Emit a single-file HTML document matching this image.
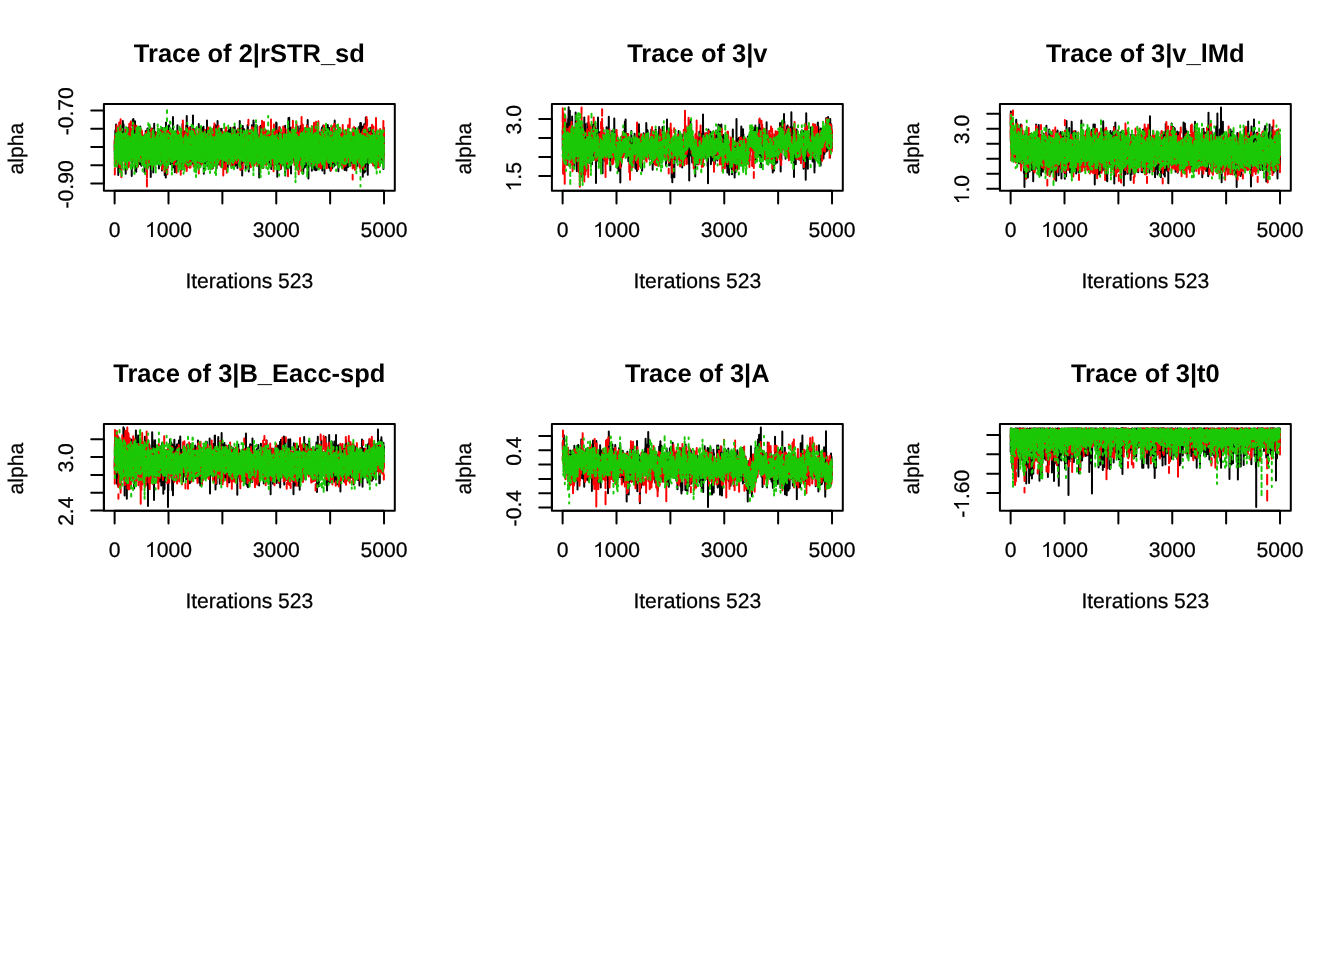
<!DOCTYPE html>
<html lang="en"><head><meta charset="utf-8"><title>Trace plots</title>
<style>
html,body{margin:0;padding:0;background:#fff;}
body{width:1344px;height:960px;overflow:hidden;font-family:"Liberation Sans",sans-serif;}
svg{display:block;font-family:"Liberation Sans",sans-serif;will-change:transform;}
text{fill:#000;font-size:21.12px;text-anchor:middle;text-rendering:geometricPrecision;stroke:#000;stroke-width:.25px;}
.m{font-size:25.5px;font-weight:bold;stroke:none;}
.h{fill:none;stroke:none;}
.ax{stroke:#000;stroke-width:2;fill:none;stroke-linecap:round;stroke-linejoin:round;}
.tr path{fill:none;stroke-width:2;stroke-linecap:round;stroke-linejoin:round;vector-effect:non-scaling-stroke;}
.k{stroke:#000000;}
.r{stroke:#FF0000;stroke-dasharray:8 8;}
.g{stroke:#1BC805;stroke-dasharray:2 6;}
</style></head>
<body>
<svg width="1344" height="960" viewBox="0 0 1344 960">
<rect width="1344" height="960" fill="#fff"/>
<g transform="translate(0,0)">
<text class="m" x="249.35" y="62.2">Trace of 2|rSTR_sd</text>
<g class="tr" transform="translate(114.67,0)">
<path class="k" transform="scale(0.081647,0.2)" d="M0,758l1-12 1-49 1 101 1-36 1-31 1 85 1-2 1-162 1 60 1 25 1-19 1-5 1 5 1 69 1-129 1 107 1-142 1 171 1-74 1 40 1 49 1-135 1-40 1 81 1 12 1 2 1-4 1 89 1-22 1 23 1-107 1 35 1-46 1-15 1 136 1-87 1-56 1 21 1 79 1-68 1 96 1-63 1-26 1 161 1-180 1 35 1 27 1 65 1-40 1-21 1-23 1-53 1 11 1 63 1-53 1 51 1-52 1-9 1 100 1-80 1-4 1 57 1 19 1-41 1-39 1 28 1 3 1 37 1 70 1-138 1 22 1-31 1 55 1-15 1 10 1-15 1 109 1-168 1 24 1 32 1-36 1 0 1-15 1 166 1-89 1-125 1 158 1-59 1-17 1-51 1 53 1 15 1-3 1 55 1-2 1 23 1-131 1 87 1-69 1-86 1 122 1-44 1 86 1-15 1-4 1-52 1 84 1-44 1-116 1 161 1-8 1-23 1 10 1-11 1-14 1 45 1-66 1-30 1 73 1-42 1 23 1 11 1 29 1 3 1-44 1-9 1 55 1 6 1-69 1-4 1 70 1-108 1 45 1 78 1 66 1-88 1-13 1-42 1 17 1 21 1-32 1-32 1 8 1 13 1 108 1-50 1 8 1 18 1-125 1 97 1-7 1-57 1 81 1-64 1 34 1 2 1-28 1 11 1 35 1-54 1-8 1 14 1 9 1-62 1 42 1 45 1-131 1 169 1-94 1-42 1 48 1 81 1-38 1-26 1-43 1 44 1 40 1-65 1 61 1-65 1-5 1 2 1 67 1-83 1 55 1-83 1 137 1-138 1 94 1-24 1-25 1-21 1 57 1-65 1 15 1 27 1-16 1 91 1-72 1 30 1-46 1-29 1 58 1 19 1-17 1 70 1-1 1-63 1 137 1-48 1-84 1-38 1 34 1 46 1-43 1 31 1-19 1 9 1 22 1-47 1-143 1 186 1-63 1-32 1 45 1-108 1 43 1 52 1-128 1 116 1-11 1 87 1-78 1 1 1-90 1 116 1-8 1 27 1 27 1-32 1-3 1-95 1 14 1 60 1-38 1-39 1 102 1-72 1-73 1 193 1-86 1 86 1 53 1-53 1-4 1-160 1 169 1-76 1 27 1 18 1-18 1-55 1 91 1 68 1-47 1 33 1-81 1 54 1-144 1 128 1-130 1 132 1-93 1 66 1-44 1 7 1-35 1 69 1 21 1-75 1 63 1-69 1 19 1 97 1-134 1 113 1-42 1-87 1 86 1-73 1 76 1 1 1-26 1 12 1-35 1 10 1-53 1 18 1 23 1 5 1 65 1-60 1 29 1 12 1-68 1 45 1 73 1-110 1 55 1 6 1-59 1 50 1-129 1 69 1 77 1-31 1 29 1-40 1-1 1 62 1-48 1 12 1-38 1 67 1-94 1 132 1-104 1 2 1 23 1 18 1-74 1 33 1 65 1-105 1 72 1-93 1 45 1 47 1 13 1 17 1-78 1 14 1 21 1-7 1-33 1 38 1-6 1-26 1-30 1 55 1-10 1 9 1 38 1 6 1-27 1 15 1-24 1-15 1-19 1 17 1 36 1-11 1-11 1 60 1-8 1 70 1-138 1-25 1-11 1 39 1 21 1 75 1-23 1-78 1-51 1 117 1-48 1 5 1 10 1-100 1 97 1 6 1-71 1 127 1-142 1 116 1 6 1-51 1-20 1 67 1-112 1 83 1-84 1 67 1 72 1-36 1-22 1 10 1-17 1-39 1-69 1 113 1 26 1-106 1 28 1 33 1 99 1-82 1-56 1 77 1-34 1-1 1 74 1-49 1-111 1 42 1-4 1 24 1 26 1 56 1-22 1 15 1-84 1 64 1-9 1 13 1-141 1 137 1-104 1 68 1-21 1-14 1-6 1 5 1 15 1 21 1-63 1 139 1-37 1-27 1 56 1 82 1-83 1-60 1-26 1 82 1-89 1-12 1 60 1 87 1-92 1-11 1 70 1-62 1-3 1 10 1 22 1-34 1-3 1-97 1 69 1 79 1-37 1-8 1-32 1-54 1 98 1-19 1-33 1 31 1-11 1 85 1 51 1-103 1-7 1-44 1 9 1 59 1-53 1-38 1 66 1-29 1-10 1-94 1 165 1-83 1 64 1-11 1 10 1-52 1 65 1 33 1-151 1 101 1-24 1-72 1 63 1 35 1-87 1 102 1-54 1 10 1 46 1 1 1 11 1 3 1-82 1 12 1-31 1 114 1-100 1 60 1-69 1-11 1 124 1-66 1-42 1-41 1 27 1 72 1-64 1 7 1 52 1-37 1 45 1-22 1-43 1 18 1 76 1-140 1 144 1-5 1-54 1 24 1-47 1 20 1 4 1-55 1 79 1-11 1 0 1 91 1-92 1 6 1-44 1 65 1-1 1 17 1-143 1 82 1-40 1-18 1-19 1 95 1-51 1-6 1 71 1 10 1-55 1 28 1-43 1 25 1 7 1 0 1-13 1 22 1-6 1-56 1 30 1-15 1-18 1 38 1 69 1-58 1 69 1-32 1 3 1-12 1 95 1-112 1-29 1-72 1 109 1 10 1-20 1 19 1-10 1-59 1-5 1 6 1 93 1-57 1-40 1 19 1 51 1-25 1 17 1 20 1-8 1 6 1-14 1 4 1 12 1-31 1 51 1-84 1 46 1 27 1-111 1 67 1 14 1-34 1 162 1-195 1 113 1-36 1 12 1 54 1-83 1-49 1 72 1-53 1 35 1 100 1-55 1 98 1-121 1-112 1-42 1 54 1 110 1-41 1 60 1-119 1 60 1 111 1-50 1 49 1-153 1 16 1-44 1 33 1 93 1-62 1-36 1 13 1-36 1 77 1 91 1-117 1 57 1-34 1-49 1 74 1-4 1 10 1 33 1-91 1-88 1 152 1-1 1-97 1-57 1 110 1-32 1 84 1-163 1 155 1-65 1-40 1 43 1-14 1 4 1-29 1 87 1-12 1 14 1-18 1 57 1 12 1-91 1 61 1-93 1 21 1 19 1-15 1 23 1 12 1-64 1 59 1 68 1 1 1-66 1-91 1 39 1 19 1-36 1 3 1 34 1 0 1 105 1-45 1-73 1 67 1-89 1 76 1 73 1-103 1-68 1 34 1 20 1 12 1 22 1-169 1 252 1-72 1 34 1-103 1 84 1-100 1-17 1 114 1-73 1 47 1-31 1-19 1 16 1 40 1-35 1 30 1-20 1-52 1-5 1 46 1 24 1 8 1 108 1-167 1 35 1 49 1 7 1-28 1-2 1-82 1-9 1 88 1 100 1-99 1 19 1 43 1-55 1-69 1-16 1 66 1 103 1-64 1 62 1-66 1-88 1 50 1-78 1 174 1-63 1-97 1 53 1 65 1-30 1-100 1-36 1 96 1 9 1-30 1 57 1 24 1 5 1 17 1-32 1 4 1-51 1-49 1 98 1-46 1 48 1-51 1 45 1-80 1 38 1-30 1-10 1 64 1 41 1 27 1-54 1 46 1-118 1 2 1 71 1 43 1-69 1 31 1-101 1 22 1 36 1 57 1-43 1-26 1 43 1 68 1-152 1 11 1 74 1-88 1 176 1-46 1 31 1-170 1-3 1 49 1 5 1 52 1-46 1 25 1 52 1-77 1 19 1 107 1-132 1-30 1 54 1-61 1-58 1 85 1-11 1-13 1 106 1-17 1-9 1 40 1-53 1 7 1-22 1-72 1 16 1 108 1-122 1 89 1-10 1-63 1 18 1 8 1 107 1 32 1-143 1 40 1-17 1-4 1 60 1 1 1 21 1-19 1-127 1 110 1-67 1-9 1 37 1 43 1 15 1-36 1-17 1 50 1-5 1 7 1-27 1 20 1 17 1-108 1-58 1 78 1 38 1 7 1-20 1 15 1-166 1 185 1 71 1-35 1-121 1 121 1-32 1-142 1 171 1-20 1-11 1 26 1-7 1-44 1-21 1-15 1 128 1-157 1-13 1 90 1-36 1 33 1 23 1-25 1-87 1 61 1 17 1 26 1-18 1-1 1-27 1-35 1 63 1-2 1 30 1-25 1 57 1-39 1-9 1-11 1-11 1 19 1 46 1-89 1-1 1-78 1 156 1 3 1-2 1-65 1 60 1 9 1 17 1-42 1-6 1-17 1-8 1-74 1 112 1-35 1-46 1 123 1-24 1-81 1 73 1-87 1 32 1-28 1 15 1-59 1 142 1-43 1 53 1-124 1 77 1-106 1-82 1 54 1 115 1 69 1-88 1-7 1 14 1 77 1-89 1 1 1-27 1 75 1-66 1-15 1-32 1 87 1-2 1-42 1 6 1 52 1-6 1-38 1-27 1-43 1 24 1 109 1-60 1 60 1-51 1-23 1-4 1 3 1 47 1 94 1-73 1-57 1 44 1 84 1-144 1 10 1 86 1 30 1-45 1-18 1-78 1 62 1 35 1-84 1 47 1-48 1 89 1-69 1-21 1 101 1-94 1 80 1-27 1-29 1 105 1-54 1-100 1 131 1-85 1 22 1-61 1 120 1-23 1-60 1 2 1-9 1 47 1-141 1 152 1-74 1 81 1-23 1-14 1 7 1 27 1-31 1-75 1 81 1-16 1 2 1-4 1-30 1 24 1-13 1 46 1-108 1 33 1-13 1 147 1 8 1-120 1 59 1-128 1 154 1-57 1 38 1-14 1-53 1 26 1 60 1-18 1-23 1 4 1-41 1 81 1-83 1 101 1-27 1-15 1-24 1 15 1-49 1 76 1-126 1 68 1 12 1-54 1-50 1 71 1 26 1 0 1 3 1-23 1 5 1 34 1-121 1 84 1-23 1 46 1 128 1-87 1-80 1 35 1 44 1-11 1-84 1 42 1 74 1-42 1 37 1 22 1-64 1-50 1 44 1 100 1-102 1 4 1 59 1-82 1 1 1 0 1 14 1 1 1 47 1-18 1-109 1 112 1 19 1-77 1 62 1-35 1 60 1-46 1-98 1 5 1 61 1 60 1-49 1-135 1 168 1-41 1 36 1 12 1 51 1-54 1-36 1 39 1-35 1-1 1-13 1-12 1 24 1 75 1-82 1 47 1-85 1 98 1-112 1 2 1 101 1-36 1 1 1-27 1-4 1 28 1-42 1 29 1-45 1 78 1 76 1-87 1 14 1 9 1-26 1-57 1 95 1-22 1-39 1-89 1 13 1 105 1 13 1-32 1 28 1-24 1 20 1-64 1 46 1 70 1-77 1-25 1 49 1-46 1-7 1 9 1 32 1 6 1-47 1 22 1-36 1 85 1-47 1 38 1-37 1 53 1-35 1-95 1 185 1-107 1 104 1-45 1-42 1 37 1-51 1 52 1-80 1-49 1-19 1 63 1 74 1-16 1-47 1 88 1-102 1-69 1 91 1 47 1 20 1-37 1-10 1 4 1 73 1-107 1 23 1 10 1-26 1 46 1-45 1 19 1-116 1 109 1 88 1-76 1-15 1 50 1-80 1 17 1 30 1-25 1 49 1-18 1 1 1-122 1 71 1-24 1 160 1-36 1-90 1-18 1 40 1 40 1-15 1-46 1 12 1-25 1 89 1-14 1-173 1 76 1-9 1 98 1-66 1-4 1 48 1-100 1 44 1 79 1-66 1 67 1-43 1 5 1 20 1-9 1 77 1-37 1-75 1-34 1 74 1-2 1 32 1-85 1 33 1 81 1-70 1-36 1 55 1-88 1 84 1-30 1-31 1 3 1 68 1 42 1-99 1-8 1 12 1-8 1 100 1-158 1 36 1 59 1 4 1 49 1-106 1 148 1-150 1 77 1 11 1-129 1 82 1 58 1 49 1-89 1-17 1-33 1 114 1-39 1 62 1-75 1 15 1-60 1-8 1 16 1-37 1 18 1 2 1 59 1-50 1-1 1 32 1-16 1-3 1 51 1 32 1-22 1 29 1-69 1 39 1-91 1 0 1 9 1 1 1-13 1-4 1-26 1 154 1-116 1 18 1-51 1 68 1 15 1-45 1 104 1-34 1 4 1-15 1-37 1-30 1 86 1-67 1-1 1-37 1 50 1-2 1 13 1-38 1 46 1 0 1-49 1 51 1 27 1-38 1 77 1-95 1-60 1 46 1 60 1-34 1 20 1 1 1 8 1-23 1 102 1-131 1-15 1-32 1 80 1 29 1-101 1 102 1 2 1 28 1 0 1-54 1 72 1-129 1-39 1 160 1 3 1-113 1-21 1 109 1-64 1-20 1 43 1-30 1 0 1 7 1 85 1-144 1 143 1-45 1-82 1 9 1-12 1-38 1 54 1 68 1-16 1-49 1 23 1 17 1-12 1-35 1 39 1-5 1 51 1-117 1 98 1 73 1-28 1-45 1-23 1 30 1-79 1 145 1-108 1 111 1-88 1-43 1 80 1-66 1-26 1 41 1-43 1 111 1 17 1-48 1-60 1-14 1 55 1 0 1-38 1 61 1-133 1 126 1-18 1-28 1 62 1-13 1-50 1-51 1 102 1 46 1-64 1 57 1-1 1 27 1-197 1 137 1-7 1-29 1-68 1 107 1-75 1 43 1-16 1-18 1 25 1 8 1-40 1 16 1 55 1 7 1-17 1-84 1 146 1-54 1-8 1-20 1-40 1 41 1-56 1 54 1-83 1 91 1 47 1-146 1 21 1 70 1-8 1 106 1-99 1 36 1 18 1-47 1 18 1-24 1-1 1 25 1-91 1 15 1-31 1 87 1 25 1-72 1 86 1-58 1-33 1 16 1 35 1 2 1-34 1 13 1-2 1 22 1 32 1-4 1-126 1-43 1 139 1-26 1-59 1 141 1-18 1-72 1 14 1-79 1 111 1 31 1-131 1 55 1 37 1-63 1 42 1 50 1-20 1 78 1-16 1-178 1 132 1 10 1-19 1-70 1 90 1-12 1-11 1-34 1 87 1 64 1-129 1 22 1 32 1-89 1 64 1-13 1-135 1 120 1 56 1-119 1 25 1 99 1-67 1 12 1 2 1-15 1-43 1 84 1-84 1-50 1 49 1 82 1-45 1-90 1 107 1-20 1-36 1 63 1 45 1-79 1 42 1 7 1-91 1 22 1 34 1-59 1 89 1-51 1 26 1 59 1-7 1 8 1 40 1-148 1 45 1-30 1 36 1-75 1 83 1-93 1 55 1 17 1-22 1 12 1-22 1 58 1 8 1-59 1-43 1 134 1-118 1 120 1-35 1 2 1-48 1-97 1 74 1 74 1-145 1 60 1 87 1-50 1 44 1-75 1 71 1-40 1 40 1-94 1 107 1 80 1-117 1-34 1 101 1 27 1-106 1-18 1 79 1-36 1 33 1-23 1 26 1-15 1-80 1 93 1-133 1 46 1 15 1 19 1-6 1 1 1 58 1-42 1 28 1 44 1-99 1 32 1 13 1-14 1-3 1 43 1 8 1 10 1-38 1-28 1 50 1-56 1-19 1 38 1-129 1 106 1-13 1 23 1-37 1 0 1 34 1 66 1-129 1 9 1 75 1-24 1 17 1 25 1-26 1-17 1 29 1-83 1 129 1-208 1 180 1-82 1-87 1 212 1-163 1 30 1 38 1 36 1 0 1-103 1 82 1 35 1-7 1-88 1-21 1 20 1-2 1 23 1 105 1-95 1-9 1 47 1-12 1-46 1 39 1 50 1-116 1 104 1 4 1 31 1-137 1 129 1-7 1-114 1 73 1-110 1 80 1 88 1-18 1-164 1 68 1 46 1-1 1 87 1-38 1-98 1 130 1-55 1-33 1 62 1 25 1-16 1-66 1-62 1 85 1 43 1-39 1 34 1 3 1-24 1-37 1-22 1 76 1-74 1-39 1 38 1 56 1-49 1 23 1 137 1-110 1 5 1-35 1-47 1-30 1 137 1-49 1-30 1 37 1-21 1 47 1-36 1 8 1-33 1-15 1 56 1-52 1 16 1-36 1 105 1-175 1 53 1 90 1-39 1-39 1-4 1 49 1 33 1-46 1 90 1-125 1-7 1 9 1 145 1-60 1-2 1 28 1-79 1 39 1 23 1-16 1-13 1 13 1-53 1-1 1-61 1 64 1-10 1-15 1 29 1 116 1-154 1 10 1 80 1-31 1 45 1-39 1 13 1-56 1 51 1-32 1 4 1 73 1-144 1 94 1 14 1 7 1-69 1 16 1 24 1 30 1 7 1-35 1 51 1-60 1 44 1-8 1-84 1 54 1-92 1 81 1 39 1-24 1-4 1 35 1-82 1 84 1-24 1-69 1-2 1 119 1-78 1-37 1 61 1-87 1 36 1 53 1-57 1 89 1-51 1 84 1-65 1-27 1 8 1-33 1-36 1 149 1-109 1-11 1 104 1-71 1 76 1-88 1 48 1 4 1-35 1 12 1-46 1 33 1 34 1-51 1 38 1 26 1 20 1-67 1 74 1 11 1-140 1 8 1-1 1-13 1 60 1 71 1-52 1 47 1-95 1 89 1 29 1 7 1-122 1-5 1 51 1-28 1 83 1-172 1 158 1-34 1 87 1-49 1-121 1 72 1 3 1 53 1-55 1 32 1-101 1 54 1 8 1 27 1-36 1 39 1-29 1 6 1 1 1 27 1-10 1 7 1-76 1 18 1 13 1-33 1-18 1 5 1 147 1-124 1-25 1 34 1 91 1-12 1-67 1-35 1-3 1 47 1 42 1-61 1 37 1 32 1-22 1-64 1 34 1 46 1-45 1 1 1 45 1-82 1 45 1-5 1 14 1-93 1 128 1-25 1-3 1-92 1 103 1 50 1-92 1 58 1-174 1 114 1-29 1 128 1-130 1-80 1 101 1 75 1-106 1 94 1-92 1 93 1-102 1 105 1 101 1-158 1 46 1-40 1-30 1-17 1 39 1 5 1 68 1-79 1 93 1-5 1-2 1-128 1 51 1 9 1 38 1-120 1 75 1 98 1-79 1-36 1-50 1 136 1-107 1 1 1 6 1 150 1-166 1-46 1 116 1-32 1-16 1 127 1 4 1-66 1-13 1 3 1-32 1 75 1-95 1 59 1 2 1-22 1 4 1 94 1-126 1-3 1 42 1 60 1-83 1-9 1 85 1-44 1-48 1 26 1 49 1 13 1-56 1-83 1 38 1-3 1 72 1 47 1-9 1-133 1 57 1 1 1-29 1 57 1 2 1-92 1 150 1-50 1-37 1 50 1-43 1-57 1 77 1-24 1-23 1-77 1 15 1 122 1-15 1 1 1-97 1 74 1-13 1-13 1 6 1 117 1-98 1-20 1-12 1 39 1-118 1 248 1-109 1-50 1 90 1-95 1 18 1 50 1-55 1 3 1-47 1 67 1-19 1-23 1 16 1 27 1 88 1-142 1 4 1 17 1 13 1 26 1-15 1-53 1 14 1 27 1-33 1 32 1-41 1 90 1-17 1 88 1-82 1 13 1-24 1-14 1 47 1-21 1-31 1-17 1 43 1-172 1 191 1 49 1-181 1 56 1 11 1 97 1 20 1-116 1-128 1 149 1-33 1 64 1-46 1 99 1 15 1-21 1-80 1 29 1-128 1 42 1 12 1 142 1-9 1-23 1 27 1-91 1 33 1-39 1-86 1 99 1 123 1-105 1-19 1 73 1-122 1 13 1 30 1-40 1-6 1 60 1-27 1 6 1 4 1 9 1-11 1-12 1 15 1 71 1-78 1 22 1-57 1 41 1 40 1 25 1-85 1 79 1-73 1 15 1 11 1-3 1-17 1 33 1 36 1-98 1-20 1 113 1-70 1 21 1-14 1 40 1-96 1 32 1-13 1 28 1 24 1 69 1-143 1 120 1-46 1-24 1 63 1-81 1 79 1-58 1 63 1 14 1-81 1-61 1 14 1 42 1 102 1-86 1-22 1 33 1 51 1 33 1-94 1 37 1-85 1 75 1-19 1-5 1-44 1-18 1 26 1-5 1-14 1 161 1-49 1-68 1 33 1 37 1 38 1-196 1 82 1-30 1 74 1 61 1-95 1 50 1-19 1 77 1-84 1 95 1-31 1-15 1-79 1-50 1 24 1 47 1-29 1 104 1-84 1 16 1 29 1-61 1 52 1-15 1 15 1-2 1-59 1-25 1-38 1 165 1-79 1 12 1-111 1 88 1-34 1 98 1-72 1 82 1-63 1-2 1-67 1 91 1 56 1 9 1-86 1 12 1-28 1 106 1-68 1-3 1-47 1 7 1-5 1 80 1-122 1 105 1 6 1 22 1-108 1 102 1-71 1 56 1-17 1-29 1-20 1 37 1 122 1-123 1 22 1-29 1-25 1 38 1-4 1 8 1-50 1 34 1 39 1-41 1-16 1 22 1-36 1-3 1 36 1 98 1-52 1-15 1 41 1-131 1 29 1 72 1-71 1-68 1 166 1-41 1-82 1 146 1-34 1-58 1 29 1-56 1-12 1 73 1-81 1 82 1-1 1-51 1-70 1 90 1-12 1 78 1-123 1 68 1-127 1 115 1 35 1 62 1-164 1 105 1 16 1-92 1-103 1 184 1-46 1 47 1-60 1 39 1 0 1-93 1 67 1 154 1-128 1-1 1 40 1-57 1 43 1-53 1-2 1-2 1-25 1 0 1 8 1 3 1 28 1 20 1-63 1-4 1 62 1 37 1-113 1 56 1-36 1 77 1-51 1-52 1 38 1 54 1-55 1 16 1 17 1 30 1-80 1 68 1 30 1-36 1 47 1 19 1-58 1-92 1 131 1-49 1 34 1 61 1-173 1 10 1 59 1 89 1-89 1 34 1-28 1-85 1 9 1 67 1 34 1-13 1-8 1-65 1 36 1-21 1 109 1-78 1 75 1-32 1-13 1-75 1-33 1 78 1 67 1-46 1-70 1 136 1 7 1 12 1-149 1 10 1 93 1-10 1-12 1 52 1-118 1 16 1-43 1 37 1-37 1 63 1-15 1-79 1 196 1-196 1 38 1 43 1 44 1-2 1-108 1 53 1-2 1 73 1-30 1-101 1 33 1 138 1 16 1-76 1-31 1-32 1 3 1 46 1 16 1-90 1 37 1 35 1 3 1 13 1-81 1 58 1 22 1-116 1 151 1-109 1 31 1 88 1-116 1 83 1 6 1-56 1 38 1-42 1-41 1 45 1-27 1-12 1-14 1 21 1 3 1 9 1-33 1-19 1 85 1 67 1-51 1-2 1-70 1 24 1-1 1 15 1-37 1 91 1-42 1 51 1-85 1 6 1-9 1-6 1 58 1-63 1 100 1-128 1 19 1 103 1-81 1 48 1-109 1 98 1 43 1-116 1 91 1-54 1-70 1 40 1 60 1 114 1-65 1-9 1 21 1-54 1 4 1 34 1 29 1-99 1 8 1 80 1-14 1-159 1 46 1 146 1-84 1-18 1-28 1 112 1-70 1 99 1-78 1-31 1 27 1 49 1-21 1-54 1 145 1-164 1 82 1-45 1-78 1 136 1-159 1 58 1 41 1-42 1 83 1 5 1-68 1-70 1 118 1 18 1 28 1-110 1 69 1 2 1-108 1 74 1-5 1-35 1 76 1 49 1-48 1-24 1 59 1-27 1-66 1 1 1 78 1 12 1-32 1-39 1-75 1 59 1-88 1 109 1-117 1 168 1 5 1-103 1 50 1 20 1-7 1 24 1-24 1 5 1 8 1 66 1-123 1 41 1-94 1 125 1-33 1-24 1-89 1 29 1 92 1 12 1-39 1 46 1-65 1 126 1-77 1-106 1 53 1-17 1 7 1 20 1 77 1 56 1-122 1 91 1-44 1-3 1-63 1 5 1 0 1 38 1 48 1-22 1 12 1 13 1-121 1-7 1 160 1-125 1 27 1-25 1-5 1 8 1-27 1 149 1-81 1 51 1-59 1 29 1 2 1-55 1-41 1-24 1 38 1-34 1 113 1-12 1-23 1 32 1-57 1 82 1-60 1 9 1 64 1-19 1-111 1 4 1 121 1 21 1-79 1-39 1 73 1-25 1 10 1-168 1 127 1 34 1 60 1-61 1-52 1 91 1-80 1 71 1 31 1-96 1-73 1 155 1 10 1-80 1-11 1 37 1-34 1 52 1 31 1-96 1-20 1 33 1 49 1-34 1-59 1 103 1-68 1 21 1 14 1-58 1 93 1 2 1-39 1 29 1 1 1-62 1 31 1-111 1 122 1-98 1 55 1 38 1 11 1-35 1 119 1-167 1 96 1 28 1-56 1-61 1 22 1 90 1-79 1 70 1-48 1-55 1 60 1-18 1-66 1-9 1 65 1 5 1 50 1-20 1 51 1-48 1-58 1-10 1 101 1 15 1-77 1-31 1 40 1 11 1 19 1-111 1 15 1 106 1-42 1 10 1-48 1 47 1-54 1 51 1 59 1-144 1 61 1 22 1 17 1-38 1-59 1 100 1-43 1 8 1-53 1 58 1-6 1 13 1 46 1-143 1 96 1-32 1 27 1-28 1 18 1 43 1-61 1 5 1 87 1-43 1-9 1-1 1-26 1 65 1-32 1-48 1-17 1 27 1 36 1 26 1 69 1-110 1-82 1 69 1-3 1-28 1 51 1 37 1-18 1-11 1-78 1 171 1-76 1-19 1-64 1 128 1-126 1 130 1-56 1-19 1 41 1-88 1 18 1 135 1-152 1-9 1 40 1 66 1-55 1-20 1 11 1 69 1-54 1 28 1-39 1 75 1-107 1 7 1 77 1-91 1-13 1 36 1 114 1-24 1-56 1-48 1 45 1-24 1 43 1-19 1 0 1 3 1-21 1-13 1 73 1 37 1-80 1-64 1 52 1-32 1-24 1 43 1 49 1 23 1 18 1-105 1 51 1-40 1-32 1 18 1 15 1 66 1 40 1-81 1-16 1 35 1-96 1 58 1-55 1 45 1 34 1-35 1-35 1 82 1 16 1-75 1 5 1 38 1-42 1-34 1 128 1-21 1 34 1-127 1 67 1-11 1-8 1 52 1-21 1 6 1-27 1 35 1-11 1 28 1-23 1 31 1-77 1-9 1-50 1 168 1-105 1 18 1-56 1 22 1-36 1 91 1-1 1-57 1-27 1 65 1 20 1-48 1 62 1-49 1-12 1-12 1 113 1-185 1 110 1 10 1-30 1-47 1 90 1-50 1 61 1-12 1-13 1 46 1 5 1-64 1 50 1 24 1-56 1 41 1-77 1 3 1-42 1 67 1-98 1 91 1-38 1 18 1-10 1 105 1-74 1-81 1 77 1-22 1 66 1 40 1-100 1 4 1 42 1-70 1 90 1-74 1-23 1-29 1 26 1 9 1 49 1-86 1 81 1-28 1 16 1 3 1 22 1-32 1 53 1-149 1 105 1 5 1-22 1 4 1 4 1-69 1 36 1-11 1 10 1 38 1 33 1-26 1-126 1 50 1 61 1 41 1-28 1-1 1-62 1 45 1-106 1 68 1 55 1 5 1-31 1 58 1 35 1-60 1-105 1 96 1-65 1 30 1-9 1 94 1 28 1-134 1 10 1 13 1 48 1 10 1-33 1-95 1 73 1 178 1-140 1-61 1 56 1-91 1 0 1 22 1-38 1 66 1 31 1 8 1-82 1 134 1-151 1 84 1-42 1 87 1-146 1 62 1 180 1-109 1 84 1-23 1-91 1 2 1 14 1 14 1-10 1 4 1-32 1 15 1-8 1 135 1-116 1 43 1-24 1-42 1-131 1 177 1-35 1 8 1-23 1-50 1 85 1-19 1 2 1-15 1 83 1-78 1-26 1 6 1 116 1-90 1-81 1 26 1 41 1-5 1-42 1 95 1 8 1-11 1 114 1-177 1 130 1-79 1-14 1-17 1-29 1 51 1-20 1 14 1-2 1-15 1 30 1 58 1 3 1-118 1 108 1-28 1-128 1 79 1 29 1 25 1-50 1-15 1 98 1-115 1 82 1-76 1 21 1 37 1-5 1-32 1 36 1 17 1 1 1-88 1-3 1 33 1 24 1-10 1 43 1-135 1 148 1-35 1-21 1-46 1 106 1-69 1-29 1 48 1-36 1-20 1-17 1 88 1 6 1 0 1 11 1-27 1-16 1 77 1-44 1 5 1-9 1 62 1-67 1 0 1-2 1 19 1-78 1 53 1-24 1 42 1 47 1-75 1 15 1 74 1-120 1 46 1-19 1-69 1 136 1-14 1-95 1-25 1 165 1-69 1 11 1-87 1 48 1 13 1-33 1 25 1-11 1 48 1-82 1 92 1-41 1-12 1 35 1 1 1 44 1-92 1-61 1 117 1-104 1 28 1 59 1-90 1 120 1-76 1 59 1-36 1 2 1-34 1 61 1-17 1 8 1-64 1 36 1 72 1-37 1 8 1 44 1-120 1 113 1-106 1 15 1-2 1-36 1 101 1-54 1 33 1-42 1 14 1 13 1-54 1 34 1 24 1-44 1 50 1-47 1 89 1-108 1 69 1 20 1-27 1 51 1 2 1 25 1-133 1-22 1 76 1 19 1-33 1-5 1 66 1-26 1 22 1-76 1 28 1 29 1-1 1-12 1 51 1-47 1 3 1 50 1-121 1 78 1-100 1 66 1 64 1-93 1 17 1 43 1-51 1 76 1-18 1-54 1-3 1-46 1 121 1-52 1 48 1-28 1-13 1 4 1 42 1-82 1 8 1 52 1-6 1 78 1-73 1-26 1-107 1 22 1 46 1 31 1 41"/>
<path class="r" transform="scale(0.081647,0.2)" d="M0,705l1 46 1 122 1-171 1-38 1 85 1 47 1-95 1 19 1 29 1-10 1 80 1-100 1 46 1-54 1 84 1-25 1 18 1 48 1-106 1 20 1 13 1-63 1-72 1 67 1 78 1-115 1 18 1 60 1 28 1-51 1 116 1-130 1-4 1 73 1-85 1 33 1-3 1-6 1-4 1 7 1 111 1-51 1 0 1-66 1 38 1-20 1 1 1-84 1 124 1-72 1 99 1-53 1-12 1 11 1-124 1 74 1 37 1 41 1 72 1-5 1-101 1 52 1-72 1 26 1 9 1-54 1 29 1 53 1 5 1-87 1 6 1-2 1-106 1 159 1-3 1 22 1-12 1-79 1 126 1-35 1-37 1 156 1-165 1 61 1-36 1-7 1-22 1 62 1 20 1 10 1-23 1-111 1 146 1-67 1-57 1 14 1 82 1-12 1 11 1-96 1-27 1 2 1 30 1 37 1 48 1-35 1 39 1-26 1-58 1 41 1-28 1-5 1-45 1 100 1-16 1-87 1 21 1 80 1-29 1 70 1-58 1-48 1-15 1 65 1 20 1-26 1 3 1-21 1-8 1 85 1-109 1 110 1-114 1 2 1 74 1 3 1-122 1 196 1-44 1-15 1-91 1-13 1 1 1 107 1 8 1-64 1-41 1 80 1-78 1-34 1 20 1-45 1 211 1-75 1-87 1 18 1 64 1-6 1 0 1 83 1-135 1 70 1-50 1-2 1 24 1-86 1 85 1 8 1-5 1 82 1-94 1-21 1 52 1 62 1-57 1-24 1-17 1 8 1-125 1 55 1 69 1-36 1-20 1 42 1-35 1-30 1 29 1 88 1-142 1 94 1-36 1-51 1 85 1 52 1 4 1-140 1 39 1-78 1 109 1-21 1 53 1 18 1-59 1 84 1-57 1-91 1 53 1 48 1 22 1-29 1-62 1 18 1 90 1-2 1 21 1-87 1 28 1 63 1-128 1 104 1-104 1 111 1-14 1-67 1-30 1 108 1 1 1-79 1-36 1 4 1 115 1-41 1-132 1 50 1 46 1 19 1-13 1 31 1 43 1-44 1-17 1 27 1-28 1-24 1 50 1-14 1 9 1 18 1 50 1-107 1-28 1 20 1 37 1 45 1-75 1-23 1 92 1-10 1 22 1-54 1-27 1-35 1 8 1-58 1 91 1 50 1-50 1 31 1-68 1 126 1-30 1-58 1 68 1-8 1 13 1-41 1-47 1-9 1 73 1 19 1-77 1 136 1-152 1 9 1 34 1-31 1-36 1 129 1-141 1 38 1 48 1 0 1 15 1 25 1 3 1-36 1-78 1 82 1-102 1 85 1 76 1-59 1-22 1-15 1-28 1-49 1 60 1 87 1-2 1-18 1 39 1-10 1-92 1 52 1-47 1-20 1 37 1 13 1-97 1 124 1 21 1-61 1-58 1 50 1 63 1-120 1-15 1 79 1 72 1-92 1 5 1-12 1 31 1-78 1 13 1 148 1 7 1-135 1 74 1 49 1-52 1 44 1-48 1 31 1 8 1 22 1-59 1 31 1-53 1 75 1-5 1-45 1-20 1-26 1-7 1 17 1 41 1-65 1 13 1 34 1 20 1-106 1 80 1 65 1-106 1 74 1-78 1 74 1-58 1 0 1 50 1-32 1 12 1 64 1-58 1-11 1 11 1 82 1-31 1-64 1 8 1-39 1-49 1 5 1 103 1-24 1-51 1 82 1 73 1-38 1-103 1 18 1-2 1-65 1 281 1-197 1-20 1 84 1-19 1-40 1-50 1 152 1-125 1 46 1-11 1-26 1 39 1-37 1 31 1-89 1 27 1 85 1-26 1-85 1 105 1-35 1-32 1-5 1 39 1 16 1 12 1-55 1 114 1-155 1 0 1 140 1-50 1-55 1 64 1 18 1-65 1 63 1-104 1 126 1-121 1 40 1-24 1 3 1 76 1-136 1 101 1-47 1 48 1-9 1-47 1 105 1-112 1 107 1-69 1-45 1 2 1 14 1-76 1 84 1 55 1-37 1 65 1-1 1-8 1-85 1-3 1 49 1-7 1 103 1-175 1 128 1 22 1-117 1 54 1-29 1 68 1-75 1 51 1 66 1-59 1-58 1 24 1-48 1-10 1 25 1-19 1 1 1-7 1 80 1-36 1-8 1-38 1 59 1 22 1 13 1-26 1 20 1-4 1 47 1-66 1-49 1 0 1 7 1 89 1-37 1-8 1-44 1 24 1 21 1-25 1 21 1-32 1 59 1-102 1 73 1-80 1 81 1 3 1-37 1-20 1 91 1-62 1 42 1-67 1 115 1-25 1-106 1-6 1 74 1-27 1-64 1 22 1 96 1 5 1-2 1-11 1-24 1-51 1 72 1-88 1 69 1-40 1 45 1-50 1 26 1 24 1-4 1 8 1 38 1-111 1 74 1-36 1-5 1-5 1 89 1-33 1 48 1-56 1-44 1 98 1-106 1 65 1-23 1-91 1 104 1-10 1 42 1-24 1-60 1 36 1 71 1-59 1-11 1-41 1 63 1 0 1-38 1-15 1-15 1-16 1 59 1-2 1-92 1 59 1 8 1-37 1 174 1-95 1-8 1-102 1 139 1-117 1 69 1 18 1-49 1 52 1 31 1-122 1 63 1 56 1-62 1 76 1-149 1 13 1 74 1 39 1 22 1-52 1-10 1 20 1 93 1-56 1-56 1 5 1 16 1-37 1-43 1 147 1 37 1-116 1-50 1-18 1 84 1-14 1-78 1 95 1-56 1-6 1 71 1-39 1-38 1 102 1-120 1-9 1 116 1-45 1 60 1-16 1-56 1 69 1-67 1 102 1-118 1-80 1 128 1-19 1-64 1 25 1 36 1 144 1-200 1 87 1-23 1-11 1-26 1 41 1-15 1 30 1-97 1 120 1-40 1-18 1-2 1 11 1-8 1-79 1 77 1 24 1-60 1 92 1-91 1 9 1 7 1 11 1-38 1 110 1 19 1-43 1-57 1 49 1 13 1-29 1-59 1 120 1-35 1-41 1-77 1 81 1 40 1-64 1 73 1 14 1-103 1-38 1 107 1-91 1 60 1-32 1 50 1-51 1-31 1 88 1 31 1-66 1-13 1 71 1-140 1 163 1-87 1-15 1 40 1 5 1 50 1-62 1-44 1 43 1 35 1-56 1-2 1 99 1-135 1 63 1-9 1 38 1-73 1 45 1-9 1 0 1-42 1 96 1 40 1-139 1 30 1-43 1 55 1-46 1 54 1 32 1-36 1-9 1-8 1-6 1 103 1-10 1-72 1 80 1-111 1 23 1 58 1-58 1 73 1-63 1-63 1 36 1 49 1-7 1-51 1 41 1 20 1-29 1 14 1 45 1-32 1 131 1-138 1-55 1 60 1-20 1-40 1 89 1-22 1-42 1 27 1 22 1-23 1 21 1-25 1-82 1 43 1 51 1 31 1-115 1 63 1-6 1-10 1 34 1 42 1-118 1 67 1 15 1 40 1-55 1-86 1 114 1-24 1-3 1-25 1-9 1 33 1 87 1-30 1 11 1-116 1 110 1-15 1-35 1 12 1 60 1-39 1-12 1-92 1 17 1-34 1 213 1-90 1-39 1 29 1-42 1 48 1-32 1 3 1 51 1-66 1-19 1 1 1 13 1 74 1-17 1-115 1 74 1 24 1 5 1-15 1 36 1-123 1 60 1 52 1-36 1 19 1-167 1 170 1 6 1-49 1 57 1-41 1-7 1 19 1 13 1 10 1-27 1 5 1-33 1 50 1 10 1 17 1-30 1-70 1 43 1 117 1-141 1-28 1 72 1-17 1-1 1-1 1-1 1-21 1-63 1 79 1 0 1 11 1-45 1 0 1 36 1-37 1 1 1-67 1 123 1-8 1 75 1-130 1-29 1 129 1-25 1 24 1-31 1-11 1 99 1-16 1-141 1-31 1 60 1 21 1 7 1 36 1-98 1 29 1 18 1-80 1 105 1-1 1 5 1 10 1-51 1 5 1 36 1-37 1 71 1-64 1 28 1-69 1-10 1-53 1 53 1 65 1 78 1-137 1 30 1 34 1 19 1-42 1-116 1 134 1 96 1-121 1-51 1 85 1 23 1-93 1 2 1 30 1-1 1 50 1 64 1-122 1 70 1-29 1-3 1 17 1-93 1 90 1 26 1-9 1-34 1-53 1 42 1-53 1 14 1 46 1 5 1 15 1 32 1-95 1 15 1 32 1-18 1 22 1-82 1 123 1-19 1-35 1-60 1-34 1 25 1 85 1-56 1 46 1-32 1 103 1-137 1 152 1-27 1 9 1-53 1-4 1-62 1 53 1 41 1-137 1 58 1-7 1 65 1 22 1 41 1-128 1 1 1 43 1 92 1-98 1 45 1-92 1 27 1 36 1-91 1 56 1-27 1-46 1 55 1 6 1 74 1-50 1-24 1 27 1-45 1 124 1-52 1-14 1 88 1-33 1-52 1-35 1 55 1-49 1-2 1-21 1 8 1 76 1-68 1-15 1 88 1-53 1-55 1 73 1-59 1 28 1-20 1 20 1-32 1 23 1 57 1-40 1-30 1 4 1-59 1 220 1-178 1 74 1-10 1 7 1-56 1 4 1 25 1-26 1 33 1-26 1-2 1 61 1-4 1-50 1-77 1 52 1 12 1 57 1 6 1-110 1 114 1-36 1 15 1 48 1-73 1-21 1 86 1-29 1-76 1 37 1-5 1 48 1 54 1-84 1-79 1 28 1 30 1 103 1-47 1-109 1 114 1 40 1-38 1-81 1-27 1 51 1 42 1 3 1-14 1-16 1-62 1 69 1-32 1-11 1 18 1 19 1-62 1 23 1-17 1-23 1 34 1 62 1-56 1 72 1-1 1 26 1-44 1-7 1-9 1-12 1 49 1-90 1-27 1 131 1-67 1-72 1 106 1-20 1-9 1 66 1-41 1-43 1 3 1 36 1-15 1 65 1-62 1 47 1-115 1 81 1-41 1 44 1 15 1-15 1-37 1 47 1-51 1 47 1-64 1-22 1-6 1 16 1 71 1-20 1 24 1 0 1 31 1-13 1-77 1 27 1 24 1 40 1-33 1-120 1 168 1-75 1 44 1 21 1-112 1 40 1-54 1 84 1 49 1-79 1-19 1 58 1-32 1 4 1 15 1 47 1-39 1-10 1-36 1 13 1-3 1 0 1-33 1 44 1 30 1-52 1 61 1-6 1 3 1 50 1-79 1 2 1 29 1-29 1-97 1 124 1 2 1-80 1 64 1 19 1 0 1-91 1 45 1-17 1 26 1-32 1-16 1-28 1 183 1-77 1-31 1-4 1-12 1 17 1-36 1 64 1-3 1-21 1 21 1-112 1 96 1 32 1-82 1 50 1 17 1 6 1-36 1 3 1 73 1-57 1 6 1-27 1 9 1 90 1-42 1-41 1-129 1 114 1 52 1-117 1-30 1 105 1-37 1 77 1-62 1 43 1 13 1-66 1 23 1 40 1-50 1-44 1-1 1 138 1-132 1 129 1-15 1 14 1 5 1 24 1-112 1 80 1-11 1-103 1 38 1 31 1-17 1 10 1-44 1 85 1-113 1 31 1-16 1 99 1-68 1-14 1-97 1 133 1 64 1-98 1 42 1 4 1-14 1 31 1-91 1-26 1-33 1 140 1-41 1 43 1-87 1 41 1 11 1-83 1 124 1-69 1-31 1 133 1-154 1-23 1 137 1-10 1-73 1 26 1 89 1-104 1 43 1-15 1 102 1-14 1 26 1-184 1 107 1-10 1 15 1-65 1 35 1 12 1-11 1-17 1-30 1 18 1 55 1 2 1-35 1-10 1-51 1 40 1 6 1 3 1 68 1-70 1 75 1-132 1 31 1-12 1 63 1 20 1-51 1 56 1-109 1 142 1-89 1 73 1 54 1 39 1-94 1 42 1-112 1 53 1 1 1-2 1-27 1 39 1-49 1-23 1 62 1-18 1 11 1-92 1 26 1 61 1-5 1-5 1-15 1-60 1 166 1 8 1-127 1 53 1-56 1-39 1-36 1 94 1-5 1 49 1-112 1 184 1-40 1-71 1-21 1-81 1 138 1-1 1 25 1-51 1-32 1 78 1 70 1-211 1 78 1-5 1 12 1 11 1-83 1 74 1-8 1-28 1 22 1 90 1-105 1 37 1 46 1-25 1-95 1 65 1 54 1-42 1-60 1 48 1-65 1 88 1-13 1-36 1-17 1 84 1 19 1 28 1-167 1 96 1 76 1-54 1-34 1-71 1 48 1 17 1 19 1-57 1 50 1-64 1 45 1-54 1 51 1-17 1 55 1-48 1 21 1-2 1 21 1 79 1-66 1-64 1 100 1-46 1-52 1-37 1 70 1-47 1 154 1-94 1 16 1-73 1 49 1-26 1-14 1 30 1 57 1-113 1 50 1-110 1 59 1-23 1 90 1-33 1 11 1 38 1 8 1-23 1-58 1-35 1 167 1-148 1-27 1 24 1-6 1 8 1 36 1 110 1 7 1-31 1-27 1 9 1-45 1 11 1 63 1-74 1-47 1 102 1-8 1-67 1-46 1 138 1-42 1-31 1 55 1-17 1 11 1 12 1-72 1 10 1 37 1-93 1 116 1 24 1-100 1 29 1-1 1-92 1 131 1-107 1 143 1-18 1-61 1-43 1 76 1-64 1 39 1-44 1-11 1 26 1 38 1 5 1-57 1 52 1 36 1-25 1-4 1-136 1 33 1 32 1 39 1-31 1 76 1-43 1 23 1-17 1 64 1-90 1 37 1-70 1 13 1 103 1-35 1 13 1-83 1 76 1 7 1-61 1 64 1-82 1-18 1 47 1-48 1 138 1 38 1-77 1 33 1 11 1-68 1 23 1-86 1 49 1-33 1 19 1 17 1-94 1 84 1 10 1 4 1-10 1 77 1-67 1 12 1 7 1-64 1 23 1 40 1-57 1 12 1 40 1-17 1 20 1 26 1-82 1 142 1-49 1-19 1-42 1-26 1-20 1-24 1 45 1 10 1-45 1 49 1 12 1 60 1 30 1-58 1-3 1-11 1 8 1-87 1 50 1 77 1-57 1-25 1 38 1 52 1-20 1-26 1-91 1 45 1 36 1 35 1 10 1-5 1 5 1-63 1-25 1 59 1-112 1 120 1-82 1 63 1 4 1 14 1-118 1 110 1-9 1-24 1-12 1 29 1-84 1 63 1 9 1-35 1 28 1-6 1-14 1-23 1 67 1 75 1-90 1 16 1-87 1 45 1 10 1 43 1-62 1 48 1 12 1 22 1-191 1 127 1 71 1-124 1-36 1 167 1-128 1 59 1-38 1 52 1 69 1-102 1 34 1 26 1-91 1 71 1-36 1-74 1 103 1 63 1-68 1 30 1-131 1 161 1-49 1-36 1 79 1-51 1-69 1 158 1-106 1 57 1-36 1-31 1 22 1-62 1 17 1 14 1-7 1 37 1-70 1 15 1 73 1-55 1-75 1 119 1-19 1-21 1 109 1-10 1-73 1-7 1 6 1-15 1 32 1-16 1-96 1 132 1-54 1 74 1-88 1 58 1 31 1 0 1-38 1-22 1-15 1-37 1 80 1-65 1 134 1-12 1-29 1-1 1-7 1-53 1 22 1-24 1 84 1-92 1 85 1-56 1 1 1-5 1 27 1-5 1 37 1-67 1 79 1-90 1 25 1 52 1-56 1-39 1 80 1-53 1 80 1-7 1-74 1-9 1 106 1-100 1 58 1-93 1 122 1-19 1-64 1 31 1-16 1 41 1-16 1 1 1-34 1-37 1-8 1 9 1 32 1 0 1 9 1 79 1-94 1 71 1-88 1-40 1 60 1-5 1 7 1 42 1-91 1 24 1 21 1 22 1-16 1 25 1 11 1-28 1-114 1 77 1-6 1 65 1-66 1 86 1-19 1-41 1 81 1-112 1 61 1 77 1-41 1-87 1 54 1-21 1 6 1 46 1-68 1-39 1 113 1-63 1 41 1-92 1 69 1-19 1 64 1-66 1-8 1 24 1 26 1-167 1 123 1 10 1 43 1-33 1-64 1 94 1 74 1-100 1-118 1 49 1 114 1-71 1 44 1-82 1 80 1 0 1-68 1-2 1 50 1 1 1 12 1 61 1-33 1-181 1 189 1-129 1 21 1 7 1 69 1-24 1 60 1-33 1-26 1 16 1-22 1 78 1-114 1 74 1 48 1-172 1 53 1 70 1-57 1-11 1 13 1-37 1 93 1 8 1-64 1 111 1-108 1 80 1-109 1 84 1-43 1 19 1-72 1 44 1 28 1 2 1-87 1 69 1 38 1 1 1-118 1 53 1 57 1-58 1 8 1-45 1 101 1 21 1 7 1-130 1 80 1 55 1-91 1-6 1 79 1-101 1 17 1-34 1 133 1-42 1 47 1-29 1-98 1 41 1 39 1 35 1-71 1 39 1-55 1 62 1-27 1 31 1 38 1-68 1-85 1 111 1-40 1 66 1-69 1-54 1 51 1 1 1-10 1-10 1 68 1-177 1 109 1 79 1-67 1-58 1 102 1-39 1 0 1 4 1 98 1-62 1-38 1 5 1-15 1 8 1-7 1 74 1-67 1 45 1 3 1-111 1 131 1-56 1 89 1-75 1-2 1-32 1 21 1 10 1 9 1-61 1 174 1-157 1 13 1 58 1-159 1 118 1 31 1-62 1-29 1 88 1-12 1-34 1-19 1 21 1-90 1 120 1-36 1 34 1 9 1 13 1-60 1 80 1 2 1-101 1 34 1 40 1-103 1 62 1-25 1 22 1 38 1-110 1 79 1-45 1-13 1 97 1 15 1 2 1 13 1-91 1 48 1-106 1 73 1-10 1 46 1-67 1 10 1 79 1-57 1 17 1-22 1-17 1-8 1 125 1-47 1-104 1 89 1-6 1-14 1 43 1-24 1-62 1 80 1-4 1-48 1-16 1 59 1-80 1 91 1-26 1-116 1 172 1-29 1-6 1 15 1-136 1 101 1-30 1-23 1 103 1-54 1 26 1-49 1 66 1 50 1-9 1-61 1 22 1-145 1 149 1-18 1-60 1 8 1-22 1 11 1-7 1-4 1-9 1 72 1-100 1 96 1 45 1-32 1-37 1-12 1 63 1-69 1 65 1-18 1 40 1-113 1 28 1 30 1-2 1 26 1-5 1 39 1-155 1-27 1 46 1 90 1-89 1 26 1 101 1-59 1 34 1-6 1 41 1-104 1 70 1-95 1 33 1 57 1-133 1 107 1 47 1-37 1 75 1-133 1 104 1-89 1-16 1-14 1 91 1-24 1 36 1-71 1-18 1 7 1 65 1-12 1-78 1 122 1-107 1 39 1 0 1 24 1-56 1-31 1 91 1 23 1 43 1-86 1 4 1 4 1 13 1 56 1-127 1-48 1 82 1 15 1 64 1-138 1 15 1 45 1 18 1 33 1 100 1-173 1 53 1-8 1-27 1-38 1 43 1-20 1-2 1 82 1-72 1 62 1-76 1 9 1-34 1 119 1-33 1-91 1 101 1-28 1 40 1-19 1 17 1-70 1-57 1 57 1 45 1-38 1-29 1 60 1-42 1 54 1-7 1-23 1 45 1 21 1-46 1-76 1 18 1 70 1-18 1-56 1 60 1-27 1 39 1-55 1 13 1-73 1 81 1-36 1 33 1-94 1 40 1 131 1-81 1 64 1-1 1-12 1 12 1-74 1-110 1 141 1 44 1-73 1-11 1 58 1-32 1-14 1-43 1 24 1 47 1 23 1-60 1 31 1-28 1 56 1-10 1 35 1-99 1 132 1-93 1 78 1-100 1 27 1-64 1 143 1-112 1 33 1 7 1-43 1-77 1 147 1-46 1-24 1 107 1-102 1 106 1-33 1-39 1-29 1 62 1-36 1 4 1-145 1 220 1-86 1 9 1-8 1-96 1 114 1 51 1-66 1-45 1 165 1-111 1 29 1-22 1-4 1 35 1-56 1 70 1-40 1-43 1 116 1-90 1-73 1 63 1-8 1 54 1-22 1 66 1 58 1-92 1-37 1-11 1-27 1 57 1-56 1 79 1-77 1 22 1-55 1 103 1-14 1 2 1-50 1-36 1 7 1-8 1-32 1 91 1 0 1-30 1 23 1-49 1 69 1-34 1 104 1-11 1-135 1 23 1 15 1 11 1 128 1-103 1 38 1-213 1 105 1-2 1 9 1 81 1 46 1-47 1-30 1-52 1 106 1-1 1-112 1 75 1-37 1 59 1-154 1 80 1 138 1 2 1-100 1-64 1 102 1 49 1-28 1-42 1-10 1 15 1 56 1-111 1 62 1 9 1-30 1 6 1-39 1-58 1 51 1-70 1 31 1 84 1-75 1 60 1-1 1 41 1-95 1 30 1-23 1 36 1-23 1-38 1 82 1-60 1 46 1 8 1-22 1-13 1 22 1 15 1 46 1-118 1-32 1 154 1-112 1 70 1-70 1 71 1 41 1-45 1-125 1 187 1-66 1-10 1 5 1 55 1-121 1-23 1 70 1 32 1 26 1-38 1 8 1-82 1 125 1-50 1 55 1-90 1-32 1-11 1 50 1 38 1-93 1 128 1-158 1 64 1 78 1-55 1-17 1 68 1 22 1-57 1-93 1 54 1 9 1 78 1-67 1 40 1-18 1 48 1 8 1-18 1-15 1-30 1-8 1-24 1 51 1 48 1-65 1-5 1-25 1-7 1-43 1 97 1-24 1-64 1 40 1-25 1-46 1 152 1-40 1-36 1 130 1-119 1 50 1-5 1 1 1-92 1 29 1 32 1 90 1-52 1-54 1 19 1 46 1-37 1-27 1-2 1 9 1 47 1-83 1 27 1 63 1-25 1-46 1-101 1 182 1-96 1 72 1-94 1 23 1 99 1-117 1 78 1-27 1 30 1-12 1 61 1-84 1 54 1 2 1 30 1-94 1 13 1-29 1 141 1-51 1-87 1 16 1 103 1-120 1-94 1 179 1-57 1 13 1 5 1-22 1-10 1-28 1 70 1-24 1-60 1 74 1 48 1-103 1 44 1 14 1-61 1 78 1-45 1 91 1 0 1-39 1-69 1 36 1 50 1-99 1 96 1-118 1-63 1 148 1-40 1 47 1 2 1 76 1-101 1-54 1 20 1 8 1 36 1 21 1-5 1-32 1 25 1-65 1 59 1 55 1-57 1-48 1 80 1-52 1 54 1-14 1-47 1-14 1-52 1 137 1 50 1-97 1 30 1-42 1-31 1 121 1-68 1-17 1 99 1-30 1-120 1 69 1 48 1-20 1-117 1 64 1 53 1-80 1-63 1 127 1-68 1 110 1-74 1 36 1-4 1-84 1 58 1 49 1-44 1-37 1 26 1 63 1 33 1-158 1 41 1 74 1-94 1 75 1-15 1-30 1-98 1 127 1 21 1 39 1-111 1 35 1 86 1-87 1 82 1-40 1-45 1-13 1-18 1-40 1 96 1-17 1-2 1 30 1-36 1 64 1-56 1 51 1-49 1-27 1 66 1-7 1-24 1 43 1-14 1 14 1-15 1-82 1 57 1-28 1 53 1 60 1-90 1-28 1 39 1 12 1-11 1-34 1-21 1-6 1 19 1-33 1 59 1 5 1 14 1-65 1 16 1-6 1 67 1-63 1-31 1 28 1 47 1-63 1 67 1 8 1-14 1-53 1 98 1-40 1-16 1-40 1-18 1 86 1 27 1-60 1-13 1-82 1 44 1 93 1-106 1 85 1-73 1 75 1-37 1-53 1 71 1-17 1 22 1-9 1-2 1 18 1 83 1 22 1-9 1-148 1 46 1-33 1-91 1 81 1-7 1-59 1 144 1 4 1-51 1 39 1-98 1 125 1-44 1 44 1-71 1 87 1-121 1 50 1 73 1-69 1 56 1-39 1-19 1-121 1 106 1 23 1-40 1-15 1-60 1 133 1-8 1-40 1 46 1-20 1-10 1-37 1-9 1-81 1 87 1 22 1 50 1-55 1 56 1-49 1-52 1 35 1 62 1 14 1-1 1-70 1 45 1-62 1 32 1 58 1-59 1-85 1 95 1-15 1 49 1-33 1-6 1 68 1-5 1-32 1-69 1 92 1-47 1-11 1 13 1-19 1 20 1 14 1-23 1 55 1-72 1 37 1-51 1-27 1 0 1 44 1 82 1-74 1-35 1 70 1-9 1 38 1-29 1 13 1-55 1-27 1 9 1-26 1 115 1-127 1 67 1 46 1 48 1-99 1-24 1-66 1 52 1 77 1-96 1 91 1-97 1-37 1 73 1 66 1-32 1 11 1 10 1 45 1-135 1 154 1-150 1 73 1 58 1-53 1 61 1-45 1 0 1-82 1 24 1 104 1-119 1 26 1 122 1-135 1 2 1 1 1 55 1-3 1-7 1-65 1 27 1 37 1-86 1 54 1 23 1 97 1-227 1 144 1 60 1 13 1-153 1 141 1-85 1 0 1 47 1-42 1 0 1-34 1 130 1-14 1-127 1-44 1 52 1 78 1-85 1-4 1 13 1 55 1-78 1-15 1 23 1-36 1 93 1-19 1 27 1-95 1 133 1-42 1 21 1-38 1 5 1-68 1 158 1-63 1 43 1 11 1-185 1 128 1 29 1-123 1 56 1-26 1 43 1 57 1-20 1-18 1-53 1 49 1-9 1 33 1-121 1 14 1 118 1-55 1-74 1 72 1-35 1 32 1 51 1-50 1 61 1-20 1-162 1 54 1 70 1 35 1-17 1-31 1 1 1 48 1-45 1 94 1-18 1-22 1 52 1-86 1-29 1-50 1 3 1 109 1-131 1 121 1-193 1 196 1-71 1 25 1 15 1 29 1-61 1 8 1-33 1 47 1-78 1 86 1-33 1-5 1 33 1-41 1 40 1 56 1-12 1-83 1 38 1 4 1-10 1-40 1 1 1 113 1-123 1 94 1-78 1 54 1 30 1-36 1 34 1-50 1 22 1-106 1 256 1-175 1-56 1 102 1-62 1 89 1-34 1-43 1 106 1-49 1-77 1 62 1 19 1-29 1-78 1 55 1 42 1-135 1 52 1 94 1-17 1-65 1-25 1 60 1 17 1 44 1-52 1-68 1 85 1 97 1-186 1 28 1 42 1 95 1-105 1-73 1 28 1 91 1-13 1-67 1 78 1 16 1-16 1 29 1-76 1-29 1 48 1-50 1-6 1 44 1 23 1-85 1 100 1-62 1 72 1-20 1-28 1-10 1-6 1 92 1-132 1 29 1 87 1-87 1 39 1-20 1-16 1 119 1-141 1 108 1-34 1 18 1-22 1-4 1-37 1 46 1-75 1-38 1 93 1 43 1-77 1 23 1 22 1-46 1-8 1-2 1 81 1 60 1-45 1 39 1-96 1 32 1-72 1 100 1-92 1 78 1-2 1-43 1-12 1-57 1 4 1 87 1 79 1-43 1-25 1-74 1-37 1 75 1 5 1 19 1-14 1-37 1 36 1-48 1 53 1-89 1 102 1-53 1 19 1-29 1 144 1-157 1 41 1-62 1 156 1-28 1-50 1-95 1 197 1-121 1-20 1 47 1-55 1 60 1-3 1 99 1-40 1-70 1-5 1 49 1-152 1 32 1 12 1 51 1-3 1 5 1-12 1 33 1-90 1-36 1 152 1-15 1-33 1 9 1 34 1-79 1-11 1 112 1-14 1-67 1 67 1 35 1-38 1-44 1-46 1 70 1-38 1 29 1-43 1 33 1-155 1 183 1-49 1-19 1 77 1-2 1-4 1-172 1 147 1-30 1 69 1-10 1-22 1 20 1-77 1 69 1-74 1 64 1-10 1-48 1 2 1 55 1 54 1-109 1 50 1-82 1 110 1-86 1-19 1 74 1-34 1-31 1 84 1-43 1-38 1-23 1 80 1-3 1 26 1 31 1-26 1-31 1 7 1 12 1-74 1 17 1 27 1-7 1-76 1 172 1-30 1-31 1-82 1 29 1 9 1-53 1 105 1-48 1 71 1-96 1 76 1-13 1 21 1-51 1-22 1 1 1-36 1-42 1 77 1 29 1 1 1 16 1 75 1-18 1-28 1-50 1 39 1 32 1-35 1-22 1 7 1 9 1 71 1-102 1 49 1-141 1 93 1 28 1 9 1-13 1 16 1-28 1-13 1 30 1-12 1 36 1-69 1-50 1 79 1 17 1 16 1-7 1-50 1-47 1 42 1 6 1 26 1 1 1-74 1 21 1-7 1 32 1 0 1-39 1 74 1 5 1-167 1 151 1-18 1-60 1-20 1 132 1-82 1 128 1-100 1 19 1 14 1-55 1 22 1-35 1 27 1 40 1-64 1 33 1 23 1-62 1 32 1 126 1-120 1-41 1-4 1-16 1 96 1-43 1 6 1 54 1-65 1-25 1 67 1-7 1 18 1 87 1-101 1 23 1 2 1-19 1-42 1 6 1-14 1 51 1-21 1-27 1-42 1 88 1-11 1-2 1-38 1-54 1 42 1 137 1-98 1 59 1-65 1 35 1-18 1 1 1-53 1 18 1 83 1-18 1-45 1-5 1 2 1-72 1 36 1 20 1 6 1 52 1-21 1 26 1-67 1-13 1 61 1 34 1-86 1 10 1 20 1-60 1 1 1 69 1-81 1 4 1 118 1-36 1 68 1-74 1-130 1 110 1-15 1-17 1 54 1 41 1 15 1-62 1-86"/>
<path class="g" transform="scale(0.053881,0.2)" d="M0,725l1 8 1 106 1-88 1 44 1-31 1-3 1 39 1-66 1 3 1 6 1 69 1-109 1 53 1-60 1-13 1 41 1 50 1 19 1-45 1-54 1 49 1 10 1-83 1 109 1 0 1-58 1-4 1-15 1 2 1 53 1-13 1 2 1-78 1 50 1 39 1-57 1 29 1 28 1-33 1 107 1-22 1-59 1 53 1-6 1-47 1 0 1-87 1 162 1-66 1 55 1-79 1-4 1 99 1-127 1 14 1 38 1-56 1-7 1 40 1-91 1 9 1-20 1-1 1 16 1 68 1-3 1-16 1 43 1 6 1-31 1-8 1 93 1-38 1-107 1 121 1-14 1-5 1 21 1 32 1-17 1-81 1 85 1-39 1 0 1-52 1 38 1-8 1 52 1-5 1-36 1-55 1 10 1 42 1 8 1 125 1-109 1-5 1-47 1-24 1 10 1-9 1 56 1-77 1 72 1 47 1-58 1-102 1 146 1-50 1-5 1 35 1 61 1-2 1-139 1 112 1-11 1-7 1 45 1-74 1-75 1 84 1-9 1 44 1 1 1-88 1-5 1 24 1 73 1 7 1 17 1 77 1-84 1-46 1-61 1 30 1-37 1 82 1 34 1-70 1-36 1-14 1-42 1 96 1-35 1-36 1 48 1 12 1 24 1-18 1-39 1 23 1-6 1 17 1-25 1 45 1-50 1 30 1 14 1-39 1 26 1 9 1 17 1 21 1-40 1 45 1-117 1 112 1 13 1-30 1-87 1 144 1-93 1 11 1 19 1-54 1 62 1 90 1-148 1 92 1-52 1 1 1-46 1-52 1 117 1-98 1 91 1-53 1-2 1 80 1-33 1 12 1-13 1 47 1-66 1 12 1 0 1-54 1-15 1 10 1 106 1-7 1-107 1 134 1-52 1-19 1-14 1-2 1 37 1 4 1 73 1-55 1-147 1 164 1 21 1-60 1 3 1-5 1-8 1 49 1-86 1 43 1-84 1 16 1 10 1 68 1 28 1-81 1-64 1 45 1 43 1 38 1 74 1-66 1 6 1-134 1 79 1-67 1 91 1-19 1-55 1 91 1-143 1 95 1-7 1 36 1-65 1 67 1 49 1-42 1 18 1 28 1-75 1 9 1 52 1-90 1 55 1-53 1 20 1 60 1-13 1 7 1-105 1 124 1-34 1-96 1 53 1 6 1-14 1 48 1-22 1-43 1 59 1 7 1-9 1 33 1-19 1 45 1-84 1-6 1-42 1 39 1-6 1 0 1 72 1-53 1-20 1 15 1-39 1 28 1 7 1 72 1-32 1 25 1 42 1-87 1 12 1 0 1-28 1 5 1 18 1-39 1 30 1-2 1 41 1 75 1-126 1-14 1-12 1 40 1-11 1 4 1-67 1 169 1-59 1-69 1-20 1-30 1 45 1-7 1 93 1-38 1-29 1-77 1-5 1 51 1 59 1-42 1-4 1 19 1 57 1-115 1 113 1-43 1-7 1-30 1 51 1-62 1-84 1 14 1 117 1-3 1 13 1 31 1-112 1 61 1 106 1-164 1-2 1 54 1-19 1 78 1-56 1 57 1-1 1-39 1-35 1 71 1 27 1-80 1-17 1 21 1 29 1-18 1 12 1-23 1-27 1 8 1 160 1-102 1-101 1 29 1 117 1-114 1-17 1 140 1-74 1-71 1 38 1-35 1 50 1-21 1 24 1 42 1-51 1-37 1 80 1-2 1-31 1 41 1-46 1 6 1-45 1-15 1 21 1 85 1-83 1-31 1 49 1 23 1 26 1-56 1 51 1-27 1 49 1 21 1-171 1 126 1-110 1 145 1-14 1-49 1 103 1-55 1 55 1-133 1 31 1-36 1 48 1 35 1-24 1 0 1-76 1 77 1-36 1 8 1 101 1-36 1 2 1-165 1 134 1-133 1 96 1-60 1 69 1-82 1 73 1 3 1 53 1 23 1-48 1-62 1 82 1-90 1 67 1 5 1-50 1 9 1 26 1-55 1 59 1-26 1-27 1 19 1-79 1 29 1 87 1 34 1-34 1-37 1-53 1 104 1-86 1 36 1-43 1 5 1-4 1 41 1 28 1 21 1 8 1 29 1-76 1 83 1-71 1 3 1 17 1-128 1 36 1-27 1 80 1 1 1 22 1-3 1 4 1-26 1 4 1-8 1 21 1 17 1 29 1-39 1-31 1 65 1-34 1 8 1 24 1 9 1-113 1 65 1 41 1-47 1 5 1-23 1 11 1-22 1 13 1-23 1 62 1 7 1 31 1 46 1-90 1 66 1-58 1 31 1 10 1-31 1 2 1 41 1 49 1-118 1-33 1 29 1 40 1-24 1 2 1 17 1-21 1 57 1-65 1 12 1 2 1-70 1 6 1 54 1 25 1-36 1 103 1-146 1 10 1 8 1 54 1 16 1-82 1 64 1-67 1 38 1 27 1 69 1-86 1-36 1-22 1 58 1-21 1 6 1 14 1 82 1-138 1 50 1-48 1 92 1-18 1-99 1 43 1 82 1-63 1 149 1-146 1 66 1-90 1 50 1 5 1 11 1-66 1 8 1-27 1 3 1 42 1 44 1-25 1 4 1-13 1-17 1 20 1-41 1 26 1-54 1 58 1-3 1 15 1 61 1-10 1-41 1-78 1 50 1 35 1-17 1 32 1 16 1-31 1 21 1-25 1 37 1-46 1-82 1 15 1 38 1 120 1-105 1 128 1-109 1 7 1-29 1-66 1 63 1 78 1-61 1 4 1 22 1-91 1 72 1-69 1 25 1-89 1 66 1 67 1 49 1-15 1-34 1 41 1-52 1 25 1-44 1 50 1-31 1-75 1 164 1-96 1-53 1 99 1-83 1 85 1-3 1-47 1-53 1 24 1-8 1 17 1-97 1 99 1 96 1-101 1 27 1-1 1 92 1-47 1-76 1 24 1 40 1-42 1 16 1 49 1-98 1 114 1-26 1 46 1-68 1 63 1-84 1-31 1 73 1-24 1 5 1 22 1-8 1-9 1-9 1-18 1 8 1 6 1 47 1-65 1-37 1 18 1-3 1 14 1 55 1-67 1 46 1-9 1 63 1-47 1-35 1 118 1-48 1 54 1-129 1 18 1 30 1-30 1-12 1-69 1 45 1-50 1 57 1 28 1-2 1 53 1 39 1-114 1-7 1 44 1-59 1 41 1-5 1 26 1-61 1 33 1-94 1 94 1 59 1-25 1-31 1 61 1-84 1 57 1-103 1 79 1-5 1 10 1-26 1 83 1-42 1-43 1-13 1 116 1-97 1 58 1-49 1 105 1-106 1-1 1 67 1-45 1 63 1-54 1 32 1-12 1-75 1-17 1 54 1 12 1-1 1 55 1-1 1-42 1-63 1 43 1-54 1 29 1 73 1 72 1-38 1-18 1-38 1 17 1-34 1 22 1-91 1 54 1-27 1 8 1 49 1-92 1 90 1-45 1 7 1 93 1-133 1 61 1-34 1 86 1-89 1 51 1-28 1-47 1 14 1-32 1 0 1 31 1 14 1 41 1-95 1 28 1 22 1 53 1-45 1 24 1-130 1 84 1 28 1-17 1 13 1 100 1-27 1 16 1-161 1 125 1-112 1-15 1 26 1 33 1-6 1-12 1 30 1 66 1 10 1-166 1 38 1 50 1-36 1 94 1-27 1-97 1 15 1 98 1-47 1 20 1-23 1 94 1-66 1-7 1 95 1-90 1 4 1 20 1 43 1-76 1 37 1 5 1-61 1 10 1-39 1 46 1-86 1 26 1 31 1 6 1 13 1 53 1 10 1-16 1-16 1-95 1 106 1-40 1-91 1 70 1 123 1-93 1-25 1 87 1-45 1-58 1 7 1 10 1-8 1-5 1 66 1-39 1 49 1-21 1-79 1 110 1-63 1 55 1 40 1-83 1 3 1-39 1 77 1 10 1-14 1-57 1 109 1-124 1 57 1 39 1-101 1 86 1-4 1 17 1-40 1-51 1 71 1-37 1 59 1-8 1-120 1 99 1-125 1 46 1 28 1-3 1-14 1 71 1 5 1 38 1-53 1-30 1 14 1 60 1-30 1-13 1-17 1 64 1-36 1-65 1 31 1-33 1-37 1 103 1-15 1 99 1-106 1-12 1-107 1 148 1-34 1-25 1 56 1-14 1 25 1 1 1 56 1-21 1-55 1 37 1-57 1 40 1-15 1 8 1-139 1 124 1-35 1-10 1 11 1 11 1-23 1 32 1-18 1 43 1-80 1 81 1 36 1-68 1 24 1 10 1-44 1-32 1 87 1-7 1-41 1 6 1-4 1-53 1 180 1-112 1-26 1-47 1-145 1 116 1 59 1 64 1-80 1 14 1 11 1 39 1 38 1-27 1 35 1-68 1 36 1 26 1-45 1-35 1-54 1 127 1 13 1 24 1-72 1-60 1 36 1-23 1-1 1 44 1-39 1 63 1-24 1 20 1 11 1-95 1 23 1 40 1 0 1-30 1 8 1 25 1-52 1 9 1-40 1 59 1 23 1-49 1 110 1-23 1-24 1-39 1 28 1-60 1 27 1 21 1 28 1-4 1 7 1-170 1 182 1-72 1-35 1 11 1 5 1 6 1 97 1-52 1-58 1-82 1 132 1-27 1 82 1-72 1-8 1-21 1 62 1-51 1-23 1 9 1 76 1-25 1-7 1-5 1 64 1-11 1-4 1-103 1 98 1-44 1-66 1 66 1 8 1-6 1 15 1 128 1-201 1 84 1-14 1-47 1-60 1 126 1-61 1 5 1 48 1-8 1-32 1 43 1 41 1-122 1 96 1-48 1 29 1 21 1 35 1-41 1-82 1-23 1 78 1 43 1-65 1-32 1-48 1 71 1 93 1-3 1-65 1-3 1-6 1-98 1 79 1 75 1-88 1 49 1-3 1 58 1-89 1 65 1-95 1-5 1 110 1 10 1-98 1 94 1-16 1-5 1-30 1-37 1 21 1 40 1-15 1-13 1-37 1 66 1-57 1 53 1-92 1 113 1-85 1-44 1 110 1-46 1 23 1 29 1-12 1 18 1-6 1-42 1 70 1-48 1 72 1-148 1 25 1-29 1 53 1-9 1-33 1 77 1-95 1 55 1-28 1 85 1-35 1-5 1-4 1 38 1-21 1 45 1-57 1 19 1-72 1 102 1 15 1-8 1-119 1 50 1-44 1 84 1-29 1 76 1-85 1 9 1 82 1-70 1 48 1-98 1 56 1-60 1 84 1-68 1 57 1-25 1 4 1 6 1-73 1 67 1 118 1-76 1 1 1-48 1 20 1 49 1-45 1-37 1-20 1 116 1-72 1-37 1 47 1 11 1-77 1 28 1 5 1-30 1 52 1 49 1-175 1 26 1 101 1 31 1 27 1-17 1-77 1-10 1 50 1-51 1-23 1 35 1 54 1-8 1 52 1 40 1-121 1 81 1-108 1-36 1 85 1-19 1-76 1 108 1 50 1-25 1-68 1-8 1-77 1 7 1 86 1 41 1-32 1-32 1 105 1-24 1-143 1 87 1 13 1-55 1 114 1-29 1-41 1 38 1-51 1 56 1-63 1 45 1-11 1 49 1-65 1-29 1 37 1 57 1 54 1-87 1-23 1 37 1-98 1 36 1 19 1 62 1-106 1 39 1 19 1-44 1 88 1-68 1 33 1-49 1 112 1-96 1 26 1-44 1 50 1-30 1 139 1-74 1-53 1-4 1 69 1-6 1-60 1-33 1 46 1-42 1 73 1-33 1 38 1-29 1 26 1-77 1 67 1 92 1-39 1-20 1-37 1-99 1 19 1 54 1-67 1 55 1 8 1 50 1-14 1-51 1-7 1 42 1-26 1 69 1-79 1 37 1-46 1-20 1 100 1-9 1-55 1-15 1-58 1 90 1 12 1 8 1 15 1-77 1 0 1-81 1 110 1-29 1 98 1-107 1 12 1 56 1-38 1 90 1-132 1 95 1 23 1-103 1-3 1-20 1 63 1 37 1-44 1-15 1-77 1-30 1 113 1-17 1 1 1 39 1 12 1-3 1-35 1 39 1-23 1-56 1 63 1-1 1-3 1-56 1 63 1 83 1-83 1 13 1-59 1 52 1 24 1-46 1 3 1 9 1 21 1-11 1-49 1 6 1 4 1-12 1-14 1 52 1 51 1-115 1 107 1-51 1 4 1 40 1-17 1-53 1-10 1 8 1 62 1-63 1-59 1 58 1 56 1 6 1 59 1-16 1-106 1 36 1 58 1-43 1-15 1 1 1-60 1 115 1-13 1-38 1-7 1 19 1 20 1 26 1-14 1-69 1 74 1 30 1-30 1-68 1-48 1-12 1 44 1 67 1-103 1 43 1 22 1 41 1-32 1 21 1-145 1 138 1-87 1 39 1-75 1 21 1 114 1-12 1-65 1-30 1 38 1 30 1-41 1 114 1-107 1 0 1 26 1-26 1-52 1 139 1-3 1-34 1-3 1-37 1 0 1-82 1 72 1 12 1 11 1 18 1 16 1-70 1 17 1 48 1-1 1-25 1 13 1 20 1 32 1-55 1 22 1-35 1 22 1-73 1 14 1 62 1 68 1-101 1 32 1 24 1 91 1-79 1-66 1-29 1 91 1-44 1-29 1 27 1-28 1 5 1 32 1-33 1 13 1 45 1-19 1 1 1-47 1 51 1 65 1-64 1 45 1-31 1-55 1 36 1 4 1 8 1 14 1-144 1 131 1 35 1 9 1 82 1-157 1-41 1 9 1 53 1-75 1 128 1-109 1 27 1-14 1 121 1-14 1-44 1-48 1-90 1 80 1 76 1-17 1-12 1-29 1 29 1 5 1-8 1-53 1-37 1 128 1-43 1-61 1 10 1 28 1 40 1-83 1 24 1 43 1-71 1 24 1-20 1 112 1-66 1-31 1 32 1 60 1-53 1 37 1 75 1-124 1-17 1 33 1 19 1-10 1-19 1 10 1-39 1-62 1 38 1 52 1-5 1 73 1-61 1-49 1 65 1 25 1-127 1 96 1-39 1-66 1 89 1-63 1 114 1-100 1 7 1-6 1 66 1-82 1 70 1-11 1 41 1-18 1 18 1-99 1 140 1 24 1-66 1-74 1-4 1 93 1-62 1-51 1 53 1-31 1 42 1 10 1 18 1-121 1-19 1 154 1 33 1-80 1 59 1-47 1 52 1-37 1 42 1-15 1-56 1 64 1 8 1 12 1-47 1-50 1-49 1 38 1 68 1 28 1 3 1-42 1 4 1-47 1 23 1-1 1-41 1 56 1-81 1 24 1 15 1-59 1 45 1-35 1 108 1-63 1 35 1-11 1 11 1-22 1 87 1-78 1 77 1-55 1 19 1-69 1 46 1 18 1 69 1-15 1 37 1-29 1-98 1 48 1-70 1 43 1 18 1-7 1 33 1-16 1-65 1 32 1-68 1 61 1-3 1 21 1-101 1 129 1-41 1-42 1-31 1 43 1-12 1-8 1 80 1-30 1-13 1 70 1-18 1-54 1 13 1-40 1 9 1 142 1-154 1 15 1 82 1-19 1-69 1-24 1 60 1 20 1-73 1 41 1-2 1-20 1-33 1 100 1-60 1-20 1 105 1-51 1-57 1-2 1 18 1 25 1-47 1 97 1-118 1 40 1 112 1-103 1 13 1-23 1 61 1 17 1-102 1 24 1 54 1-83 1 72 1-82 1 108 1-37 1-9 1 65 1-33 1-80 1 88 1 18 1-27 1-110 1 115 1-12 1 14 1 65 1-111 1 122 1-78 1 7 1 32 1-10 1-108 1 155 1-36 1-79 1-3 1 7 1-6 1-6 1-65 1 15 1-21 1 14 1 110 1-39 1 23 1-52 1 35 1-41 1 25 1 19 1-20 1-5 1 69 1 77 1-136 1 7 1-10 1-33 1-59 1 100 1 31 1 31 1-38 1-16 1 13 1-64 1 80 1-50 1-24 1 162 1-43 1-130 1 123 1-60 1-66 1 1 1-41 1 26 1 72 1-30 1-15 1 103 1-120 1-32 1 107 1 23 1-72 1 75 1-108 1 92 1-32 1 100 1-100 1-31 1 128 1-28 1 6 1-109 1 114 1-87 1-67 1 126 1-14 1 82 1-103 1 47 1-56 1-15 1 106 1-48 1-70 1 87 1 19 1-79 1 65 1-79 1 36 1-43 1 29 1 28 1-3 1 4 1-4 1 13 1-94 1 88 1 5 1-40 1-6 1-38 1 89 1 0 1-54 1-11 1 69 1-110 1 42 1 77 1-81 1 57 1-83 1-2 1 66 1-1 1 22 1-44 1 57 1 71 1-94 1 16 1-41 1 0 1-35 1 8 1 0 1-20 1-5 1 49 1-12 1 47 1-64 1 7 1 92 1-116 1 78 1 105 1-156 1-84 1 30 1 11 1 28 1 102 1-79 1-37 1 67 1-36 1 73 1-50 1 45 1-57 1-20 1-17 1-14 1-46 1 89 1 30 1-112 1 103 1-56 1 41 1 52 1-8 1-87 1 139 1-82 1 83 1-42 1-45 1-42 1 71 1-101 1 49 1 16 1-13 1 41 1 19 1-39 1 32 1-19 1 27 1-32 1-37 1 98 1-103 1-14 1 35 1-62 1 63 1 18 1-77 1 35 1 73 1-155 1 91 1 23 1-34 1-41 1 57 1-13 1-48 1 59 1-64 1 48 1 42 1-8 1 19 1-70 1 66 1-36 1 61 1-14 1 3 1 33 1-37 1-9 1-14 1 42 1-58 1-14 1-10 1 34 1-80 1 33 1 17 1 11 1 43 1 10 1-31 1-49 1 38 1 24 1-10 1 8 1 47 1-51 1-28 1 34 1-40 1 3 1 66 1-67 1-28 1 105 1-65 1-37 1 55 1 23 1-36 1 56 1-104 1 160 1-96 1 29 1 54 1-71 1-45 1-39 1-2 1 58 1 70 1-77 1-6 1 53 1-64 1 64 1-31 1-54 1 13 1-5 1 16 1 72 1-44 1 5 1 68 1-88 1-28 1 42 1-56 1 79 1-51 1-3 1 64 1-20 1-32 1 95 1-55 1-16 1-132 1 74 1-9 1 33 1 28 1-33 1-33 1 69 1-65 1 119 1-20 1-10 1-20 1-24 1 33 1 2 1-102 1 32 1 42 1 66 1-44 1-33 1-20 1 113 1-19 1 18 1-39 1-54 1 59 1-9 1-91 1 125 1-66 1-51 1 47 1 76 1-47 1-30 1-39 1-13 1 93 1-58 1 88 1-41 1-78 1 67 1-39 1 34 1 50 1-125 1 37 1-47 1 26 1 38 1 1 1-29 1-7 1 76 1-7 1 57 1-64 1-87 1 99 1-36 1 147 1-108 1 54 1-84 1 23 1-8 1-33 1-11 1 52 1-96 1 80 1-124 1 89 1 19 1 31 1 37 1-76 1-37 1 99 1-90 1 32 1 16 1-62 1 112 1-50 1-68 1 103 1-33 1-57 1 68 1-3 1-80 1 101 1-30 1 47 1-72 1 78 1-44 1-24 1 70 1-37 1 39 1-107 1 65 1 28 1-80 1 12 1 123 1-106 1 14 1-86 1 103 1 43 1-22 1-24 1 4 1 48 1-83 1 23 1-6 1 42 1-9 1-94 1 11 1 38 1 17 1 36 1 57 1-107 1-23 1 32 1-13 1-33 1 11 1 43 1 51 1-117 1 38 1 24 1 50 1-63 1 24 1-60 1-7 1 34 1-9 1-83 1 142 1-78 1 33 1 51 1-26 1-82 1 142 1-118 1-3 1 46 1-11 1 27 1 3 1 57 1-105 1 1 1 29 1 100 1-109 1-12 1-41 1-12 1 18 1 2 1 100 1-13 1-70 1 15 1-5 1 0 1-21 1 92 1 74 1-101 1-57 1 17 1 45 1-2 1-84 1 7 1 21 1-23 1-64 1 112 1-61 1-12 1 54 1 25 1-35 1 45 1 36 1-4 1-2 1-40 1 43 1-22 1-66 1 48 1 52 1 8 1-67 1 16 1-31 1 18 1 49 1-32 1 23 1-56 1-9 1-8 1 62 1-18 1 38 1-7 1-73 1-36 1 70 1-15 1 46 1-20 1 63 1-42 1-60 1 7 1 31 1-47 1-16 1 77 1-20 1-10 1 5 1 12 1-21 1 18 1 19 1 1 1 4 1-23 1-38 1 56 1-33 1 36 1-39 1-67 1 46 1 38 1 4 1 38 1-108 1 80 1-28 1 53 1-62 1-75 1 148 1-72 1-37 1 59 1-29 1-12 1 27 1 22 1 71 1-55 1-39 1-16 1 59 1-40 1 61 1-17 1 1 1-13 1 0 1-71 1 95 1-44 1-47 1 17 1 16 1 45 1 36 1-36 1-81 1 23 1 120 1-77 1-29 1-76 1 70 1 9 1-33 1 136 1-65 1 6 1 0 1 30 1-83 1-105 1 126 1-8 1-19 1-55 1 34 1 88 1-70 1-68 1 93 1-30 1 70 1-97 1 69 1-65 1 65 1 34 1-8 1-53 1-9 1-18 1 76 1-93 1 10 1 24 1 4 1 21 1 44 1 24 1-58 1 38 1 22 1-97 1-43 1 74 1-74 1 109 1-2 1 40 1-14 1-44 1-81 1 132 1-13 1-26 1 24 1-48 1-28 1-29 1 65 1 40 1-118 1 53 1 7 1-86 1 150 1-107 1 59 1-112 1 171 1-27 1-9 1-16 1-24 1 67 1-52 1-25 1 37 1 40 1-48 1 2 1 46 1-28 1-90 1 64 1-4 1 34 1 23 1-54 1 7 1-9 1-18 1 65 1-41 1-4 1 43 1-78 1 139 1-129 1-65 1 6 1 53 1-3 1 43 1-86 1 16 1 49 1-72 1 52 1 58 1-30 1-30 1 116 1-42 1-39 1 17 1-100 1 59 1 30 1-122 1 143 1-27 1-19 1 22 1-19 1 3 1 14 1-32 1-45 1 47 1 35 1-37 1 40 1-10 1-60 1-49 1 121 1 26 1-11 1 5 1-21 1-25 1-21 1-32 1 41 1 53 1 1 1 13 1 56 1-102 1 84 1-41 1-77 1 11 1 17 1-32 1-31 1 123 1-12 1-66 1 37 1-57 1 23 1 16 1-26 1-18 1 81 1-35 1-64 1 72 1-6 1 6 1-42 1 46 1 43 1-50 1-94 1 81 1-18 1-14 1 44 1 69 1-75 1-18 1 14 1 9 1-5 1-26 1 17 1 36 1-92 1 20 1 39 1 31 1-44 1-5 1 71 1 18 1-17 1 0 1-17 1-35 1-12 1 51 1 6 1 37 1-36 1-13 1-72 1-46 1 34 1-35 1 75 1 87 1-112 1-7 1 54 1 11 1-14 1 2 1 32 1-121 1 74 1 10 1 87 1-123 1 5 1-9 1 84 1-21 1-86 1 41 1 85 1-144 1 83 1 66 1-32 1-12 1-37 1 18 1 24 1 0 1-53 1 67 1 96 1-106 1 26 1-72 1 4 1 28 1-9 1-38 1-10 1 39 1 4 1 71 1-39 1-125 1 15 1 10 1 85 1 35 1-19 1-40 1 46 1-12 1 55 1-43 1-42 1-44 1 3 1 98 1-169 1 27 1 69 1 32 1-30 1 49 1-44 1 54 1-31 1-38 1 90 1-115 1 67 1 41 1-42 1-26 1 77 1-60 1 34 1-117 1-70 1 113 1-30 1 14 1-10 1 19 1 9 1-65 1 94 1-24 1-8 1-23 1 70 1-88 1 63 1-18 1 21 1 29 1-61 1 20 1-52 1 67 1-59 1 104 1 48 1-123 1 69 1-56 1-29 1 17 1-34 1 39 1-27 1 65 1-43 1 106 1 2 1-14 1-103 1 14 1 48 1-13 1 39 1-45 1-41 1 42 1-18 1 16 1 64 1-72 1 13 1 49 1-78 1 108 1-83 1-18 1 63 1-39 1 22 1-87 1 117 1 5 1-55 1 39 1-44 1-13 1-34 1-13 1 56 1-51 1 71 1-75 1 49 1-38 1 65 1-41 1 9 1 53 1-68 1 90 1-10 1-16 1-78 1-28 1 83 1 133 1-153 1-39 1 56 1-94 1 26 1 110 1-7 1-40 1-15 1 98 1-78 1 19 1-3 1-27 1 16 1-50 1-68 1 32 1 61 1 18 1 30 1-21 1 75 1-6 1-68 1 3 1-45 1 63 1-73 1 41 1 26 1-12 1 79 1-104 1 10 1-39 1-41 1 69 1 50 1-98 1 45 1 8 1-64 1 60 1-12 1 21 1 101 1-18 1-95 1 15 1 73 1-149 1 81 1-50 1 74 1-61 1 15 1 39 1-25 1-41 1 30 1 35 1-49 1 57 1-35 1 53 1-28 1-84 1 51 1 7 1 36 1-127 1-11 1 85 1 1 1-5 1 50 1-6 1-61 1 12 1 10 1 37 1 53 1 8 1-70 1-66 1 56 1-27 1 13 1-22 1-19 1 28 1 31 1-20 1-23 1 29 1-10 1 5 1 23 1-70 1 32 1 28 1-26 1 76 1-35 1 80 1-64 1-34 1 43 1-41 1 4 1 30 1-16 1-42 1 73 1-70 1 36 1 7 1-100 1 76 1-56 1 90 1 43 1-118 1 46 1 27 1 26 1-38 1-32 1 5 1 97 1-86 1 32 1 6 1 38 1 25 1-165 1 10 1 34 1-18 1-128 1 115 1 79 1 22 1-85 1 65 1-49 1 35 1 40 1 2 1 2 1-65 1 129 1-179 1 83 1 6 1-63 1 62 1-96 1 7 1 14 1 1 1-48 1 46 1 8 1-4 1 31 1-37 1-7 1 44 1 45 1-71 1 64 1 14 1-68 1 59 1-8 1-68 1 86 1-56 1 39 1-11 1-72 1 83 1-49 1 14 1 51 1 43 1-89 1 42 1 37 1-143 1 1 1 47 1-13 1 78 1-24 1-75 1 2 1-19 1 59 1-20 1 20 1 61 1 7 1-58 1-45 1 29 1-40 1-26 1 22 1 100 1-70 1 46 1 32 1-36 1 27 1-28 1-26 1-35 1-54 1 73 1-15 1 17 1 40 1-59 1 24 1 8 1 48 1-24 1-24 1 7 1 61 1-18 1-52 1-21 1-32 1 127 1-125 1 102 1-5 1 11 1-43 1 50 1-47 1-42 1-6 1 34 1 32 1-118 1 4 1 92 1 66 1-21 1-116 1 20 1 140 1-37 1-59 1 95 1-31 1 62 1-141 1 56 1-41 1 34 1-21 1 21 1-11 1 61 1-17 1-91 1 41 1-26 1 5 1-5 1-3 1-12 1-12 1 92 1-20 1-96 1 46 1 91 1-95 1-25 1-2 1 114 1-74 1-59 1 9 1 91 1 8 1 22 1-21 1-50 1-35 1 20 1-44 1 48 1 52 1 2 1-58 1 135 1-114 1 12 1-36 1 69 1-92 1 50 1 92 1-136 1 104 1-101 1 89 1-25 1 4 1 19 1 2 1-57 1 43 1-21 1-24 1-23 1 17 1 53 1-26 1 55 1-111 1 51 1-14 1 44 1-9 1 21 1-13 1-62 1 149 1-73 1-65 1 12 1 65 1 8 1 16 1 57 1-96 1-97 1-12 1 54 1 23 1 30 1-15 1-29 1-5 1-28 1 6 1-44 1 116 1-41 1-58 1 60 1 6 1-12 1-17 1 15 1 0 1 26 1 39 1-32 1-9 1 40 1-36 1-9 1-11 1-68 1 58 1-18 1 112 1-183 1 61 1 88 1-4 1-107 1 24 1 46 1-47 1 16 1 14 1 1 1-12 1-14 1 16 1 80 1-70 1 1 1 22 1-42 1 72 1-59 1 25 1 4 1-42 1-21 1 111 1-97 1 15 1 44 1 65 1-73 1-2 1 43 1-106 1 35 1-34 1 34 1 41 1-31 1-22 1-16 1 59 1 45 1-107 1 62 1 21 1-102 1 44 1 2 1-9 1 35 1 25 1 18 1-109 1 69 1-10 1-84 1 57 1-43 1 34 1-5 1 48 1-18 1 84 1-134 1 63 1 16 1-37 1-25 1 92 1-20 1-15 1 117 1-116 1 5 1 9 1 15 1 65 1-114 1-17 1 37 1-31 1-46 1 145 1-96 1-10 1-52 1 111 1-24 1 25 1-25 1-3 1-63 1 20 1 32 1-16 1 41 1 20 1-18 1-22 1 34 1-16 1 34 1-89 1 11 1 21 1 0 1 7 1 22 1 26 1-91 1 13 1 93 1-123 1 48 1 5 1-22 1 44 1-80 1 4 1 54 1-70 1 50 1 37 1 78 1-111 1-35 1-29 1 2 1 74 1 9 1-146 1 9 1 40 1 78 1 39 1 3 1 60 1-107 1 50 1-51 1 7 1 32 1-21 1 0 1 100 1-65 1-91 1-13 1-11 1 109 1-25 1 6 1 9 1-94 1 119 1 34 1-5 1-76 1 53 1 9 1 4 1 24 1-4 1-160 1 85 1 8 1-46 1 9 1-35 1 0 1 92 1-93 1 20 1 26 1 8 1 1 1-60 1 121 1-46 1 6 1 11 1-103 1 35 1 34 1 38 1-9 1-51 1 109 1-28 1-89 1-32 1 25 1 45 1-45 1 59 1-77 1 75 1-15 1 64 1-90 1 22 1-88 1 61 1 32 1 47 1 29 1-142 1 85 1 43 1 12 1-71 1-62 1-23 1 31 1 69 1-82 1-1 1 39 1-28 1 39 1 14 1-57 1-53 1 90 1-24 1 62 1-33 1 29 1-41 1-73 1 51 1 61 1-40 1-45 1 38 1 65 1-23 1-11 1 48 1-113 1 88 1 8 1-35 1 7 1-61 1-17 1 91 1-20 1-6 1 64 1-70 1 37 1-34 1 9 1 52 1-17 1-23 1 51 1-21 1-4 1-64 1-63 1 61 1 106 1-77 1 46 1 32 1-55 1-43 1 200 1-205 1 51 1-38 1 101 1-96 1-17 1 63 1-16 1-83 1 49 1-7 1-113 1 104 1-39 1 15 1 14 1 30 1 19 1 41 1-11 1 10 1-1 1-116 1 101 1-39 1 32 1-62 1 44 1 4 1-22 1 57 1-56 1 104 1-152 1 59 1 39 1-59 1 9 1 68 1-23 1 21 1-71 1 57 1 0 1-21 1 31 1 57 1-135 1 32 1-49 1 16 1-15 1 77 1 17 1-77 1 4 1 3 1-10 1-33 1 7 1 108 1-50 1-11 1-18 1 58 1-61 1 61 1-3 1-97 1 128 1-86 1 13 1 73 1-63 1-36 1 17 1 57 1-83 1 16 1 25 1-5 1-46 1 54 1-6 1 36 1-19 1-49 1-1 1 37 1 20 1-1 1-41 1 55 1-43 1 62 1-131 1 100 1-17 1-29 1-3 1 15 1 26 1-9 1-49 1 64 1 83 1-90 1-51 1 17 1-8 1-15 1 58 1 26 1-12 1-89 1 83 1 20 1-111 1 37 1 23 1 11 1 8 1-35 1 162 1-54 1-114 1-14 1-17 1 24 1 11 1-44 1 6 1 134 1 68 1-168 1 78 1-40 1-67 1 101 1-26 1 92 1-63 1-16 1-67 1 14 1 30 1-30 1 28 1 87 1-54 1-45 1-13 1-11 1 80 1 6 1-18 1-18 1-102 1 66 1-57 1 19 1 15 1 60 1-28 1-12 1-13 1 53 1 79 1-76 1-10 1-66 1-9 1 79 1 6 1 56 1-84 1-18 1 7 1 48 1-124 1 83 1 9 1 46 1-40 1-26 1 28 1 4 1 41 1-44 1 69 1-42 1-90 1 129 1-51 1-57 1 64 1 18 1 5 1-56 1 60 1-75 1 70 1-27 1-118 1 56 1 36 1-35 1 105 1-40 1-95 1 16 1 113 1 12 1-69 1 70 1-37 1 119 1-51 1 11 1-41 1-45 1 48 1-113 1 2 1 16 1-40 1 30 1 147 1-121 1 29 1 41 1-91 1-8 1 9 1-76 1 56 1-34 1 23 1 118 1-49 1 20 1-59 1 47 1-62 1 81 1 21 1-104 1 90 1-85 1 75 1-11 1 34 1-72 1-19 1 51 1 5 1-87 1 99 1-138 1 28 1 90 1 72 1 6 1-50 1 0 1-80 1 50 1 63 1-17 1-111 1-17 1 83 1-10 1 23 1-13 1 6 1-42 1-3 1 60 1-21 1-24 1-19 1-28 1 20 1 32 1 6 1-42 1-33 1 145 1-107 1 19 1-52 1 32 1 49 1 1 1-45 1-46 1 23 1 29 1-12 1-35 1 137 1-7 1-23 1-50 1-98 1 79 1-1 1 41 1 28 1-6 1-47 1 132 1-39 1-121 1 1 1 25 1-19 1 29 1 2 1 8 1-31 1 118 1-38 1-78 1-38 1 3 1 53 1 20 1 8 1-40 1 55 1-47 1 45 1 16 1-104 1 116 1 5 1 29 1-103 1-27 1 15 1 56 1-36 1-3 1-21 1-10 1 39 1 15 1-91 1 61 1-41 1 38 1 27 1-77 1 98 1 49 1-37 1-72 1 36 1 12 1 12 1 16 1-7 1-14 1 41 1-80 1-4 1-51 1 40 1 42 1-51 1 107 1-103 1 40 1-113 1 132 1-41 1 42 1-39 1 23 1-13 1 39 1-59 1 94 1-44 1 22 1-86 1 13 1 86 1 12 1 22 1-88 1 10 1-66 1 64 1 61 1-42 1-76 1-21 1 148 1-66 1-2 1 64 1-32 1-31 1-115 1-1 1 162 1-29 1-92 1-69 1 211 1-84 1-32 1-4 1 50 1-24 1 69 1-47 1-86 1-38 1 22 1 7 1 117 1-102 1 62 1 46 1-28 1-5 1 18 1 20 1-4 1-68 1 133 1-31 1-2 1-73 1 15 1 27 1-48 1 19 1 27 1-39 1 8 1-9 1-71 1 25 1-3 1 35 1 15 1 65 1-92 1 61 1 2 1 21 1-111 1 3 1 50 1-37 1 44 1-10 1-6 1 37 1-30 1-49 1 1 1 85 1 32 1-6 1-46 1-44 1 31 1-25 1 17 1-56 1 92 1-13 1-37 1 54 1-36 1-80 1 47 1 20 1 43 1 47 1-21 1-28 1 36 1-91 1 39 1-20 1 65 1-92 1 45 1-14 1-1 1-87 1 66 1 94 1-75 1 10 1-23 1-18 1-29 1 91 1-41 1 115 1-82 1 4 1-42 1 73 1 33 1-76 1 19 1-45 1 21 1-102 1 180 1-90 1-7 1-29 1 50 1 15 1-38 1 121 1-80 1-51 1 26 1-15 1-27 1-16 1 11 1 114 1-67 1 29 1-47 1 20 1-37 1 58 1-10 1 18 1 71 1-73 1-35 1 21 1 58 1-154 1 33 1 43 1 8 1 41 1-35 1 36 1-46 1 3 1 3 1-25 1 19 1-21 1 65 1-15 1-75 1 61 1-64 1 78 1-154 1 149 1-64 1 105 1-25 1-65 1-22 1 26 1 7 1-8 1 50 1 4 1-46 1 15 1 25 1-62 1-43 1 109 1-59 1 1 1 56 1-112 1 77 1-4 1 22 1-95 1 9 1 146 1-106 1-3 1 6 1 44 1-48 1 14 1-77 1-7 1 112 1-22 1 17 1 34 1-19 1-31 1 27 1 57 1-47 1-67 1 19 1 4 1 11 1 98 1-143 1 21 1 43 1-68 1 25 1 92 1-74 1 66 1-69 1 4 1-75 1 66 1 33 1-9 1-38 1 67 1-58 1 73 1 34 1-25 1-40 1 68 1-95 1 51 1-63 1 40 1-77 1 131 1-55 1-15 1 35 1-14 1 14 1-14 1-26 1-29 1 139 1-63 1-63 1 15 1 39 1 60 1 6 1-91 1 7 1-2 1-120 1 150 1-60 1 44 1-101 1 84 1-41 1 73 1-71 1 18 1 78 1 19 1-81 1 22 1-35 1-6 1-34 1 70 1-44 1 15 1 17 1 40 1-12 1-91 1 25 1 82 1-38 1 14 1-82 1 24 1 43 1 37 1 26 1-82 1 9 1 56 1-54 1 6 1 25 1 0 1-26 1 88 1-30 1-9 1-75 1 23 1 32 1-63 1-75 1 78 1-19 1 69 1 44 1-73 1-3 1-10 1 32 1 37 1 14 1-64 1 53 1-17 1-6 1-22 1-84 1-3 1 98 1-60 1 66 1-35 1-72 1 71 1 77 1-47 1-53 1-1 1 25 1 13 1-68 1 131 1 14 1-63 1 20 1-10 1 29 1-84 1-59 1 138 1 17 1-56 1-48 1 149 1-158 1-2 1 90 1-26 1 52 1-11 1-126 1 1 1 88 1 11 1-11 1-65 1 0 1-9 1-63 1 137 1 48 1-62 1-22 1 26 1-32 1 75 1-99 1 45 1 0 1 77 1-82 1-37 1-24 1 110 1-127 1 31 1 54 1 34 1 26 1-182 1 128 1-118 1 58 1 53 1-46 1 50 1-38 1 59 1 15 1-92 1 145 1-112 1 100 1-26 1 54 1-113 1-80 1 47 1 39 1 78 1-90 1-26 1-12 1 67 1 83 1-51 1-66 1-7 1 15 1-7 1-58 1-37 1 148 1-47 1 57 1-41 1 15 1-41 1 19 1-39 1-37 1-34 1 199 1-69 1-36 1-14 1 76 1-40 1-20 1 59 1-42 1 24 1-47 1 23 1 34 1 34 1-120 1-15 1 60 1 13 1 39 1-26 1-14 1-51 1 95 1-63 1 23 1 31 1-55 1 48 1 18 1 42 1-52 1-50 1 7 1 40 1-6 1-29 1-57 1 7 1 38 1 63 1-63 1-15 1 91 1 13 1-29 1-56 1 33 1 25 1 8 1-98 1 71 1-88 1 54 1-69 1 58 1-12 1-23 1 109 1-82 1 4 1-82 1 51 1 118 1-65 1-77 1 23 1 13 1 7 1 60 1-57 1 25 1 25 1-33 1-44 1 65 1-109 1 17 1 66 1 18 1-12 1-32 1-57 1 57 1 79 1-86 1 41 1-10 1 7 1-16 1 96 1-78 1 55 1 23 1-106 1 34 1-43 1-3 1 30 1-34 1 29 1 0 1 61 1-10 1-40 1-23 1-12 1 24 1 19 1 18 1 25 1-40 1-74 1 81 1 71 1-61 1-2 1-91 1 45 1 24 1 22 1 34 1-84 1 79 1-35 1-4 1-28 1 87 1-26 1-73 1 98 1-32 1-22 1-107 1 7 1 85 1 13 1 10 1-86 1 61 1 18 1-9 1-115 1 164 1-89 1-9 1 9 1-7 1 0 1 23 1-32 1 84 1-49 1-15 1-73 1 52 1 63 1-52 1 39 1-20 1 71 1-22 1-55 1 81 1-15 1-58 1 5 1-13 1-19 1 53 1-10 1 100 1-70 1-68 1 91 1-85 1 133 1-140 1 29 1 19 1 60 1-156 1 84 1-5 1-53 1 49 1-10 1 79 1-3 1-13 1-42 1-31 1 16 1 49 1-31 1-88 1 31 1 35 1 4 1 14 1-19 1-15 1-50 1 118 1 15 1-18 1-34 1 13 1 11 1-18 1 12 1 9 1 10 1 31 1-44 1 36 1-103 1 107 1-72 1 6 1 9 1 18 1-50 1 3 1-30 1 36 1 79 1-65 1-41 1 42 1 11 1-28 1 20 1 37 1-30 1-70 1-45 1 125 1 8 1 56 1-2 1-97 1-26 1 14 1 30 1-32 1 79 1-30 1 27 1-36 1-7 1 35 1-22 1-59 1 74 1-37 1 52 1 17 1-67 1 76 1-21 1-50 1-43 1 2 1 22 1 105 1-148 1 7 1 75 1 29 1-21 1-42 1 10 1-9 1-7 1-66 1 162 1-94 1-26 1 83 1 22 1-140 1 107 1-103 1 53 1-35 1 66 1-31 1 44 1 27 1-74 1 40 1-11 1 57 1-139 1 87 1 28 1 37 1 59 1-132 1-11 1-67 1-10 1 36 1 44 1 9 1 24 1-38 1 33 1-27 1 16 1-65 1-41 1 84 1 22 1-13 1 54 1-63 1 3 1-42 1 5 1 39 1-21 1 31 1 22 1 9 1-15 1-102 1 142 1-63 1-53 1 91 1 31 1-20 1-48 1 24 1-32 1-38 1 63 1-34 1-55 1 46 1-9 1 44 1 71 1-6 1-19 1-40 1 0 1-88 1 93 1 2 1 8 1-74 1 75 1-12 1-28 1-25 1 59 1 16 1-82 1 79 1-25 1-63 1 93 1-82 1-1 1 95 1 6 1-23 1-78 1 54 1 2 1 15 1 167 1-194 1-74 1 108 1 45 1-133 1 71 1-59 1 26 1 66 1-48 1-39 1 28 1 2 1-45 1 81 1-62 1 14 1 0 1-14 1 12 1-16 1 135 1-51 1-104 1 113 1 41 1-81 1 59 1-69 1 10 1-36 1-29 1 144 1-66 1-101 1 80 1 4 1 37 1 3 1-20 1 16 1 31 1-26 1-48 1 8 1-28 1-39 1-9 1 76 1 26 1-61 1-42 1 38 1 122 1-35 1-114 1-1 1 75 1 6 1-33 1-9 1 19 1-91 1 73 1 26 1-30 1-11 1 5 1 109 1-129 1 47 1-56 1 39 1-21 1 5 1 49 1 19 1-95 1 54 1 20 1 26 1-80 1-22 1 25 1 144 1-57 1-98 1-44 1 114 1-49 1 43 1-23 1 5 1-85 1 84 1-20 1 52 1 36 1-80 1-41 1 30 1 3 1 50 1-16 1 38 1-5 1-22 1-17 1 36 1-46 1-20 1 55 1-81 1 134 1-28 1 15 1-59 1 51 1-126 1 100 1-38 1 1 1 3 1 22 1 0 1-41 1 10 1-72 1 45 1 26 1-38 1 7 1 83 1-86 1 48 1 28 1 2 1-79 1 78 1-31 1 4 1-11 1 40 1 9 1-44 1-23 1 25 1-19 1-6 1 19 1-15 1 33 1 9 1-69 1 9 1 41 1-9 1 80 1-87 1-13 1 88 1-93 1-31 1 33 1 27 1-88 1-11 1 94 1 3 1 64 1-101 1 99 1-102 1 45 1-18 1-30 1 21 1-42 1 104 1 6 1-43 1 12 1-19 1-30 1-34 1 74 1 40 1 20 1-25 1-89 1 115 1-59 1-35 1 63 1-45 1 8 1 76 1-134 1 33 1 78 1-47 1 0 1 34 1-64 1-22 1 39 1-27 1 62 1-18 1 51 1-77 1-51 1 41 1-38 1 100 1 22 1-13 1-71 1 88 1-43 1-18 1 25 1-16 1 19 1-23 1-26 1 76 1-70 1-11 1 99 1-115 1 69 1-119 1 61 1-26 1 90 1-98 1 17 1 7 1 92 1-59 1-37 1 92 1-22 1 10 1 40 1-148 1 49 1 90 1-101 1-9 1 62 1-36 1-34 1-25 1 114 1-22 1 37 1-17 1-45 1-50 1 53 1 94 1-75 1 59 1-20 1 20 1-23 1-76 1 22 1-10 1-20 1-16 1 85 1 66 1-56 1-106 1 78 1 11 1 17 1-68 1 69 1-43 1 5 1-33 1 8 1 59 1-40 1-33 1 63 1 83 1-142 1 10 1 40 1 18 1-15 1 64 1-64 1-8 1 30 1 96 1-175 1-27 1-21 1-8 1 119 1 43 1-109 1 61 1-15 1-45 1 7 1 34 1-72 1 85 1-66 1 5 1 34 1-8 1 1 1 25 1-19 1 41 1-57 1 43 1-4 1-46 1 32 1-33 1-57 1 78 1 43 1-24 1-42 1 62 1-86 1 41 1 73 1-61 1 26 1 32 1-22 1-15 1 40 1-80 1 49 1 31 1-19 1 46 1-83 1-5 1-21 1-9 1 10 1 71 1 25 1-33 1-16 1 21 1 13 1 68 1-84 1-80 1 18 1 90 1-68 1 0 1-54 1 80 1-116 1 11 1 42 1 17 1 32 1-66 1-36 1 60 1-39 1 42 1 37 1 2 1-4 1 5 1 52 1 7 1-53 1-47 1 69 1 35 1-123 1 41 1 44 1-1 1-114 1 131 1-26 1 9 1-49 1-52 1 57 1-12 1 52 1 5 1-76 1-61 1 9 1 14 1 142 1 0 1-100 1 77 1-70 1-13 1 25 1-16 1 47 1 23 1-51 1-48 1 50 1 112 1-121 1 47 1 56 1-37 1-38 1 95 1-72 1-119 1 145 1-34 1-33 1 22 1-55 1 16 1 50 1-21"/>
</g>
<rect class="ax" x="103.9" y="103.9" width="290.9" height="86.85"/>
<path class="ax" d="M114.62,190.75H384.03M114.62,190.75v12.67M168.5,190.75v12.67M222.38,190.75v12.67M276.26,190.75v12.67M330.14,190.75v12.67M384.03,190.75v12.67M103.9,110.4V183.6M103.9,110.4h-12.67M103.9,128.7h-12.67M103.9,147h-12.67M103.9,165.3h-12.67M103.9,183.6h-12.67"/>
<g transform="translate(114.62,237.1)"><text>0</text></g>
<g transform="translate(168.5,237.1)"><text><tspan class="h">1</tspan>000</text><path d="M763 0H583V1147Q518 1085 412.5 1023T223 930V1104Q374 1175 487 1276T647 1472H763Z" transform="translate(-23.49,0) scale(0.010313,-0.010313)"/></g>
<g transform="translate(276.26,237.1)"><text>3000</text></g>
<g transform="translate(384.03,237.1)"><text>5000</text></g>
<text x="249.35" y="288">Iterations 523</text>
<g transform="translate(73.1,111.2) rotate(-90)"><text>-0.70</text></g>
<g transform="translate(73.1,184.4) rotate(-90)"><text>-0.90</text></g>
<text transform="translate(22.8,148.6) rotate(-90)">alpha</text>
</g>
<g transform="translate(448,0)">
<text class="m" x="249.35" y="62.2">Trace of 3|v</text>
<g class="tr" transform="translate(114.67,0)">
<path class="k" transform="scale(0.081647,0.2)" d="M0,652l1 75 1 25 1-86 1 32 1-35 1 37 1-6 1 55 1 10 1-70 1 31 1 21 1-10 1-28 1-1 1 56 1-44 1-62 1 67 1-48 1-62 1 96 1-21 1 44 1 71 1-35 1-62 1-39 1 70 1 1 1-62 1-83 1 24 1 207 1-61 1-40 1-39 1 88 1-2 1-37 1-23 1-4 1 3 1 33 1 37 1-64 1-76 1 27 1 51 1 85 1-88 1-43 1-41 1-8 1 33 1 32 1-15 1 71 1-26 1 109 1-183 1-21 1 105 1 22 1-12 1-16 1-122 1 30 1 106 1-46 1 8 1-128 1-29 1 155 1-14 1 88 1-31 1 24 1-20 1-30 1 36 1-89 1 9 1-35 1 6 1 0 1 23 1-104 1 111 1 38 1 39 1-31 1-8 1 18 1-69 1 53 1 58 1-72 1 26 1-25 1 16 1 58 1-97 1 7 1-21 1 125 1-48 1-34 1 4 1 28 1 45 1-91 1 117 1-81 1 5 1-142 1 100 1 74 1-30 1-64 1 34 1 1 1-43 1 40 1 56 1-75 1 55 1-65 1 85 1 16 1-65 1-18 1 14 1 16 1-54 1 90 1-67 1 104 1-12 1-61 1-47 1 26 1 138 1-105 1-73 1 83 1 12 1-97 1 44 1 26 1-8 1 48 1-117 1 99 1-22 1-36 1 66 1-16 1-173 1 166 1-56 1 41 1-11 1-16 1 32 1 42 1-55 1 18 1-73 1 79 1-7 1-14 1-73 1 221 1-84 1-37 1-58 1 66 1 67 1-51 1-79 1-15 1 68 1 4 1-53 1 50 1-65 1 31 1 61 1-39 1-33 1 10 1 67 1-95 1-39 1 7 1-4 1 25 1 57 1-26 1-7 1 22 1 45 1-19 1-72 1 61 1 38 1-13 1-78 1 49 1 49 1-5 1 20 1-17 1 1 1-50 1-4 1-28 1 67 1 37 1-120 1-34 1 65 1 35 1-37 1 3 1 25 1 160 1-84 1-68 1-15 1 4 1-14 1 24 1-18 1-30 1 39 1 43 1 5 1-50 1-53 1 67 1-63 1 89 1-63 1 34 1 26 1 39 1-67 1 50 1 33 1 60 1-60 1 58 1-99 1-42 1-39 1-31 1 109 1-6 1-29 1-23 1 5 1 49 1-177 1 134 1-20 1 168 1-98 1-40 1 29 1-4 1 25 1-58 1-103 1 140 1 11 1 20 1 17 1-45 1 93 1-120 1 48 1 30 1-12 1-39 1-6 1-28 1-35 1 63 1-59 1 12 1-18 1 49 1-27 1-27 1 68 1-55 1 93 1-56 1-32 1 48 1-137 1 100 1-2 1 7 1-71 1 15 1 105 1-1 1-30 1-6 1-60 1-28 1-20 1 118 1-51 1 39 1-62 1-22 1 107 1-82 1 12 1-6 1 48 1 44 1-92 1 34 1-32 1 43 1 2 1-15 1 49 1-29 1-6 1 32 1 61 1-68 1 10 1-15 1 60 1-15 1 24 1-81 1 33 1-12 1-15 1-42 1 43 1 20 1-31 1-34 1 6 1 91 1-19 1-66 1 11 1 104 1-137 1 57 1-13 1-19 1-19 1 56 1-43 1-8 1 22 1 31 1-123 1 13 1 69 1-14 1 40 1-7 1-33 1 28 1-3 1-97 1 135 1-44 1 87 1-55 1-31 1-19 1 6 1 49 1-32 1 21 1-22 1-11 1-14 1 13 1-15 1 97 1-5 1-23 1-54 1 1 1 12 1-102 1 24 1 21 1 54 1-13 1 89 1-114 1 19 1 220 1-201 1-26 1-41 1 50 1 5 1 15 1-70 1 6 1 56 1-22 1 19 1 85 1-80 1 0 1 43 1-61 1 98 1-42 1 5 1 48 1-93 1 28 1 33 1-64 1-119 1 94 1 47 1 20 1-59 1-1 1 77 1-84 1 52 1 76 1-41 1-39 1-69 1 84 1-32 1 28 1 22 1 7 1 12 1 1 1-49 1 17 1-20 1 21 1 8 1-50 1 79 1-8 1 1 1-8 1-49 1 31 1-9 1 17 1-47 1 30 1-5 1-7 1-2 1 33 1 99 1-67 1-86 1-35 1-8 1 87 1 17 1-3 1 41 1-35 1-47 1 38 1-34 1-21 1 15 1 13 1 127 1-105 1-73 1 112 1-42 1 6 1-16 1-5 1-6 1-36 1 39 1 7 1-6 1-16 1 29 1 9 1-53 1 63 1-15 1-80 1 50 1 66 1-54 1 34 1-8 1-43 1 36 1 41 1-42 1-2 1-67 1 8 1 73 1-34 1 10 1 63 1-55 1 18 1 33 1-7 1-54 1 29 1-15 1-62 1 35 1 13 1-40 1 34 1-12 1-90 1 61 1-16 1 12 1 0 1 4 1 9 1 93 1-91 1-1 1 64 1-18 1-23 1 45 1-34 1-24 1-27 1 14 1 38 1-29 1-9 1 34 1 36 1-107 1 55 1 24 1-121 1-41 1 195 1-37 1-13 1-19 1 78 1-49 1 30 1-35 1-59 1 33 1 62 1 16 1-40 1-43 1-6 1-17 1 74 1-11 1 109 1-42 1-78 1-1 1 4 1 1 1 45 1 2 1 8 1-67 1-16 1 15 1-3 1-33 1 14 1 53 1-98 1 39 1 9 1-46 1 48 1 38 1-25 1 29 1 8 1-51 1 29 1 43 1-50 1-28 1-19 1 6 1 28 1-29 1 73 1-79 1 32 1-14 1-11 1 10 1-50 1 34 1 23 1-2 1-36 1 10 1 19 1 6 1-107 1 78 1 36 1-23 1-38 1 21 1 38 1-9 1 17 1 46 1-31 1 45 1-18 1-38 1 23 1 6 1-22 1-4 1-18 1 60 1-54 1 21 1 50 1 29 1-12 1-20 1 31 1-1 1-21 1-22 1 7 1 67 1-85 1-15 1 11 1-22 1 71 1-42 1-45 1 27 1 42 1-62 1 71 1-42 1-3 1-19 1 32 1 56 1-55 1-30 1 9 1 119 1-53 1-32 1 11 1-6 1-7 1-53 1 15 1 44 1-32 1-10 1 23 1 57 1-14 1-14 1 14 1-23 1-31 1 29 1 4 1 23 1-10 1-9 1 132 1-102 1-21 1-23 1-13 1-21 1-14 1 24 1-39 1 19 1 107 1-81 1 9 1 56 1-2 1-52 1 22 1-6 1-84 1 73 1-29 1-16 1 40 1-72 1-8 1 29 1 18 1-34 1 2 1 50 1-19 1 13 1 8 1-67 1-8 1 22 1 11 1 11 1-37 1-4 1 5 1 33 1 30 1-13 1 10 1-26 1-21 1-39 1 48 1 43 1-23 1 5 1-12 1-44 1 79 1-50 1-93 1 51 1 41 1 64 1-81 1-41 1 54 1 84 1-68 1-113 1 86 1-13 1 9 1 71 1-38 1 9 1-43 1 106 1-87 1 23 1 0 1-13 1 16 1-7 1 45 1-2 1-61 1 44 1-45 1 14 1-5 1 28 1-38 1 7 1-15 1-19 1 45 1 21 1-21 1 9 1 9 1 36 1 37 1-31 1-6 1-10 1-28 1-6 1 23 1-28 1 36 1 22 1-13 1-29 1-38 1 22 1 16 1 23 1-17 1-18 1-3 1 48 1 31 1 6 1-13 1-15 1 17 1-11 1-18 1-16 1 32 1 16 1-28 1-19 1 58 1-34 1 35 1 24 1-26 1-153 1 163 1 2 1-15 1-89 1 78 1-9 1-93 1 24 1 18 1-10 1 4 1-21 1 11 1 67 1 15 1-62 1 8 1-14 1-13 1-16 1 12 1 23 1 1 1 12 1 5 1-19 1 15 1-31 1-19 1 60 1-82 1 18 1 42 1 1 1 44 1-27 1-6 1 19 1-47 1-55 1 36 1 47 1 2 1-2 1-44 1 38 1 28 1 31 1 32 1-38 1 14 1 29 1-70 1-22 1-19 1 48 1-58 1 27 1-16 1 46 1-17 1-16 1-3 1 25 1-13 1-13 1-39 1 59 1 94 1-119 1 0 1-87 1 43 1 36 1-22 1 43 1-18 1 35 1-81 1 30 1-22 1 5 1-19 1-26 1 70 1-92 1 112 1-45 1-11 1 19 1-48 1 53 1-90 1 84 1-51 1 18 1 25 1 2 1 46 1 4 1-56 1 33 1-14 1-3 1 1 1 5 1-26 1 35 1-33 1 1 1 5 1 16 1 64 1 37 1-8 1 31 1-92 1-48 1 6 1 30 1 35 1-33 1-4 1 33 1-23 1 33 1-67 1 46 1-18 1 47 1 7 1 65 1-129 1 31 1-26 1-34 1 26 1-13 1-14 1 12 1 65 1-17 1-13 1-19 1-2 1-2 1-1 1 74 1-16 1-36 1-74 1 5 1 45 1 29 1-1 1-57 1 29 1 6 1 30 1-70 1 63 1-2 1-23 1 21 1-2 1-21 1 56 1-23 1 0 1-7 1 0 1-19 1 23 1-33 1 81 1-62 1-21 1-9 1-32 1 70 1-11 1 5 1-121 1 20 1 134 1-30 1-7 1 17 1-66 1 37 1-14 1 15 1 11 1-56 1 29 1-32 1 11 1-33 1 31 1-11 1 35 1-37 1 98 1-37 1-41 1 13 1-39 1 8 1 37 1 28 1-7 1 54 1-19 1-3 1-3 1-48 1 37 1-29 1 17 1 16 1 13 1-69 1 17 1 85 1-17 1-41 1-17 1 8 1 21 1-28 1 2 1 39 1-24 1 3 1-26 1 10 1 35 1-29 1 21 1-44 1 46 1 3 1-59 1 38 1-90 1 78 1-55 1 63 1 2 1-9 1 66 1-49 1 35 1 26 1-31 1-23 1 10 1 2 1-17 1 11 1 92 1-59 1-20 1 7 1-3 1 27 1-43 1-27 1 5 1 12 1 35 1-4 1-30 1-40 1 24 1-10 1 29 1 25 1-21 1 59 1-18 1-76 1 44 1-20 1-7 1 70 1-56 1 0 1-1 1-17 1-74 1 52 1 35 1 11 1-43 1-1 1-25 1-41 1 87 1 5 1-11 1 44 1-22 1-12 1-3 1 48 1-17 1 19 1-11 1-56 1-3 1-20 1 42 1 2 1-32 1-20 1 37 1 15 1-11 1-49 1 21 1 9 1 52 1-70 1 17 1 21 1 54 1-91 1 10 1 45 1-75 1 44 1-29 1 25 1-56 1 59 1-30 1 71 1 5 1-127 1 28 1 90 1-13 1-29 1 33 1-53 1 41 1-21 1-1 1 5 1 21 1-32 1 64 1-27 1-67 1 35 1-6 1-10 1 36 1-55 1 78 1-44 1 9 1-29 1 20 1 37 1-23 1-24 1 7 1 22 1 3 1-25 1 22 1-28 1-13 1 15 1 50 1-61 1 3 1 47 1-14 1-91 1 101 1 47 1-44 1 3 1 31 1-41 1-14 1 45 1-71 1 11 1 48 1-80 1 34 1 13 1 12 1-12 1-8 1-45 1-1 1 61 1-22 1 36 1-19 1-18 1-23 1 80 1-18 1-40 1 41 1-56 1 24 1 60 1-18 1-23 1-17 1 3 1 54 1-55 1-3 1 81 1-60 1 19 1 76 1-79 1-13 1-13 1 39 1 9 1-53 1-40 1 56 1 19 1-7 1-35 1-113 1 137 1-42 1 47 1-16 1 6 1 15 1-33 1 38 1 16 1-52 1-10 1 16 1 17 1-4 1-31 1 43 1-26 1 4 1-23 1 2 1-9 1-31 1 49 1 16 1-5 1 107 1-121 1 7 1 76 1-23 1-125 1 70 1-12 1-14 1 100 1-55 1 1 1-21 1 9 1 37 1 19 1 46 1-27 1-8 1-5 1-8 1-6 1 11 1-39 1-67 1 93 1-10 1 16 1-16 1 15 1 56 1 62 1-50 1-59 1-26 1-10 1 94 1-49 1 50 1 72 1-81 1-35 1-51 1 78 1-30 1 5 1 5 1 0 1 19 1-63 1-20 1-23 1 85 1-15 1-45 1-26 1 25 1 23 1-61 1 88 1-5 1-14 1-27 1 5 1 138 1-98 1-42 1 53 1-33 1-5 1 11 1-55 1 17 1-14 1 56 1-22 1 16 1-10 1 12 1 12 1-80 1 12 1 48 1-9 1 35 1-17 1-59 1 8 1 20 1 33 1-21 1-18 1 14 1 54 1-66 1-5 1 11 1 16 1-39 1 12 1-8 1 50 1 18 1-66 1-40 1 46 1-24 1 14 1-24 1 42 1 15 1-11 1 39 1 9 1-72 1-25 1-41 1 45 1 27 1 13 1-11 1 22 1-26 1-13 1 25 1-33 1-19 1 27 1 100 1-62 1-53 1 68 1-10 1 18 1-27 1 12 1-41 1-7 1 64 1-35 1 4 1-47 1 25 1 18 1 6 1 6 1-23 1 46 1-76 1 59 1-6 1 3 1-14 1 37 1-33 1 32 1-104 1 78 1-17 1 20 1 84 1-65 1-44 1 28 1-9 1 61 1-42 1-12 1-32 1 50 1-47 1 59 1 10 1 2 1-44 1-26 1 21 1-35 1 71 1 2 1-52 1 36 1-17 1 67 1-48 1-48 1 14 1-9 1 28 1-42 1 21 1-13 1-17 1 14 1 52 1 4 1-30 1 20 1 25 1-46 1 25 1-49 1 35 1 17 1-3 1-120 1 91 1 3 1-46 1 1 1-24 1 15 1 96 1-58 1-20 1-2 1-50 1 10 1 19 1 33 1 27 1-14 1-15 1 71 1-11 1-61 1-43 1 18 1 34 1-62 1 26 1 23 1-15 1 7 1 32 1 84 1-96 1-11 1-56 1 41 1 20 1-67 1 45 1-7 1 32 1-62 1 245 1-158 1-6 1-37 1 76 1-34 1-39 1 21 1 52 1-72 1-88 1 92 1-10 1 0 1-58 1-41 1 138 1-38 1 8 1-32 1-12 1 44 1 33 1-31 1-91 1 31 1 71 1 15 1 43 1-34 1 25 1-45 1-16 1-5 1 36 1-2 1 74 1-102 1-15 1-1 1 31 1 9 1-5 1-20 1-24 1 68 1 6 1-3 1 5 1-3 1-9 1-41 1 33 1 29 1 29 1 0 1-33 1-34 1 46 1 24 1-14 1 26 1 16 1 12 1-6 1-51 1-60 1 37 1 17 1-24 1 109 1-89 1-46 1 49 1 104 1-91 1-17 1 20 1-66 1 69 1-11 1-24 1-67 1-25 1 78 1 0 1 57 1-30 1-18 1 11 1-32 1 4 1 27 1-12 1 28 1 6 1-17 1 31 1 5 1-44 1-7 1 64 1-78 1 14 1-64 1 74 1-39 1 20 1 24 1-28 1 14 1-32 1 49 1 10 1-49 1 53 1 7 1 18 1-35 1-8 1-67 1-4 1 89 1-27 1-103 1 55 1 10 1 4 1-19 1 56 1-6 1-20 1-22 1-8 1-51 1 109 1-55 1 2 1-4 1 61 1 24 1-32 1-15 1-12 1-5 1-64 1 69 1 1 1-11 1-27 1 75 1-34 1-31 1 38 1-16 1 28 1-14 1-9 1-30 1 15 1 57 1-17 1-91 1 93 1-3 1 44 1-19 1-5 1-11 1-197 1 155 1 9 1 50 1-31 1-17 1-16 1-59 1 52 1-29 1 62 1 16 1-55 1 24 1-4 1-5 1-3 1 20 1-58 1 59 1 2 1-1 1 50 1-52 1 13 1-71 1 41 1 12 1-56 1 37 1 27 1-46 1 31 1 38 1-37 1-12 1-28 1 29 1-30 1 7 1-20 1 32 1 28 1-7 1 31 1-37 1 12 1 30 1-48 1-2 1-42 1 66 1-35 1-13 1-12 1 65 1 86 1-110 1 16 1 6 1-49 1 223 1-174 1-27 1 4 1-20 1-52 1 38 1 93 1-72 1 43 1-12 1 21 1-5 1-8 1-44 1-33 1 31 1-41 1 31 1 6 1-20 1 26 1 33 1-44 1 66 1-61 1 39 1-7 1-1 1-62 1-5 1 4 1 16 1 27 1 37 1 30 1 48 1-94 1-21 1 13 1 11 1-34 1 45 1-72 1 57 1-46 1 1 1 45 1-38 1 9 1 38 1-31 1 20 1 33 1 32 1 13 1-28 1-23 1-5 1-32 1 34 1 52 1-49 1 12 1 3 1-78 1 64 1-65 1 76 1-19 1 14 1 9 1 5 1-10 1-36 1 6 1 34 1-48 1 23 1 34 1 1 1-43 1 31 1 56 1-49 1-17 1-17 1-1 1 38 1-27 1 9 1 15 1-26 1 30 1-44 1 34 1-66 1-10 1-36 1 71 1-9 1 2 1 1 1 18 1 3 1-23 1 75 1-41 1-58 1 49 1 31 1-77 1 101 1-52 1 59 1-60 1-45 1 57 1-12 1-26 1-44 1 26 1-19 1-20 1 52 1-29 1 41 1-14 1-88 1 28 1 87 1-27 1 49 1-39 1-6 1-2 1 19 1 28 1-37 1 15 1-20 1 38 1-52 1-34 1-43 1 83 1 9 1-5 1-1 1-11 1-9 1 23 1 105 1-56 1-9 1-40 1-40 1 47 1-12 1 13 1-45 1 67 1-42 1 7 1-87 1 98 1 14 1 50 1-36 1-70 1 22 1-5 1 19 1 14 1 17 1-2 1 14 1-9 1-45 1 32 1 73 1-27 1-91 1 71 1-24 1 14 1 13 1-13 1 23 1 7 1-107 1 107 1-68 1 53 1-17 1-4 1 6 1 40 1-15 1 33 1-8 1-39 1-69 1 34 1 1 1-1 1 10 1 11 1 15 1-55 1 50 1 19 1-17 1-15 1-4 1 15 1-21 1 52 1-30 1 10 1 29 1-32 1-8 1 55 1-98 1 23 1 13 1 2 1 11 1 21 1 24 1-86 1 112 1-73 1-1 1 12 1-17 1 108 1-6 1-106 1-28 1-9 1 56 1-13 1-26 1 73 1 25 1-7 1 10 1-46 1 38 1 4 1-19 1-3 1 24 1-66 1-13 1-5 1 82 1 46 1-102 1 13 1 19 1 24 1-96 1 27 1 15 1-24 1 22 1 6 1 3 1-4 1-28 1-7 1 9 1 22 1-37 1 29 1-15 1 34 1-21 1 30 1-42 1 1 1-37 1 1 1 30 1-10 1 99 1-15 1-30 1-10 1-5 1 39 1 57 1-79 1-52 1 28 1 33 1 34 1 16 1-65 1 9 1-65 1-82 1 106 1 24 1 56 1-30 1 18 1-112 1 77 1-54 1 22 1 18 1-47 1 41 1-26 1-28 1 38 1 69 1-17 1-12 1-37 1 8 1 35 1 91 1-96 1 11 1 20 1-18 1-16 1-9 1 3 1-12 1 39 1-43 1-37 1 131 1-82 1 3 1 14 1-62 1 0 1 16 1 94 1-69 1 12 1 26 1-218 1 180 1-16 1 0 1 54 1-98 1 133 1-20 1-69 1 21 1-20 1-10 1-1 1 24 1-19 1 66 1-43 1-9 1 26 1-71 1 19 1 2 1-19 1-20 1-11 1 20 1-14 1 55 1-11 1 10 1-65 1 49 1-1 1-11 1 24 1-45 1 40 1-14 1-16 1 45 1-40 1 5 1-7 1-21 1-8 1 9 1 18 1-15 1 11 1-9 1 19 1-26 1 0 1 5 1 57 1-20 1-13 1-34 1-37 1-22 1 89 1-52 1 28 1 26 1-6 1-2 1-50 1 66 1 1 1 18 1 7 1-6 1-33 1-26 1-29 1 19 1 40 1 69 1-97 1-21 1-27 1 44 1 28 1 17 1-27 1-37 1 121 1-20 1-40 1 44 1-3 1-2 1-41 1 93 1-11 1-57 1 5 1 60 1-31 1-26 1-18 1 24 1 41 1 7 1-38 1-18 1 27 1-14 1-34 1-7 1 54 1-12 1-37 1-8 1 48 1 27 1-38 1 27 1-19 1 10 1 22 1-22 1-47 1 4 1-1 1-8 1 12 1 3 1 27 1-40 1-13 1 39 1 6 1-29 1 36 1 8 1-47 1 53 1-104 1-1 1 37 1-2 1 11 1 35 1-15 1-23 1 16 1-5 1-11 1 31 1 19 1 33 1-52 1-30 1 15 1-36 1 23 1-43 1 52 1 64 1-51 1-38 1 2 1-32 1 15 1-7 1 50 1-16 1-16 1-21 1 29 1-21 1-3 1 23 1 19 1-16 1-29 1 14 1 16 1-12 1 19 1-9 1-14 1 43 1-69 1 33 1-9 1 3 1 3 1 5 1-19 1 43 1 8 1-52 1 23 1-24 1 38 1-8 1-78 1 48 1 90 1-59 1 9 1-88 1 28 1 62 1-84 1 26 1 43 1-58 1 6 1-1 1 20 1 38 1-29 1 27 1-18 1 29 1-35 1-9 1-15 1-32 1 50 1-52 1 83 1-56 1 46 1 6 1 11 1-23 1 20 1-99 1 82 1-66 1 42 1 5 1 109 1-67 1-32 1-32 1 59 1 19 1 10 1-9 1-3 1-37 1 30 1-43 1 75 1-20 1-43 1 1 1 59 1-32 1-50 1-3 1-39 1 38 1 1 1-39 1 14 1 9 1 44 1-64 1 38 1-6 1 8 1 28 1-33 1 72 1-38 1 13 1 7 1-16 1 0 1 57 1-46 1-18 1-79 1 18 1 15 1-67 1 94 1-52 1 96 1-3 1-34 1 34 1-7 1-46 1 2 1 11 1-12 1 70 1-24 1-25 1 29 1-36 1-3 1 143 1-97 1 7 1-103 1 54 1-46 1 53 1 48 1-57 1 21 1-11 1 25 1-51 1-44 1 78 1-22 1 38 1-39 1 28 1-50 1 65 1-8 1-1 1-22 1 34 1-2 1 3 1-44 1 51 1-21 1 29 1-46 1 22 1-36 1 26 1 7 1-18 1 37 1-54 1 32 1-10 1-30 1 58 1-12 1-11 1-62 1 103 1 5 1 32 1-39 1-33 1 34 1-40 1 43 1 3 1-31 1-27 1 8 1-5 1 7 1-5 1-20 1 80 1-38 1-6 1-6 1 9 1-15 1 25 1-24 1-104 1 110 1 30 1 0 1 47 1-24 1-11 1-42 1 64 1 20 1-62 1-16 1 24 1-21 1 0 1 25 1 14 1 22 1-48 1 28 1-16 1 66 1-47 1 31 1 9 1-49 1-75 1 95 1-18 1-22 1-21 1-20 1-30 1 57 1-21 1-54 1 83 1-4 1-25 1-28 1 30 1 55 1-6 1-4 1-11 1 26 1-38 1-10 1 5 1 42 1-59 1 10 1 88 1-76 1 9 1-42 1 30 1 21 1-23 1 7 1-53 1 47 1 27 1 14 1-57 1-1 1-32 1 86 1-2 1-5 1 17 1-71 1 86 1-29 1-7 1 107 1-74 1-27 1 4 1 48 1 16 1-97 1 16 1 23 1-46 1-15 1 13 1 3 1 27 1 6 1 17 1 76 1-52 1-15 1-20 1 56 1-98 1-4 1 35 1 35 1-17 1-30 1-18 1-8 1-26 1 54 1-73 1 84 1-17 1-4 1 47 1 36 1-27 1-83 1 1 1 34 1-6 1-52 1 32 1 63 1-13 1 24 1-5 1-14 1-12 1-34 1 12 1 59 1-41 1 57 1-50 1-4 1 3 1-26 1-20 1-9 1 14 1 48 1 2 1-44 1 49 1-60 1-17 1-31 1 47 1 0 1 42 1 14 1 13 1-47 1-22 1 20 1 29 1-21 1 42 1-80 1 35 1 10 1-9 1-17 1 57 1-58 1-20 1 15 1-103 1 144 1-27 1-53 1 69 1-4 1 3 1 12 1 99 1-119 1 64 1-73 1 0 1 10 1 49 1-31 1-21 1 62 1-92 1 38 1-40 1-54 1 41 1-28 1 6 1-63 1 97 1-1 1 5 1 24 1-6 1-25 1-69 1 10 1-24 1 57 1 46 1-70 1-3 1 16 1 25 1-16 1 14 1-23 1 31 1-26 1-8 1 13 1 15 1-119 1 160 1-2 1 3 1-124 1 84 1 28 1-12 1-37 1 45 1 56 1-48 1 44 1-43 1-31 1 50 1-13 1 36 1-17 1 45 1-44 1-55 1 36 1-11 1 30 1-52 1-11 1-3 1 1 1-12 1 53 1-76 1 30 1-35 1 91 1-35 1 23 1-91 1 14 1 35 1 19 1 27 1-34 1-18 1-48 1 45 1 47 1-70 1 43 1-14 1 61 1-11 1 33 1-30 1 1 1 24 1-25 1-90 1 32 1 50 1-40 1 2 1 12 1 33 1 5 1-50 1-6 1 4 1 36 1-39 1 28 1-17 1 8 1 54 1-76 1-21 1 25 1 16 1 1 1-30 1-34 1 71 1 17 1 29 1-67 1-3 1-18 1 71 1-30 1 7 1-151 1 78 1 47 1 9 1-49 1 32 1 43 1-86 1 74 1 91 1-70 1-20 1-51 1 42 1 2 1 39 1-94 1 58 1-7 1 55 1-23 1 9 1-24 1 4 1 32 1 9 1 0 1-3 1 0 1-36 1 15 1-13 1 161 1-110 1-50 1-19 1 15 1 6 1 21 1 4 1-15 1 52 1-7 1-21 1-20 1-10 1 31 1-43 1 31 1 17 1-6 1-11 1-12 1 22 1 61 1-32 1-2 1-6 1-12 1-4 1-9 1-38 1 5 1 41 1-63 1-53 1 106 1-12 1-53 1 59 1-44 1 62 1-18 1-54 1-35 1 52 1 81 1-34 1-55 1-39 1 93 1-60 1-19 1 34 1 7 1 9 1-26 1 40 1-20 1-32 1-12 1 15 1 50 1 44 1-65 1 37 1 40 1-46 1 3 1 25 1-5 1 6 1-70 1 41 1-3 1 28 1-27 1 24 1-29 1 49 1-16 1-4 1-6 1-36 1 52 1-31 1-6 1-69 1 20 1-3 1-18 1-22 1 36 1 25 1-1 1 8 1 69 1-17 1-4 1 14 1-67 1 6 1 50 1-34 1-16 1-37 1 11 1-44 1 26 1 45 1 23 1-52 1 18 1 18 1 35 1-47 1 39 1-38 1 64 1 58 1-61 1-13 1-75 1 46 1-2 1 46 1-90 1-40 1 69 1-28 1-16 1 77 1 3 1-6 1 21 1-80 1-26 1 79 1-2 1 38 1-32 1-18 1 58 1-72 1 15 1-42 1 206 1-188 1-13 1-12 1 1 1 49 1-170 1 105 1 63 1-85 1 8 1 145 1-74 1-6 1-34 1 53 1-9 1-10 1-12 1-45 1 94 1-62 1 71 1-40 1 6 1 78 1 32 1-109 1 6 1 2 1-12 1-26 1 17 1-47 1 27 1 32 1 9 1-10 1 28 1-42 1 8 1 0 1 1 1-13 1 61 1-20 1-61 1 32 1 52 1-29 1-11 1 18 1-13 1-5 1 2 1 16 1-37 1 17 1-9 1-3 1-10 1-7 1-71 1 38 1 86 1-42 1-16 1 18 1-34 1-15 1-3 1-3 1 42 1-48 1 30 1-22 1 25 1 82 1-54 1 26 1-65 1 13 1 14 1-11 1 110 1-83 1-3 1 6 1 18 1-8 1 14 1 24 1-77 1 19 1 85 1-1 1-85 1-14 1 50 1-21 1 68 1-25 1-32 1 49 1 0 1 24 1-3 1 49 1-97 1 74 1-23 1-103 1 23 1 3 1-10 1 7 1 11 1-53 1 18 1 26 1 47 1-48 1-49 1 2 1 30 1 12 1-10 1 16 1 0 1-3 1-7 1-5 1 2 1-25 1 3 1-6 1-46 1 40 1-33 1 23 1-9 1-22 1 117 1-39 1-30 1-20 1-60 1 92 1 13 1-110 1 81 1-1 1 50 1-87 1-24 1 7 1 12 1 26 1 34 1-38 1 12 1-29 1 84 1-56 1 27 1 0 1-14 1 23 1-16 1-51 1 29 1 24 1-28 1-1 1 47 1 14 1-38 1-21 1 84 1-64 1 8 1-2 1 51 1 71 1-82 1-103 1 74 1 27 1 49 1-9 1 18 1-25 1-68 1 8 1 1 1-4 1-36 1 69 1 3 1 25 1-5 1-17 1 14 1-121 1 29 1 8 1 64 1-14 1 30 1-9 1-23 1 4 1-10 1-31 1 42 1 19 1-5 1 19 1 25 1-75 1-58 1 59 1-23 1 66 1-25 1-14 1 5 1 10 1 17 1 15 1-82 1 34 1-36 1 0 1 3 1 67 1-73 1 77 1-26 1 10 1-29 1-4 1 20 1-17 1 39 1-36 1 14 1 7 1-14 1-13 1 47 1-28 1-140 1 136 1-19 1-8 1-70 1 96 1 31 1-64 1 37 1 7 1-65 1-30 1-13 1 37 1-19 1 56 1 3 1 17 1-45 1-20 1 59 1-34 1-97 1 31 1 76 1-27 1 11 1-1 1 72 1-22 1 9 1-59 1-49 1 73 1-42 1 7 1 26 1-2 1 36 1-58 1-49 1 86 1-8 1-12 1-31 1 14 1 122 1-69 1-124 1 103 1 38 1-23 1-38 1 22 1-13 1-65 1 28 1 0 1-11 1 34 1 35 1-21 1-59 1 46 1-11 1 65 1-4 1 16 1 4 1-56 1-26"/>
<path class="r" transform="scale(0.081647,0.2)" d="M0,611l1-75 1 166 1-2 1-94 1 267 1-41 1-125 1-41 1 39 1 1 1-140 1 129 1 15 1-29 1 83 1-120 1 29 1-38 1 94 1 94 1-105 1 25 1 48 1-33 1 164 1-212 1 4 1-53 1 124 1-57 1-152 1 99 1-30 1 101 1-92 1 48 1-62 1-3 1 134 1-2 1-28 1-52 1 93 1-6 1 23 1-57 1 8 1 33 1-36 1 69 1 17 1-58 1-12 1 7 1-66 1 80 1-98 1 54 1 43 1 20 1-100 1-5 1 23 1 28 1 14 1-67 1 20 1-85 1 143 1-49 1-18 1-19 1 33 1-8 1 45 1 9 1-14 1-23 1-26 1 55 1-40 1-16 1 20 1-88 1 96 1 59 1-18 1-72 1 11 1 61 1-99 1 5 1-29 1 53 1 124 1-110 1-36 1-50 1 78 1-33 1 13 1-1 1 16 1 91 1-101 1 111 1-134 1-2 1-63 1 136 1-7 1-26 1-71 1 76 1 11 1-89 1 40 1 89 1-14 1-65 1 173 1-43 1-44 1-62 1 32 1-91 1 74 1 114 1-126 1 57 1-23 1-15 1-34 1 7 1-53 1 69 1-80 1 39 1 31 1 9 1 17 1 74 1-116 1 33 1-30 1-6 1 7 1-54 1 16 1 13 1 55 1-83 1 54 1-26 1 47 1-59 1 14 1-34 1-5 1 181 1-76 1-22 1-9 1-8 1 15 1 5 1 13 1 7 1-73 1 69 1-65 1 23 1-12 1 24 1-45 1-54 1 64 1-48 1 102 1-132 1 94 1 49 1-40 1 8 1-51 1 89 1-35 1-40 1 64 1-34 1-41 1 102 1 39 1-28 1 11 1 66 1-78 1 91 1-131 1 58 1-28 1-30 1 48 1-26 1 84 1-106 1 140 1-62 1 12 1 117 1-140 1 1 1-5 1-11 1 10 1-68 1 80 1 0 1 35 1-56 1 59 1 34 1-100 1-1 1 3 1 31 1-69 1 126 1-18 1-89 1-222 1 170 1 21 1 45 1 66 1 4 1-25 1 20 1-85 1 41 1-172 1 48 1 67 1-45 1 69 1-26 1-11 1 51 1-64 1 19 1 21 1-23 1 51 1-39 1-84 1 87 1 29 1-99 1 74 1-17 1 14 1-87 1 26 1 13 1 211 1-90 1-14 1-51 1-58 1 102 1-113 1 30 1 10 1 60 1-41 1 66 1 40 1 25 1-127 1-12 1 40 1 21 1 54 1-115 1 50 1 36 1-67 1-3 1 6 1-35 1-25 1 42 1 33 1-9 1 49 1-29 1-128 1 60 1-36 1 186 1-66 1-46 1-49 1-76 1 102 1-24 1 7 1-40 1 54 1-66 1-11 1 48 1 199 1-153 1-59 1-120 1 86 1 73 1-32 1-79 1 102 1 1 1-45 1-7 1 42 1-24 1 0 1-3 1 24 1-28 1-20 1 51 1-10 1-10 1-19 1-32 1 18 1-7 1 19 1-25 1 48 1-71 1 42 1-45 1 69 1 5 1 1 1-35 1 42 1-41 1 84 1-40 1 38 1-81 1 20 1 63 1 43 1-120 1 54 1-26 1 101 1-116 1 33 1-11 1-36 1 53 1 1 1 4 1 17 1 20 1 2 1-72 1 16 1 50 1-93 1 27 1-8 1 24 1-45 1-68 1 138 1 3 1-9 1-21 1 44 1-34 1-15 1 8 1 34 1-113 1 96 1-71 1 102 1 9 1-7 1 20 1 33 1-131 1 77 1-42 1 57 1-13 1-10 1 35 1 38 1-37 1-51 1 11 1 9 1 23 1-10 1-5 1-11 1 15 1-3 1-11 1 39 1-52 1-4 1 51 1-28 1-4 1-24 1-19 1 61 1 12 1 20 1-119 1 67 1 6 1 39 1-18 1-19 1 33 1-68 1 28 1 6 1-5 1-47 1 17 1 48 1-29 1 8 1 47 1-10 1-26 1-14 1-35 1 14 1-68 1 58 1-12 1 38 1-45 1 46 1-11 1 49 1-66 1 9 1 44 1-14 1 35 1-13 1 16 1-33 1 15 1-5 1 3 1-102 1-55 1 112 1-11 1-17 1 15 1 0 1 28 1-14 1-36 1 0 1-44 1 53 1-18 1-132 1 131 1 46 1 11 1-41 1 89 1-40 1-31 1-31 1-47 1 70 1 16 1 29 1-19 1-16 1 22 1-3 1-5 1 65 1-53 1-58 1 86 1-101 1-7 1 146 1-90 1-49 1 30 1 52 1-25 1 61 1-18 1-50 1-22 1 49 1-34 1 54 1-11 1-27 1 17 1-10 1 27 1 126 1-159 1 10 1 37 1-70 1 24 1 47 1 9 1-45 1 5 1-14 1 9 1-4 1 25 1 4 1 8 1-43 1 78 1-75 1 88 1-44 1 7 1 21 1-32 1-19 1-24 1 54 1 11 1-48 1-79 1 52 1 3 1 7 1 13 1-2 1 18 1-21 1 54 1-62 1 22 1 28 1-40 1 35 1-4 1-42 1 20 1 8 1-17 1-90 1 111 1-87 1 76 1-14 1-28 1 17 1 59 1-25 1-61 1 16 1 0 1 45 1-45 1 25 1 31 1-34 1 9 1 8 1 17 1 8 1-45 1-65 1 95 1-2 1 22 1 0 1-34 1-14 1 32 1 28 1-31 1-9 1 36 1 6 1 28 1-28 1 22 1-41 1 16 1 4 1-12 1-23 1 20 1-30 1 13 1 2 1 52 1-72 1-57 1 33 1-10 1 14 1 28 1-33 1 67 1-39 1-2 1 36 1-71 1 20 1-8 1-22 1 21 1 4 1 23 1 53 1-52 1 3 1-27 1-7 1-10 1 65 1 2 1-49 1 12 1 27 1-9 1-33 1-35 1 69 1-26 1-7 1 27 1 9 1-6 1-30 1-67 1-9 1 110 1-48 1-12 1-40 1 54 1-21 1-18 1 76 1-23 1-39 1 28 1 20 1-42 1 12 1 65 1-7 1-37 1 10 1-44 1 39 1 5 1 23 1 7 1-19 1 13 1 0 1-17 1-18 1-13 1-9 1 30 1 53 1-9 1-57 1 35 1 2 1 29 1-4 1 6 1-24 1-15 1 14 1-42 1 15 1 109 1-64 1-66 1 59 1-41 1 13 1 3 1-70 1 7 1 24 1 15 1-24 1 16 1-2 1 7 1 33 1 40 1-89 1-4 1-3 1 5 1 92 1-37 1-20 1-27 1-34 1 101 1 4 1-43 1-35 1-46 1 38 1-1 1 40 1 14 1 6 1-11 1 3 1 12 1 23 1-79 1 72 1-7 1-24 1 24 1-31 1 3 1 20 1-18 1 0 1-23 1 19 1-4 1-5 1 38 1-30 1 6 1-66 1 16 1 6 1-17 1 59 1-30 1-11 1-10 1 24 1-13 1 18 1-54 1 7 1 23 1 17 1-40 1-13 1 84 1-36 1-36 1 1 1 88 1-52 1 7 1-34 1 19 1 38 1-19 1-21 1 67 1-31 1-4 1 8 1 29 1-37 1-6 1-22 1 14 1 20 1 31 1 6 1-113 1 54 1 33 1-5 1-1 1-22 1 47 1-19 1 39 1-9 1-33 1 36 1 94 1-81 1-62 1 15 1-20 1-14 1 64 1-23 1-31 1 180 1-134 1 7 1 25 1-16 1 0 1 44 1-24 1-1 1 17 1-30 1-10 1 41 1-29 1-6 1 54 1-101 1 49 1-10 1-18 1 44 1-20 1-15 1-13 1 36 1 15 1-90 1 65 1-51 1 75 1-45 1-35 1 38 1 69 1-25 1-36 1-5 1-10 1-21 1-20 1 23 1 77 1-42 1-10 1 26 1-30 1-23 1-54 1 11 1 34 1 1 1 68 1-6 1-52 1-50 1 106 1-39 1-32 1 9 1 4 1 22 1 28 1-75 1 45 1 4 1 5 1-40 1-11 1 15 1 1 1-21 1 6 1 43 1 1 1-72 1 60 1-33 1-14 1 42 1 2 1-17 1-46 1 55 1 89 1-79 1-20 1-121 1 134 1-64 1 81 1-45 1 21 1 9 1-36 1 36 1 18 1-35 1-33 1 49 1 109 1-68 1-64 1 70 1-74 1-12 1-23 1 55 1-40 1 56 1-31 1-21 1 40 1-25 1 16 1 1 1-44 1 53 1-18 1-15 1 36 1 84 1-27 1-35 1 56 1-113 1 29 1-50 1 43 1-11 1 4 1-31 1 28 1-50 1 31 1-30 1 52 1-72 1 61 1 38 1 58 1-93 1 62 1-95 1 26 1 38 1 82 1-89 1-39 1 28 1-19 1 14 1-2 1 37 1-31 1 13 1 31 1-38 1 15 1-35 1 32 1 0 1 47 1-60 1 28 1-31 1-12 1 32 1-53 1-9 1-4 1 69 1-16 1-31 1 3 1-1 1 36 1-16 1 2 1 15 1-66 1-16 1 40 1-44 1 58 1-4 1 6 1 2 1 36 1-31 1 35 1 21 1 21 1-26 1-31 1 20 1 10 1-1 1-5 1-53 1 43 1-24 1 11 1-15 1 76 1-50 1 5 1-12 1 24 1-44 1 1 1 2 1-3 1-30 1 82 1-40 1 23 1-61 1 46 1-33 1 49 1 4 1-28 1-3 1 20 1-22 1-28 1 13 1 38 1-47 1 21 1 2 1 52 1-24 1-1 1-71 1 26 1 1 1 13 1-33 1 58 1-20 1 0 1-34 1 72 1-11 1-24 1 19 1-42 1-11 1-15 1 30 1 27 1-13 1 17 1-12 1-54 1 33 1-49 1 4 1 34 1 15 1-44 1 13 1 44 1 23 1-89 1 36 1-56 1 58 1-10 1-65 1 80 1-21 1 6 1-11 1-21 1 6 1 54 1-20 1 11 1 40 1 13 1-22 1-26 1-68 1 29 1-17 1 157 1-99 1-72 1 82 1-51 1 55 1-81 1 64 1-25 1-19 1-7 1 8 1 21 1 5 1-4 1-5 1-8 1 30 1 104 1-55 1-48 1-4 1-48 1 5 1 44 1 73 1-68 1 83 1-7 1-63 1 49 1 42 1-67 1 30 1-38 1-3 1-11 1 28 1-4 1 29 1-20 1 48 1-35 1-23 1 2 1 43 1-54 1 38 1 14 1-27 1 34 1 33 1-10 1-39 1-21 1 17 1-60 1 16 1-23 1 64 1-75 1 1 1-20 1 38 1 5 1 37 1-23 1 1 1-49 1 34 1 99 1-103 1-70 1 51 1 8 1 10 1 8 1-65 1-18 1 63 1-37 1 29 1-8 1 12 1-8 1-60 1 108 1-25 1 19 1-16 1 37 1-16 1-8 1-5 1 9 1 15 1-22 1 53 1-37 1 1 1-44 1 34 1-74 1 20 1 24 1-6 1 27 1 6 1 3 1-29 1-49 1 61 1 49 1-45 1 38 1-45 1 1 1 12 1-41 1 35 1-27 1-13 1 30 1-21 1 9 1 39 1-37 1-1 1 4 1 11 1-37 1-9 1-21 1 81 1-36 1 8 1-21 1 2 1 64 1-22 1-11 1-7 1 4 1 16 1 53 1-39 1-53 1-33 1 111 1-28 1-38 1-35 1 7 1 23 1 5 1-14 1 72 1-14 1-18 1-8 1-11 1 82 1-33 1-18 1-25 1-66 1 65 1-3 1-36 1-33 1 43 1 32 1-41 1 19 1-5 1-33 1 47 1 14 1 70 1-62 1 40 1-81 1-7 1 33 1-6 1 26 1-17 1 141 1-105 1-30 1 16 1-25 1 86 1-119 1 62 1 41 1-56 1 27 1-4 1-86 1 82 1 4 1-32 1 54 1-28 1 34 1-1 1-35 1-17 1-94 1 77 1-113 1 104 1 48 1 5 1-62 1 4 1 31 1 41 1-130 1 117 1 10 1-31 1-12 1 91 1 7 1-64 1-6 1 105 1-39 1 4 1-54 1-51 1 68 1-31 1-18 1 30 1-71 1 1 1 53 1-4 1-29 1-42 1 59 1 20 1-10 1 12 1 33 1-56 1 1 1 37 1 0 1-15 1-27 1-94 1 38 1 51 1-28 1 39 1-27 1 21 1 11 1 0 1-46 1 17 1-16 1-34 1 45 1 50 1-34 1 12 1 8 1-52 1 78 1 18 1-47 1 45 1-17 1-7 1 18 1-18 1-28 1 11 1 31 1-58 1-24 1 38 1 27 1-23 1-20 1 8 1 28 1-50 1 30 1 52 1-42 1 12 1-41 1 25 1 68 1-64 1-4 1 11 1 32 1-112 1 20 1 33 1 38 1-32 1 23 1 2 1 6 1-14 1 5 1 5 1-33 1 14 1 21 1-19 1 3 1-8 1 23 1-39 1 35 1-14 1 82 1-43 1 61 1-98 1 9 1-30 1 4 1-11 1 27 1-6 1-39 1 30 1-28 1 30 1-32 1 55 1-29 1-28 1 64 1-2 1-57 1 13 1 112 1-18 1-60 1 18 1 5 1-89 1 78 1-1 1-32 1 35 1-14 1 28 1-33 1-6 1-17 1 2 1 40 1 11 1-14 1-32 1 9 1-15 1 72 1-33 1-111 1 87 1-13 1 3 1 40 1 0 1 75 1-35 1-20 1-46 1 40 1-35 1-6 1 23 1-22 1-187 1 172 1 33 1-29 1 8 1-8 1 40 1-36 1 32 1-13 1 14 1-145 1 106 1 19 1-46 1 43 1-13 1 42 1-24 1-8 1 80 1-110 1 20 1-3 1-4 1-17 1 12 1 42 1-52 1 15 1 17 1-24 1-35 1 43 1-47 1 56 1-35 1-7 1 13 1-4 1 4 1 0 1-56 1 2 1-66 1 116 1-40 1 43 1 15 1-1 1-40 1 21 1-52 1 53 1 17 1-52 1 51 1-14 1 6 1-33 1-51 1 52 1-12 1 16 1-2 1-10 1 48 1-39 1-1 1 3 1 25 1-6 1 3 1 39 1-40 1-17 1 44 1-17 1 14 1 31 1-24 1 45 1-19 1-43 1-19 1 11 1 7 1 19 1-69 1 35 1-26 1 35 1 25 1 25 1-24 1 40 1-9 1 8 1-35 1-7 1-42 1 47 1 89 1-18 1-38 1-5 1-8 1 104 1-83 1-9 1 12 1-71 1 83 1-17 1-40 1 47 1-20 1 26 1-45 1 13 1-29 1 3 1 11 1-7 1-9 1-23 1-19 1-13 1 52 1-39 1 33 1 32 1-42 1 15 1-18 1 29 1-39 1 4 1-3 1-3 1 41 1-1 1-78 1-52 1 56 1 43 1 32 1 6 1 6 1-41 1 28 1-34 1 25 1 56 1-71 1-21 1 41 1 5 1 6 1-20 1 29 1-33 1 24 1 23 1-41 1 19 1-25 1 114 1-49 1-17 1 17 1-11 1 41 1-22 1 15 1 6 1-29 1 3 1 4 1 5 1-6 1-58 1-7 1 17 1 0 1-29 1 60 1-35 1-47 1 13 1 3 1-72 1 71 1 58 1 42 1 2 1-41 1-2 1-50 1 61 1 24 1-57 1-35 1-4 1 48 1-46 1 142 1-103 1-29 1 36 1 3 1 33 1-68 1-20 1 31 1 44 1 24 1-42 1-38 1-2 1 75 1 47 1-70 1-25 1-37 1 20 1-7 1-9 1 14 1-25 1 31 1 38 1 18 1 3 1 12 1-54 1-18 1 19 1-59 1 68 1-30 1 24 1 1 1 8 1-24 1 26 1-63 1 43 1-28 1-40 1 15 1 10 1 10 1 83 1-14 1-94 1 14 1 38 1-2 1-11 1 1 1-56 1 59 1-21 1 19 1 50 1-31 1-8 1 14 1-27 1 15 1-34 1 23 1-25 1 77 1-44 1-3 1 10 1-32 1 30 1-44 1 34 1-8 1-26 1 24 1-4 1-9 1 59 1 24 1-5 1-37 1-86 1 59 1-60 1 67 1-22 1-2 1 11 1-5 1-7 1 5 1 14 1 16 1 24 1 4 1-33 1-7 1 19 1 37 1-71 1 53 1-34 1 51 1-29 1-42 1 36 1 1 1-2 1 33 1-48 1 12 1-5 1 6 1 1 1-4 1 3 1 19 1 0 1-6 1-54 1 1 1 43 1 25 1-51 1-5 1 19 1 12 1-3 1-34 1 13 1 15 1-20 1-2 1 37 1-8 1 18 1-4 1-13 1 60 1-17 1-99 1 83 1 4 1-11 1-45 1 157 1-76 1-70 1-18 1 30 1 2 1-14 1 4 1-66 1 6 1 13 1 25 1 31 1-9 1 45 1-15 1-4 1-11 1 25 1-12 1-60 1 22 1-7 1 59 1-19 1-27 1-19 1 55 1-61 1 0 1 2 1 14 1 8 1 9 1-31 1 51 1 0 1-21 1-7 1 21 1 6 1 16 1-6 1-34 1 53 1-23 1-31 1 46 1-55 1-3 1 26 1 23 1 5 1-23 1-14 1 7 1 6 1-5 1-33 1-11 1-14 1-6 1-18 1 30 1 65 1-60 1 51 1-20 1 30 1 22 1-7 1 54 1-4 1-74 1-1 1-24 1 35 1-25 1 24 1 22 1-56 1 50 1 23 1-26 1 2 1 51 1-3 1-48 1 20 1-32 1-29 1 19 1 36 1-11 1-17 1 33 1-144 1 115 1-11 1-10 1 43 1-4 1 28 1-4 1 61 1-32 1-27 1 21 1-33 1 12 1-25 1-36 1 1 1 58 1-17 1 16 1 44 1-22 1-42 1-51 1 17 1 14 1-10 1 19 1-38 1-6 1 33 1 10 1 3 1 9 1 15 1 14 1 4 1-28 1 58 1-63 1 9 1-24 1-4 1 33 1-28 1-13 1-17 1-2 1 2 1 31 1-21 1-65 1 105 1-43 1 23 1-86 1 83 1 48 1-30 1-21 1 5 1-32 1 12 1 8 1-52 1 108 1-115 1 36 1-71 1 83 1-38 1 48 1 69 1-79 1 8 1-4 1-103 1 114 1 3 1-78 1 21 1-32 1 96 1-29 1-1 1 25 1-37 1 55 1 13 1-48 1-11 1-1 1 30 1 47 1-51 1-9 1 2 1-18 1-12 1 23 1-41 1 35 1 13 1 28 1-29 1-8 1-45 1 5 1 23 1-9 1 37 1-21 1-62 1 55 1 10 1-15 1 54 1-48 1 21 1 24 1 4 1-1 1 1 1 30 1-57 1-3 1 21 1 33 1 15 1-34 1-32 1-38 1 7 1 16 1 29 1-4 1-22 1-44 1 31 1-23 1 63 1-20 1 11 1 97 1-76 1-30 1 29 1-33 1 35 1 35 1-7 1-21 1-3 1-2 1 24 1-28 1-17 1 37 1-7 1 12 1-41 1 23 1-32 1 2 1-44 1 35 1-1 1 53 1 25 1-59 1-23 1-1 1 30 1-14 1 28 1-5 1-1 1 34 1-42 1 6 1-17 1 58 1 38 1-108 1-15 1-13 1 45 1 7 1-8 1-15 1 14 1-57 1 44 1 13 1-23 1 37 1-58 1 69 1-47 1-1 1 2 1-23 1 13 1 23 1-51 1 20 1 56 1-39 1 5 1-34 1-8 1 53 1 13 1 8 1-45 1-40 1 19 1-8 1 16 1 14 1-32 1-13 1 58 1-19 1-12 1 31 1-26 1 44 1 17 1-11 1-57 1 53 1 3 1 58 1-52 1-18 1 43 1 18 1-23 1-105 1 89 1 26 1-32 1 3 1-9 1 12 1 35 1-13 1 16 1-19 1 2 1 27 1-29 1 23 1-40 1-25 1-55 1 90 1-50 1 48 1-73 1-15 1 4 1 21 1 16 1 36 1-52 1 23 1-18 1 43 1-53 1 10 1-9 1 24 1 22 1-19 1-16 1 11 1-10 1 16 1-60 1 23 1 21 1-31 1 46 1 16 1 49 1-20 1-16 1-32 1-16 1 84 1-72 1-10 1-40 1 79 1-20 1 35 1-25 1-14 1 5 1 3 1 16 1-28 1-41 1 68 1-24 1 20 1-23 1-22 1 47 1-67 1 61 1 17 1 41 1-6 1-62 1-22 1 17 1 41 1 2 1 30 1-86 1 45 1-3 1 46 1-49 1 18 1-72 1 69 1 1 1-37 1 51 1 6 1-51 1 27 1-15 1-22 1 90 1-52 1-13 1-8 1 14 1-24 1 2 1-16 1 29 1-10 1-32 1 8 1 35 1-85 1 30 1-7 1 40 1-17 1 11 1-89 1 0 1 63 1-4 1-38 1 58 1-6 1-15 1 20 1 1 1-22 1 30 1-41 1-63 1 118 1 92 1-109 1 9 1-119 1 33 1 43 1 56 1-8 1 4 1-23 1 6 1 40 1-64 1 8 1 38 1-46 1 11 1-17 1 60 1-49 1 173 1-220 1 25 1 19 1-13 1 67 1-77 1 42 1 0 1-52 1 4 1 34 1 21 1 5 1-57 1 47 1 5 1 32 1-11 1-37 1-8 1-30 1 66 1-30 1 34 1-11 1 17 1 32 1-44 1 2 1-29 1 1 1 22 1-30 1 14 1-19 1 35 1 61 1-59 1-36 1-73 1 55 1 30 1-36 1 25 1 15 1-8 1-26 1 55 1-40 1-11 1 55 1-54 1 33 1-47 1-11 1-8 1 77 1-44 1 51 1-1 1 15 1-63 1-9 1 38 1-30 1-5 1 8 1-15 1 14 1-21 1-88 1 87 1 52 1-35 1-1 1-3 1-28 1 47 1 0 1-29 1 39 1-25 1-34 1 36 1 22 1-45 1 62 1-68 1-16 1 6 1 19 1 35 1-36 1-74 1 35 1-22 1 44 1 26 1 29 1-40 1 6 1-29 1-42 1 77 1 20 1-15 1 0 1 15 1-14 1 22 1-24 1-26 1 51 1-23 1-39 1 52 1-38 1 59 1-26 1 27 1-32 1-55 1 109 1-16 1-4 1 64 1-1 1-59 1 55 1-63 1 22 1-54 1 16 1 19 1 1 1-8 1 47 1 28 1-29 1-4 1-32 1 7 1-37 1-65 1 73 1 23 1 0 1 20 1-22 1-37 1 24 1-15 1-13 1 19 1 33 1 0 1-7 1-31 1-3 1 44 1-32 1 60 1-29 1 37 1-18 1 15 1-6 1 15 1-51 1 17 1-1 1 11 1 41 1 20 1-19 1-23 1-73 1 47 1-54 1 40 1-51 1 45 1-49 1 47 1 0 1 45 1-73 1-26 1-26 1 60 1 10 1 3 1 0 1 9 1 54 1-6 1-38 1-54 1-28 1 82 1-26 1 32 1 12 1-28 1 34 1-28 1-4 1 12 1-28 1-15 1-75 1 95 1 68 1 25 1-82 1 14 1-20 1 32 1 16 1-30 1 1 1-38 1 43 1-50 1-67 1 100 1 103 1-118 1-34 1 6 1 66 1-25 1 56 1-124 1 81 1-14 1 62 1-39 1 26 1-67 1-28 1 49 1 21 1-49 1 52 1-14 1-31 1 34 1-5 1-36 1 54 1-33 1 7 1-48 1 21 1 17 1 22 1 3 1-16 1-26 1-18 1 8 1-16 1 4 1 14 1-37 1-24 1 87 1-15 1-69 1 94 1-19 1-61 1 16 1-20 1 25 1 27 1-37 1 18 1 36 1 75 1-73 1-57 1 93 1-70 1 54 1 16 1 2 1-105 1 105 1-3 1-31 1-8 1-30 1 3 1-14 1 38 1-75 1 58 1 21 1-46 1 58 1 18 1-18 1-2 1-46 1 37 1-6 1 25 1-21 1 24 1-48 1 54 1-83 1 23 1 3 1 66 1 36 1-93 1-39 1 15 1 57 1-29 1 43 1-33 1-88 1 51 1 3 1 107 1-89 1 24 1-42 1 12 1 68 1 59 1-80 1-25 1 0 1 9 1 25 1-8 1-28 1-6 1 34 1-65 1 32 1 13 1-37 1 16 1 65 1-31 1-55 1 22 1-29 1-10 1 19 1 34 1 19 1-5 1-69 1 68 1-26 1-2 1-12 1-5 1 54 1-58 1-26 1 52 1 12 1 9 1-3 1-68 1-47 1 83 1-41 1 8 1 74 1 8 1 26 1-52 1 42 1-3 1-70 1 69 1 13 1-12 1-24 1 13 1-51 1 41 1-29 1-4 1 29 1 12 1 14 1-21 1-1 1 24 1-2 1-15 1-21 1 22 1 39 1-42 1-92 1 29 1 73 1 35 1-38 1 21 1-8 1-18 1-4 1-9 1-17 1 10 1 0 1-2 1 24 1-5 1-13 1-92 1 31 1 58 1-2 1 25 1-15 1-26 1 40 1 68 1-68 1-34 1 37 1-61 1 41 1 86 1-84 1 10 1-51 1 18 1 0 1-33 1-7 1 13 1-9 1 9 1-37 1 57 1-12 1 20 1-20 1 4 1 22 1-30 1 80 1-32 1-8 1-28 1 23 1-44 1 37 1 37 1-51 1 33 1-33 1 10 1 23 1 4 1 35 1-31 1-11 1 16 1-42 1 12 1 10 1 37 1 13 1 5 1-63 1-2 1 31 1 0 1-63 1 64 1-22 1-61 1 85 1-57 1 5 1 6 1 10 1-41 1-48 1 28 1 72 1 24 1-69 1-83 1 42 1 3 1 31 1 18 1 33 1-34 1-24 1 1 1 33 1-2 1-11 1-33 1 55 1-17 1 7 1 53 1-63 1 6 1 49 1 2 1-27 1 9 1 27 1-36 1 86 1-79 1 13 1-35 1 75 1-45 1-33 1-3 1 1 1 19 1-43 1 33 1-42 1 87 1-23 1-14 1-1 1-7 1 57 1-10 1-13 1-14 1-11 1 2 1 81 1-41 1 28 1-18 1-7 1-9 1 14 1 33 1-72 1 76 1-56 1-67 1 62 1-43 1 1 1 48 1-6 1 25 1-51 1-35 1-8 1 114 1-73 1-12 1 31 1-24 1 15 1-2 1 23 1-13 1 86 1-76 1-23 1-24 1 64 1-52 1 1 1-7 1 51 1 14 1-19 1 7 1-85 1 62 1 4 1-46 1 48 1 8 1-58 1 54 1 30 1-17 1-52 1 38 1 26 1 37 1-67 1-20 1-25 1-3 1 52 1-8 1-18 1-16 1 33 1 9 1 2 1 93 1-128 1 3 1-36 1 78 1-35 1 8 1-33 1-5 1 30 1-27 1 50 1-105 1 42 1 86 1-102 1-43 1 78 1-4 1 25 1-2 1-45 1 36 1-35 1 12 1-49 1 44 1 25 1-20 1 71 1-72 1 17 1-8 1-14 1 38 1-21 1-26 1-46 1 11 1 59 1 36 1-8 1-47 1 25 1 8 1 37 1 35 1-14 1-35 1-26 1 27 1-7 1-19 1-19 1 42 1-19 1 11 1-8 1-2 1 67 1 7 1-57 1 12 1-15 1-39 1-28 1 74 1 9 1-35 1-26 1 66 1-60 1 24 1 7 1 19 1-23 1-10 1 28 1 46 1-32 1-8 1-27 1-10 1 45 1 10 1-46 1 45 1-64 1-2 1 66 1-42 1 13 1-24 1-3 1 7 1 16 1-14 1 70 1-23 1-23 1 8 1 12 1-4 1 26 1 17 1-78 1-11 1 1 1 29 1 26 1-12 1-125 1 96 1 47 1-53 1 48 1-8 1-40 1 29 1-115 1 138 1-23 1-18 1-69 1 47 1-2 1 27 1-8 1 12 1-20 1 14 1 8 1-21 1 15 1 35 1-142 1 94 1 21 1-3 1-52 1 34 1 12 1-23 1-6 1 24 1-41 1 5 1 65 1-24 1 13 1 3 1-32 1-1 1-26 1 58 1-41 1 20 1-2 1-32 1-48 1 64 1-2 1-11 1 37 1-12 1 8 1 37 1-64 1 20 1-1 1-36 1 14 1 34 1 27 1-31 1-2 1-23 1 23 1 14 1-5 1-32 1 78 1-100 1 24 1-47 1 22 1 51 1 7 1-12 1 7 1 9 1 18 1-21 1-16 1-31 1 54 1-30 1-57 1 35 1 59 1-44 1 18 1-10 1-14 1-9 1-8 1 10 1 39 1-51 1 27 1 10 1-42 1 6 1 37 1 49 1-28 1-6 1 6 1-57 1 49 1 16 1 18 1 61 1-71 1 13 1-18 1-19 1-16 1 12 1-33 1-3 1 38 1-7 1-9 1 43 1-73 1 8 1-8 1 34 1-8 1-14 1-56 1 78 1-5 1 3 1 15 1 35 1-26 1 0 1 6 1 9 1-61 1 16 1-20 1 26 1-15 1 17 1 16 1-68 1 100 1-40 1 17 1-9 1-55 1 14 1 43 1-42 1-28 1 17 1-82 1 94 1-34 1 20 1-9 1 5 1 60 1-16 1 14 1-19 1-116 1 103 1-17 1 24 1-44 1 45 1-29 1 22 1-4 1-16 1-33 1 73 1-44 1 4 1-81 1 90 1-20 1-27 1 67 1-34 1 1 1 14 1-20 1 34 1-23 1-23 1 17 1-11 1 13 1 12 1-67 1 31 1 36 1 47 1-50 1 125 1-116 1-30 1 31 1 10 1-17 1-37 1 29 1 5 1 7 1-5 1 41 1-17 1-64 1-5 1 10 1-28 1 58 1 12 1 7 1 7 1-10 1-31 1 29 1 14 1 50 1-114 1 79 1-9 1-9"/>
<path class="g" transform="scale(0.053881,0.2)" d="M0,781l1-61 1 1 1 65 1-35 1-39 1-37 1 40 1-4 1 30 1 14 1-15 1 29 1 25 1-36 1 10 1-39 1 70 1-17 1-7 1-24 1 52 1-53 1-102 1-7 1 133 1-43 1-24 1 20 1 14 1 34 1-19 1-26 1 67 1 25 1-73 1 5 1-61 1-21 1-38 1 41 1 49 1-183 1 163 1 5 1 37 1-42 1 31 1 85 1-69 1-7 1-20 1-4 1 10 1-71 1 70 1 2 1-12 1-55 1 24 1 38 1 51 1 78 1-132 1-18 1-7 1 57 1-50 1-7 1 4 1-38 1 58 1 42 1-34 1 7 1 47 1 9 1-38 1 29 1-76 1 45 1-27 1 71 1-33 1-7 1-56 1 28 1-24 1 23 1-37 1 18 1-52 1 90 1-25 1 36 1-38 1 0 1-46 1 0 1 9 1-29 1 101 1-46 1 29 1-63 1 25 1-5 1 23 1 42 1-74 1-21 1 40 1-50 1 3 1 55 1 70 1 46 1-100 1-9 1 46 1-38 1-56 1 77 1-1 1-45 1 16 1 41 1 14 1-14 1-35 1 45 1-12 1 43 1-20 1-70 1-13 1 48 1 17 1-105 1 29 1 142 1 101 1-164 1-31 1 6 1-57 1 38 1 8 1-9 1-52 1 33 1-36 1 91 1-77 1 4 1 65 1-27 1-1 1 31 1-30 1-30 1-59 1 37 1 5 1 34 1-18 1 11 1 81 1-67 1-24 1 9 1-30 1 63 1-39 1 14 1-39 1-9 1-1 1-40 1 62 1 72 1 39 1-67 1 43 1-43 1-99 1 36 1-25 1 26 1 61 1-21 1 22 1 29 1-70 1 62 1 48 1-15 1-33 1-47 1 16 1 93 1 31 1-26 1-3 1-37 1-33 1 27 1-99 1 3 1 45 1-13 1 28 1-12 1-11 1 29 1 90 1-103 1 8 1 10 1 103 1-11 1-20 1-34 1-144 1 60 1 92 1-3 1-100 1 20 1-8 1-36 1 79 1-3 1 42 1-76 1 70 1-95 1-15 1 92 1 8 1-17 1-100 1-21 1 79 1-60 1-26 1 63 1-20 1 34 1-27 1 28 1 4 1-134 1 38 1 41 1 18 1 24 1 2 1 50 1-23 1 71 1-81 1 17 1-43 1-62 1 29 1-29 1 97 1-22 1 26 1-24 1-1 1 26 1-33 1 85 1 7 1-23 1 53 1-78 1-48 1 42 1 4 1-87 1 23 1 24 1-17 1 12 1-124 1 54 1 14 1 5 1-46 1 50 1 11 1 134 1-84 1 16 1-52 1-52 1 85 1 36 1-71 1-3 1 23 1 13 1-1 1 61 1 15 1-202 1 93 1 76 1-35 1 6 1 75 1-17 1-31 1-1 1 41 1 156 1-282 1 29 1 30 1-9 1 13 1 11 1-34 1-47 1-80 1 190 1-19 1 7 1 86 1-72 1-63 1 25 1-62 1 51 1-5 1 27 1 5 1-53 1-10 1 56 1 121 1-65 1-9 1-21 1-46 1 48 1 15 1 90 1-258 1 229 1-55 1-23 1-121 1 97 1-119 1 3 1 142 1-36 1 31 1 34 1-101 1 95 1 36 1 99 1-106 1-20 1 12 1-24 1 154 1-90 1-31 1-175 1 125 1-5 1-19 1-37 1 73 1-29 1 61 1-48 1-23 1-73 1 186 1-87 1-13 1 66 1-61 1-38 1 12 1 8 1 70 1-83 1 2 1 52 1 17 1 15 1-99 1 3 1 70 1 8 1-31 1-18 1-19 1 70 1-83 1 14 1-43 1 52 1 39 1 24 1-66 1 1 1 4 1 64 1 20 1-39 1-66 1 76 1 37 1-21 1-70 1 96 1-126 1-33 1 61 1 49 1-2 1 6 1 63 1-100 1-2 1-9 1 9 1 17 1-47 1 32 1 25 1 11 1 62 1-92 1 16 1 16 1 62 1-51 1-20 1-21 1-2 1 32 1-84 1 16 1 19 1 30 1-79 1 53 1 16 1-25 1 9 1 23 1 6 1 17 1-51 1 53 1-41 1-34 1 13 1-25 1 19 1 29 1 1 1 24 1-1 1 17 1-54 1-37 1 47 1-52 1 8 1 20 1 93 1 16 1-101 1-8 1-33 1 10 1 39 1-48 1-22 1 30 1 10 1-17 1-13 1 135 1-66 1 45 1-58 1-24 1 59 1-11 1 47 1-62 1 9 1-51 1 3 1 29 1-73 1 62 1-10 1 49 1-48 1-20 1-7 1-3 1 51 1 33 1-24 1 7 1-1 1 46 1-50 1-57 1 71 1-23 1 149 1-127 1-37 1-16 1 28 1-19 1 35 1-17 1 11 1 32 1-212 1 238 1-53 1-10 1-31 1 102 1-19 1-5 1-34 1-35 1 60 1 11 1-60 1 53 1 30 1-31 1-13 1-16 1-24 1-20 1 47 1-7 1-12 1 70 1-63 1 19 1 8 1-1 1-19 1-2 1-11 1-22 1 23 1-65 1 22 1 37 1-13 1 43 1-5 1 3 1 58 1-175 1 43 1 37 1 5 1 4 1-4 1-27 1 66 1 2 1-9 1-37 1-42 1 7 1-4 1 35 1-26 1 17 1 37 1 9 1-32 1-64 1 11 1 13 1-14 1 45 1-5 1-4 1-20 1 8 1 2 1 36 1-39 1-87 1 184 1-97 1 1 1 29 1-25 1-36 1 75 1 50 1-47 1-38 1-7 1 91 1-8 1 30 1-40 1-46 1-15 1 29 1-20 1 81 1-81 1 20 1-4 1 34 1 12 1-47 1-20 1 53 1 24 1-72 1 14 1-10 1 8 1-50 1-26 1 80 1-14 1 0 1-8 1 2 1 58 1-44 1-11 1-1 1 4 1 23 1-55 1 39 1-2 1 45 1-29 1 2 1 13 1-13 1-2 1 36 1-9 1 29 1-31 1-1 1 64 1 26 1-14 1-68 1 76 1-52 1-28 1-4 1-11 1 13 1-27 1 22 1-33 1 61 1-27 1 29 1-21 1 24 1-43 1 60 1-6 1-4 1-38 1-24 1 36 1 19 1-33 1-6 1 62 1-60 1-4 1-65 1 44 1-2 1-33 1 41 1-10 1 21 1 19 1 7 1 28 1-13 1 17 1-20 1 7 1 39 1 44 1-89 1 11 1 78 1-90 1-35 1-18 1 56 1-43 1-25 1-18 1 23 1 27 1 20 1-16 1 33 1-23 1-30 1 44 1-19 1-51 1 40 1 11 1-3 1-45 1-11 1 26 1-9 1 56 1 3 1-13 1-23 1 32 1-33 1 4 1 3 1 47 1-30 1 11 1-108 1 76 1-5 1-1 1-34 1 0 1 60 1 4 1-2 1-94 1 63 1-11 1-67 1 24 1 22 1 79 1-25 1-25 1-32 1 48 1 19 1-22 1-16 1-3 1 21 1 17 1-6 1 24 1-6 1-56 1 41 1 11 1-1 1-14 1-5 1 1 1-3 1-21 1 48 1-5 1-50 1-42 1 69 1-47 1 46 1-20 1 45 1 30 1-42 1 5 1 19 1-27 1-63 1 28 1-7 1 80 1-24 1-27 1 12 1 2 1-1 1-20 1-24 1-5 1 16 1 15 1-85 1 81 1 26 1-61 1-49 1 56 1 10 1 45 1-43 1-8 1 7 1 36 1-5 1-7 1-33 1-31 1 69 1 29 1-24 1-31 1 9 1-2 1 9 1-18 1-20 1 9 1 9 1 3 1 30 1 13 1 43 1-78 1 46 1-122 1 52 1-23 1 25 1-2 1-3 1 61 1-28 1-30 1 58 1-85 1 73 1-2 1-13 1-55 1 62 1 56 1-26 1-7 1-25 1 37 1 65 1-79 1 60 1-46 1-10 1-44 1-1 1 36 1 39 1 6 1-47 1 12 1-3 1-44 1 11 1 11 1-9 1 19 1 41 1-19 1-12 1-5 1-13 1 0 1 15 1 22 1-14 1-7 1 23 1-44 1-14 1-55 1 38 1 1 1-51 1 53 1 54 1-51 1 15 1 16 1-49 1 21 1 35 1 41 1-40 1-4 1-37 1 11 1 10 1 12 1-19 1-17 1-9 1-9 1 79 1-8 1-73 1 44 1 22 1-14 1-74 1 28 1-5 1 47 1-18 1 38 1-18 1-4 1-56 1 16 1-5 1-38 1 78 1 19 1 12 1-27 1-15 1-40 1 46 1 12 1 30 1-78 1 18 1-17 1-5 1 35 1 15 1-1 1-37 1 3 1-4 1 26 1-52 1 68 1 58 1-46 1 26 1-14 1 26 1-4 1-42 1 4 1 9 1-6 1-19 1 30 1-23 1 39 1-15 1 18 1 43 1-48 1-4 1 10 1-12 1-10 1 3 1 7 1 4 1 23 1-10 1 60 1-39 1-33 1 33 1-39 1 3 1-5 1 9 1 6 1-11 1-17 1-33 1-4 1 99 1-47 1 18 1-36 1 12 1 3 1 52 1 54 1-48 1-48 1-39 1 8 1-23 1 25 1-15 1 38 1-1 1-13 1-17 1-46 1 40 1 30 1 14 1 60 1-52 1-27 1 71 1-7 1 4 1-62 1 12 1-29 1 40 1-12 1-23 1 31 1-73 1 31 1 17 1 23 1-9 1-23 1-20 1 64 1-69 1 41 1 33 1 18 1-45 1 38 1-46 1 7 1-73 1 74 1-9 1-18 1 30 1-37 1 20 1 22 1 16 1-42 1 3 1-2 1-37 1 28 1 28 1-38 1-24 1-19 1 19 1 2 1 9 1-8 1 3 1 44 1 4 1-14 1-25 1 86 1-64 1 21 1-53 1 11 1 20 1-40 1 11 1 45 1 27 1-37 1 82 1-88 1-16 1 51 1-31 1 15 1-37 1 3 1 0 1 19 1 16 1-4 1-29 1-18 1 32 1-20 1-2 1 23 1 0 1 22 1 6 1-38 1-24 1 40 1-41 1-41 1-39 1 87 1 14 1 35 1-46 1 2 1-13 1 19 1-13 1 21 1 1 1-3 1 9 1 7 1-36 1-5 1 49 1-65 1 19 1 25 1 35 1-42 1-44 1 46 1-11 1 27 1 14 1-11 1 11 1-37 1-7 1-48 1 20 1 80 1-61 1-16 1 41 1-22 1 15 1 48 1-25 1-2 1-60 1 59 1 57 1-29 1-47 1-6 1-8 1 64 1-102 1 15 1 85 1-63 1 35 1-55 1-9 1 36 1 17 1 60 1-44 1-8 1-8 1-59 1 42 1-4 1 83 1-24 1-16 1-39 1-6 1-22 1 4 1 37 1-4 1 35 1 21 1-40 1 4 1-9 1 26 1-10 1 17 1-23 1-10 1 21 1 2 1-46 1-3 1 33 1-27 1 11 1-23 1-11 1 31 1-39 1 4 1 37 1 23 1-59 1 68 1 18 1-30 1 3 1 0 1-33 1-41 1-5 1 28 1 89 1-18 1-16 1-33 1 23 1-14 1 21 1-2 1 0 1 13 1 9 1 33 1-6 1-38 1 16 1 31 1 18 1-28 1-22 1-13 1 13 1-37 1 52 1-26 1-11 1 31 1 3 1-34 1 56 1 1 1-38 1 21 1-84 1 18 1 20 1 9 1 35 1-31 1 21 1 2 1-35 1-89 1 12 1 70 1-20 1 44 1-9 1 98 1-58 1-22 1-10 1-30 1 63 1-1 1-12 1-1 1-48 1 64 1-48 1 46 1-4 1-24 1-28 1 17 1 38 1 33 1-46 1-36 1 39 1-20 1-43 1 36 1-48 1 15 1 39 1-36 1 6 1-14 1 14 1-27 1 17 1 7 1-17 1-36 1 36 1-42 1 31 1 2 1 21 1 8 1 13 1-10 1-33 1 45 1-5 1-53 1 56 1-25 1 40 1-21 1 28 1-41 1 3 1 27 1-34 1 6 1 1 1-7 1 26 1-72 1 1 1 32 1 37 1-7 1 25 1-57 1-15 1 71 1 8 1-20 1 5 1-29 1 18 1-24 1 59 1 17 1-22 1-36 1-31 1-24 1 50 1-4 1 30 1-20 1-15 1-16 1 33 1-18 1 51 1 18 1 10 1-5 1-55 1 45 1-28 1-13 1-54 1 46 1-28 1 22 1 28 1-45 1 11 1 22 1-54 1 55 1-27 1 12 1 2 1 15 1-33 1-2 1-40 1 51 1 25 1 19 1-23 1-42 1 20 1 24 1-44 1 51 1-47 1 14 1-38 1 72 1-11 1 14 1 25 1-37 1-20 1-1 1 1 1 11 1 16 1-73 1 19 1-40 1 77 1-31 1 32 1-50 1 101 1-30 1 28 1-24 1-7 1 46 1 3 1-29 1 13 1 35 1-121 1 37 1-14 1 12 1 4 1 7 1-16 1-10 1 15 1 42 1 40 1-65 1-30 1 24 1 3 1 9 1-7 1-44 1 52 1 12 1-1 1 91 1-50 1-74 1 0 1 42 1 6 1-17 1-21 1 58 1-47 1-9 1 2 1-33 1-13 1-32 1 87 1-2 1-41 1 4 1 0 1 63 1-8 1-32 1-20 1 6 1-29 1-5 1 12 1 9 1 13 1-8 1-2 1-24 1 19 1 51 1-20 1-55 1-32 1 6 1 1 1 15 1 30 1-6 1 26 1 14 1-23 1 20 1-10 1 13 1 3 1-16 1 36 1-16 1-58 1 50 1 7 1-10 1-9 1 7 1-15 1 110 1-86 1-28 1-52 1 44 1-5 1-15 1-17 1 11 1 56 1-18 1-4 1-18 1 19 1 35 1-65 1 24 1 29 1-21 1 56 1-89 1 7 1-7 1 32 1-10 1-22 1-1 1 79 1-37 1-48 1-10 1-6 1-15 1 17 1-18 1-4 1 49 1 18 1 65 1-23 1-14 1 21 1-33 1 14 1-11 1-37 1-31 1 68 1-30 1 48 1 23 1-5 1-19 1-27 1 31 1 32 1-54 1 11 1 1 1-5 1 9 1-21 1 17 1-32 1-34 1-3 1 73 1-21 1 8 1-85 1 1 1 88 1-20 1 32 1-17 1-6 1 4 1 10 1-17 1 28 1-3 1 1 1-35 1 4 1 36 1 11 1-21 1-34 1 8 1 12 1-23 1 15 1-19 1 35 1-2 1-15 1 3 1 3 1 31 1-28 1-5 1 14 1 87 1-51 1-60 1 2 1-31 1 125 1-64 1-28 1 18 1-42 1 39 1-27 1-18 1 23 1-39 1 12 1 47 1 6 1 53 1-73 1 4 1 26 1 1 1-26 1-16 1-8 1-11 1-22 1 39 1 23 1 26 1 9 1-19 1 7 1-1 1 3 1 15 1-12 1-5 1-42 1-2 1-8 1 19 1 92 1-42 1-68 1 23 1-50 1 23 1 51 1-16 1 32 1-56 1 39 1-32 1 1 1 65 1-34 1-24 1-1 1-90 1 94 1-12 1 33 1 31 1-72 1-5 1 42 1-19 1 34 1 10 1 22 1-45 1-23 1 4 1 3 1-7 1-2 1-5 1 27 1-7 1 56 1-22 1-17 1-10 1-5 1-5 1 5 1-5 1-50 1 64 1 35 1-81 1 41 1-37 1-2 1-11 1 25 1-18 1 8 1-2 1-38 1-18 1 44 1 42 1 43 1 3 1-74 1-85 1 95 1-29 1 39 1-13 1 12 1 33 1 0 1 2 1-123 1 57 1 39 1 35 1-52 1 10 1 6 1 30 1-39 1 41 1-68 1 20 1 21 1-6 1 107 1-67 1-74 1-24 1 9 1 25 1-57 1 31 1 29 1-10 1-41 1 40 1-6 1 11 1 9 1 37 1-1 1-21 1 14 1-24 1-18 1 44 1 38 1-27 1-9 1 3 1-18 1 19 1 79 1-49 1-61 1 2 1 5 1 41 1 17 1-24 1-27 1-29 1 36 1 21 1-13 1 3 1 34 1-46 1 24 1-3 1 32 1-44 1-1 1-8 1 10 1-22 1-56 1 4 1 23 1 60 1-58 1-7 1 57 1-15 1 25 1 15 1 21 1-35 1-18 1 7 1 26 1-24 1-7 1-1 1 27 1-23 1-9 1 26 1-28 1-24 1 131 1 6 1-92 1-42 1 7 1-26 1 65 1 3 1 9 1-52 1 37 1-13 1 1 1 25 1-4 1 1 1 28 1-2 1-106 1 88 1-34 1 86 1-21 1-35 1-14 1 7 1-1 1-12 1 22 1 19 1 3 1-2 1-64 1 35 1-10 1-37 1-76 1 78 1 9 1 5 1-20 1 27 1-36 1-35 1 30 1 11 1-11 1-13 1-3 1 26 1 74 1-66 1-124 1 18 1-6 1 39 1 14 1 2 1 65 1-1 1-29 1-1 1-57 1 24 1 38 1-51 1 36 1 40 1-25 1-1 1-59 1 95 1 6 1 1 1-1 1-32 1 5 1-1 1 31 1 46 1-37 1-38 1-4 1-9 1 35 1-35 1 4 1-25 1 13 1 6 1 23 1 25 1-35 1-8 1 21 1-16 1 14 1-4 1 46 1-15 1-65 1 7 1 25 1 11 1-52 1 143 1-73 1-6 1 18 1-17 1 7 1 16 1-31 1-2 1-33 1-39 1 26 1-21 1 26 1-24 1 8 1-20 1-9 1 65 1 27 1-47 1 37 1-21 1-16 1-43 1 3 1 32 1 15 1 18 1-29 1 18 1-4 1-11 1-33 1 17 1 16 1-6 1-67 1 79 1-24 1 16 1 1 1-10 1 28 1-49 1 58 1 17 1 41 1-56 1 37 1 13 1 26 1-78 1 11 1-4 1 37 1-38 1-14 1 58 1-7 1-37 1 2 1-10 1 5 1 19 1 26 1 14 1-69 1 16 1 17 1 1 1 45 1-1 1-24 1-29 1 14 1 4 1 1 1 4 1-52 1 15 1-7 1 6 1 18 1-65 1 5 1 5 1 34 1 10 1 9 1-21 1 15 1 14 1-62 1 33 1 0 1 27 1-25 1 13 1 5 1-13 1 7 1-28 1-12 1 2 1 28 1-38 1 23 1 11 1 20 1-28 1-6 1 3 1 75 1-61 1 32 1-73 1 34 1-14 1 44 1 1 1-2 1-33 1 17 1 29 1-3 1-40 1 50 1-18 1-8 1 21 1 104 1-100 1-41 1 19 1-5 1-16 1-60 1 18 1 50 1 38 1-20 1-41 1 29 1-16 1 16 1-38 1 2 1-14 1-16 1 43 1-4 1 39 1 13 1 6 1-4 1-40 1-58 1 20 1 58 1-3 1 24 1 8 1-63 1-67 1 87 1 23 1-88 1 48 1 19 1-30 1 30 1 10 1-5 1 26 1-20 1-41 1-5 1 54 1-39 1-20 1 87 1-46 1 0 1-9 1 50 1-23 1-37 1 73 1 29 1-57 1-77 1 63 1-17 1 22 1 9 1-26 1-11 1-3 1 50 1 8 1-33 1 4 1 12 1 0 1 61 1-62 1-40 1 24 1 11 1-5 1-4 1 9 1-75 1 6 1-2 1 38 1-11 1 25 1 6 1-47 1 18 1 48 1-18 1-41 1 11 1 41 1-31 1 40 1-22 1 1 1 20 1-27 1 35 1-26 1-30 1-3 1-15 1 24 1-6 1-45 1 57 1 5 1-6 1 40 1-34 1-41 1-34 1 69 1 87 1-59 1-59 1 51 1 2 1-7 1 29 1 21 1-7 1-43 1 32 1-40 1-25 1 92 1-69 1-13 1 5 1 2 1-15 1 55 1-38 1-51 1 21 1-25 1 63 1-5 1-36 1 26 1 12 1-8 1-5 1-6 1 26 1-51 1 36 1 36 1-40 1 20 1-35 1 26 1-20 1 46 1-4 1 4 1 36 1-16 1 10 1 9 1-20 1 30 1 17 1-45 1 7 1-5 1 36 1-63 1 4 1 57 1-62 1-12 1 20 1-2 1-15 1 27 1 6 1-6 1-6 1 10 1-36 1 4 1 15 1 15 1-35 1 17 1 1 1-14 1-31 1 16 1 21 1 13 1 29 1-54 1-2 1-81 1 84 1-19 1 4 1-4 1-28 1 23 1-47 1 29 1 48 1-3 1-17 1-2 1 11 1-22 1-30 1-7 1 12 1 46 1-10 1 58 1 3 1-70 1 4 1 5 1-44 1 32 1 5 1-4 1 48 1-46 1-48 1 27 1-12 1 29 1-43 1 60 1-2 1 10 1 8 1-26 1 17 1-8 1 0 1-8 1-56 1 37 1-17 1 13 1 29 1-72 1 49 1 27 1-26 1 50 1-15 1-99 1 60 1-17 1-33 1 45 1-22 1 53 1 23 1-30 1-35 1 11 1-9 1 19 1-46 1 78 1-46 1 8 1-45 1 35 1-22 1 34 1-11 1 9 1 15 1-54 1 24 1-19 1 40 1 19 1 6 1 5 1-7 1-27 1-32 1 19 1 13 1-73 1 20 1 55 1-14 1-43 1-10 1 55 1 22 1 18 1-32 1 0 1 1 1-2 1 8 1-20 1-20 1 61 1-18 1-36 1-25 1 44 1 51 1-39 1-9 1-22 1 17 1-11 1 29 1-19 1-10 1-86 1 86 1 2 1 47 1 29 1-50 1-53 1 68 1 5 1 20 1 15 1-28 1-36 1 10 1-32 1 51 1-29 1 50 1 3 1-11 1-11 1-5 1-38 1 37 1 3 1 11 1 50 1-119 1 48 1 19 1 38 1-115 1 33 1 83 1-47 1 14 1 0 1-8 1-24 1-17 1 16 1 11 1 64 1-29 1-10 1 5 1-26 1-32 1 38 1 35 1-3 1-25 1 2 1 10 1 14 1 27 1-21 1 38 1-33 1-49 1 29 1-31 1 24 1-18 1 15 1 34 1 103 1-40 1-29 1-78 1 33 1 31 1-49 1 31 1 5 1-27 1 33 1-31 1 27 1-25 1 21 1-27 1 43 1 0 1 9 1 19 1-42 1-9 1-34 1-48 1 18 1 36 1 17 1-9 1 36 1-16 1-18 1-37 1 54 1 0 1 27 1-14 1-38 1 42 1-20 1 0 1 18 1 1 1-6 1 7 1-29 1-5 1 24 1 16 1 41 1 11 1-28 1-53 1 60 1-34 1 26 1-31 1-49 1 19 1 36 1 10 1-8 1-32 1 56 1-23 1-31 1 9 1 1 1-39 1 23 1 25 1 22 1-15 1-11 1-34 1 11 1 44 1 2 1-2 1-4 1-24 1 5 1-37 1-15 1 26 1 35 1-40 1-36 1 56 1-27 1 45 1-60 1-30 1-22 1 58 1 12 1-35 1 21 1-18 1 49 1-3 1-6 1 35 1-15 1-11 1-5 1 3 1 31 1-6 1 9 1-24 1 31 1-41 1-29 1 54 1 1 1-36 1 31 1-4 1 16 1-27 1-27 1 76 1 62 1-51 1-18 1-27 1 33 1-10 1-2 1-5 1-23 1-40 1 49 1-15 1 26 1-10 1-18 1 27 1-41 1 1 1-6 1 10 1-19 1 27 1-31 1-8 1-21 1 39 1 22 1-16 1-30 1 21 1 22 1 25 1-51 1 22 1 17 1-54 1-19 1 20 1 39 1-38 1-51 1-2 1 29 1 41 1 12 1-7 1 9 1-27 1-13 1 4 1 45 1 16 1-16 1-7 1 4 1 28 1 39 1-52 1-3 1-27 1-23 1 18 1 14 1 27 1-62 1 74 1-98 1 45 1-11 1-6 1 30 1-16 1 26 1-43 1 26 1-45 1 3 1 15 1 36 1-50 1 16 1-13 1 20 1-28 1 77 1-22 1-31 1 14 1-15 1 3 1 12 1 5 1-44 1 48 1-16 1-84 1 93 1-3 1-20 1 40 1 18 1 40 1-74 1 31 1-63 1 27 1-3 1-60 1 6 1 26 1 66 1 2 1-30 1 55 1-22 1-16 1-30 1-4 1-7 1-42 1 17 1 45 1-14 1 1 1 2 1 10 1 47 1-41 1-7 1-15 1 47 1-79 1 9 1-29 1 25 1 4 1 26 1 71 1-18 1-58 1-7 1 10 1-3 1 63 1-54 1 4 1 30 1-19 1 46 1-40 1-32 1-15 1 46 1-11 1-4 1 20 1-7 1 9 1-38 1-3 1-42 1 6 1 48 1-13 1 73 1-80 1 10 1 17 1 45 1-37 1-45 1 26 1-7 1 7 1-31 1-5 1 55 1-67 1 54 1-27 1 6 1 37 1-8 1 13 1-9 1 14 1-8 1 9 1-7 1-14 1 19 1-9 1 13 1-4 1 20 1-51 1-56 1 95 1 6 1 14 1-43 1 6 1 21 1-5 1-2 1-32 1 22 1 37 1 0 1-32 1-45 1 12 1-13 1 8 1-11 1-11 1-28 1-10 1 75 1 6 1 0 1 12 1-12 1-8 1-21 1-4 1-47 1 23 1 45 1 25 1-19 1-7 1-16 1 59 1-12 1 15 1-12 1 21 1 27 1-79 1 3 1 21 1 19 1-6 1-40 1 12 1-35 1 38 1 62 1-43 1-62 1 19 1 38 1-2 1 20 1-16 1-1 1 27 1-20 1-37 1 14 1-17 1-10 1 16 1 44 1-69 1 43 1-38 1 40 1-15 1 65 1-95 1 31 1-25 1-7 1-78 1 35 1 86 1-13 1 16 1-7 1-22 1 3 1-21 1 20 1 37 1-16 1-13 1 26 1-9 1-2 1 2 1-6 1 11 1-29 1 7 1-30 1 0 1 1 1-6 1 2 1 28 1 54 1 53 1-88 1 11 1-21 1 21 1-24 1-32 1 45 1-74 1 30 1-8 1-6 1 5 1-3 1-39 1 39 1 11 1-34 1 19 1-4 1-44 1 35 1 76 1-65 1 4 1 30 1-2 1 52 1-9 1 9 1-9 1 39 1-2 1-32 1 7 1-30 1 60 1-7 1-13 1-56 1 10 1-25 1 26 1 37 1-44 1-26 1-20 1 51 1-9 1 5 1-13 1-4 1-69 1 54 1 46 1-36 1 49 1 27 1-64 1 21 1 15 1-38 1-1 1 12 1 3 1-41 1 4 1 23 1-1 1-26 1 60 1-16 1-16 1 24 1 9 1 43 1-16 1 15 1-50 1 12 1-2 1-11 1 15 1-17 1 0 1 16 1-39 1 68 1 32 1-64 1 75 1-56 1-21 1-27 1 56 1-15 1-3 1 60 1-28 1-7 1 91 1-57 1 48 1-11 1-5 1-31 1-45 1 25 1-2 1 0 1-15 1 21 1-40 1-10 1-7 1 44 1-14 1 3 1-25 1 2 1-44 1 30 1 20 1-38 1 25 1 76 1-44 1-88 1 48 1-42 1 71 1-15 1-11 1 45 1 1 1 16 1-43 1 8 1-67 1 13 1-40 1 45 1 15 1-117 1 121 1 13 1-30 1 18 1-55 1-34 1 104 1 9 1-79 1-6 1 41 1-2 1 28 1-49 1 41 1-16 1 20 1 2 1-54 1 24 1 23 1 20 1-1 1-70 1 72 1 2 1-1 1-58 1 48 1 53 1-18 1 28 1-50 1-34 1-5 1 10 1 1 1 40 1-99 1 74 1 22 1 15 1-22 1 36 1-43 1 23 1-33 1-55 1 40 1 12 1-16 1 22 1 54 1-21 1-38 1-21 1 19 1-13 1-39 1 40 1 2 1-4 1 13 1-21 1-2 1 24 1-34 1 23 1 38 1-22 1 34 1 10 1-17 1-38 1 37 1 2 1-5 1 11 1 19 1 7 1-8 1 15 1-12 1-40 1 17 1 26 1-30 1-5 1 29 1 39 1-42 1-26 1 74 1-9 1-37 1 12 1-60 1 46 1 8 1-29 1-5 1-5 1 21 1-15 1 42 1 24 1-51 1 10 1-2 1 22 1-27 1 22 1-16 1-30 1 23 1-16 1 13 1-17 1 8 1 11 1 11 1 1 1 1 1 62 1-39 1-36 1-24 1 13 1 39 1-52 1 5 1-1 1 17 1-33 1 27 1-17 1-41 1 28 1-15 1 26 1-72 1 56 1 23 1-35 1 31 1 1 1-51 1 26 1 38 1-10 1-2 1 39 1-21 1-14 1 38 1-21 1-14 1 11 1-8 1-1 1 6 1 14 1-88 1 31 1 12 1 9 1 16 1 16 1 29 1-31 1 22 1-31 1-37 1 53 1-6 1-74 1 94 1-41 1-58 1 58 1-14 1 56 1-7 1-23 1 33 1-27 1-35 1 46 1-13 1-13 1-17 1 58 1 3 1-45 1 22 1-17 1 32 1 3 1 21 1-9 1-24 1-15 1-30 1 20 1 18 1 65 1-38 1-50 1 60 1-50 1 8 1 8 1-42 1-17 1 36 1 16 1-22 1 3 1-1 1-45 1-8 1 7 1 35 1 8 1-49 1 48 1 35 1-28 1-52 1 13 1-23 1 43 1 38 1-62 1-4 1 2 1 17 1-5 1 79 1-34 1-15 1 0 1-21 1 42 1-52 1 45 1-26 1 14 1 15 1-49 1 70 1 69 1-62 1-42 1-30 1 22 1-10 1-15 1 53 1-27 1-8 1 75 1-18 1-28 1 0 1 40 1-56 1-63 1 65 1-32 1 19 1 15 1 4 1-38 1 17 1 21 1 44 1-54 1-23 1 2 1 69 1-5 1-30 1 7 1-9 1-35 1 1 1 29 1-24 1 9 1 4 1-31 1 13 1 87 1-65 1 21 1-32 1 23 1-9 1-4 1-9 1-60 1 91 1-61 1-6 1 20 1-7 1 5 1 11 1 10 1 3 1-36 1 65 1-55 1 9 1-14 1 16 1 22 1 40 1-44 1 7 1 5 1-66 1 85 1-19 1 21 1-24 1 77 1 8 1-30 1-19 1-9 1-7 1 72 1-80 1-7 1-7 1-7 1-4 1-1 1 35 1 57 1-45 1-7 1-40 1-3 1-62 1 56 1 26 1-5 1-86 1 61 1 31 1-9 1 0 1 12 1 3 1-44 1-19 1 61 1-9 1-59 1 15 1 15 1 25 1 28 1 15 1-10 1 9 1-23 1 31 1 15 1 5 1-20 1 10 1-59 1 20 1-5 1 30 1 1 1-41 1 23 1 10 1 0 1 71 1-94 1-18 1 19 1-15 1 11 1 45 1 32 1-98 1 36 1-3 1-1 1-46 1 11 1-7 1-8 1 24 1 23 1 6 1 9 1-27 1 31 1-46 1-56 1 31 1 11 1-22 1 26 1-45 1-19 1 45 1 39 1-13 1-47 1 22 1 0 1-14 1 22 1-10 1-48 1 84 1 54 1-81 1 6 1 24 1-21 1-11 1-51 1 83 1-49 1-48 1 38 1 23 1 34 1-45 1-13 1-51 1 18 1 23 1 10 1-22 1 31 1-32 1-26 1 7 1 69 1-3 1-50 1-16 1 10 1-19 1 6 1-5 1-2 1-4 1 0 1-41 1 34 1-16 1 21 1 40 1 20 1-28 1 52 1-51 1-11 1-34 1 15 1-4 1 13 1 11 1 22 1-30 1 7 1-11 1 23 1 28 1-19 1-15 1-15 1 45 1-11 1 30 1 0 1-43 1 6 1 7 1-6 1-68 1 29 1-6 1 4 1 56 1-4 1 32 1-11 1-12 1-20 1-8 1-9 1 12 1 46 1 16 1 2 1-17 1-30 1-37 1 25 1-60 1 73 1-28 1-15 1-5 1 69 1-31 1 33 1-22 1 22 1-5 1-65 1 12 1 16 1 13 1-5 1 22 1-9 1 26 1-30 1-28 1 58 1-18 1 21 1-26 1 7 1 16 1 24 1-39 1 0 1-36 1 33 1-27 1-2 1-4 1 17 1 2 1 13 1-48 1 2 1-21 1 65 1-32 1 40 1 24 1 70 1-93 1 6 1-23 1 0 1 18 1-18 1 46 1 35 1-97 1-23 1 91 1-31 1 5 1-43 1-22 1 51 1 23 1 49 1-74 1-1 1 3 1 23 1 31 1-49 1 6 1-2 1-9 1 22 1 29 1 0 1-24 1-114 1 64 1 112 1-25 1-39 1 29 1-36 1 24 1-35 1-25 1 46 1 19 1 16 1-80 1 89 1-32 1 12 1 21 1-40 1-19 1-2 1 66 1-89 1 0 1 24 1 22 1 21 1-36 1-29 1 7 1 6 1 7 1 8 1-48 1 46 1 3 1-16 1-20 1-9 1 49 1-10 1-17 1 28 1 16 1-13 1-25 1 12 1-6 1-8 1-2 1 12 1 42 1 65 1-81 1-69 1 6 1 25 1 25 1-11 1 9 1-31 1-12 1 55 1-25 1 41 1-40 1-31 1-11 1-39 1 35 1-19 1 51 1-25 1 29 1 3 1 22 1-22 1 19 1-5 1 87 1-21 1-39 1-12 1-10 1 20 1-8 1 13 1 6 1-37 1 6 1-1 1 30 1-32 1 20 1-9 1 0 1 13 1 4 1-4 1 22 1-34 1-12 1 11 1 8 1-23 1 61 1-64 1 22 1 102 1-41 1-21 1-11 1-43 1 55 1-48 1 31 1-39 1 19 1 13 1-124 1 57 1 59 1-25 1-43 1 1 1 10 1 10 1 32 1-37 1 11 1-10 1-11 1 43 1-5 1-53 1-35 1 36 1 63 1-45 1-24 1 1 1 20 1-8 1-47 1 24 1 24 1-6 1-5 1 70 1-31 1-36 1-17 1-17 1 11 1 24 1 16 1-29 1 54 1-28 1 24 1-42 1 5 1 75 1-15 1-32 1-12 1-31 1 68 1-19 1 1 1 83 1-83 1 14 1-60 1 74 1 38 1-9 1-41 1 16 1 66 1-31 1-22 1-6 1 3 1-10 1-48 1 26 1 37 1-2 1 6 1-42 1-4 1-63 1 64 1-17 1 55 1-26 1 1 1-42 1-17 1 45 1-11 1 8 1 10 1 1 1 97 1-116 1 19 1 15 1 4 1-9 1-14 1 16 1 15 1-10 1-8 1 38 1 0 1-30 1 1 1 18 1 14 1-1 1-4 1-14 1-14 1 0 1 43 1-69 1 4 1-35 1 22 1 35 1 4 1 17 1 31 1-17 1-49 1-18 1 104 1-30 1-56 1 18 1 36 1-6 1-28 1-44 1 13 1-12 1-18 1 17 1 45 1 7 1 49 1-92 1-29 1 42 1 0 1-7 1 53 1-18 1-40 1-11 1 21 1-3 1 28 1-22 1 4 1 5 1 69 1-81 1-23 1 32 1 24 1 3 1-10 1-54 1 42 1-18 1 41 1-18 1 33 1-28 1-5 1 17 1 47 1-62 1 16 1 2 1 36 1 1 1-51 1 25 1-6 1 31 1 29 1-78 1-21 1 75 1-23 1-57 1 28 1-29 1 36 1-15 1-3 1 1 1-65 1 10 1-11 1 60 1-1 1-5 1 18 1-31 1 6 1 11 1-11 1 39 1-19 1 96 1-86 1-43 1-4 1-22 1 34 1-8 1-15 1 16 1 24 1 15 1 9 1-66 1 25 1-27 1 31 1 2 1 62 1-85 1 59 1-1 1-16 1 7 1-7 1-12 1 10 1-18 1-13 1 13 1-15 1-30 1 16 1 32 1 21 1-39 1-11 1-13 1-1 1-22 1 70 1 13 1 22 1-51 1-39 1 36 1 7 1 8 1 16 1-23 1-40 1 65 1 7 1 14 1-50 1 15 1-14 1 13 1 23 1 12 1-23 1-22 1 21 1 28 1-11 1 28 1-25 1-16 1-11 1-14 1-17 1 12 1 7 1-6 1-26 1-56 1 49 1 34 1 8 1 1 1-29 1-14 1 28 1-59 1 103 1-36 1 57 1-53 1-17 1-10 1-14 1 23 1-18 1 23 1-57 1-14 1 93 1-89 1 90 1-17 1-67 1 48 1-13 1-7 1-19 1 9 1-4 1 5 1-43 1 7 1 64 1 30 1-43 1-29 1-26 1 62 1-29 1 49 1-24 1 32 1-41 1 72 1-34 1 32 1-59 1-55 1 67 1 52 1-44 1 4 1-6 1-25 1 63 1-18 1-25 1-53 1 37 1 75 1-75 1 12 1-12 1-21 1 0 1 11 1 42 1-22 1 42 1-35 1-46 1 70 1-59 1 8 1-88 1 84 1 1 1 27 1-28 1 38 1-39 1-9 1 37 1-3 1 31 1-81 1 9 1 11 1 17 1 1 1 18 1-1 1-18 1-19 1 20 1 23 1 8 1-65 1 37 1 54 1-12 1-53 1 1 1 41 1-44 1 13 1 44 1-29 1 29 1 28 1 10 1-24 1-32 1 35 1-13 1 7 1 19 1-27 1 4 1 34 1-30 1-39 1 29 1-16 1-32 1 42 1-4 1-15 1-6 1 25 1-1 1 20 1-18 1-29 1-2 1 3 1 37 1-76 1 54 1-38 1 16 1 7 1-40 1 35 1 37 1 22 1-38 1 74 1-64 1-64 1 38 1 88 1-103 1 10 1 37 1-2 1-46 1 58 1-56 1 36 1-12 1-32 1 13 1 30 1-33 1 7 1-14 1-34 1 22 1 27 1-21 1-15 1 30 1-14 1-21 1 2 1 75 1 4 1-42 1-43 1 19 1 30 1 16 1 3 1-90 1 32 1 25 1 9 1 20 1-57 1-23 1 2 1 67 1-8 1-14 1 53 1-69 1 6 1 15 1-19 1 4 1 10 1-16 1 14 1 10 1 28 1-3 1 49 1-67 1 0 1-51 1 46 1 39 1-55 1 49 1-3 1-10 1 30 1-52 1 37 1-14 1 31 1-63 1 24 1 29 1 44 1 9 1 5 1-95 1 29 1 66 1-36 1-40 1 68 1-10 1-7 1 2 1 14 1-29 1-28 1 17 1-11 1 8 1 69 1-17 1-69 1 71 1 2 1-51 1 16 1-10 1 31 1 16 1 5 1-7 1-30 1-57 1 55 1-20 1-33 1 28 1-8 1 18 1 26 1-14 1-10 1 1 1 10 1 13 1-23 1-29 1 21 1-19 1-35 1 13 1 47 1 95 1-73 1 5 1-7 1-55 1 13 1 14 1-2 1 8 1-108 1 41 1 30 1 9 1-16 1 14 1 22 1-3 1-37 1 1 1-100 1 63 1 40 1-2 1 9 1-49 1 65 1-4 1 5 1-11 1 40 1 3 1-32 1 26 1-30 1-45 1 51 1-6 1-13 1 17 1-4 1 7 1 24 1-49 1 42 1 6 1-12 1 36 1-13 1 15 1-39 1-38 1 34 1-13 1-15 1 4 1 38 1-14 1-32 1 16 1-18 1 13 1 45 1 19 1-46 1-11 1-19 1 2 1 7 1-4 1 38 1-18 1-28 1 21 1-5 1-26 1 28 1-1 1 19 1-17 1 24 1-2 1 37 1-59 1-58 1-1 1 80 1-52 1-6 1-64 1 68 1-34 1 65 1 3 1 9 1 3 1-25 1 48 1-47 1 44 1 23 1-12 1-13 1-7 1 13 1-16 1-33 1 9 1 35 1-5 1-9 1-34 1 35 1 4 1-62 1 19 1 0 1 19 1 43 1-10 1-14 1-47 1 92 1-73 1-32 1-11 1-12 1 2 1 53 1-25 1 0 1-4 1 13 1-22 1 24 1-15 1 10 1-10 1 45 1-30 1-4 1 9 1-16 1 28 1 7 1-10 1-8 1-4 1-18 1-18 1 8 1 9 1 20 1-46 1 75 1-32 1 30 1-39 1-48 1-23 1 68 1 7 1-18 1 47 1-14 1 62 1-4 1-27 1-28 1 12 1 2 1 18 1-9 1-69 1 77 1 36 1-26 1 10 1-21 1-40 1-40 1 58 1-40 1 58 1-12 1-10 1 18 1-11 1 32 1-9 1 47 1-15 1 14 1 9 1-19 1-15 1 22 1-68 1 30 1 2 1 15 1-25 1 11 1-19 1 22 1 21 1-50 1 10 1-8 1 29 1-26 1-115 1 60 1 4 1 10 1 28 1 3 1 19 1 64 1-30 1-101 1 17 1 5 1 72 1-20 1 28 1-23 1 3 1-3 1-9 1-34 1 12 1 0 1 36 1-24 1-30 1 19 1-16 1-53 1 29 1-8 1 50 1-73 1 71 1 6 1 16 1-47 1-24 1 2 1-7 1-5 1 40 1 22 1-3 1 5 1-59 1 1 1 44 1-12 1-1 1 26 1 16 1-42 1-12 1-34 1 48 1-30 1 21 1-45 1 22 1-13 1 10 1 15 1-7 1 13 1-1 1 19 1-18 1-40 1 23 1 10 1 74 1-28 1-15 1-4 1-4 1 11 1 11 1-66 1-13 1-45 1 89 1 19 1-7 1 16 1 5 1-4 1-5 1-13 1 2 1 26 1-11 1 15 1-24 1 38 1-22 1-3 1 67 1-34 1-27 1-24 1 7 1 37 1 2 1-21 1 14 1 0 1-4 1-27 1-1 1 16 1-8 1 16 1 108 1-115 1 31 1-13 1 14 1-29 1-13 1 30 1 31 1-17 1-40 1 65 1-56 1 19 1 0 1-3 1-16 1-21 1-30 1 6 1-21 1 18 1-58 1 58 1 19 1-42 1 53 1-75 1-22 1 95 1-22 1-24 1 26 1-22 1 75 1-44 1-70 1 69 1-8 1 20 1-25 1-3 1 21 1 4 1 41 1-22 1 3 1-18 1 43 1-9 1 0 1-46 1 14 1-2 1 49 1 16 1-30 1-26 1-22 1 16 1 23 1-7 1-53 1-1 1 3 1-2 1 77 1 14 1-12 1-21 1 37 1-62 1-17 1-22 1 109 1 17 1-40 1 42 1-2 1-51 1 28 1-57 1 33 1-12 1-26 1 0 1 17 1-36 1 11 1 16 1 23 1-58 1 47 1-32 1 17 1 13 1-30 1-2 1-2 1 17 1-8 1 26 1 23 1-14 1 53 1-128 1 63 1 4 1 22 1-29 1-7 1-49 1 40 1-15 1 17 1 18 1 18 1-36 1 4 1 2 1 20 1-30 1 22 1-57 1 53 1 17 1-19 1 0 1-38 1 68 1-72 1 126 1-22 1-47 1 4 1-94 1 2 1 75 1-34 1 15 1 27 1 19 1 55 1-52 1 30 1-24 1-42 1 7 1-10 1 24 1-3 1 19 1-17 1-10 1 0 1 20 1-19 1-27 1-30 1 127 1-72 1-13 1 40 1 12 1-3 1 64 1-24 1-92 1-12 1 19 1 7 1 18 1-17 1 43 1-89 1 41 1 42 1-11 1-55 1-31 1 51 1-36 1-23 1 84 1-3 1-33 1 46 1-36 1-4 1 17 1-6 1-6 1 44 1-50 1-50 1 15 1 9 1 2 1 2 1-20 1 35 1 6 1-58 1-18 1 28 1-2 1 18 1 14 1-44 1 29 1 24 1-58 1 84 1 14 1-65 1-31 1 5 1-17 1 61 1 24 1-42 1 51 1-79 1-30 1 35 1 13 1 23 1 39 1-57 1-39 1-39 1 53 1-26 1 45 1 10 1-12 1 7 1-10 1-27 1 62 1-63 1 21 1 26 1-33 1-23 1 11 1 49 1-37 1 18 1-22 1 69 1 0 1-6 1-46 1 22 1-16 1 15 1-4 1-33 1-6 1 7 1 1 1 10 1 39 1-55 1 27 1 8 1 11 1 7 1-40 1 28 1-47 1-25 1 29 1-9 1-18 1 38 1 44 1-19 1-5 1-25 1 10 1 14 1-19 1-38 1 38 1-18 1 29 1 7 1-22 1 24 1 8 1 43 1-9 1 14 1 4 1-17 1-99 1 29 1 26 1 16 1-43 1 43 1 24 1-94 1-38 1 99 1-14 1 44 1-36 1-20 1-3 1-52 1 76 1 12 1 23 1 8 1-110 1 94 1 36 1-40 1-28 1 8 1-35 1 54 1-18 1-7 1-41 1 33 1 16 1 34 1-37 1-27 1 23 1-12 1-66 1 90 1-18 1-13 1 30 1 12 1 0 1-12 1 59 1-46 1-15 1-26 1-9 1 21 1-6 1-3 1 18 1 5 1-2 1 11 1 15 1-14 1-29 1-44 1 18 1-5 1-11 1 71 1-24 1 47 1-30 1 33 1-18 1 14 1 2 1-11 1 53 1-28 1-30 1 67 1-36 1-79 1 11 1 89 1-22 1-18 1-46 1 5 1 33 1 37 1-1 1-3 1-16 1-2 1-24 1 13 1-38 1 15 1 20 1-15 1-14 1 8"/>
</g>
<rect class="ax" x="103.9" y="103.9" width="290.9" height="86.85"/>
<path class="ax" d="M114.62,190.75H384.03M114.62,190.75v12.67M168.5,190.75v12.67M222.38,190.75v12.67M276.26,190.75v12.67M330.14,190.75v12.67M384.03,190.75v12.67M103.9,119V176M103.9,119h-12.67M103.9,138h-12.67M103.9,157h-12.67M103.9,176h-12.67"/>
<g transform="translate(114.62,237.1)"><text>0</text></g>
<g transform="translate(168.5,237.1)"><text><tspan class="h">1</tspan>000</text><path d="M763 0H583V1147Q518 1085 412.5 1023T223 930V1104Q374 1175 487 1276T647 1472H763Z" transform="translate(-23.49,0) scale(0.010313,-0.010313)"/></g>
<g transform="translate(276.26,237.1)"><text>3000</text></g>
<g transform="translate(384.03,237.1)"><text>5000</text></g>
<text x="249.35" y="288">Iterations 523</text>
<g transform="translate(73.1,119.8) rotate(-90)"><text>3.0</text></g>
<g transform="translate(73.1,176.8) rotate(-90)"><text><tspan class="h">1</tspan>.5</text><path d="M763 0H583V1147Q518 1085 412.5 1023T223 930V1104Q374 1175 487 1276T647 1472H763Z" transform="translate(-14.68,0) scale(0.010313,-0.010313)"/></g>
<text transform="translate(22.8,148.6) rotate(-90)">alpha</text>
</g>
<g transform="translate(896,0)">
<text class="m" x="249.35" y="62.2">Trace of 3|v_lMd</text>
<g class="tr" transform="translate(114.67,0)">
<path class="k" transform="scale(0.081647,0.2)" d="M0,608l1 23 1-73 1 155 1 0 1-47 1 29 1 23 1-42 1-65 1 41 1 82 1-40 1-33 1 11 1-7 1 60 1-18 1-32 1 87 1-81 1 15 1-1 1-6 1-18 1-47 1 11 1 4 1 162 1-152 1 106 1 26 1-39 1-51 1 95 1-109 1-21 1 76 1-66 1 63 1-40 1-24 1-20 1 30 1-32 1 64 1-40 1 23 1 52 1-59 1 102 1-73 1 26 1 12 1-72 1 30 1-4 1-58 1 66 1 45 1-54 1 90 1-64 1-32 1-55 1 27 1 70 1-127 1-13 1 175 1 35 1-11 1-67 1 31 1-83 1-3 1 31 1-52 1 115 1-38 1-32 1 2 1-65 1 72 1-8 1 51 1 34 1-86 1 85 1-81 1-10 1 35 1 11 1-15 1-22 1-76 1 121 1-2 1-16 1 46 1-5 1-84 1 100 1 31 1-45 1-4 1-48 1 0 1 2 1-35 1 40 1 39 1 13 1-24 1-51 1 65 1-60 1 13 1 1 1-1 1 60 1-43 1-66 1 50 1 3 1-105 1 119 1-54 1-39 1 53 1-56 1 16 1 89 1 12 1 2 1 18 1-14 1-47 1 25 1-40 1 25 1 9 1 22 1 2 1-40 1-21 1-9 1 88 1 4 1 10 1 14 1-26 1 11 1-1 1 21 1-34 1-58 1-40 1 75 1 1 1 49 1-23 1 80 1-111 1 69 1-76 1 0 1-19 1 73 1 134 1-141 1-1 1-71 1 48 1-94 1 55 1 126 1-81 1-5 1-17 1-89 1 43 1-17 1 28 1 63 1 22 1 22 1-3 1-118 1 68 1 50 1 68 1-109 1-12 1-14 1-47 1 59 1-42 1 30 1-4 1-51 1 97 1-13 1-48 1 12 1-1 1 42 1-9 1 47 1-111 1 105 1 65 1-71 1-5 1-68 1-1 1 39 1-9 1-18 1-3 1 17 1-24 1-27 1 71 1-100 1 84 1-32 1 33 1-32 1 11 1-26 1 78 1 53 1-8 1-56 1 10 1-27 1 35 1 7 1-28 1-11 1-68 1-41 1 53 1 71 1 10 1 11 1-88 1 19 1 13 1-1 1 92 1-47 1-83 1 93 1-9 1-85 1 36 1-60 1 45 1 6 1-66 1-6 1 37 1 88 1-42 1 33 1-47 1-23 1 39 1-17 1 41 1 23 1-6 1-9 1-16 1 131 1-66 1-25 1-92 1-50 1 81 1-65 1-23 1 27 1 40 1-37 1 72 1 82 1-70 1-54 1 30 1-44 1 108 1-22 1-37 1 43 1-29 1-76 1-15 1 129 1-5 1 40 1-18 1-43 1-53 1-6 1 57 1-21 1-60 1-5 1 3 1-79 1 39 1 116 1 18 1-31 1-70 1 112 1-53 1-18 1-18 1 56 1 5 1 13 1-11 1-31 1 38 1-48 1 100 1-11 1-56 1 9 1-60 1 34 1-82 1 31 1 83 1 52 1-5 1-11 1 4 1 20 1-171 1-52 1 84 1 59 1 27 1 18 1 6 1-134 1 65 1 61 1-40 1-36 1 47 1 54 1 10 1-82 1 12 1-65 1-5 1-2 1 82 1-98 1 78 1-43 1-49 1 96 1 66 1-56 1 16 1 81 1-180 1 40 1-12 1-42 1 106 1-44 1 11 1-8 1 81 1-62 1 59 1-24 1-56 1-13 1-6 1-10 1 7 1 43 1-1 1-26 1 59 1-39 1 99 1-71 1 4 1 10 1 38 1-80 1-34 1-1 1 61 1-119 1 3 1 53 1 89 1-7 1-56 1 38 1-59 1 9 1 16 1-58 1 77 1-34 1 26 1 82 1-80 1-21 1-12 1-18 1 95 1-79 1-47 1 20 1 30 1 37 1-24 1-75 1 163 1 10 1-69 1-38 1 3 1 47 1-103 1-56 1 124 1-24 1 35 1 48 1 51 1-105 1-55 1-9 1 69 1-34 1-25 1 74 1-7 1 1 1-65 1 17 1 5 1-39 1-3 1 19 1 119 1-60 1-25 1 52 1 7 1 36 1-88 1-46 1 78 1-22 1-6 1 10 1 2 1-115 1 111 1 49 1 12 1 19 1 17 1-48 1-7 1-8 1-98 1-2 1 51 1 53 1 74 1-94 1-103 1 75 1 29 1 35 1-83 1 24 1 107 1-79 1-70 1 7 1 63 1 67 1-133 1 5 1 45 1 73 1-62 1 31 1-68 1 4 1-35 1 100 1-51 1 15 1 79 1-51 1-19 1-9 1-20 1 30 1 72 1-58 1-99 1 44 1 42 1-14 1-27 1 11 1 59 1-67 1-11 1 25 1-34 1 7 1 5 1 17 1 4 1-26 1-27 1 24 1-20 1 24 1 9 1 22 1 3 1 49 1-53 1-21 1 3 1 47 1-66 1 37 1 105 1-5 1-111 1 12 1 26 1-75 1-51 1 127 1 112 1-125 1 11 1-28 1-20 1-62 1-20 1 90 1 48 1-24 1-37 1-64 1 22 1-5 1 27 1-40 1-18 1-7 1 39 1-8 1 128 1-2 1-57 1-29 1 73 1-39 1-26 1 105 1-11 1 9 1 42 1-65 1-22 1 38 1-38 1-20 1-21 1-24 1 13 1-27 1 32 1 60 1-97 1 78 1 19 1-41 1-58 1 90 1 8 1 5 1-39 1 3 1 61 1-38 1-133 1 96 1-33 1 24 1 82 1-19 1-42 1 71 1 9 1 9 1-12 1 47 1-39 1-76 1-25 1-39 1 40 1-65 1 39 1-11 1-8 1-43 1 121 1-62 1-17 1 32 1 69 1-12 1-38 1 22 1 12 1-60 1-5 1 26 1-50 1 43 1 0 1-70 1 108 1-52 1-35 1 28 1-13 1 82 1-43 1 66 1-32 1 4 1-50 1 19 1 12 1 117 1 7 1-76 1-46 1 19 1 24 1-46 1 33 1-35 1-33 1 13 1 24 1 11 1-67 1 11 1-15 1 46 1 124 1-56 1-37 1 19 1-71 1-131 1 109 1 7 1 61 1 15 1 28 1-11 1-5 1 20 1-16 1-48 1 4 1-101 1 7 1 82 1-35 1-3 1 13 1 33 1 60 1-13 1-35 1-23 1 12 1-17 1 30 1 13 1-14 1-23 1 57 1 12 1-100 1-8 1-76 1 72 1 27 1 20 1-38 1 71 1-12 1-51 1 74 1 30 1 30 1-76 1 0 1-33 1 26 1 36 1-56 1 77 1-12 1-56 1 33 1-50 1-56 1 48 1 29 1-35 1-51 1 73 1 57 1-52 1-156 1 18 1 145 1-3 1 3 1 13 1-81 1 8 1 68 1-26 1 28 1-23 1 76 1-30 1-29 1-27 1 39 1 21 1-42 1-80 1 78 1-26 1 43 1-41 1-28 1-53 1 89 1-18 1 56 1-99 1 12 1 126 1-38 1 39 1-92 1 14 1-42 1-13 1 62 1 37 1-71 1 35 1 30 1-49 1-50 1 12 1 124 1-34 1-134 1 77 1 16 1-68 1 30 1 26 1 62 1 69 1-71 1-30 1-50 1 60 1-74 1 29 1-24 1 62 1 16 1-39 1-40 1 76 1-15 1 0 1 48 1-38 1 40 1-36 1-47 1-12 1-6 1 116 1-15 1 34 1-3 1-101 1 60 1-34 1-14 1 103 1-93 1 78 1-105 1 84 1-67 1 50 1-81 1-18 1 47 1-19 1 2 1-5 1 58 1 30 1-52 1-8 1 31 1-21 1-31 1 50 1-56 1 11 1-14 1 85 1-67 1-4 1 110 1-67 1-5 1-33 1-2 1-47 1-26 1-75 1 158 1-53 1 81 1-70 1 94 1 10 1-27 1-85 1-18 1 26 1 8 1 29 1 60 1-104 1 7 1-63 1 121 1-29 1 16 1 29 1-58 1 87 1-42 1-26 1 4 1 58 1 3 1-59 1 28 1-71 1-32 1-7 1 20 1 88 1-1 1-74 1-22 1 50 1 21 1 12 1 22 1-76 1-9 1 69 1-11 1-4 1 23 1-13 1 5 1 43 1-42 1-11 1-26 1-13 1-27 1 13 1 46 1 40 1-88 1 58 1-3 1 27 1-53 1 47 1-64 1-9 1-41 1-26 1 123 1-47 1 107 1-30 1 14 1-52 1 0 1 9 1-86 1 31 1 53 1-48 1 42 1-58 1 55 1 14 1-23 1 70 1-24 1-54 1-1 1 2 1 17 1 24 1-6 1 4 1-98 1 135 1-15 1-70 1-22 1 110 1-127 1 76 1 39 1-4 1-20 1-31 1-37 1 15 1 47 1-2 1 12 1 44 1-14 1-116 1 10 1 48 1 52 1-93 1 46 1 12 1-40 1 78 1-94 1 11 1-87 1 56 1 59 1-43 1 76 1-24 1 36 1-3 1-57 1-76 1 52 1 11 1 38 1-13 1 5 1-18 1 9 1 50 1-72 1-29 1 13 1-55 1-2 1-41 1 143 1 19 1 12 1-84 1 31 1 8 1-45 1 35 1 20 1-58 1 125 1-63 1-9 1 68 1-43 1 141 1-300 1 144 1 11 1 4 1 11 1 20 1-27 1 47 1 24 1-10 1 3 1-34 1 18 1 36 1-42 1-35 1-67 1 44 1-33 1-56 1 30 1-8 1 32 1 32 1 41 1 7 1-81 1-85 1 27 1 24 1 52 1 31 1-44 1-14 1-17 1 56 1-47 1 135 1-106 1-5 1 127 1-80 1-50 1 10 1-24 1 22 1 89 1-49 1 24 1-74 1 66 1 13 1 59 1-136 1-29 1 69 1 19 1-39 1 95 1-62 1-26 1 56 1-92 1-47 1 62 1 22 1 23 1-91 1-24 1 0 1-15 1 89 1 14 1 102 1-129 1-73 1 55 1 46 1-35 1 46 1-29 1-29 1-3 1 49 1-33 1 23 1 34 1-53 1 98 1-74 1-15 1 64 1-47 1 90 1-72 1 36 1 11 1 29 1-134 1 65 1 32 1-137 1-72 1 44 1-17 1 102 1-26 1 51 1 15 1-58 1 76 1-75 1 71 1 28 1-92 1 36 1-14 1 15 1-64 1 31 1 60 1 14 1 12 1-49 1-80 1 113 1 49 1-64 1-16 1-23 1-9 1-53 1 82 1 81 1 11 1-50 1 42 1 23 1-42 1-103 1 41 1-67 1 79 1-115 1 57 1 27 1 84 1 70 1-89 1-22 1-32 1 79 1 67 1-116 1 33 1-51 1-42 1 56 1-49 1 98 1-65 1 46 1 0 1-34 1 30 1-88 1-40 1 53 1 31 1-32 1-10 1-5 1-53 1 38 1 103 1-42 1-10 1 24 1 18 1-78 1 34 1-59 1 76 1-20 1-36 1 30 1 0 1 17 1 25 1-25 1 50 1-158 1 35 1 113 1-42 1-10 1-3 1-62 1 19 1 121 1-72 1-43 1-31 1 107 1-33 1 31 1-37 1-82 1 86 1 43 1-16 1-19 1-58 1 36 1 69 1-28 1-51 1 2 1 5 1 76 1-65 1-30 1 48 1-4 1-104 1 49 1 13 1 9 1-2 1 109 1-123 1 58 1-2 1-68 1-64 1 62 1 6 1 42 1 173 1-181 1 7 1 35 1 22 1-26 1-57 1-18 1 39 1 127 1-96 1-109 1 18 1-66 1 112 1 100 1-27 1-65 1-19 1 55 1 40 1-96 1 18 1 59 1-55 1 1 1-11 1 103 1-75 1 51 1-14 1 0 1-63 1 69 1-43 1 9 1 29 1 46 1-50 1 26 1 14 1-62 1-34 1 49 1-127 1 127 1-101 1 31 1 42 1 15 1-22 1 12 1-38 1-23 1 27 1 22 1-49 1 20 1 8 1 87 1 36 1-98 1-57 1 10 1 107 1-85 1 99 1 14 1 5 1-81 1-25 1 52 1 26 1-69 1-83 1 124 1-36 1-19 1 0 1 41 1-36 1 49 1 2 1 35 1-98 1 43 1-17 1 86 1-21 1-19 1-124 1 16 1-32 1 37 1 34 1 64 1-27 1 22 1-103 1 137 1-109 1-43 1 7 1 56 1 7 1 57 1-36 1-48 1-22 1 8 1 63 1-4 1-7 1-9 1 51 1 18 1-38 1 156 1-210 1 96 1-103 1 94 1-94 1-40 1 54 1-51 1 15 1 63 1-4 1-66 1 16 1 105 1 2 1-8 1-16 1 91 1-76 1-20 1 66 1-62 1-25 1 25 1 27 1-71 1 80 1-103 1 76 1-5 1 22 1-148 1 30 1 82 1-25 1 22 1-17 1-95 1 93 1-73 1 42 1 72 1 27 1-80 1-53 1 85 1 102 1-14 1-87 1-54 1-60 1 53 1-48 1 78 1-5 1-35 1 92 1 23 1-55 1-5 1 13 1 0 1-55 1 27 1 4 1-28 1 12 1 63 1-45 1-39 1 107 1-57 1-38 1-2 1 33 1 2 1 6 1 12 1-45 1 61 1 25 1 74 1 18 1-92 1-10 1 50 1 4 1-119 1 33 1-51 1-42 1 50 1 112 1-116 1 61 1 90 1-51 1-40 1 8 1-36 1-26 1 21 1 39 1-72 1 24 1 50 1-20 1-32 1 54 1-39 1-1 1-18 1 30 1 24 1 23 1-66 1 84 1-150 1 73 1 49 1-54 1 2 1 35 1 26 1-15 1-42 1 120 1-66 1-2 1-10 1 10 1-31 1-53 1 50 1 63 1-74 1-40 1 33 1-57 1 38 1 33 1-72 1 78 1 13 1-42 1 42 1-61 1 116 1-30 1-84 1-42 1 12 1 19 1 52 1 14 1-1 1-35 1 42 1-46 1 34 1 37 1-37 1 23 1-16 1-21 1 39 1-4 1 1 1-19 1-28 1 24 1-46 1 33 1-21 1 74 1 49 1-42 1-86 1 65 1-49 1-48 1 74 1 57 1-67 1-13 1-19 1-26 1 54 1 36 1-50 1 4 1 22 1 24 1-81 1 104 1-107 1 19 1 41 1-20 1-31 1-4 1 59 1 1 1-8 1-55 1 100 1-15 1-89 1-6 1 77 1 49 1-82 1 12 1-54 1-19 1 79 1 93 1-109 1 21 1-39 1-35 1 8 1 36 1 13 1-41 1 40 1 31 1 76 1-100 1-21 1 24 1-76 1-39 1 110 1-67 1 92 1 55 1-82 1-32 1 83 1 1 1-99 1 60 1-26 1 45 1-1 1-51 1 107 1-40 1-93 1-51 1 40 1-58 1 50 1 41 1 69 1 3 1-57 1 55 1 1 1-89 1 16 1 9 1 89 1 4 1-33 1-75 1 32 1-9 1 23 1 21 1 15 1-66 1 86 1-54 1-47 1 42 1-76 1-10 1 28 1 30 1-31 1 92 1-40 1 12 1-23 1-29 1-39 1 0 1 77 1-85 1 21 1 0 1 34 1-4 1 59 1-22 1-4 1-6 1 37 1-1 1-45 1-19 1 19 1-95 1 88 1-105 1 47 1 95 1-19 1-28 1 92 1-51 1 96 1-107 1-27 1 7 1 18 1 20 1-193 1 203 1-42 1 59 1-82 1-7 1 107 1-81 1-23 1-7 1 103 1-63 1-10 1 31 1-55 1 56 1 4 1 15 1 18 1-3 1 2 1 20 1-66 1 51 1-103 1 121 1-53 1-8 1-10 1 34 1-50 1-16 1 100 1-52 1-25 1 67 1-40 1-41 1-29 1-37 1 69 1 20 1 39 1-22 1-22 1 10 1 34 1-12 1-36 1 46 1 29 1-16 1-125 1 93 1-72 1 23 1-5 1 113 1-126 1 34 1 128 1-86 1 101 1-137 1 12 1-11 1 14 1 83 1-5 1-38 1 0 1-80 1 11 1-50 1 58 1 45 1 28 1-24 1-73 1 22 1 83 1-73 1-80 1 23 1 84 1-114 1 78 1 52 1 6 1-20 1 23 1 6 1 64 1-40 1-2 1-28 1-51 1 114 1-88 1-4 1-49 1 77 1-80 1-20 1 44 1-6 1 4 1-32 1 79 1-10 1 44 1-38 1-98 1 123 1-1 1-56 1-24 1 43 1-52 1-15 1 12 1 22 1 22 1-68 1 34 1-13 1-13 1 50 1 26 1-53 1 24 1 49 1 0 1-18 1 105 1-88 1 4 1-8 1-34 1-20 1 4 1-33 1 67 1 14 1-133 1 65 1-4 1 56 1-43 1 49 1-61 1 22 1-44 1 106 1-38 1 54 1 38 1-105 1 72 1-53 1-81 1 118 1-53 1-80 1 8 1 108 1-25 1 17 1 69 1 19 1-1 1-178 1 27 1-39 1-18 1 54 1 25 1-2 1-8 1-18 1 10 1 80 1 77 1-66 1-20 1-54 1 31 1-32 1 37 1 34 1-47 1-49 1 37 1-133 1 120 1 53 1-6 1 61 1-82 1-50 1 46 1 14 1-12 1 25 1-39 1 14 1 0 1-71 1 44 1-26 1-30 1 57 1 76 1 41 1-118 1-37 1 67 1 2 1-3 1 84 1-84 1-83 1 104 1-2 1-12 1 143 1-156 1 6 1 24 1-39 1 79 1 17 1-166 1 40 1 6 1-37 1 58 1-7 1 3 1-8 1 30 1 44 1-50 1 10 1 54 1-46 1-52 1 69 1-7 1-29 1-104 1 15 1 20 1 77 1 37 1-85 1 1 1-39 1-6 1 42 1 93 1-112 1 1 1 28 1-31 1-79 1 71 1 136 1-45 1-46 1 8 1 46 1 38 1-40 1-65 1-59 1 77 1-25 1 1 1 84 1-91 1-35 1 12 1 25 1 47 1-28 1-39 1-54 1 134 1-44 1 14 1-16 1 91 1 13 1-44 1-74 1-57 1 97 1 12 1-61 1 27 1-19 1 64 1-131 1 73 1 86 1 15 1 11 1-57 1 29 1-65 1 71 1 10 1 7 1 38 1-89 1 20 1-36 1 27 1-1 1 21 1-138 1 52 1 77 1-34 1 4 1-6 1-6 1 68 1-36 1 35 1-35 1 4 1-39 1-47 1-43 1 118 1-49 1 17 1-3 1 124 1-62 1-45 1 78 1-26 1-18 1-58 1 26 1-68 1-1 1 89 1 1 1 6 1 3 1-127 1 17 1 80 1-2 1 22 1 5 1 30 1-19 1 17 1-58 1-18 1-73 1 86 1 13 1-50 1 93 1-27 1-3 1 4 1-18 1-30 1-8 1 71 1-58 1 27 1-59 1 68 1 5 1-25 1 5 1-25 1 5 1 7 1 57 1-59 1-43 1 18 1 15 1-9 1 135 1-77 1-55 1-25 1 62 1 70 1-34 1-1 1-60 1 31 1-38 1 71 1-86 1 3 1 16 1 5 1 21 1-42 1-106 1 78 1 147 1-80 1-78 1-27 1 81 1 5 1-71 1 47 1 35 1-88 1 108 1-72 1 13 1 6 1-100 1 15 1 156 1-35 1-36 1-34 1-40 1 60 1 77 1 1 1-73 1 3 1 21 1 31 1-16 1 83 1 16 1 4 1-95 1-1 1-34 1 3 1-67 1 68 1 13 1 23 1 71 1-74 1-13 1 70 1-19 1 2 1-51 1 2 1-60 1 22 1 65 1 26 1-69 1-72 1 61 1 75 1 2 1-94 1 50 1 40 1-18 1 22 1 22 1-86 1 74 1-35 1 15 1-9 1 43 1-45 1 71 1-25 1-29 1 39 1-129 1 57 1-4 1-2 1-3 1-78 1 102 1-8 1 41 1 41 1-29 1-28 1-77 1 50 1 45 1-69 1 91 1-110 1-1 1 47 1 41 1-92 1-31 1 73 1-63 1 89 1 24 1-30 1-23 1 3 1 71 1-89 1 35 1 5 1-44 1-27 1 108 1-117 1 120 1 5 1-38 1-59 1 53 1-66 1 37 1 32 1 54 1-79 1 40 1-14 1-96 1-12 1 46 1-22 1 41 1 35 1 17 1 29 1 29 1-67 1-91 1-69 1 48 1 19 1-85 1 50 1 81 1 95 1-56 1-14 1-89 1-11 1 37 1 71 1-44 1 14 1-16 1 48 1-5 1-48 1-13 1-4 1 32 1-56 1 85 1-75 1 83 1-1 1 29 1-101 1-5 1 80 1-59 1 71 1 8 1-16 1-62 1 35 1-48 1 7 1 40 1 61 1-53 1-3 1 23 1 4 1-22 1-53 1-14 1 74 1 35 1-55 1-97 1 53 1 0 1 120 1-52 1-25 1 18 1-61 1-8 1 37 1 0 1-47 1 50 1-53 1 30 1-26 1 47 1 37 1 38 1-68 1 31 1-71 1 80 1-42 1 41 1 13 1 9 1-95 1-10 1 60 1 30 1-16 1-31 1-18 1 19 1 14 1-1 1-58 1 8 1 35 1 93 1-84 1 137 1-135 1-9 1 16 1 44 1-47 1 65 1-39 1 43 1-48 1-87 1-10 1 111 1-55 1 57 1-148 1 63 1 89 1-44 1-40 1 47 1 23 1-36 1-45 1 92 1-88 1 16 1 14 1-73 1 173 1-83 1 28 1 11 1-24 1 23 1-50 1-45 1 37 1 16 1 12 1 26 1 16 1-31 1-31 1 33 1 24 1-38 1-5 1 101 1-81 1-111 1 65 1 65 1-58 1-4 1-1 1 30 1-39 1-18 1 23 1 29 1 23 1-82 1-51 1-7 1 143 1-28 1-6 1-48 1 71 1-18 1-37 1 166 1-82 1-1 1-76 1-158 1 216 1-17 1-45 1 22 1-32 1-6 1 58 1-1 1-79 1 45 1-60 1 43 1 36 1-49 1 60 1 1 1-91 1-17 1 71 1 45 1 21 1-46 1-16 1 29 1 25 1-14 1 20 1-83 1-33 1 66 1 25 1-10 1 61 1 47 1-189 1 30 1 53 1-92 1 95 1 35 1-24 1 10 1 12 1-40 1 8 1 42 1-32 1-88 1 95 1-7 1 19 1-22 1 33 1 4 1-109 1 95 1-33 1 20 1 35 1-79 1 59 1-47 1 19 1 24 1-18 1-24 1 43 1-60 1 37 1-38 1-22 1 9 1 60 1 34 1-25 1 8 1 10 1-19 1 24 1 17 1-68 1 55 1-25 1 7 1-59 1-4 1-36 1 88 1-36 1 58 1-15 1-4 1-93 1-52 1 109 1-52 1 70 1 20 1-41 1 38 1-50 1 37 1-36 1-20 1 15 1 30 1 4 1 88 1-279 1 185 1 8 1 8 1-61 1 55 1 13 1 11 1 19 1 10 1-87 1 83 1 8 1-6 1 8 1-18 1-27 1 32 1 23 1-85 1-1 1 36 1-24 1 6 1 26 1 34 1-44 1 85 1-217 1 61 1 77 1-45 1-3 1 0 1 32 1-29 1-48 1 64 1-56 1-2 1 115 1-82 1 18 1 53 1-265 1 257 1 37 1-37 1-75 1-26 1 37 1 80 1 101 1-82 1-134 1 49 1-33 1-37 1 10 1 55 1 15 1 14 1-75 1-15 1 52 1 41 1-12 1-150 1 151 1-22 1 5 1-39 1 6 1 3 1 88 1-53 1 6 1 2 1 11 1 47 1-30 1-94 1 10 1-38 1 60 1 100 1-92 1 8 1-10 1 67 1 17 1-47 1-23 1 15 1 16 1-38 1 25 1 19 1-29 1 29 1-30 1-23 1-2 1 5 1-28 1 32 1-28 1 89 1 52 1-49 1 10 1-9 1-28 1-37 1 88 1-110 1 54 1-36 1 72 1-69 1 65 1-15 1-44 1 30 1 88 1-96 1-81 1 21 1 24 1 55 1 73 1-14 1-50 1 26 1-74 1-20 1 68 1-10 1 18 1-48 1-32 1 18 1 0 1 31 1-8 1 36 1-59 1 5 1 31 1-44 1 32 1-8 1 17 1-19 1-9 1 14 1 35 1-50 1 9 1-62 1-38 1 82 1-3 1-5 1-13 1 37 1 44 1-29 1 75 1-97 1-42 1 135 1-73 1 64 1 24 1-58 1-22 1 25 1-105 1 12 1 18 1 8 1-26 1-3 1-37 1 46 1 15 1 19 1-7 1 49 1 11 1-10 1-75 1 74 1 16 1-17 1 73 1-73 1 63 1-90 1-10 1-34 1 20 1 81 1-15 1-22 1 55 1-80 1 13 1 48 1-76 1-32 1 60 1 50 1-96 1 22 1 14 1 124 1-102 1-5 1-11 1 74 1-59 1-21 1 19 1-51 1 13 1 57 1-40 1 54 1-92 1-2 1 44 1 4 1 51 1-65 1 193 1-124 1-40 1 20 1 6 1 17 1 6 1-88 1-67 1 105 1-19 1-2 1 21 1-43 1 61 1-28 1 5 1 29 1 54 1-49 1-87 1 132 1-41 1 0 1-84 1-34 1 30 1 49 1-34 1 6 1 29 1-19 1 95 1 15 1-141 1 82 1-100 1 2 1 12 1 22 1 57 1-50 1 11 1 38 1 46 1-146 1 51 1 75 1 65 1-74 1-33 1-5 1 37 1-5 1-69 1 26 1 9 1-75 1 180 1-109 1-12 1-23 1-33 1-7 1 35 1 34 1-4 1 51 1-66 1 15 1 32 1-36 1-8 1 104 1-86 1-40 1 6 1 40 1 3 1 22 1 22 1-65 1-54 1-5 1 69 1-58 1 116 1 5 1-76 1-29 1 29 1-15 1-47 1 34 1 14 1 38 1-25 1 30 1-18 1 60 1-49 1 22 1-55 1-89 1 60 1-41 1-25 1 54 1 59 1 16 1 11 1 72 1-93 1-37 1-21 1 37 1-3 1 95 1-36 1 41 1-54 1-59 1 73 1-83 1 1 1 21 1-72 1 136 1 34 1-36 1-35 1-95 1 30 1 139 1 3 1-61 1-47 1 62 1-56 1 7 1-39 1-93 1 43 1 55 1 35 1 77 1 3 1-34 1 0 1-33 1 19 1 29 1-99 1 85 1-72 1-40 1 103 1 0 1 53 1-29 1-18 1 26 1-67 1-19 1 68 1 44 1-77 1 5 1-77 1 34 1 22 1 83 1-64 1 16 1 35 1 118 1-136 1-20 1-11 1-67 1 62 1-46 1-82 1 125 1 15 1 21 1 6 1-28 1 12 1 42 1-99 1 58 1-79 1 62 1 6 1-22 1 14 1 32 1 38 1-28 1-42 1-55 1 19 1 87 1-65 1-35 1 17 1 18 1 6 1-20 1 27 1-44 1-122 1 165 1 53 1-37 1 66 1-27 1-11 1-142 1 72 1 4 1 54 1-54 1 19 1 20 1 19 1-51 1 32 1 0 1-49 1-40 1 86 1-47 1-3 1 70 1 38 1-60 1-28 1 91 1-62 1 15 1-2 1 19 1-56 1-43 1 53 1 56 1-42 1-53 1-61 1 84 1-59 1 92 1-21 1-41 1 16 1 12 1 87 1-5 1-139 1 61 1 66 1-91 1 0 1 17 1-69 1 44 1 54 1-40 1 49 1-68 1 60 1-33 1 44 1-21 1-34 1 23 1-37 1 41 1-72 1 36 1-44 1 24 1 113 1-33 1 27 1 7 1 38 1-99 1-2 1 89 1-8 1-148 1 135 1 10 1-41 1 12 1 2 1-89 1 88 1-68 1-28 1 18 1 42 1-3 1-37 1 71 1-30 1 13 1-61 1 48 1-6 1 42 1-16 1-14 1-63 1 25 1-13 1 83 1 14 1 35 1-43 1-84 1-30 1-9 1 96 1-5 1 16 1-17 1 17 1-62 1 15 1-46 1 89 1 24 1-59 1-87 1 43 1 106 1 22 1-130 1-64 1 105 1-8 1 9 1 37 1 20 1-74 1-102 1 34 1-30 1 111 1 55 1-17 1-116 1 53 1-9 1 82 1-48 1 19 1 95 1-38 1 86 1-128 1-51 1 14 1-70 1 4 1 5 1 36 1 31 1-9 1 61 1 2 1 14 1-139 1 26 1-19 1 152 1-66 1-52 1 115 1-58 1-28 1-27 1 119 1-69 1-76 1 64 1 75 1 9 1-50 1-14 1-108 1 92 1-100 1 22 1 91 1-30 1-8 1 23 1-12 1-126 1 136 1 11 1 34 1-5 1-86 1-14 1-2 1 125 1 28 1-51 1-64 1 29 1-33 1-10 1 0 1-8 1-39 1 58 1-2 1-28 1 20 1 52 1-13 1 23 1-45 1 41 1-47 1 31 1 75 1-112 1 33 1-29 1-64 1-32 1 100 1-2 1 104 1-48 1-3 1-54 1-24 1 29 1 6 1-12 1 63 1-44 1-28 1-34 1 177 1-88 1-50 1 15 1 37 1 3 1 28 1 23 1-116 1-40 1 106 1-10 1-81 1 95 1-41 1-44 1 108 1 35 1-11 1-93 1 4 1-6 1 66 1-9 1-32 1-15 1 65 1-90 1 102 1 22 1-63 1-80 1 36 1 60 1-62 1 78 1-21 1-87 1-9 1 54 1-33 1 6 1 42 1-3 1 39 1 1 1-43 1 68 1 62 1-136 1 4 1-52 1 54 1 47 1-81 1-4 1 22 1 22 1-56 1 7 1 18 1 47 1 63 1-54 1-37 1-34 1 39 1 71 1-93 1 10 1-76 1 110 1-13 1-20 1-28 1 111 1-43 1 39 1-75 1 51"/>
<path class="r" transform="scale(0.081647,0.2)" d="M0,688l1-99 1-22 1 140 1-43 1 90 1-14 1 67 1-36 1-46 1-16 1-52 1 7 1 33 1 25 1 25 1 11 1-82 1 2 1 49 1 8 1-111 1-23 1 69 1 22 1 28 1 48 1-78 1-138 1 218 1-42 1 27 1-36 1 29 1-5 1 11 1-73 1 44 1-89 1 102 1-76 1 157 1-79 1 12 1-15 1-61 1 23 1-2 1-47 1 97 1-62 1 49 1-26 1-4 1-19 1-37 1-17 1 70 1 5 1 70 1-56 1 24 1 1 1 68 1-11 1-31 1-1 1-52 1-33 1-3 1 0 1 30 1 53 1-33 1-27 1-9 1 30 1 81 1-47 1-61 1-85 1 44 1 77 1-3 1 0 1-58 1 88 1-49 1-73 1 106 1 18 1-40 1-8 1 29 1-62 1-6 1 4 1 69 1 6 1 33 1-24 1 34 1-48 1 3 1-90 1 7 1 75 1-22 1-53 1 31 1 53 1-109 1 20 1 1 1-15 1 169 1 4 1-103 1 37 1-32 1-58 1 65 1-95 1 62 1 67 1 69 1-46 1-84 1 155 1-53 1-7 1 7 1-2 1-72 1 44 1-159 1 111 1 26 1 32 1-22 1-7 1 9 1-3 1 7 1 6 1-94 1 9 1-55 1 156 1-44 1 13 1-8 1-70 1 64 1 34 1-31 1 44 1-51 1-38 1 128 1-134 1 72 1-84 1 55 1 60 1 4 1-47 1 51 1-45 1 15 1 3 1-54 1 23 1-69 1 46 1 44 1-42 1-21 1 71 1 11 1-50 1 5 1 25 1-34 1 42 1 28 1 50 1-57 1-19 1 109 1-114 1-29 1-12 1 53 1-12 1-28 1-15 1 23 1-56 1 60 1 30 1-9 1-57 1-83 1 47 1 51 1 15 1-33 1 2 1 47 1 82 1-69 1 11 1-51 1-12 1-23 1 21 1-62 1-25 1 18 1 50 1-74 1 164 1-99 1 61 1-37 1-14 1 45 1-74 1 30 1 11 1 3 1 8 1-35 1 99 1-132 1 54 1 78 1 33 1-64 1-61 1-7 1 105 1-37 1-35 1 38 1-18 1-22 1-41 1 74 1-49 1 31 1-3 1-24 1 19 1 73 1-82 1 9 1-33 1 37 1-21 1 65 1-28 1-5 1-42 1 26 1 4 1-36 1 3 1-11 1 65 1-25 1 47 1-27 1-14 1 45 1-21 1-18 1 18 1 30 1 24 1 16 1-50 1 66 1-87 1-79 1 103 1 40 1-117 1 70 1 38 1-147 1 114 1 73 1 2 1-48 1-55 1-15 1 99 1-74 1-9 1-48 1-11 1 61 1 10 1 32 1-41 1-125 1 57 1 44 1-48 1-75 1 191 1-38 1-1 1 10 1-76 1 73 1-58 1 20 1 46 1 44 1-78 1-69 1 37 1-21 1 47 1-111 1 90 1 3 1-44 1 22 1 48 1-2 1-31 1 41 1-18 1 40 1-6 1-73 1 35 1 61 1-53 1 17 1-37 1 9 1 17 1 4 1 19 1 33 1-80 1 7 1-8 1-75 1 73 1 85 1-57 1-4 1-44 1 4 1 33 1 45 1-71 1 19 1-5 1-57 1 55 1 11 1-13 1 30 1-88 1 40 1-86 1 40 1 40 1 29 1-51 1 22 1 13 1-8 1 125 1-49 1 17 1-47 1-41 1-4 1 43 1 13 1-43 1 28 1 30 1-55 1 14 1 34 1-16 1-23 1 5 1 98 1-110 1 45 1 11 1 26 1-89 1-19 1 5 1 52 1-65 1 50 1 88 1-75 1 6 1 81 1-125 1 39 1 42 1-33 1-11 1-7 1 66 1-43 1-62 1 46 1 78 1-108 1 18 1-26 1 73 1 19 1 3 1-27 1-16 1-66 1 40 1 44 1-143 1 115 1-23 1 20 1 96 1-72 1-58 1-12 1 32 1-18 1 34 1 67 1-69 1 68 1-78 1 179 1-139 1-48 1-61 1 106 1-28 1 75 1-84 1 37 1 10 1-34 1 34 1-66 1 23 1 99 1-74 1-34 1-8 1 46 1 11 1 12 1 44 1-83 1 5 1 83 1-37 1 13 1-53 1 107 1 9 1-73 1-26 1-33 1 86 1 25 1-134 1 20 1-50 1 39 1 56 1-8 1-65 1 76 1-19 1-50 1 70 1-42 1 92 1-173 1-17 1 56 1-15 1 94 1-80 1 79 1-14 1-100 1 54 1 23 1 67 1 33 1-118 1-78 1 5 1 84 1 18 1-23 1-41 1-59 1 111 1 18 1-11 1 28 1-22 1-1 1-37 1 0 1 20 1 52 1 52 1-75 1-14 1 28 1-8 1 61 1-22 1 69 1-104 1 4 1-6 1-49 1-9 1 56 1 47 1-33 1-10 1-58 1-104 1 103 1 65 1 27 1-11 1-74 1-21 1 81 1-66 1 73 1-118 1 101 1-14 1 60 1-11 1-99 1-27 1 0 1 28 1 0 1 18 1 36 1-53 1 12 1 82 1-83 1-32 1 58 1 91 1-115 1 15 1 70 1-122 1 55 1 24 1-2 1 18 1-73 1 70 1-25 1-74 1 11 1 46 1-10 1 34 1-48 1-9 1 11 1-68 1 26 1 8 1 110 1-70 1-75 1 95 1-56 1 50 1-27 1 18 1-49 1 80 1-33 1-27 1 22 1-2 1-16 1-46 1 102 1-22 1 85 1-48 1-31 1-29 1 17 1-58 1 35 1-14 1 118 1-30 1-106 1 127 1-88 1 55 1 15 1-19 1 5 1-101 1 25 1 51 1-19 1 4 1 67 1-68 1-43 1-10 1 50 1-55 1 61 1 35 1-22 1 70 1-61 1-67 1 85 1 2 1 37 1-32 1-97 1 34 1 79 1 45 1-46 1 25 1-52 1 14 1-11 1 5 1 25 1-220 1 123 1 45 1-13 1 48 1 38 1 31 1-67 1-17 1 9 1-82 1 25 1 26 1-62 1 61 1 28 1-26 1-6 1 57 1-75 1 50 1-56 1 73 1 16 1-40 1-32 1 91 1-130 1 133 1-138 1 2 1-15 1-6 1 60 1 53 1-12 1-90 1 80 1-4 1-7 1 0 1 50 1 29 1-89 1 2 1-20 1 24 1-50 1 36 1-20 1 49 1-36 1 54 1-54 1 84 1-6 1-82 1-2 1 10 1 71 1-113 1 0 1 126 1-48 1 1 1-34 1 66 1-14 1-64 1-18 1-23 1 22 1 87 1 2 1-1 1-34 1-102 1 81 1 7 1 34 1-55 1 7 1-13 1 78 1-17 1-16 1-2 1-36 1 58 1 35 1-93 1-70 1 60 1 70 1-32 1-39 1 19 1 11 1 23 1 40 1 8 1-79 1 103 1-85 1 111 1-65 1-70 1 95 1-108 1 5 1 44 1-48 1-53 1-36 1 51 1 46 1 56 1-50 1 58 1-127 1 27 1 50 1-82 1 111 1-30 1-51 1 76 1-10 1-32 1-22 1 22 1 1 1 33 1 29 1-5 1-40 1-56 1 113 1-23 1-27 1 74 1-81 1 22 1 24 1-8 1 3 1-54 1 3 1-25 1-6 1 1 1 85 1-6 1 32 1-39 1-60 1 95 1-50 1-14 1-15 1 107 1-99 1-55 1-49 1 126 1-14 1 4 1 8 1-80 1 84 1-41 1 20 1 42 1 102 1-10 1-112 1-2 1-51 1-14 1 74 1 51 1-88 1 22 1-30 1 24 1 13 1-27 1-1 1-4 1 42 1 57 1-38 1-9 1-30 1-8 1 4 1 43 1-88 1 153 1-134 1 20 1-23 1 55 1 5 1 9 1-98 1 84 1-27 1-24 1 18 1-82 1 85 1-25 1 33 1 74 1 17 1-63 1-7 1-5 1 1 1 10 1-82 1 25 1 7 1-53 1 72 1 32 1-31 1-13 1-6 1 54 1-24 1-58 1-38 1 26 1 16 1-31 1 125 1-102 1 26 1 106 1-65 1-63 1 14 1 20 1-10 1 110 1-76 1 26 1-9 1 7 1-28 1 8 1-63 1 63 1-11 1-112 1 52 1 47 1-76 1 86 1 13 1-21 1 43 1 6 1 23 1-111 1 6 1 58 1-23 1 30 1-52 1-17 1 129 1-25 1-90 1 19 1-44 1 51 1-36 1 46 1-15 1-74 1 57 1 32 1 4 1-41 1 121 1-112 1 96 1-27 1-144 1 6 1 138 1-9 1 37 1-22 1 6 1 15 1-54 1-14 1 26 1-39 1 0 1 24 1-45 1 131 1-130 1 44 1 40 1-44 1 30 1-118 1 70 1-92 1 62 1-68 1-7 1 11 1 54 1 65 1-45 1 42 1-54 1 52 1-7 1 1 1 26 1 60 1-27 1-32 1-21 1-28 1 3 1 25 1 19 1-7 1-12 1 40 1 1 1-11 1-94 1 34 1-12 1 11 1 117 1-181 1 20 1 55 1 36 1-16 1 23 1 0 1-44 1 94 1-115 1-14 1-52 1 114 1-78 1-70 1 165 1-19 1-10 1 17 1-26 1-60 1 24 1 140 1-20 1-73 1 5 1-9 1-87 1 118 1 20 1-110 1 14 1-16 1-66 1 78 1 10 1 34 1-2 1 58 1-72 1 21 1-40 1 91 1-175 1-1 1 98 1-79 1 155 1-54 1 131 1-143 1 110 1-126 1 26 1 3 1 1 1 18 1-55 1 45 1-72 1 47 1 66 1-1 1-67 1 16 1-5 1 22 1 51 1-57 1 47 1-91 1 39 1 17 1 18 1-142 1 117 1-12 1-30 1-28 1 50 1 76 1-123 1 50 1 23 1-20 1-55 1 18 1-29 1 43 1-39 1 73 1-16 1-24 1-20 1 3 1-57 1-2 1 61 1 69 1-16 1-13 1-10 1-26 1 41 1 113 1-148 1 26 1 18 1-98 1 65 1 46 1-22 1 30 1-27 1-7 1-8 1 7 1 17 1-41 1 33 1-27 1 103 1-32 1 10 1-70 1-12 1 36 1-49 1-14 1-27 1 64 1-47 1-12 1 65 1-64 1 43 1 7 1 7 1-24 1-35 1 91 1 1 1-97 1-41 1 40 1 89 1 45 1 88 1-96 1-70 1 26 1-24 1 38 1 43 1-52 1-16 1-63 1 74 1-104 1 73 1-100 1 130 1 47 1 36 1-1 1-119 1 59 1-12 1-61 1 63 1 35 1-15 1-69 1-38 1 29 1 10 1 58 1-122 1 28 1 124 1-90 1 90 1-26 1 8 1-42 1-23 1 11 1 51 1-54 1-6 1 8 1-4 1-6 1-20 1-6 1-25 1 129 1 10 1-51 1-55 1 113 1-51 1 9 1-18 1-70 1 76 1-52 1 10 1 4 1 9 1 82 1-92 1 10 1-37 1 60 1-39 1 5 1 41 1-80 1 34 1 18 1 22 1-45 1 131 1-133 1-23 1 54 1 28 1-37 1 47 1-40 1 85 1-2 1-27 1-130 1 102 1-41 1 38 1 30 1-58 1 53 1 1 1-43 1 96 1-59 1-42 1-22 1 57 1-84 1 33 1-29 1-17 1 8 1 58 1 67 1-60 1-13 1-12 1-108 1 81 1 49 1 21 1-65 1 71 1-16 1-76 1 48 1-45 1 105 1 17 1-31 1-17 1 7 1 44 1 33 1-54 1-29 1 14 1 45 1-68 1 43 1 67 1-160 1-13 1 65 1-47 1-41 1-10 1 5 1 165 1-46 1-35 1-67 1-45 1 171 1-23 1 24 1-48 1 85 1-113 1-31 1 43 1-36 1-73 1 44 1 47 1-85 1 94 1 56 1-2 1-30 1-5 1-38 1-9 1 31 1 151 1-117 1 26 1-15 1-38 1-36 1-23 1 31 1 4 1-23 1 20 1-59 1 29 1 113 1-105 1 4 1 18 1 20 1-28 1-4 1 17 1 79 1-46 1-22 1 122 1-5 1 19 1 30 1 0 1-32 1-182 1 65 1-12 1-7 1 81 1-24 1 11 1-103 1 75 1-26 1-7 1 54 1-61 1-7 1-4 1-10 1 83 1 30 1-84 1 36 1-89 1 40 1 74 1-80 1-15 1-23 1 16 1-2 1 73 1 13 1-20 1-23 1-77 1 24 1 47 1-24 1 51 1-56 1 33 1-33 1 95 1-91 1 93 1-137 1 21 1 43 1 38 1-99 1 170 1-115 1 23 1-156 1 131 1 31 1 1 1-5 1 48 1-16 1-29 1 4 1 16 1-10 1-4 1 3 1-56 1 17 1-82 1 80 1-7 1 3 1-22 1-4 1 94 1-43 1-11 1 22 1-81 1 91 1 55 1 29 1-9 1-56 1-84 1 31 1-28 1 41 1-50 1 66 1-49 1 16 1-1 1 64 1-21 1-66 1-2 1 48 1 54 1-35 1-1 1 21 1-7 1-42 1 10 1-50 1 54 1 98 1-45 1 0 1-32 1-15 1 72 1-78 1 29 1-76 1 67 1-41 1 33 1 58 1-35 1-114 1 96 1 24 1-29 1 5 1-18 1 53 1-6 1 47 1-101 1 1 1 6 1-1 1-14 1 56 1-38 1 48 1-26 1-76 1 49 1-70 1 83 1 4 1-27 1 58 1-102 1 73 1-5 1-10 1-58 1 113 1-8 1-58 1 12 1 148 1-98 1-52 1-67 1 23 1 12 1 23 1 42 1-107 1 81 1 112 1-112 1 14 1-38 1-74 1 67 1-19 1 85 1-116 1 75 1 6 1-129 1 39 1 62 1-63 1 54 1-59 1 26 1-26 1 114 1 28 1-71 1-16 1-16 1 54 1-40 1 33 1-11 1 30 1-15 1-5 1-8 1-20 1 4 1 38 1-103 1 71 1-28 1 87 1-82 1-51 1 76 1 23 1-4 1-33 1 123 1-53 1-148 1 76 1 17 1-86 1 46 1 19 1 95 1-35 1-50 1-20 1 51 1-101 1 39 1-47 1-14 1 4 1 33 1 53 1 0 1 10 1 13 1 7 1-47 1 23 1 29 1-22 1-20 1-61 1 131 1 28 1 4 1-48 1-75 1-21 1 140 1-69 1-86 1 13 1-9 1 54 1-32 1 39 1-34 1 76 1 77 1-105 1 38 1-52 1 60 1 29 1-60 1-29 1 55 1 35 1-76 1-14 1 10 1-4 1-15 1 41 1-33 1 54 1-68 1 19 1-11 1-35 1 100 1-108 1 134 1-67 1 72 1-35 1-14 1-16 1-20 1-61 1-54 1 45 1 105 1-62 1 85 1-87 1 163 1-38 1-139 1 47 1 57 1-27 1-32 1-103 1 121 1 9 1 8 1 19 1 77 1-68 1 58 1-86 1-55 1 6 1-86 1 104 1 105 1-28 1 8 1 86 1-164 1-25 1-22 1 75 1-51 1 91 1-32 1-12 1 24 1-40 1 0 1-38 1 5 1-117 1 98 1 60 1-24 1-20 1 24 1-5 1 14 1 59 1 11 1-60 1-38 1-3 1-15 1 19 1-1 1-25 1 31 1 30 1-50 1-38 1 47 1 4 1-34 1 59 1 2 1 63 1-13 1-15 1-17 1 42 1-68 1 34 1-10 1 47 1-45 1-78 1 60 1-30 1-47 1 69 1 3 1-6 1 56 1-98 1 119 1-104 1 23 1 22 1 16 1 45 1-32 1-67 1 65 1 84 1-61 1-25 1 26 1-28 1-53 1-77 1 122 1 35 1-95 1-62 1 49 1 75 1 6 1 72 1-49 1-18 1 31 1-143 1 101 1-90 1 57 1 76 1 23 1-44 1-49 1 11 1-27 1 15 1-27 1 45 1-21 1 79 1-93 1 26 1 44 1-8 1 22 1-18 1-85 1 41 1 10 1 28 1-49 1 61 1-78 1-6 1-15 1 21 1-51 1-8 1 10 1-11 1 40 1-67 1 85 1 6 1-11 1-8 1 106 1-34 1-56 1 43 1-32 1 45 1-14 1 10 1-14 1-53 1 57 1-64 1 33 1 6 1 34 1-44 1-59 1 19 1 38 1 1 1-20 1 101 1-49 1-37 1 3 1 59 1-38 1 43 1 21 1-32 1-19 1-31 1-33 1 19 1 71 1-46 1-9 1 52 1-6 1-24 1-29 1-12 1 90 1-3 1 50 1-7 1-27 1-152 1 3 1 32 1-32 1 8 1-25 1 115 1-48 1-52 1 42 1 96 1-19 1-30 1 4 1 56 1 20 1 27 1-35 1 87 1-139 1-3 1 10 1 65 1-94 1-45 1 55 1-12 1 13 1-33 1 53 1-43 1 13 1-64 1 73 1 5 1 29 1-91 1 58 1 26 1-28 1-15 1 65 1-36 1 43 1-64 1-5 1 9 1 12 1-19 1 49 1-94 1 83 1 41 1-81 1 48 1-82 1 71 1-39 1-24 1-18 1-45 1 66 1 48 1-187 1 209 1-81 1-52 1 35 1 67 1 18 1-81 1 89 1-9 1 3 1-15 1-44 1-12 1 38 1-59 1 9 1 3 1 40 1-11 1-74 1-33 1 0 1 159 1-41 1 110 1-60 1-50 1-26 1 41 1-3 1-110 1 16 1 67 1 48 1-2 1 43 1-36 1-21 1 4 1-30 1 42 1-5 1-40 1-22 1-52 1 84 1 43 1-36 1-27 1-47 1 77 1 81 1-66 1-30 1-82 1 63 1-48 1 46 1-28 1-61 1 17 1 57 1-8 1 151 1-33 1 23 1-82 1-38 1-1 1 22 1-15 1 58 1-25 1 31 1-12 1 6 1-49 1 44 1 60 1-80 1 45 1-89 1 5 1 26 1-54 1-64 1 87 1-10 1-19 1 83 1-10 1 2 1 31 1-52 1 52 1-41 1 40 1 60 1-60 1-128 1 50 1 16 1-5 1 19 1-4 1-67 1 32 1 98 1-66 1 29 1 38 1-110 1 34 1 39 1 1 1 55 1-104 1-55 1 63 1 52 1-68 1 71 1 85 1-73 1 31 1-19 1-35 1 38 1-47 1-32 1-7 1 69 1-13 1 7 1 19 1 56 1-39 1-27 1-63 1-13 1-21 1 33 1-40 1 26 1-36 1 123 1-26 1 28 1-3 1-15 1 35 1-33 1-83 1 111 1-43 1 75 1-87 1-45 1 25 1 5 1 34 1-21 1 21 1-69 1-59 1 99 1-6 1 35 1-3 1 36 1-12 1 16 1-89 1-15 1 19 1-96 1 80 1-16 1 54 1 61 1 6 1-37 1-47 1 106 1-65 1 102 1-110 1-44 1 20 1 8 1 44 1-30 1-2 1-88 1 88 1 47 1-77 1-35 1 132 1-125 1-10 1 4 1 7 1 85 1 41 1-32 1-65 1-31 1 2 1 122 1-59 1-6 1 25 1-16 1-46 1 132 1-44 1-52 1 6 1-13 1 2 1-3 1 79 1-91 1-31 1 34 1-72 1-1 1 114 1 76 1-41 1-38 1-96 1 40 1-72 1 68 1 14 1-29 1 12 1 26 1-29 1 133 1-44 1-88 1-9 1 45 1 35 1 107 1-121 1 31 1 32 1-104 1-72 1 61 1-20 1 59 1 31 1-19 1-80 1 73 1-24 1 17 1-28 1-25 1 40 1-59 1 56 1 40 1 10 1-1 1-24 1 9 1 57 1-103 1 32 1-69 1 1 1 52 1-8 1 61 1 3 1-3 1-13 1-56 1 59 1-57 1 73 1 58 1-131 1 9 1-14 1 36 1 30 1-2 1-59 1-11 1 27 1 51 1-100 1-39 1-38 1 122 1 44 1-54 1-18 1 8 1 85 1-86 1-8 1-37 1-44 1-19 1 98 1 37 1 2 1 56 1-32 1-68 1-43 1 82 1 4 1 35 1 28 1-54 1-60 1 46 1-5 1 14 1 14 1 66 1-102 1-75 1 91 1-69 1 60 1-13 1 4 1 41 1 34 1-11 1 42 1-103 1-31 1 3 1 58 1-26 1 9 1 34 1 24 1-101 1-6 1-17 1 152 1-27 1-73 1-2 1-28 1-55 1 61 1-27 1 16 1-8 1-22 1 0 1 116 1 47 1-123 1 121 1 20 1-81 1 21 1-64 1 66 1-31 1 1 1-85 1 45 1 7 1-65 1 112 1-79 1-39 1 104 1 27 1-6 1-6 1-39 1-44 1-24 1 34 1-40 1 80 1-62 1 128 1-75 1 12 1 35 1 82 1-66 1-40 1 12 1 8 1-25 1-32 1-46 1 92 1-39 1-20 1 98 1-42 1 12 1-3 1-19 1 34 1-36 1-38 1 42 1-1 1-83 1 91 1-7 1 78 1-25 1-77 1 45 1-71 1-19 1 113 1 45 1-25 1-66 1 12 1 8 1 16 1-37 1 53 1-41 1-30 1-7 1 46 1-57 1-75 1 104 1 27 1 30 1 30 1-29 1-33 1-12 1 68 1-9 1 34 1 17 1-44 1-61 1-30 1 19 1 17 1-10 1-57 1 127 1-69 1-17 1-71 1 76 1-10 1-2 1 27 1-1 1-27 1 10 1 17 1-23 1 91 1 0 1 10 1-150 1 58 1-62 1 118 1 34 1-19 1-91 1-9 1-59 1 96 1-57 1 33 1 67 1-27 1-115 1 55 1 8 1 50 1 24 1-78 1-45 1-38 1 98 1 55 1-71 1 65 1-14 1 33 1-123 1 68 1 2 1 1 1-7 1-36 1-34 1 31 1 4 1-48 1 18 1 49 1-28 1 49 1-9 1 29 1-49 1 54 1-66 1 61 1 100 1-153 1-43 1 46 1 15 1-27 1 39 1-19 1 17 1-70 1 5 1-52 1 77 1 98 1-61 1 21 1-99 1 117 1 25 1-113 1-78 1 59 1 61 1-35 1-24 1 101 1 68 1 10 1-80 1 79 1-13 1 24 1-26 1-35 1-5 1-18 1-71 1 75 1-65 1 69 1 23 1-21 1-30 1 37 1-61 1 136 1-67 1-39 1-15 1-34 1-31 1 36 1-60 1 65 1-4 1 41 1 74 1-54 1-43 1-56 1 74 1-22 1 102 1-18 1-110 1 16 1 82 1-48 1 10 1-17 1 5 1 69 1-34 1-91 1 42 1-38 1-26 1 112 1-19 1 29 1 30 1 30 1-65 1 38 1-67 1-84 1 27 1 20 1-29 1 15 1-14 1 16 1 31 1-36 1-12 1 178 1-130 1 76 1-60 1 3 1 67 1-96 1 57 1-22 1 19 1 26 1-18 1-3 1 51 1-18 1 17 1-74 1-21 1-5 1-60 1 65 1 17 1-16 1 26 1 51 1-107 1 7 1-7 1 61 1 40 1-23 1-37 1 100 1-62 1-100 1 30 1 1 1-26 1 82 1-1 1-15 1-77 1 12 1-12 1-35 1 122 1-45 1-29 1-37 1 60 1-23 1 53 1-44 1 36 1-14 1-28 1-13 1-3 1 19 1 62 1-24 1 9 1-30 1 79 1 19 1-31 1 54 1-63 1-38 1 18 1-59 1 44 1-18 1 21 1 23 1-85 1 96 1-32 1-89 1 44 1 12 1 35 1 27 1-87 1 100 1-43 1-3 1 65 1 18 1-11 1-32 1 58 1-53 1 3 1 46 1-93 1-88 1 57 1 35 1 67 1 75 1-157 1-17 1 65 1-27 1-33 1-18 1-20 1 80 1-44 1-28 1 107 1-52 1 66 1-89 1-28 1-16 1 16 1 17 1 47 1 37 1-38 1-25 1-10 1 50 1-45 1 63 1 5 1-6 1 7 1 65 1-60 1-45 1 31 1-53 1-65 1 49 1 26 1 28 1 0 1-19 1-52 1-87 1 138 1-21 1 121 1-95 1 5 1 19 1-12 1-9 1-67 1 82 1-94 1 74 1-65 1 10 1 6 1 17 1 40 1 8 1-10 1 16 1-32 1 71 1-101 1 34 1-2 1 117 1-88 1-43 1 33 1-91 1 97 1-79 1 18 1 90 1 4 1 12 1-104 1 105 1-39 1-10 1 21 1-17 1-4 1 25 1 25 1-80 1 20 1-75 1 17 1 153 1-75 1-41 1 13 1-98 1 29 1 26 1-15 1 0 1-7 1 112 1-21 1-44 1-17 1 110 1-45 1-90 1 37 1 35 1-78 1 66 1-71 1 51 1 70 1-41 1-3 1 33 1-69 1 48 1-52 1-35 1 36 1-48 1 77 1 50 1-23 1-29 1 18 1 17 1 0 1-25 1-81 1 9 1 10 1 36 1 67 1 3 1-83 1-36 1 22 1 34 1-36 1 33 1 32 1 1 1 37 1-109 1 32 1 26 1 33 1 110 1-148 1-15 1 37 1-52 1 71 1-34 1-17 1-47 1 13 1 6 1 102 1 45 1-146 1 83 1-46 1 13 1-113 1 87 1-43 1 45 1 21 1-8 1-16 1-10 1 44 1 100 1-3 1-170 1-28 1 140 1-29 1-93 1 16 1 21 1-7 1 69 1-77 1-27 1 74 1-33 1 67 1 15 1-13 1 10 1-78 1-18 1 112 1 27 1-97 1 11 1-36 1-30 1 76 1 24 1 17 1-6 1-47 1 75 1-40 1-57 1 14 1 72 1-85 1 94 1 46 1-107 1 67 1-33 1-22 1-29 1 35 1-92 1 18 1-51 1 27 1 28 1 39 1-1 1-14 1 17 1-1 1-60 1 9 1 36 1 103 1-92 1-21 1 56 1-17 1-26 1-59 1-21 1 49 1 38 1-44 1 27 1 2 1-89 1 95 1 74 1-45 1-36 1-135 1 77 1-31 1 95 1 3 1-31 1-32 1 109 1-131 1 70 1-11 1 52 1-74 1 46 1 82 1-85 1-23 1 36 1 79 1-66 1 37 1-143 1 19 1 156 1-125 1 57 1-23 1 61 1 11 1-58 1-8 1-71 1 132 1-118 1 14 1 108 1-78 1 66 1-93 1 48 1 62 1-8 1-8 1-58 1-1 1 12 1 72 1-63 1 28 1-9 1-1 1-50 1-4 1-21 1-35 1 63 1-24 1 49 1-74 1 6 1 24 1-72 1 27 1 76 1 30 1-9 1 3 1 22 1-19 1 17 1-49 1-84 1 32 1 24 1 53 1-5 1-69 1-20 1 160 1 28 1-162 1 39 1-2 1 17 1 2 1 4 1-30 1 45 1-34 1-35 1 57 1-4 1-6 1 4 1-30 1 62 1 14 1 38 1-129 1 5 1 85 1-73 1 33 1 25 1-41 1-6 1-40 1-7 1 70 1-20 1 41 1-37 1-17 1-23 1 80 1-68 1-3 1 43 1-33 1 128 1-18 1-102 1 34 1-28 1 11 1 4 1-20 1 8 1-28 1 7 1-15 1 24 1 17 1-43 1 2 1-53 1 24 1 66 1-14 1 6 1 5 1 66 1-107 1 193 1-165 1-60 1 45 1-48 1 48 1 22 1-36 1-48 1 138 1-20 1-72 1-18 1 52 1-22 1 56 1-74 1 16 1 40 1 25 1-74 1 63 1-63 1 63 1-34 1 9 1 54 1-86 1-8 1-39 1 54 1 6 1 23 1 82 1-46 1 38 1-129 1 34 1 16 1 27 1-22 1-78 1 21 1 82 1 1 1-87 1 93 1-86 1 33 1 70 1-39 1-7 1-35 1-15 1-6 1 27 1-68 1 95 1 36 1 13 1-35 1 23 1-138 1 115 1-14 1 8 1-5 1 8 1-21 1-46 1 74 1-85 1 18 1 70 1-47 1-27 1 112 1-57 1 72 1-6 1-23 1-41 1 20 1-2 1 22 1-46 1 81 1-74 1 15 1 53 1-100 1 19 1 36 1 35 1-47 1 33 1-41 1 17 1-13 1-50 1 43 1 18 1-8 1-68 1 78 1-45 1 15 1-7 1 11 1-9 1 8 1-67 1-23 1 83 1-56 1 38 1 71 1-14 1-44 1-33 1 3 1 44 1 31 1 138 1-45 1 12 1-100 1-52 1-20 1 19 1 17 1-1 1 16 1-68 1 3 1 64 1 33 1-48 1-52 1 20 1 82 1-55 1 30 1-24 1 56 1-15 1-43 1 18 1-34 1-40 1 91 1-23 1 7 1-20 1-36 1 78 1-16 1 7 1 35 1-14 1-126 1 1 1 7 1 85 1-9 1-63 1 147 1-62 1-9 1 41 1-33 1 24 1 37 1-141 1 44 1 28 1 24 1-82 1 16 1-22 1 99 1 65 1-84 1-36 1 27 1 36 1-53 1 6 1-21 1 77 1-115 1-8 1 15 1-123 1 137 1 28 1 39 1-66 1 53 1-49 1-11 1 67 1-18 1-50 1 75 1-10 1-88 1-49 1 88 1-40 1 45 1-26 1 2 1-22 1 23 1 84 1-20 1-1 1-66 1-47 1 17 1 40 1 33 1-48 1 131 1-93 1 89 1-144 1-22 1 79 1 3 1-113 1 42 1 40 1 36 1 35 1-75 1 103 1-90 1-10 1 36 1-22 1-60 1-35 1 122 1 15 1-111 1 48 1 104 1-65 1-35 1-19 1-33 1 19 1-50 1 48 1 86 1-21 1 54 1-23 1-133 1 97 1-54 1 41 1 55 1 5 1 26 1-30 1 31 1-61 1-14 1 13 1 13 1 82 1-44"/>
<path class="g" transform="scale(0.053881,0.2)" d="M0,612l1 43 1 82 1-21 1-46 1 23 1 18 1-50 1-88 1 23 1 110 1-43 1 67 1-61 1-4 1 69 1 49 1 32 1-19 1-34 1-55 1-110 1 122 1-46 1 29 1 22 1-6 1 40 1-56 1 92 1-68 1-3 1-43 1 70 1 15 1-7 1-36 1-66 1 27 1-6 1-14 1 66 1-2 1-99 1-49 1 70 1 36 1 0 1-19 1 20 1 59 1 75 1-82 1-23 1 11 1-13 1-54 1-6 1 63 1-59 1 18 1 60 1-47 1-27 1 38 1 12 1 33 1-83 1-6 1 57 1 4 1-33 1 12 1-11 1 74 1-37 1 35 1-12 1 10 1-32 1-34 1 8 1-70 1 13 1 18 1 55 1 59 1-79 1 70 1-41 1-58 1-50 1 89 1 139 1-32 1-14 1-71 1 42 1-32 1-38 1 51 1 1 1 12 1-23 1-28 1 68 1-42 1 41 1-2 1-11 1-41 1 9 1-31 1 62 1 24 1-58 1-2 1 0 1 63 1-61 1 23 1 87 1-81 1 2 1-93 1 52 1-56 1 25 1 19 1 17 1 58 1-73 1 4 1 62 1 35 1-50 1 5 1-78 1-7 1 18 1 41 1-2 1 29 1-16 1-5 1-118 1 41 1-15 1 19 1-8 1 61 1-37 1-10 1-2 1 87 1-59 1 25 1 79 1-113 1-15 1 32 1 29 1 6 1-39 1 9 1 15 1 64 1 26 1-40 1 31 1-27 1-25 1 10 1-49 1-30 1-31 1 35 1 18 1-35 1-12 1 114 1-3 1-20 1-20 1-8 1-12 1 27 1-37 1 11 1-10 1 9 1 18 1-26 1 34 1-24 1 32 1-116 1 80 1 3 1-19 1 83 1-2 1-11 1 31 1-81 1 39 1 36 1-6 1-84 1 56 1 55 1 0 1 1 1-16 1-17 1-4 1-16 1 5 1-22 1 10 1-8 1-7 1-78 1 96 1-43 1-7 1 65 1-37 1 9 1 44 1-12 1-32 1-1 1-31 1-11 1 48 1 52 1-61 1 35 1-76 1 9 1-10 1 38 1 3 1 10 1-40 1 75 1 31 1 21 1-40 1-33 1 11 1-94 1 166 1-145 1-25 1 37 1 15 1 24 1 65 1 45 1-60 1-38 1 47 1 21 1-34 1-12 1-37 1 41 1-43 1-20 1-78 1 10 1 56 1-14 1 44 1 4 1 38 1-43 1-4 1 120 1-81 1-30 1 64 1 17 1 57 1-39 1-79 1 23 1-43 1 0 1 47 1-24 1 23 1-90 1-71 1 90 1-43 1-80 1 92 1-7 1 16 1-47 1-14 1 101 1-10 1 53 1-57 1 24 1 23 1 0 1 56 1 37 1-57 1 0 1-15 1 8 1 13 1-7 1-49 1-17 1-10 1 30 1-30 1 12 1 9 1 10 1-12 1-5 1 25 1 27 1-69 1-5 1 1 1-47 1 25 1 26 1 4 1-45 1 71 1-75 1 32 1-5 1 86 1-11 1 13 1-4 1-46 1-11 1 71 1 2 1 12 1-89 1 47 1 2 1 28 1-50 1 66 1 3 1-62 1 37 1 48 1-49 1-47 1 16 1 8 1-110 1 33 1 137 1-63 1-7 1-74 1 54 1-14 1 45 1-58 1 68 1 0 1 18 1-23 1-27 1-19 1-5 1-22 1-39 1 68 1-3 1-88 1 13 1 78 1-61 1 0 1 76 1-32 1 55 1 6 1-7 1-31 1-17 1 65 1-69 1-12 1-6 1 38 1 27 1-107 1 9 1 1 1 30 1 17 1-46 1-5 1 52 1 72 1-31 1 35 1 21 1 6 1-31 1 24 1-36 1-3 1 74 1-70 1-31 1 38 1-53 1-10 1 63 1-18 1-48 1-60 1 56 1-78 1 61 1 43 1 20 1-45 1 9 1 102 1-68 1 21 1 55 1-71 1 28 1-30 1 8 1 2 1-77 1 30 1 96 1-2 1-50 1-114 1-18 1 46 1 12 1 104 1-18 1-63 1 13 1 80 1-21 1 3 1-32 1-46 1 19 1 62 1-27 1-14 1 5 1-9 1-50 1 10 1 85 1-26 1-69 1-15 1 70 1-9 1 14 1 25 1 26 1-20 1-137 1 29 1-28 1 70 1-100 1 21 1 29 1 46 1 134 1-42 1-86 1 56 1-38 1 30 1-61 1 89 1 38 1-11 1-63 1 13 1-23 1 6 1-72 1 88 1-18 1-19 1 37 1-80 1 3 1 66 1 21 1 72 1-56 1-18 1-77 1 79 1 15 1 39 1-67 1-105 1 11 1 118 1-25 1-21 1-80 1 77 1-22 1 13 1 38 1 47 1 49 1-118 1 82 1-56 1 16 1-54 1 39 1 31 1-87 1 42 1 32 1-97 1 23 1 39 1 33 1-17 1-39 1 2 1 23 1 10 1-17 1-54 1 98 1-63 1 17 1 1 1-2 1 26 1-7 1 30 1-57 1-28 1-29 1-5 1 40 1 26 1-68 1 54 1 57 1-116 1 21 1 41 1-17 1-32 1-8 1-49 1 125 1-35 1-12 1-26 1 19 1 60 1 46 1-71 1 40 1-50 1-20 1 8 1 55 1 5 1-23 1-78 1 17 1-16 1 39 1 4 1-70 1 57 1 55 1 21 1-39 1 31 1-101 1 54 1 21 1 18 1 12 1-34 1-79 1 64 1 35 1-3 1 11 1-7 1-31 1-45 1-7 1 1 1-45 1 37 1 84 1-123 1-2 1-30 1 23 1 73 1-7 1 38 1 56 1-12 1-16 1 19 1-48 1 68 1-59 1-40 1 81 1 18 1-35 1 17 1-14 1 63 1 45 1-17 1-77 1-6 1 42 1-80 1-121 1-7 1 88 1 79 1 21 1-2 1 17 1-94 1 52 1 24 1-52 1-89 1 58 1 51 1-38 1-59 1 48 1-20 1 26 1 26 1 0 1-9 1 48 1-14 1 17 1 11 1-20 1-1 1-82 1-22 1 24 1 32 1-25 1 82 1 13 1 4 1 11 1-44 1-4 1 34 1-22 1-47 1-45 1 29 1 11 1 21 1-48 1-32 1 69 1 37 1-61 1 39 1 11 1-10 1-40 1 69 1-96 1 59 1-18 1-19 1-47 1 70 1-8 1 95 1-63 1-26 1 25 1-32 1 59 1 83 1-75 1-45 1-34 1-75 1 38 1 12 1 48 1-33 1 54 1 38 1 31 1-19 1-57 1 36 1-38 1 50 1-21 1 39 1-31 1-84 1 87 1-30 1 37 1 7 1 4 1-49 1 77 1-10 1-89 1-29 1-61 1-2 1 22 1 96 1 51 1 13 1-72 1-54 1 39 1-8 1-86 1 107 1 53 1-10 1-54 1 1 1-5 1 22 1-62 1 46 1 39 1-22 1 1 1 28 1-25 1 19 1-70 1-11 1 40 1-61 1-2 1 74 1 14 1-50 1 14 1 29 1-49 1-9 1 113 1 40 1-50 1-61 1-31 1 207 1-200 1 4 1 26 1 48 1-112 1 25 1 8 1-15 1 39 1 45 1-48 1-2 1 27 1-26 1-35 1 58 1-43 1-34 1 22 1 28 1-38 1 27 1 79 1-27 1 36 1-35 1-15 1-52 1-35 1 9 1 37 1 37 1 77 1-71 1-37 1 21 1 10 1 20 1-5 1-79 1 6 1-42 1 57 1 36 1-60 1-45 1 6 1 12 1-12 1 10 1 4 1 2 1 44 1-13 1 131 1-140 1 23 1 33 1-52 1 15 1 14 1 63 1 10 1-56 1-88 1 35 1-12 1 15 1 82 1 19 1-2 1-45 1 1 1-30 1-48 1-29 1 77 1 79 1-56 1-29 1 54 1-7 1-11 1-40 1 104 1-3 1-78 1 35 1-31 1-11 1-33 1 35 1-32 1-3 1 18 1 17 1-18 1 5 1 10 1 59 1-122 1 40 1 100 1 2 1 9 1 8 1-46 1-53 1 43 1 40 1-1 1 12 1-84 1 55 1 16 1-17 1-44 1 43 1-47 1 1 1 38 1-13 1 20 1-53 1 13 1 25 1 1 1 7 1-66 1 46 1-9 1-41 1 30 1 43 1-24 1-72 1 28 1 55 1-57 1 12 1 40 1 38 1-126 1 115 1 10 1-13 1-57 1-11 1-22 1 34 1 34 1-30 1 6 1 12 1 102 1-79 1-76 1 0 1 72 1 20 1 24 1-35 1 6 1 43 1-48 1-14 1-129 1 51 1-8 1 85 1-1 1-4 1 47 1-29 1-3 1 1 1-46 1 79 1 23 1-66 1-70 1 49 1 54 1-14 1-48 1 37 1-59 1 56 1-21 1-45 1 5 1-24 1 78 1-30 1 38 1-4 1-28 1-14 1 19 1-19 1 78 1 14 1-17 1-8 1-59 1-55 1 15 1 33 1-80 1 43 1 54 1 5 1 56 1 68 1-100 1-6 1-64 1-5 1 47 1 25 1-44 1 46 1-31 1 15 1-22 1 28 1-62 1 11 1 37 1 61 1-64 1 40 1-28 1 5 1 29 1 45 1-67 1-41 1-10 1 38 1 17 1-7 1 9 1-12 1-46 1 60 1-27 1 51 1-73 1-31 1 2 1-1 1-67 1 57 1 102 1 3 1 13 1-74 1-11 1 82 1-40 1 38 1-29 1-6 1 9 1-4 1-60 1 46 1 25 1 11 1-20 1 10 1-27 1-22 1 27 1-42 1 31 1-14 1 5 1-28 1-65 1 91 1-62 1 36 1 28 1-79 1-1 1 23 1 21 1-11 1 42 1-29 1 29 1 32 1 33 1-65 1 29 1 15 1-40 1 8 1 40 1-31 1-32 1-18 1-27 1 77 1 68 1-96 1 34 1 24 1-28 1 2 1-15 1-4 1 26 1-3 1 5 1-38 1-25 1 8 1 116 1-41 1-10 1 27 1 21 1-72 1-57 1-18 1 112 1 4 1 9 1 22 1-3 1 26 1-37 1 65 1-14 1-69 1 26 1 61 1 15 1-52 1-26 1-96 1 56 1-20 1 35 1-19 1-83 1 91 1-29 1-34 1 138 1-21 1-58 1 38 1-46 1 35 1-56 1 98 1-61 1-16 1-20 1-4 1-30 1 85 1-127 1-30 1 24 1 21 1-41 1 11 1 46 1 5 1-14 1 35 1 51 1-39 1 92 1-79 1-45 1-68 1 89 1-28 1-39 1 45 1-10 1 55 1 17 1 30 1-5 1-46 1-76 1 36 1 45 1 60 1 16 1 12 1-19 1-7 1-41 1-49 1 43 1-37 1-42 1 91 1-36 1 4 1-21 1 38 1-32 1-5 1 93 1-40 1 7 1-18 1-46 1 11 1-85 1 61 1 81 1 27 1-2 1-9 1-7 1-94 1 52 1 8 1-17 1-25 1-77 1 82 1 4 1-48 1 46 1-30 1-10 1 43 1 36 1 3 1-30 1 16 1-3 1 37 1-73 1-4 1 3 1 50 1-102 1 0 1 37 1 20 1 83 1-30 1-80 1 95 1-27 1 2 1 5 1-18 1 10 1-117 1-5 1 11 1 75 1 62 1-44 1-29 1-19 1 84 1-73 1 35 1 21 1 8 1-10 1-5 1-49 1 52 1-37 1 30 1-51 1 11 1 33 1-35 1 51 1 81 1-104 1 12 1 18 1-10 1 37 1-35 1 13 1 55 1-17 1-64 1-24 1-26 1 21 1 53 1-8 1-93 1 53 1 84 1-79 1-68 1-10 1 20 1-70 1 64 1 0 1 87 1 19 1 16 1 11 1-17 1 16 1-62 1-92 1 21 1 38 1 30 1-6 1-8 1 28 1 5 1 19 1 0 1-14 1 20 1-22 1-64 1 41 1 10 1-45 1 6 1 66 1-6 1-100 1 15 1-5 1-43 1 101 1 26 1 38 1-31 1-64 1-7 1 26 1-34 1-7 1 5 1 26 1-23 1-82 1 41 1 32 1 38 1-48 1 29 1 43 1 11 1-41 1-8 1 28 1-25 1 0 1 25 1-20 1 1 1 53 1 25 1 4 1-42 1-21 1-14 1 26 1-80 1 81 1-2 1-28 1 35 1-26 1 18 1-36 1-4 1-9 1 52 1-17 1 70 1 62 1-98 1 25 1-28 1-15 1 9 1 20 1-90 1 48 1 26 1-39 1 26 1-17 1 5 1 8 1-5 1-42 1 2 1 78 1 6 1 11 1-14 1 9 1-33 1-8 1-37 1 15 1-39 1-37 1 35 1 12 1-44 1 31 1 35 1 4 1 72 1-77 1 64 1-82 1-91 1 70 1 89 1-33 1-3 1 50 1-8 1 6 1-5 1-58 1 12 1 16 1 10 1-41 1-1 1 38 1 3 1-70 1 44 1-14 1 76 1-27 1-39 1-45 1 47 1 46 1 24 1 9 1 46 1-51 1-116 1 72 1-133 1 41 1 49 1-12 1-58 1 37 1 56 1 1 1 23 1 7 1 38 1-21 1-5 1 2 1-77 1 20 1 103 1-99 1 68 1-6 1-19 1-13 1-20 1-43 1-10 1 58 1-67 1 100 1 11 1 53 1-39 1-60 1 17 1 20 1 4 1-61 1-24 1 30 1 13 1 28 1-27 1 73 1-13 1-63 1 29 1 0 1-86 1 35 1 84 1-66 1 9 1 40 1-27 1-7 1 43 1-3 1 40 1 8 1-96 1 1 1 17 1 11 1 6 1 44 1-28 1 4 1-42 1-17 1 1 1-8 1 5 1-86 1-22 1-1 1 47 1-9 1-20 1 1 1 20 1 76 1 41 1-18 1-80 1-53 1 96 1 58 1-72 1 10 1 8 1 1 1-7 1-25 1 52 1 34 1 23 1-54 1 10 1-27 1 52 1-76 1 26 1 61 1 3 1-38 1 14 1-123 1 9 1 91 1-41 1 50 1-24 1 38 1-71 1 35 1-10 1 43 1 68 1-39 1-25 1 56 1-64 1 39 1-66 1-37 1-17 1 126 1-58 1-21 1 2 1 38 1 20 1 28 1 4 1-116 1 53 1 14 1-85 1-29 1 71 1-39 1-11 1-35 1 77 1 0 1 13 1 2 1 13 1 44 1 37 1-55 1 46 1-62 1-62 1-23 1 32 1 44 1 26 1-26 1-1 1-43 1 107 1-42 1-6 1-14 1-44 1-39 1 7 1 18 1-10 1 50 1-16 1-29 1 24 1-27 1-10 1 4 1-8 1 4 1 22 1 8 1 58 1-12 1 25 1 2 1-46 1-45 1 56 1 40 1-89 1 57 1-42 1 52 1-64 1 50 1-22 1-61 1 1 1 42 1 59 1-27 1-86 1 44 1 68 1 99 1-66 1 15 1-40 1-51 1-41 1 59 1-11 1 7 1 4 1 43 1 10 1-46 1 13 1 17 1-47 1-158 1 152 1 23 1-69 1 7 1 9 1-55 1 60 1 11 1-22 1 64 1-18 1 26 1 22 1-47 1 62 1-87 1 11 1 37 1-8 1-77 1 48 1 53 1-133 1 42 1 74 1-13 1 17 1-33 1-8 1 37 1-16 1 19 1-35 1-62 1 11 1 71 1 32 1-42 1 63 1-2 1-73 1 40 1 19 1 17 1-18 1-20 1-39 1 64 1 34 1-111 1 43 1-37 1-15 1-16 1 88 1 36 1-123 1-9 1 119 1 20 1-6 1 15 1-30 1-22 1 25 1-98 1-21 1 47 1 1 1 33 1-32 1 64 1-45 1-24 1 75 1-35 1 3 1-15 1-65 1-51 1 81 1 64 1 32 1 9 1 32 1-76 1-4 1-9 1-22 1-17 1 9 1 34 1-84 1 134 1-97 1-20 1 38 1-49 1 70 1-33 1-42 1 38 1 16 1 40 1 0 1-20 1 27 1-76 1-2 1 64 1-18 1-21 1-17 1 5 1 20 1-102 1 134 1-6 1-35 1-37 1-70 1 127 1 5 1-34 1-3 1 28 1-6 1 109 1 3 1-41 1-64 1 2 1-15 1-16 1 42 1-13 1 26 1-100 1 23 1 23 1 38 1-31 1-29 1 62 1 16 1-70 1 1 1-53 1 73 1 88 1-26 1-34 1-52 1 1 1 39 1-100 1 129 1 8 1-79 1-8 1 73 1-103 1 93 1-102 1 117 1-7 1-65 1 45 1-67 1-18 1 105 1-20 1 53 1-21 1-1 1 0 1 19 1-102 1 15 1 55 1-9 1-41 1-7 1 70 1 108 1-41 1-87 1-41 1-16 1 7 1-15 1 8 1-13 1-3 1 80 1-59 1-51 1 8 1 51 1 58 1-22 1 36 1-9 1-34 1-23 1 60 1-1 1-28 1-15 1-28 1 65 1-59 1-1 1 23 1 42 1 55 1-47 1-101 1-11 1 40 1 85 1-40 1 14 1 3 1-20 1 59 1-40 1-42 1 20 1 33 1 80 1-16 1-44 1-109 1 55 1-108 1 79 1-2 1-77 1 71 1 49 1-5 1-6 1-33 1 44 1-37 1 27 1-14 1-69 1 7 1 27 1 52 1 47 1-74 1 0 1-23 1 22 1 54 1-57 1 34 1-69 1 28 1 55 1-58 1-8 1-22 1-10 1-39 1 28 1 74 1-8 1 16 1 1 1 8 1 1 1-25 1-6 1-7 1-36 1 21 1 26 1 99 1-77 1-26 1-31 1 38 1 54 1-78 1 42 1-57 1 48 1-38 1 47 1-5 1 59 1-83 1 28 1 13 1 17 1-25 1-95 1 95 1-20 1 11 1-26 1 52 1 50 1-27 1-24 1-12 1-31 1-101 1 47 1 75 1 21 1-23 1 69 1-31 1-7 1-62 1-37 1 24 1 81 1-38 1-31 1 9 1-17 1-4 1 42 1-18 1-66 1-59 1 50 1 55 1 21 1 2 1 11 1 91 1-35 1-43 1-78 1-30 1 23 1 61 1-31 1 62 1 20 1-28 1 65 1 16 1-47 1-20 1-76 1 3 1 51 1 59 1-3 1-12 1 62 1-68 1-46 1 131 1-48 1-55 1 58 1-37 1-10 1-8 1-31 1 40 1 3 1 0 1-74 1 97 1-115 1 51 1 27 1 109 1-93 1 48 1-110 1-10 1-66 1 17 1 9 1 77 1 6 1 73 1-58 1-36 1 37 1-28 1-7 1-14 1-46 1 48 1-87 1 7 1 82 1-49 1-16 1 60 1 24 1-30 1 0 1-25 1 20 1 29 1-47 1-28 1 7 1-14 1 68 1 105 1-24 1-7 1 24 1-41 1-42 1-46 1-1 1-59 1 18 1 4 1 61 1 36 1-63 1 14 1 33 1 85 1-10 1-24 1 15 1-35 1-14 1 25 1-40 1 7 1-11 1-13 1 62 1-32 1 25 1-24 1 8 1 12 1-15 1 9 1-3 1-81 1 99 1-34 1-74 1-18 1 7 1 57 1-14 1 30 1 48 1 46 1-70 1-20 1 45 1 30 1-82 1 29 1-51 1 2 1 44 1-19 1 70 1-81 1-20 1 97 1-32 1-8 1 5 1-44 1-22 1-12 1 64 1-6 1-17 1-22 1 30 1-43 1-38 1 62 1 23 1 71 1-83 1-28 1-28 1 36 1-51 1 14 1 49 1-55 1 54 1 10 1-137 1 85 1 61 1 1 1 4 1 69 1-58 1 36 1-31 1-8 1-94 1-43 1 63 1-24 1-13 1 45 1-17 1 127 1-69 1 48 1 71 1-82 1 40 1-60 1-19 1 54 1 18 1-77 1-35 1-24 1 56 1-2 1 45 1 1 1 90 1-24 1-28 1-38 1 9 1-34 1 61 1-26 1 10 1 8 1-64 1-1 1 34 1 18 1-53 1 89 1-38 1 44 1-110 1 21 1 18 1 38 1-26 1-38 1 9 1 3 1-12 1-5 1-14 1 45 1-5 1 89 1-78 1 25 1 45 1-5 1-99 1 55 1-59 1-11 1-48 1-24 1 45 1 37 1 84 1-11 1-23 1-10 1-40 1 43 1-9 1-97 1 12 1 63 1 26 1-8 1-13 1-6 1 7 1-34 1 21 1-16 1 0 1 19 1 110 1-69 1-20 1 18 1 58 1-48 1 36 1-3 1-16 1 53 1-32 1-69 1 27 1-70 1 14 1-54 1 46 1 31 1-70 1 90 1 8 1 45 1-5 1 57 1-87 1-23 1 5 1-30 1 15 1 25 1-25 1 29 1-1 1-1 1-53 1-32 1 40 1 51 1 60 1-8 1 8 1-18 1-121 1-25 1 69 1 0 1-34 1 22 1 55 1 15 1 59 1-24 1-30 1-30 1-49 1 74 1-101 1 32 1 44 1-33 1 83 1-31 1 0 1 26 1-157 1 77 1 16 1-63 1 84 1-33 1 21 1-47 1-13 1 40 1-129 1-8 1 176 1 24 1-32 1-15 1-83 1 48 1 19 1-31 1 75 1 29 1 8 1-31 1-21 1 50 1-12 1-60 1-12 1-101 1-14 1 81 1 38 1 13 1 40 1-74 1-6 1-20 1-30 1 37 1 3 1-51 1 87 1 24 1-103 1 29 1 14 1 70 1 33 1 15 1-6 1-68 1 36 1-43 1 8 1-5 1-39 1-69 1 11 1 51 1 124 1-45 1-22 1-6 1-20 1-108 1 15 1 85 1 16 1 16 1-42 1 79 1-28 1-23 1 37 1 11 1-5 1-58 1 51 1-65 1 49 1-51 1 45 1-50 1 80 1-63 1-5 1-8 1 40 1-56 1-5 1 63 1-37 1 6 1 22 1-20 1 50 1-7 1-51 1 19 1 71 1-22 1 31 1-60 1-45 1-38 1-27 1 68 1 20 1 49 1-50 1 102 1-57 1-5 1-65 1-75 1 58 1 36 1-28 1 87 1-33 1 70 1-19 1-15 1-45 1-47 1 92 1-56 1 46 1-100 1-40 1 90 1 11 1 9 1 85 1-4 1 15 1-84 1 2 1 18 1-26 1-20 1 24 1-3 1-118 1-1 1 100 1 16 1 104 1-30 1-86 1 6 1-21 1 123 1-42 1-59 1 47 1 33 1-39 1 22 1-23 1-29 1-47 1-4 1 36 1-28 1-18 1 79 1-75 1 83 1-3 1-32 1 59 1-8 1-45 1 1 1 19 1-59 1-7 1-11 1 24 1 10 1-28 1-3 1 26 1 22 1-44 1-2 1 52 1 20 1-59 1 11 1-48 1 81 1-41 1-27 1 13 1-26 1 89 1-26 1-42 1 96 1-32 1-20 1-15 1 47 1 76 1-38 1 11 1-92 1 17 1-19 1 50 1 1 1 16 1-11 1 32 1-98 1 39 1 23 1 24 1-74 1 6 1-22 1-7 1-54 1 4 1 66 1 42 1-45 1 2 1-88 1 88 1-44 1 45 1-76 1 119 1 13 1-40 1 50 1 29 1-52 1 8 1 56 1 8 1-82 1 3 1 3 1 77 1 0 1-106 1 3 1-47 1 57 1 9 1-25 1 51 1 44 1-10 1 14 1-24 1 25 1-28 1 6 1-66 1-3 1 32 1 24 1-74 1-35 1 40 1 17 1-40 1-33 1 74 1-10 1 15 1-1 1-14 1-23 1-35 1 135 1-65 1-46 1 22 1 17 1-55 1 43 1 108 1 27 1-117 1-29 1 19 1 33 1-20 1 34 1 28 1-53 1-22 1 75 1-13 1-83 1-5 1 77 1-62 1-97 1 31 1 33 1 35 1 64 1-75 1 65 1-54 1 42 1-24 1-19 1 5 1 25 1 26 1-25 1-60 1 71 1-21 1-52 1 37 1 24 1-20 1 19 1-61 1 63 1-26 1 88 1-18 1-91 1-17 1 25 1 9 1 30 1-46 1 0 1 39 1 64 1-31 1 28 1 6 1-68 1-14 1-27 1-35 1 12 1 44 1-24 1 20 1-52 1 32 1-46 1 106 1-67 1 31 1-17 1-62 1 90 1 26 1 14 1 25 1-58 1-34 1 86 1 24 1-68 1 31 1-14 1-36 1 7 1-99 1 73 1-68 1 34 1 11 1 36 1 3 1 48 1-52 1-90 1 59 1 32 1-54 1 0 1 55 1-7 1 15 1-30 1 52 1-39 1-37 1 33 1 39 1-58 1 29 1-84 1 72 1-51 1 67 1 51 1 12 1-48 1-46 1 6 1-62 1 113 1-43 1-1 1 19 1-18 1 75 1 17 1-55 1-64 1 53 1 14 1-40 1 15 1 9 1-17 1 6 1-4 1 6 1 50 1 87 1-57 1-46 1-21 1-9 1-63 1 32 1 58 1 4 1 26 1 2 1-17 1 16 1 13 1-24 1-31 1 88 1-25 1-39 1-39 1 51 1-54 1-11 1 37 1 48 1-31 1-38 1 12 1-16 1 53 1-5 1-69 1-52 1 10 1 19 1 21 1-21 1 10 1 0 1 60 1 10 1 28 1-17 1-9 1 21 1 36 1-31 1-42 1 4 1-15 1-11 1-20 1 12 1 5 1 38 1-87 1-2 1 87 1-56 1 47 1-7 1 35 1-18 1-42 1 41 1-26 1-28 1-4 1 17 1-2 1-30 1 92 1-139 1 46 1 32 1 48 1 52 1-85 1-14 1 88 1-33 1 23 1 8 1-27 1-5 1-49 1 1 1 17 1-65 1 81 1-106 1 77 1-24 1-20 1 102 1 33 1-4 1-80 1 75 1-69 1-64 1 59 1 40 1-2 1-82 1 111 1-31 1 19 1 4 1-30 1-34 1-14 1 24 1 34 1-11 1 28 1-17 1-46 1 37 1 5 1-15 1-22 1-26 1 49 1-16 1-69 1 9 1 60 1-33 1 45 1-74 1 34 1-69 1 156 1-5 1 4 1-16 1-40 1 2 1-92 1 33 1-33 1 70 1 16 1 9 1-110 1 33 1-49 1 38 1 39 1-10 1 22 1 40 1 2 1 32 1-68 1 26 1 54 1-27 1-41 1-42 1 93 1-5 1 49 1-18 1-66 1 59 1-77 1-1 1 30 1 3 1 41 1-36 1-40 1-18 1-16 1 81 1-46 1 63 1-7 1-10 1-11 1-11 1 20 1 8 1 2 1-17 1 47 1-26 1-120 1 38 1 47 1 1 1-33 1-18 1-9 1 76 1 1 1-37 1 11 1-30 1 41 1-47 1 13 1 68 1-19 1 5 1 18 1-83 1 28 1-25 1 42 1-59 1-29 1 57 1 100 1 40 1-48 1-27 1 39 1-85 1 41 1-18 1-119 1-38 1 65 1 57 1 7 1-37 1-1 1 14 1-12 1 109 1-66 1 64 1-63 1-1 1 53 1-50 1-19 1 79 1-19 1-13 1-17 1 1 1-57 1 2 1-59 1 67 1-95 1 84 1 44 1-4 1-6 1 16 1-41 1-7 1 115 1-50 1-55 1 63 1-25 1-7 1-28 1 44 1-53 1-47 1 20 1-35 1 81 1 32 1 41 1-30 1-24 1 19 1 39 1-29 1-10 1-41 1-6 1-38 1-36 1 60 1 46 1 6 1 24 1-114 1 111 1-52 1 34 1 37 1-67 1 8 1-27 1 43 1 35 1-96 1 14 1 8 1 17 1 27 1-12 1 15 1-51 1-10 1-38 1 53 1 12 1 93 1-16 1-10 1-2 1-41 1-26 1 29 1-34 1 23 1-44 1 8 1 67 1-29 1 63 1-39 1-2 1-8 1-27 1-3 1 4 1-16 1 22 1 33 1-65 1 4 1 35 1 18 1-2 1-44 1 49 1 1 1 31 1-66 1 8 1-46 1 50 1 6 1 51 1-25 1-20 1 54 1-96 1 11 1-36 1 57 1-21 1 39 1-2 1-3 1-32 1 15 1 34 1 4 1-22 1 21 1-15 1-3 1-64 1 46 1 4 1-4 1 66 1 18 1-37 1-22 1 34 1-78 1 29 1 52 1-5 1-14 1 57 1-18 1-3 1-29 1 46 1-69 1-9 1-5 1-71 1 38 1 31 1 10 1 10 1 17 1-51 1-55 1 37 1 38 1-23 1-2 1 17 1-62 1 122 1-50 1-19 1-22 1 40 1 25 1-32 1 26 1 50 1-23 1-47 1-7 1-35 1 13 1 68 1-69 1 11 1 54 1-12 1 19 1-19 1 22 1-28 1 42 1-4 1-61 1-18 1-52 1 114 1 41 1 10 1-53 1-55 1 73 1-13 1 8 1-24 1 46 1-65 1-77 1 68 1-27 1 28 1-22 1 21 1-82 1 52 1 12 1 43 1-19 1 2 1 42 1-93 1 36 1 31 1-10 1-25 1 61 1-25 1 75 1-29 1-40 1 14 1-46 1-87 1 7 1 35 1 66 1-6 1-34 1-16 1-5 1 30 1 9 1-30 1 10 1 68 1-57 1-46 1 35 1-8 1 11 1-4 1-14 1 43 1-25 1 20 1 33 1 30 1-29 1 4 1-17 1-89 1-36 1 60 1 4 1 71 1-61 1 63 1-60 1 50 1-27 1 43 1-88 1 21 1-14 1 7 1 24 1-32 1 79 1-27 1 45 1 16 1-62 1 5 1-37 1-12 1-68 1 31 1 63 1-44 1 19 1 24 1-13 1-25 1-35 1-10 1-27 1 17 1 79 1 44 1 21 1-82 1 82 1-84 1 37 1 34 1-9 1 0 1-56 1-44 1 93 1 5 1-49 1 54 1-26 1-49 1 13 1 37 1 7 1-13 1-60 1 9 1-41 1 10 1 7 1 57 1-7 1-53 1 12 1 15 1 52 1 30 1 7 1 14 1 12 1-42 1 51 1-25 1-126 1 74 1 37 1-31 1 1 1 13 1-16 1 9 1-28 1 36 1 2 1-68 1-12 1 65 1 45 1-35 1 47 1-51 1 55 1-43 1 27 1 25 1-42 1 17 1-85 1-35 1 75 1 123 1-48 1 23 1 1 1-44 1-53 1 6 1-8 1-24 1 31 1-23 1 32 1 30 1-79 1 96 1 31 1-31 1-95 1 35 1-21 1 109 1 6 1-78 1 24 1-25 1 54 1-14 1 23 1 27 1-60 1-23 1 7 1 50 1 15 1 37 1 1 1-108 1-70 1 56 1-30 1-43 1 35 1 25 1-6 1-2 1 40 1 53 1-73 1-5 1 30 1-20 1-48 1 58 1 20 1-79 1 0 1 89 1 25 1-12 1 3 1-51 1-7 1-27 1-27 1-22 1-86 1 34 1 46 1 58 1 33 1-8 1 48 1-107 1 5 1-27 1 35 1 6 1 34 1 42 1 7 1-56 1-17 1-42 1 61 1-29 1 36 1 20 1-9 1 29 1-71 1 30 1 75 1-86 1-47 1-29 1 48 1-82 1-42 1 20 1 104 1 27 1-84 1 31 1-52 1 36 1 58 1-34 1 63 1-45 1 32 1-33 1-24 1 27 1-47 1 74 1 30 1-57 1 7 1 29 1 6 1 16 1 47 1-70 1 8 1-30 1-22 1-17 1 31 1 2 1-41 1-32 1-41 1 91 1 15 1 17 1-30 1-58 1 61 1-76 1 80 1 7 1-67 1 34 1-43 1 42 1 12 1 15 1 18 1 51 1-21 1 15 1-86 1 45 1-8 1 17 1 6 1-9 1 76 1-48 1-74 1-23 1 107 1-51 1-1 1-18 1-18 1-36 1 107 1-25 1 53 1-39 1 0 1 21 1 38 1-3 1-15 1-30 1-11 1 11 1-23 1-11 1-33 1 37 1-5 1-67 1-36 1 40 1-66 1 48 1-5 1 31 1 78 1-55 1 46 1 14 1-54 1 72 1 21 1-75 1-25 1 33 1 59 1-88 1 35 1 45 1 34 1-13 1-6 1-29 1 41 1-71 1 13 1 18 1-13 1-72 1-7 1 20 1 28 1 30 1-6 1-39 1 11 1 5 1-44 1 135 1-38 1 45 1-94 1 25 1-43 1-13 1-1 1 4 1-2 1-14 1 44 1-21 1 29 1-16 1 40 1 24 1-6 1-25 1-55 1 29 1 33 1 22 1-96 1-12 1 92 1 58 1-12 1-104 1-59 1 91 1-2 1-32 1 72 1-29 1-58 1 39 1-50 1 35 1 32 1 74 1-65 1-28 1-3 1-52 1 8 1 19 1-11 1-33 1 61 1-29 1 86 1 45 1-61 1 5 1-12 1-73 1 27 1 27 1-1 1 23 1 56 1 6 1-90 1-26 1 97 1-114 1-43 1 123 1-52 1 2 1-40 1-63 1 36 1 13 1 75 1 23 1-41 1-52 1 91 1-33 1 43 1 18 1-76 1-30 1 47 1-9 1-23 1 40 1-17 1 48 1-48 1 3 1 3 1-1 1-25 1 50 1-40 1-15 1 35 1 70 1-20 1-38 1 60 1 17 1-45 1-17 1 22 1 20 1-48 1 28 1 17 1-16 1 14 1-12 1-29 1-40 1 32 1 16 1-6 1-10 1 28 1-14 1-25 1 96 1-64 1-85 1-89 1 46 1 30 1 36 1 22 1-58 1 66 1-74 1 39 1 100 1-13 1-1 1 10 1-72 1 16 1 40 1-54 1 2 1 74 1 16 1-6 1 69 1-6 1-92 1 23 1-74 1-36 1 64 1 39 1 52 1-38 1 6 1-5 1-42 1 11 1-52 1 30 1-4 1 19 1 8 1-38 1-33 1-30 1 79 1-32 1-32 1-6 1 68 1 9 1-66 1 77 1-24 1 7 1-8 1-2 1-66 1-31 1 74 1-29 1 26 1 1 1 55 1-24 1-12 1 62 1-189 1 40 1 25 1 49 1-15 1 55 1-28 1-14 1 90 1-10 1-67 1-15 1-45 1 101 1-4 1-9 1-81 1 37 1 75 1 41 1-83 1-70 1 22 1-7 1-14 1 81 1-20 1-49 1 32 1 8 1-36 1 111 1 41 1-74 1-15 1 7 1-22 1 31 1-6 1-1 1-66 1 38 1 7 1 10 1-11 1-22 1-42 1-23 1 27 1 10 1 6 1 21 1-32 1-23 1 52 1 19 1-19 1 55 1 7 1 57 1-89 1 45 1 22 1-27 1 42 1-113 1 45 1-77 1 81 1 25 1-13 1-96 1-15 1-10 1 67 1-57 1-5 1 4 1 27 1 4 1 79 1 0 1-103 1 43 1 36 1 62 1-14 1-96 1-6 1-26 1 71 1-86 1 100 1-42 1 32 1 15 1 112 1-81 1-25 1-58 1 0 1 22 1 0 1-57 1 89 1-36 1-55 1 35 1-54 1 73 1-23 1-27 1 35 1 61 1 0 1-39 1 71 1-19 1-53 1-65 1 26 1 16 1 88 1-13 1-73 1 23 1-30 1-1 1 27 1 13 1 1 1-16 1 100 1 10 1-30 1-104 1 7 1-67 1 9 1 123 1-49 1 71 1-46 1-34 1 2 1 38 1-17 1-14 1 31 1-68 1-6 1-6 1 67 1-20 1-3 1-19 1 33 1 55 1-79 1 64 1-37 1 44 1-34 1-50 1 65 1 35 1-45 1-20 1-35 1-16 1 36 1-12 1-63 1 62 1 45 1-11 1 51 1-7 1-32 1 34 1-76 1-5 1 45 1 22 1 60 1 33 1-154 1 6 1 53 1 40 1-70 1-55 1 7 1 41 1-100 1 68 1 2 1 36 1 23 1-6 1-25 1 83 1-33 1-40 1-74 1 4 1 41 1-29 1-15 1 15 1 126 1-34 1 42 1-108 1 45 1-14 1 14 1 11 1 2 1 27 1-82 1-86 1 7 1 22 1 23 1 55 1-6 1-47 1 41 1 17 1-36 1 49 1-65 1-49 1 87 1-38 1 5 1-6 1 39 1 21 1-37 1-19 1 66 1 38 1-17 1-22 1 38 1-52 1-6 1-4 1 65 1-24 1-11 1-76 1 7 1-3 1-32 1 61 1 7 1-11 1 70 1-3 1 38 1-22 1-60 1-55 1 52 1 17 1 7 1 26 1-103 1 19 1 54 1 5 1 17 1-17 1 4 1-58 1-12 1-36 1-47 1 94 1-39 1 29 1 100 1-76 1 24 1 22 1 18 1-4 1-42 1-36 1 19 1-29 1-21 1 82 1-24 1 36 1 55 1-86 1 112 1-27 1-15 1 0 1 4 1-59 1-87 1 54 1-36 1 95 1-2 1 7 1-38 1-60 1 54 1 47 1-40 1-32 1 6 1-34 1 6 1 66 1-27 1-30 1-14 1 28 1-6 1 35 1-53 1-14 1 52 1-14 1-27 1-49 1 44 1-15 1 18 1-9 1 25 1 27 1-23 1 93 1 11 1-24 1-58 1-69 1 73 1-7 1 106 1-130 1 61 1 16 1 3 1-65 1 51 1-27 1-41 1-89 1 86 1 21 1 49 1 11 1 26 1-52 1-20 1 0 1-15 1-8 1-55 1 90 1 43 1 62 1-48 1-34 1-52 1 61 1-14 1-10 1-53 1 47 1-34 1-54 1 69 1 12 1 18 1-23 1-30 1 58 1-32 1 40 1 9 1-16 1-36 1 35 1-22 1 29 1 15 1 32 1 46 1-41 1-54 1-71 1 15 1 16 1 70 1-13 1-84 1 23 1-3 1-10 1-15 1-35 1 76 1-12 1 95 1-119 1 31 1 33 1-34 1 19 1 32 1-70 1 28 1-48 1 28 1 65 1-66 1-19 1 33 1 75 1-41 1-3 1-16 1-62 1 28 1 39 1-30 1 28 1 11 1 33 1-18 1 23 1-51 1-29 1 30 1 24 1-18 1 68 1-103 1 16 1-28 1 45 1 27 1 46 1-42 1 8 1 38 1-17 1-15 1-18 1 4 1-7 1-14 1-71 1-30 1 121 1 19 1-52 1 32 1 7 1-4 1-51 1-23 1 47 1-29 1 14 1-44 1 14 1-51 1 15 1 73 1-143 1 89 1 35 1-7 1 25 1 50 1-41 1-73 1-36 1 49 1 54 1-22 1 17 1 34 1 44 1-44 1 4 1-51 1-17 1-31 1-12 1-6 1 75 1-15 1 24 1-37 1 20 1-63 1 21 1-24 1 49 1-76 1 108 1 19 1 28 1-32 1-47 1 16 1 10 1 73 1-15 1-37 1 57 1-124 1 60 1-48 1 84 1-18 1-34 1 66 1-62 1 24 1 52 1-69 1-55 1-12 1 43 1 15 1-46 1 40 1-59 1-76 1 80 1 79 1-60 1 35 1 53 1-11 1-18 1-23 1 25 1-7 1-22 1 38 1-48 1 54 1-35 1-17 1-8 1 36 1 11 1 11 1-72 1 29 1 77 1 21 1-72 1-6 1 58 1 5 1 41 1-84 1 57 1-32 1 20 1-21 1-40 1 12 1-35 1-28 1 53 1-25 1 32 1-29 1-77 1-2 1 98 1 28 1-5 1-19 1-3 1-41 1 23 1 69 1-75 1 80 1-16 1-20 1-38 1-37 1-3 1 8 1 7 1 76 1 1 1-1 1-51 1 17 1-32 1-8 1 12 1-19 1 19 1 49 1 0 1-18 1-64 1 35 1-57 1 101 1-54 1-27 1-20 1 95 1-33 1 80 1-13 1-11 1 9 1-69 1-86 1 103 1 8 1-82 1 37 1-28 1 74 1-23 1 54 1-52 1 78 1-35 1 36 1-69 1-71 1 38 1-34 1 52 1-69 1 38 1 27 1 23 1 25 1-47 1-25 1 20 1 40 1-49 1 2 1 13 1 34 1 86 1-27 1-26 1-78 1-37 1 80 1-38 1-17 1 30 1 4 1-79 1-1 1 54 1 88 1-36 1-26 1-73 1 113 1-52 1 18 1-84 1 98 1-66 1 52 1 14 1 19 1-6 1-6 1 21 1-18 1-19 1 24 1-17 1 12 1-70 1 23 1-43 1 55 1-80 1 49 1-31 1 117 1-35 1 41 1-51 1 5 1 2 1 33 1-39 1 46 1-78 1 21 1 4 1 72 1-89 1 71 1-1 1-29 1-60 1-3 1-93 1 26 1 31 1 63 1 6 1 20 1-47 1 82 1-30 1-64 1 28 1 20 1-21 1 50 1-2 1 26 1 11 1-13 1 21 1-1 1-18 1-35 1 45 1-64 1 56 1-47 1 37 1 13 1-18 1-17 1-35 1 81 1-49 1-143 1 84 1 48 1 40 1-79 1 36 1-25 1 21 1 27 1 0 1-119 1 71 1-34 1 9 1 72 1-83 1 30 1 53 1-46 1 86 1-35 1 25 1-43 1 18 1-48 1-19 1 54 1 48 1-40 1-56 1 69 1 4 1-63 1 8 1-85 1 67 1 28 1 30 1-8 1-4 1-6 1-26 1 54 1-39 1 76 1-6 1-69 1 62 1-55 1-44 1 77 1-77 1 35 1-50 1-21 1 76 1 33 1 15 1-60 1 113 1-23 1-92 1 39 1-24 1-4 1 41 1 7 1-86 1 19 1-69 1 25 1 37 1-25 1-20 1 6 1-24 1-66 1 51 1 70 1 48 1-108 1 7 1 60 1 75 1-95 1-27 1 47 1-62 1 7 1 71 1-13 1-18 1 44 1-37 1 35 1 54 1-73 1 30 1 3 1-42 1-32 1-25 1 113 1 14 1-58 1 20 1-20 1 104 1-43 1-23 1-18 1 12 1-1 1-22 1-64 1 61 1 21 1 42 1-43 1 88 1-119 1 24 1 15 1-82 1 16 1-7 1 19 1-2 1 24 1-15 1-50 1 89 1 33 1 25 1-84 1-19 1 60 1 2 1-24 1 56 1 0 1-33 1-85 1 12 1-23 1-42 1 26 1-7 1 76 1 15 1 15 1-21 1 2 1 51 1 23 1-37 1-40 1 8 1 8 1 28 1 18 1-45 1 31 1-24 1 51 1 65 1-68 1 9 1-137 1-12 1 40 1 6 1-3 1-1 1-24 1 57 1 7 1-40 1-34 1 99 1-67 1-84 1 80 1 38 1 16 1-6 1 11 1-13 1-7 1-10 1 51 1-24 1-113 1 85 1 41 1-59 1 27 1-9 1 103 1-92 1-72 1 20 1 66 1-16 1 31 1-56 1 3 1-9 1 18 1-11 1-19 1 39 1-14 1 68 1-30 1 4 1-67 1-28 1-74 1 55 1 12 1-6 1 80 1-10 1 44 1-17 1-18 1-7 1-25 1 23 1-36 1-22 1 42 1 42 1-45 1-24 1 74 1 2 1 26 1-7 1 10 1-49 1 36 1-31 1 13 1 33 1 8 1 77 1-4 1 15 1-2 1-85 1-75 1 37 1 33 1 47 1-39 1 17 1-75 1 56 1-32 1 24 1-41 1-58 1-24 1 98 1 13 1-32 1-23 1 18 1 13 1-62 1 57 1 128 1-57 1-44 1-21 1-33 1-6 1-43 1 30 1 53 1 32 1-10 1-124 1 92 1 0 1 10 1-54 1 7 1 44 1-42 1-57 1-14 1 41 1 28 1 6 1-36 1 7 1 77 1-65 1 79 1-86 1 22 1 9 1 18 1 12 1-19 1-62 1 29 1 51 1 26 1-18 1-66 1 81 1-83 1 0 1-1 1 127 1-12 1-2 1-10 1-57 1-51 1 4 1 80 1-50 1 4 1 43 1 50 1-54 1-24 1 20 1 13 1-23 1 25 1-36 1-11 1 75 1 32 1-53 1-1 1-12 1-72 1-23 1 43 1 20 1 4 1 38 1-12 1-17 1 63 1-43 1-8 1 57 1 11 1-21 1-55 1-31 1-69 1 40 1 36 1-13 1 72 1-42 1 9 1-60 1 57 1-15 1-23 1-64 1 58 1 68 1 1 1-80 1 73 1 17 1 29 1 18 1-58 1 14 1-78 1 50 1 37 1-15 1-30 1-51 1 63 1-54 1-3 1 57 1 30 1-35 1 1 1-26 1 55 1-9 1-56 1-119 1 2 1 40 1 83 1-92 1-3 1 33 1 53 1-74 1 43 1 101 1-9 1 11 1-32 1-5 1 26 1-39 1 70 1-81 1-63 1 53 1-13 1 42 1-61 1-61 1 64 1 11 1-49 1 34 1 57 1-15 1 60 1 44 1-82 1-45 1-8 1 46 1-1 1-48 1 27 1-60 1 96 1 13 1 23 1-92 1-2 1 37 1 13 1-5 1 23 1-59 1 0 1 9 1-12 1 15 1-20 1 25 1 12 1 18 1-4 1-63 1 12 1-58 1 88 1-29 1 48 1-127"/>
</g>
<rect class="ax" x="103.9" y="103.9" width="290.9" height="86.85"/>
<path class="ax" d="M114.62,190.75H384.03M114.62,190.75v12.67M168.5,190.75v12.67M222.38,190.75v12.67M276.26,190.75v12.67M330.14,190.75v12.67M384.03,190.75v12.67M103.9,113.7V188.8M103.9,113.7h-12.67M103.9,128.7h-12.67M103.9,143.7h-12.67M103.9,158.7h-12.67M103.9,173.7h-12.67M103.9,188.8h-12.67"/>
<g transform="translate(114.62,237.1)"><text>0</text></g>
<g transform="translate(168.5,237.1)"><text><tspan class="h">1</tspan>000</text><path d="M763 0H583V1147Q518 1085 412.5 1023T223 930V1104Q374 1175 487 1276T647 1472H763Z" transform="translate(-23.49,0) scale(0.010313,-0.010313)"/></g>
<g transform="translate(276.26,237.1)"><text>3000</text></g>
<g transform="translate(384.03,237.1)"><text>5000</text></g>
<text x="249.35" y="288">Iterations 523</text>
<g transform="translate(73.1,129.5) rotate(-90)"><text>3.0</text></g>
<g transform="translate(73.1,189.6) rotate(-90)"><text><tspan class="h">1</tspan>.0</text><path d="M763 0H583V1147Q518 1085 412.5 1023T223 930V1104Q374 1175 487 1276T647 1472H763Z" transform="translate(-14.68,0) scale(0.010313,-0.010313)"/></g>
<text transform="translate(22.8,148.6) rotate(-90)">alpha</text>
</g>
<g transform="translate(0,320)">
<text class="m" x="249.35" y="62.2">Trace of 3|B_Eacc-spd</text>
<g class="tr" transform="translate(114.67,0)">
<path class="k" transform="scale(0.081647,0.2)" d="M0,736l1-42 1 29 1-99 1-41 1 126 1 20 1 23 1 11 1-84 1 5 1 24 1 32 1-45 1-97 1 136 1-166 1 89 1 18 1-34 1 12 1 23 1 93 1 5 1 6 1 36 1-84 1-14 1 36 1-54 1-108 1 98 1 83 1-46 1 31 1-39 1-4 1-1 1 113 1-26 1-56 1-26 1 20 1-21 1-53 1 39 1-59 1 85 1-56 1-87 1 91 1 33 1-94 1 131 1-10 1-71 1 75 1 44 1-66 1-12 1 11 1-28 1-42 1 10 1 9 1 123 1-18 1-111 1 108 1 31 1 23 1-156 1-36 1 45 1 35 1-34 1 122 1-20 1-124 1 27 1 25 1 7 1 17 1-61 1-12 1 11 1-11 1 34 1-4 1 16 1-23 1 24 1-54 1 4 1-5 1 98 1-31 1-6 1 21 1 35 1-6 1-42 1-48 1 38 1 49 1-37 1-62 1-124 1 145 1 2 1 4 1-15 1-5 1 16 1-141 1 230 1-159 1 15 1 58 1 42 1-43 1-7 1 200 1-166 1 19 1 15 1 49 1 7 1-51 1-102 1-72 1 152 1-55 1 42 1-6 1 30 1 26 1-55 1 4 1 15 1-21 1-3 1-35 1-79 1 128 1 15 1-14 1-70 1 3 1 240 1-204 1 52 1-90 1-14 1 7 1 11 1 35 1-77 1 88 1-94 1 56 1 61 1 35 1-45 1 33 1 10 1-89 1-69 1 81 1-5 1 13 1-46 1 73 1-83 1 18 1 74 1 42 1-92 1 10 1 96 1-52 1-10 1-73 1-55 1 83 1 99 1-11 1-123 1 134 1-48 1-31 1 66 1-48 1 19 1-62 1 47 1-19 1-76 1 101 1 83 1 4 1-16 1-108 1-18 1-4 1 1 1 74 1 39 1-106 1-6 1-12 1-56 1 60 1 64 1 40 1 3 1-2 1-137 1 159 1-108 1 30 1 34 1-81 1-26 1 18 1 26 1-14 1-26 1-2 1 62 1-78 1 55 1 53 1 3 1-12 1-73 1-32 1 75 1 154 1-98 1-26 1-106 1 205 1-81 1-102 1 103 1 10 1 36 1-65 1 52 1 29 1-134 1-50 1 10 1 53 1-59 1 123 1-56 1-31 1 12 1-115 1 155 1-54 1 143 1 10 1-8 1-19 1-1 1-35 1-16 1-9 1-17 1 57 1-124 1 96 1-52 1-4 1 56 1-42 1-1 1 6 1 7 1 11 1-24 1 23 1-83 1-13 1-37 1 23 1 57 1 92 1-119 1 80 1-32 1 80 1-45 1-29 1 53 1 9 1-43 1-69 1 90 1 23 1-148 1 101 1 24 1-61 1-3 1 0 1 53 1 62 1 3 1-57 1 25 1 6 1 4 1 39 1 16 1 29 1-104 1-9 1-82 1 59 1 36 1-59 1-20 1 64 1-44 1 78 1-5 1-101 1 24 1-17 1 1 1-28 1 72 1 38 1-120 1 132 1-101 1 21 1 4 1-21 1 91 1-96 1 30 1 29 1 0 1-61 1 68 1 37 1-12 1-17 1-18 1-65 1 84 1-12 1-33 1 5 1 55 1-40 1 88 1-62 1 81 1-61 1 2 1 16 1-75 1 35 1-24 1-119 1 110 1 30 1-1 1 6 1-93 1 81 1-112 1 158 1 62 1-92 1 22 1-34 1-57 1-53 1 31 1 64 1-49 1 72 1-90 1 30 1 50 1 89 1-53 1-42 1 28 1-26 1-73 1 136 1-41 1 0 1-48 1-24 1 20 1 7 1 61 1-135 1 18 1 294 1-236 1 46 1-89 1-48 1 64 1 109 1-97 1 0 1 51 1-43 1 14 1 38 1 18 1-106 1 127 1-10 1-32 1-111 1 9 1 31 1 75 1-88 1 32 1 24 1 54 1-42 1-50 1 35 1 46 1-103 1 77 1 1 1 72 1-17 1-48 1-24 1 9 1 60 1-57 1 47 1-24 1-70 1-23 1 40 1-8 1 63 1-28 1-11 1-33 1 37 1-150 1 7 1 87 1 23 1-1 1-54 1-25 1 46 1 77 1 5 1 20 1-108 1 21 1 58 1 15 1-10 1-26 1-13 1 79 1-74 1 72 1-26 1-7 1 173 1-265 1 20 1 42 1 44 1 46 1-72 1 3 1 5 1-118 1 22 1 105 1 26 1-157 1 130 1 3 1-11 1 39 1 1 1-36 1-24 1 35 1 4 1-75 1 38 1 37 1 3 1-35 1-77 1 74 1 5 1-40 1 32 1 82 1 2 1-45 1-29 1 40 1 13 1-69 1 73 1-81 1 6 1 46 1-89 1-8 1 26 1 61 1 64 1-91 1 53 1-69 1 7 1-65 1 93 1-5 1 24 1 45 1-62 1 28 1-20 1 21 1-20 1 13 1-67 1 1 1 30 1 37 1 3 1-12 1 26 1 22 1 19 1-144 1-30 1 127 1-7 1 5 1-89 1 55 1-14 1-12 1 4 1-18 1 19 1-8 1 60 1-45 1 33 1 85 1-108 1 17 1-14 1 7 1-68 1 62 1-8 1-101 1 28 1 98 1-52 1-7 1 69 1 27 1 5 1-143 1 53 1 63 1-63 1 98 1 3 1-132 1 52 1 52 1 103 1-113 1-95 1 46 1-43 1 61 1 27 1-67 1 19 1 5 1-21 1 78 1 20 1-53 1 110 1 3 1-121 1 68 1-37 1 56 1-143 1 54 1 8 1-18 1-19 1-9 1 10 1 22 1 28 1-71 1 31 1 45 1-16 1-31 1 32 1 25 1-9 1-10 1 5 1 7 1-24 1 23 1-23 1-30 1-21 1 6 1 33 1-61 1 17 1-24 1 39 1 66 1 7 1-10 1-3 1-31 1 5 1 213 1-241 1-57 1 46 1 171 1-126 1 5 1-22 1 5 1 15 1 17 1-15 1-67 1 1 1 89 1-85 1-6 1 6 1-52 1 13 1 41 1 43 1 36 1-57 1-98 1 75 1 10 1 90 1-8 1 8 1-33 1 19 1-25 1-15 1 46 1-115 1 38 1 47 1-36 1-85 1 24 1-22 1 106 1-82 1 61 1 17 1 5 1 14 1-17 1 39 1-18 1 64 1 47 1-74 1-153 1 151 1-34 1-30 1-32 1 32 1-49 1 214 1-111 1-97 1 126 1-51 1 0 1 35 1-112 1-30 1 36 1 40 1 31 1 14 1-6 1-86 1 22 1-54 1-34 1 33 1 0 1 113 1 13 1-55 1-51 1-19 1 62 1-36 1-14 1 66 1-11 1-59 1 6 1 95 1 16 1-52 1-5 1 0 1 50 1-56 1 17 1-40 1 27 1-41 1 148 1-76 1-38 1-23 1 59 1-106 1 31 1 68 1 16 1 67 1-101 1-31 1-51 1 96 1-1 1 68 1-73 1-3 1 47 1-57 1 9 1 3 1-42 1 47 1-14 1 44 1 9 1-69 1-56 1 20 1-47 1 67 1 34 1-44 1 33 1-5 1 86 1-121 1 78 1-55 1 28 1-23 1 17 1 7 1 50 1-127 1-45 1 16 1 88 1 86 1-25 1-42 1-57 1 28 1 23 1 28 1 1 1-80 1 85 1-16 1-1 1 32 1 14 1-9 1 16 1-50 1-20 1 8 1 1 1-5 1-11 1 15 1-3 1 6 1-26 1-10 1-7 1 83 1-83 1 99 1 41 1-42 1-10 1-36 1 21 1-82 1 60 1-6 1 5 1 15 1-7 1-28 1-1 1 13 1-29 1 6 1 72 1-50 1 20 1-46 1 0 1-12 1 56 1-52 1 107 1-55 1-13 1-15 1 1 1 63 1 0 1-81 1-42 1 9 1 105 1-100 1 64 1 79 1-30 1-24 1 28 1-57 1 20 1-3 1-68 1 72 1 50 1-88 1 23 1 45 1-15 1-83 1-43 1 87 1 38 1 4 1-13 1-81 1 67 1-1 1 16 1-44 1-8 1-16 1 97 1-50 1 25 1 8 1-1 1-13 1-6 1 9 1-12 1 22 1-8 1-68 1 105 1-29 1-117 1 49 1 67 1-28 1 64 1-11 1 41 1-3 1-53 1-17 1-28 1-44 1 30 1 45 1-46 1-33 1 30 1-76 1 43 1 72 1-21 1 1 1-34 1 67 1-57 1 9 1 21 1-9 1 54 1 1 1-80 1-52 1 64 1-24 1 5 1-14 1 30 1 19 1 53 1-43 1-77 1 149 1-97 1 38 1-50 1-34 1 44 1 44 1-59 1-22 1 16 1-11 1-8 1 81 1 32 1-43 1-37 1 53 1-21 1-46 1-30 1 27 1 16 1 37 1 32 1-25 1 2 1-95 1 98 1-35 1 15 1-92 1 38 1-3 1 128 1-100 1-1 1 25 1 41 1-8 1-8 1-31 1 3 1 8 1-54 1 27 1 0 1 16 1 50 1-27 1 10 1-26 1-63 1 76 1-17 1 30 1-59 1-48 1 139 1 16 1-45 1-69 1 47 1-18 1-11 1-92 1 75 1 14 1 45 1-4 1-43 1-65 1-5 1-10 1 83 1 57 1 9 1-33 1-38 1 18 1 31 1 77 1-25 1-17 1 9 1-17 1 44 1-38 1-80 1 87 1-38 1 47 1 12 1-48 1 79 1-113 1-4 1 17 1 3 1-56 1 0 1 49 1-63 1 105 1 31 1-23 1 33 1 0 1-52 1-11 1-20 1-9 1-27 1 37 1 83 1-66 1 19 1-42 1-43 1 12 1-24 1 63 1-21 1-36 1 11 1 38 1-22 1 2 1-28 1 4 1 5 1 54 1-2 1-47 1 23 1-43 1 63 1 12 1-60 1 58 1-92 1 78 1-5 1-65 1 55 1-43 1 29 1 43 1 6 1-15 1-56 1 38 1-14 1 25 1-87 1 95 1-10 1 22 1 51 1-138 1-46 1 95 1 74 1-121 1 48 1 43 1-28 1 12 1 3 1 7 1-17 1-31 1-62 1-23 1 115 1-57 1 13 1-23 1 90 1 5 1-66 1-40 1 23 1 51 1-55 1-13 1 134 1-34 1-62 1-34 1 130 1-32 1-28 1-19 1 16 1 0 1-56 1 68 1-44 1 37 1-24 1 25 1-47 1 31 1-4 1 16 1 52 1-87 1-98 1 127 1 71 1-39 1 22 1 95 1-206 1-15 1-4 1 40 1-36 1 26 1 62 1-68 1 58 1-17 1 24 1 41 1-55 1 18 1-4 1-15 1 27 1-7 1-20 1 18 1-31 1 70 1-93 1 60 1-94 1 31 1 65 1-63 1-5 1 78 1-59 1-9 1 14 1-13 1 69 1-74 1 13 1 6 1 1 1 59 1-51 1-78 1 28 1-39 1 9 1 6 1 70 1-23 1-8 1 44 1 12 1 75 1-141 1 40 1 30 1-12 1-143 1 74 1 95 1 18 1-188 1 49 1 121 1-24 1-33 1-28 1 184 1-57 1-24 1-14 1-43 1 20 1 76 1-51 1 26 1 22 1-33 1-32 1-14 1 97 1-158 1 106 1-64 1 66 1 6 1-15 1-85 1-11 1 69 1-50 1-31 1 94 1-39 1 9 1-51 1 59 1-27 1 78 1-62 1-117 1-12 1 96 1 56 1 11 1-36 1-80 1 60 1 9 1 30 1-26 1 37 1-41 1 2 1 63 1-106 1-10 1 61 1 46 1 62 1-76 1-26 1-78 1-2 1-22 1 76 1-45 1 97 1-70 1 54 1 37 1-79 1 25 1 37 1 13 1-6 1-124 1 31 1 74 1-13 1-16 1-41 1-100 1 69 1 55 1-15 1 47 1-17 1 27 1 11 1 19 1-17 1-41 1-83 1 38 1 11 1 36 1-10 1 14 1 54 1-25 1-41 1 59 1-67 1 69 1-39 1 5 1 66 1-27 1-15 1-60 1 15 1 13 1-44 1 121 1-49 1-129 1 78 1-53 1 37 1 78 1-42 1 81 1-66 1 0 1-11 1-14 1-45 1 33 1-37 1 45 1-20 1 72 1-52 1-30 1 37 1-79 1 54 1 5 1 35 1-9 1 72 1-44 1-35 1 21 1 15 1 33 1-97 1 53 1-84 1 48 1-20 1 55 1 78 1-81 1-48 1 36 1 14 1 4 1 80 1-87 1 12 1-52 1 27 1-24 1 7 1 9 1 11 1-88 1 85 1 56 1-67 1-57 1 90 1-15 1-5 1 38 1-26 1 85 1-132 1 91 1-81 1 40 1-54 1 21 1-24 1 1 1 10 1 16 1 35 1 44 1 10 1-63 1-55 1 50 1-11 1-76 1 14 1 97 1-83 1 12 1 39 1 38 1 21 1-24 1-83 1-6 1-2 1 50 1-39 1-26 1 71 1-70 1-2 1 16 1 8 1 61 1-62 1-24 1 52 1 13 1 48 1-31 1-45 1-7 1 39 1 12 1 19 1-10 1-85 1 33 1 72 1-61 1-39 1 39 1 11 1 37 1-20 1 39 1-44 1 63 1-45 1 8 1-60 1-32 1 97 1 19 1-99 1 29 1 58 1-11 1 23 1 34 1-29 1-57 1 11 1-74 1-4 1 99 1-52 1-9 1-11 1 66 1-44 1 54 1-23 1-14 1 35 1-33 1 7 1-29 1 102 1-29 1-44 1 157 1-231 1 25 1 32 1 1 1 7 1-16 1 17 1-13 1 31 1 46 1-4 1-42 1-104 1 58 1-12 1 69 1-50 1-21 1 71 1 41 1-131 1 46 1 14 1 51 1-47 1 26 1-63 1 31 1 72 1 14 1-51 1 44 1 20 1-44 1-34 1 45 1 27 1-76 1 38 1 12 1 19 1-24 1-61 1 16 1 13 1 32 1 2 1-27 1-39 1-18 1 6 1-34 1 38 1 28 1-19 1-40 1 69 1 12 1-88 1 25 1-6 1 121 1-12 1-43 1 59 1-82 1-11 1 24 1-84 1 140 1-31 1-21 1 0 1-5 1-16 1 52 1-10 1-26 1-46 1-19 1 8 1 38 1-63 1 92 1-68 1 69 1-49 1 31 1-7 1-18 1 8 1 20 1 28 1-35 1 67 1-88 1 4 1-50 1-9 1 10 1 17 1 34 1-8 1-22 1 12 1-121 1 206 1-40 1 87 1-52 1-1 1-64 1-11 1 52 1-46 1 40 1-22 1 1 1 24 1 51 1 34 1 3 1-48 1-118 1 48 1 26 1-14 1 23 1-21 1 13 1 98 1-23 1-47 1-44 1-35 1 56 1-1 1 13 1-84 1-34 1 86 1-39 1 14 1 66 1-17 1-19 1 0 1 26 1-20 1 10 1-15 1-4 1 40 1 0 1-24 1 73 1-193 1 122 1-12 1-4 1 32 1-78 1 33 1-32 1 51 1 18 1-38 1-25 1 11 1 21 1-16 1 27 1-21 1 42 1 27 1-76 1 69 1-103 1-45 1 61 1 50 1-32 1 57 1 50 1-128 1-90 1 150 1-38 1 45 1-48 1 46 1-21 1 49 1-32 1-59 1 5 1 52 1-27 1 26 1-10 1 31 1 9 1 7 1-15 1-14 1 34 1-34 1-59 1-2 1 33 1-8 1 61 1 17 1-108 1 85 1-11 1 30 1-110 1 2 1 15 1 42 1-57 1 28 1 7 1 47 1-48 1 37 1-58 1 8 1 11 1 105 1-67 1-36 1 27 1-65 1 51 1-79 1 69 1-19 1-18 1 29 1-10 1-3 1 35 1 5 1-4 1 67 1-17 1-22 1 39 1-95 1-1 1 10 1-8 1 37 1-86 1-29 1 84 1 8 1 17 1 9 1-38 1-52 1 7 1 12 1 25 1 130 1-98 1 8 1 52 1-15 1-9 1-40 1 16 1 53 1-110 1 14 1 30 1 5 1-15 1 25 1 11 1-55 1 72 1-70 1 27 1-46 1 43 1-106 1 52 1 57 1-1 1-50 1 34 1-12 1 22 1-14 1 18 1-2 1 43 1-35 1 22 1 12 1-28 1-64 1-4 1 89 1-17 1-2 1 14 1 0 1-77 1 60 1 4 1-32 1-51 1 73 1 31 1-13 1-53 1-1 1 10 1 29 1 84 1-107 1-76 1 114 1-45 1-17 1-23 1 4 1 71 1-8 1-53 1 52 1 8 1 23 1-53 1 0 1 49 1-35 1-52 1 99 1-67 1 5 1 50 1-67 1 15 1 12 1 26 1-36 1-31 1-20 1 87 1-31 1-7 1-79 1-22 1 31 1 47 1-11 1 83 1-68 1 63 1-64 1 57 1 24 1-15 1 13 1-65 1 86 1-87 1 89 1-41 1 22 1-39 1-46 1-12 1 68 1-37 1-59 1 120 1-68 1 53 1 1 1-21 1 88 1-65 1-77 1 71 1-24 1 21 1-67 1 19 1 2 1 31 1-73 1 72 1-48 1 27 1-42 1 13 1-4 1 48 1 24 1 16 1-18 1 130 1-166 1-64 1 47 1 45 1-55 1 81 1-19 1-29 1 15 1-4 1 22 1 24 1-32 1-43 1-19 1 35 1-8 1 34 1-35 1-6 1 18 1 28 1 13 1 2 1 39 1 1 1-29 1-91 1 75 1 69 1-89 1-36 1-47 1 73 1-28 1 19 1 28 1-58 1 120 1-82 1 15 1-22 1 96 1-53 1-31 1 64 1-94 1 77 1-45 1 6 1-44 1 95 1-105 1 92 1-60 1 20 1-6 1 10 1 12 1-69 1-45 1 104 1 28 1-36 1 11 1 16 1-52 1 51 1-68 1 45 1-31 1 57 1-4 1 62 1-83 1-15 1 55 1 30 1-18 1-81 1 51 1-34 1-50 1 65 1-34 1 21 1-36 1 21 1 77 1-65 1-91 1 131 1 21 1-55 1 42 1-47 1 14 1 4 1-1 1 47 1 28 1-30 1-24 1 4 1 37 1-45 1-84 1 67 1 10 1-68 1-4 1-42 1 43 1-24 1-43 1 153 1 75 1-29 1-82 1-36 1 78 1 24 1-16 1-51 1 16 1-51 1-91 1 82 1-51 1 98 1-28 1 17 1 23 1 3 1 5 1 6 1-30 1 25 1-9 1-84 1 43 1-19 1 41 1-9 1 14 1 22 1-28 1-25 1 27 1 62 1-79 1-8 1-24 1 3 1 48 1-6 1 60 1 11 1-48 1-55 1 3 1-83 1-24 1 98 1 42 1 30 1 71 1-50 1 22 1-31 1-38 1-25 1 24 1 22 1-55 1 61 1-107 1 43 1 18 1 13 1-112 1 23 1 3 1 110 1-33 1 90 1-12 1 8 1-93 1 39 1-14 1 34 1-63 1-36 1-10 1 87 1-27 1 63 1-118 1 30 1-26 1 31 1 72 1-112 1 31 1 20 1 8 1-26 1 4 1 34 1 29 1 13 1 9 1-20 1-82 1-21 1-56 1 43 1 64 1-59 1 23 1 2 1 73 1 77 1-15 1-66 1 25 1-20 1-19 1 13 1-32 1 13 1-19 1-3 1 117 1-65 1-44 1-25 1-29 1-55 1 30 1 50 1-23 1-21 1 120 1-17 1-8 1-16 1-11 1 17 1 23 1-38 1 8 1-40 1 17 1 31 1 36 1 7 1-35 1-9 1 19 1 10 1-59 1-10 1 27 1 11 1-52 1 67 1-49 1 12 1 7 1-18 1-22 1 57 1 1 1-9 1 47 1 13 1-8 1 110 1-83 1-55 1-15 1-69 1-33 1 149 1 7 1-37 1-5 1-8 1-22 1-11 1 15 1 19 1 46 1-35 1-26 1 7 1-26 1 12 1 127 1-2 1-5 1-70 1 22 1-83 1 40 1-101 1 71 1 20 1 43 1 8 1-40 1 27 1-78 1 54 1-71 1-27 1 113 1-8 1-88 1 14 1 21 1 32 1-28 1 59 1-34 1-10 1 58 1-86 1 1 1 40 1 29 1-37 1-4 1 21 1-98 1 45 1 13 1 52 1-2 1 90 1-105 1-4 1 58 1 14 1-70 1 12 1 17 1-18 1 8 1 12 1-21 1-50 1 93 1 74 1-121 1 0 1-6 1-34 1 38 1-3 1 3 1 6 1 41 1-87 1-14 1 19 1-4 1-36 1 6 1 42 1 5 1 3 1-29 1 20 1-10 1 34 1-2 1 25 1 4 1-43 1-7 1-2 1-66 1 75 1 70 1-107 1 5 1-9 1 54 1-14 1-11 1 53 1 20 1-25 1-72 1 57 1 8 1-11 1-43 1-4 1 81 1-72 1 19 1 8 1-86 1 56 1 7 1 29 1-134 1 56 1 70 1-16 1 76 1-113 1 44 1 3 1 17 1 41 1-2 1-65 1-22 1-54 1 127 1 50 1-132 1 53 1 2 1-6 1-17 1-67 1 76 1 50 1-26 1-13 1-32 1-3 1-48 1 48 1 14 1-62 1 103 1-9 1-14 1-90 1 46 1-47 1 71 1 74 1-63 1-68 1 22 1-23 1 97 1 34 1-48 1-21 1 40 1 25 1-26 1-12 1 13 1 22 1-35 1 50 1-9 1-47 1 23 1-6 1-19 1-114 1 46 1-37 1 46 1 56 1 26 1-50 1 10 1 11 1-33 1-23 1 8 1 40 1-48 1 31 1 39 1-66 1 2 1 3 1 21 1 73 1-28 1-16 1-2 1 54 1-85 1 65 1-21 1-7 1-73 1 39 1 27 1 29 1-69 1 28 1-8 1-33 1-6 1 14 1 46 1 36 1 48 1-51 1-20 1-7 1 37 1-78 1 24 1-12 1 35 1-29 1-3 1-56 1 29 1 66 1-17 1 0 1 12 1 3 1 44 1 0 1-50 1-45 1 1 1 20 1 35 1-27 1 10 1 48 1-65 1-6 1-1 1 11 1 44 1-40 1 43 1 17 1-73 1 46 1-50 1-43 1 55 1-2 1-38 1 56 1 31 1 5 1-90 1 31 1-83 1 88 1 33 1-21 1 53 1-22 1-44 1 160 1-86 1-63 1 33 1 25 1-18 1-97 1 20 1 5 1 4 1-99 1 62 1 30 1 29 1 49 1 12 1-53 1-48 1 34 1 77 1-73 1 51 1 26 1 51 1-80 1-31 1-25 1-13 1 6 1 50 1 49 1-61 1-28 1-35 1-37 1 84 1-7 1 20 1-31 1 50 1-42 1 17 1 3 1-45 1 111 1-40 1 31 1-52 1 35 1-41 1 16 1-36 1 23 1-36 1-83 1 60 1 94 1-85 1 42 1 56 1 18 1-5 1-76 1 26 1 36 1-44 1-11 1-14 1 30 1-60 1 22 1 33 1-25 1 45 1-35 1-6 1 18 1-34 1 38 1 35 1-57 1 67 1-62 1 11 1-43 1 48 1 33 1 13 1-26 1 25 1-103 1 29 1 67 1-42 1-59 1 64 1 50 1-6 1-44 1 18 1-18 1-31 1 56 1-87 1 39 1-3 1-115 1 33 1 5 1 70 1 29 1 52 1-17 1-3 1 68 1-71 1 21 1-123 1 54 1 68 1-27 1 28 1 43 1 37 1-23 1-33 1-79 1 4 1-3 1-27 1 94 1-17 1-73 1-14 1 37 1-14 1-10 1 6 1-4 1 71 1 33 1-58 1 36 1-58 1 48 1 40 1-120 1 19 1-12 1-120 1 113 1 60 1 50 1-73 1 62 1-56 1 81 1-28 1-6 1-123 1-10 1 21 1 81 1-2 1-40 1 25 1 12 1-7 1-46 1-14 1 34 1 3 1-75 1 101 1-42 1 24 1-46 1-26 1-14 1 125 1-52 1-100 1 79 1 8 1 24 1-2 1-6 1 2 1-23 1-13 1-39 1 4 1 16 1 135 1-99 1-70 1 89 1-16 1 10 1-48 1 33 1 57 1-43 1 73 1 12 1 8 1-44 1-63 1 43 1-54 1-58 1 1 1 2 1-18 1 87 1 15 1 5 1-29 1 53 1 71 1-46 1-26 1 8 1-34 1-16 1 98 1-59 1-10 1 42 1-59 1 10 1 7 1-58 1-91 1 190 1-8 1-26 1-65 1 45 1-59 1 63 1 12 1-36 1-9 1 67 1 73 1-27 1-142 1 8 1-33 1 93 1-90 1 97 1-96 1 38 1 69 1 34 1-99 1 55 1-43 1 30 1 21 1-74 1 61 1-92 1-6 1 66 1 52 1-64 1 31 1 86 1-83 1-22 1 10 1-43 1 59 1 10 1-27 1 13 1 40 1 53 1-43 1-63 1-34 1 82 1 5 1-17 1 120 1-150 1-12 1 44 1-8 1-93 1 88 1 5 1-72 1 89 1-68 1-13 1-12 1 68 1 21 1-27 1-87 1 136 1-17 1-34 1-60 1 43 1-32 1 78 1 7 1-49 1 24 1 66 1-135 1 39 1 64 1-22 1-32 1 24 1-23 1-35 1 74 1-17 1 24 1-108 1 92 1-1 1 21 1-5 1 56 1-77 1-68 1 5 1 82 1-19 1 71 1-55 1-49 1 17 1 0 1-81 1 63 1-33 1 81 1-100 1 116 1-134 1 52 1-15 1 128 1-68 1-108 1 11 1-24 1 72 1 49 1 9 1-104 1 79 1 71 1-42 1 34 1-79 1-34 1-10 1 84 1-63 1 62 1-60 1 33 1 35 1-27 1-16 1-52 1 97 1-28 1 7 1-68 1-8 1 64 1 64 1-80 1-14 1 55 1-82 1 26 1 54 1 18 1-37 1 38 1 34 1-83 1 60 1-43 1-1 1 47 1-82 1 19 1 73 1-14 1-16 1-61 1 25 1-29 1 41 1-56 1 69 1-18 1-51 1 30 1 22 1-23 1 64 1 13 1 19 1-41 1 3 1-52 1 40 1-59 1 36 1-53 1 32 1 74 1-58 1 23 1 11 1-1 1-76 1 48 1 0 1-93 1 155 1-22 1-89 1 15 1-6 1 12 1 23 1-23 1 37 1 7 1 8 1-50 1 54 1 18 1-70 1 26 1 105 1-56 1-33 1 1 1-24 1 34 1-15 1-5 1-83 1 48 1 48 1-103 1 80 1-34 1-50 1 96 1 50 1-114 1 27 1 40 1-59 1 87 1-30 1-9 1 68 1-10 1 12 1-94 1 34 1 55 1-76 1 8 1-51 1 91 1-117 1 20 1 46 1 56 1-95 1 91 1 25 1-104 1 83 1-41 1-19 1 20 1-24 1 78 1-62 1 60 1 0 1-20 1 47 1-73 1 18 1-16 1-7 1 5 1-21 1-35 1 117 1-50 1 8 1-34 1 26 1-23 1 23 1 2 1 36 1 29 1 23 1-69 1-83 1 44 1-70 1 23 1 53 1-22 1-37 1 40 1 24 1 24 1-44 1-3 1-6 1 9 1 9 1 6 1-9 1 11 1-9 1 5 1-12 1 33 1-64 1 66 1 7 1-47 1 21 1-13 1-51 1-67 1 70 1-25 1 6 1 7 1 64 1 8 1 107 1-49 1-29 1-41 1-34 1 83 1-18 1-2 1-88 1 37 1 41 1 57 1-40 1-90 1 54 1 32 1-26 1-12 1-67 1 38 1 13 1 12 1 17 1 10 1-9 1 1 1-7 1 58 1-68 1 74 1-42 1 20 1-37 1 21 1-13 1-19 1-64 1 27 1-24 1 39 1 13 1 20 1 55 1-25 1-11 1 20 1-48 1-2 1 9 1-36 1 39 1 8 1 50 1-57 1-36 1-21 1 44 1 12 1 34 1 38 1-70 1 57 1 30 1-189 1 34 1 55 1 29 1-40 1 21 1 12 1 5 1-4 1 6 1-41 1-8 1-12 1 19 1-73 1-11 1 53 1 28 1 22 1 57 1-40 1-138 1 77 1 112 1 16 1-98 1-53 1 37 1-73 1 35 1 97 1-71 1 49 1 19 1-17 1 62 1-58 1 37 1-63 1 56 1-33 1 19 1 33 1 0 1 19 1-44 1-53 1-18 1-81 1 32 1 54 1 115 1-32 1-10 1-19 1 28 1-50 1-2 1 2 1-20 1-13 1-11 1 21 1 81 1 17 1-122 1-34 1-1 1 102 1-23 1-67 1 28 1 14 1 39 1-40 1-45 1 106 1 19 1-154 1 94 1 20 1-83 1 97 1-58 1-41 1 57 1-26 1-57 1 34 1 75 1-63 1-21 1 70 1-19 1-56 1 39 1 5 1 22 1 34 1-11 1 67 1-121 1 14 1 27 1 8 1-59 1 13 1 7 1 22 1-51 1-10 1 63 1 27 1-70 1 6 1-1 1-28 1 45 1 39 1-92 1 52 1-4 1-8 1 47 1-7 1 8 1-176 1 183 1 27 1-60 1-51 1-4 1 65 1-28 1 33 1-17 1 9 1-2 1-79 1-15 1 89 1 66 1 52 1-29 1-67 1 53 1-2 1 9 1 36 1-31 1-106 1 25 1 54 1-87 1 30 1-32 1-44 1 36 1-60 1 111 1 3 1-32 1 51 1-79 1 10 1 18 1 9 1-53 1-53 1 29 1 87 1-16 1-82 1 127 1-11 1-76 1 56 1 59 1-72 1 37 1-12 1 20 1-76 1 10 1 40 1-14 1 46 1 19 1-119 1 47 1 35 1-74 1-22 1-10 1 32 1 16 1 39 1 34 1-56 1-47 1 45"/>
<path class="r" transform="scale(0.081647,0.2)" d="M0,735l1 84 1-110 1-63 1-96 1 121 1 14 1 36 1-135 1 0 1 32 1 100 1 28 1-120 1 75 1 57 1-151 1 34 1-18 1-8 1 61 1-25 1 42 1-59 1 110 1-1 1-54 1-134 1 81 1 35 1 87 1 6 1-39 1-54 1 60 1-74 1 25 1-106 1 160 1 44 1-102 1-46 1 23 1-7 1-7 1 83 1 170 1-110 1-6 1-156 1 146 1 43 1-125 1-32 1 67 1-42 1-1 1-83 1 108 1 34 1-52 1-89 1 11 1 152 1-15 1-77 1 8 1 4 1-5 1 83 1 15 1-2 1-71 1 168 1-126 1-47 1-59 1 6 1 32 1 2 1-14 1 27 1 49 1-75 1 48 1 7 1-36 1 77 1-27 1-35 1 20 1-14 1-82 1-49 1 151 1 38 1-84 1-22 1 54 1-63 1-35 1 32 1 57 1-49 1 58 1-78 1 62 1-42 1-10 1 156 1-41 1 16 1-24 1-53 1-102 1 72 1 79 1-7 1-32 1-86 1 38 1 26 1 23 1 46 1 74 1-82 1-48 1-8 1-13 1-8 1-124 1 219 1 49 1-129 1-125 1 172 1 74 1-97 1 55 1-63 1-37 1-8 1-45 1 40 1 8 1 33 1 60 1-78 1-20 1-48 1-18 1-26 1 152 1-67 1-36 1-70 1 156 1 150 1-52 1-83 1 0 1 38 1-54 1 37 1 39 1-62 1 47 1-139 1 0 1 29 1-96 1 71 1 28 1 2 1 140 1 66 1-218 1 25 1 0 1-1 1 117 1-111 1-31 1 5 1 33 1-5 1-73 1 136 1 6 1-31 1 68 1-103 1 111 1-20 1 24 1-169 1 117 1 0 1 128 1-134 1-2 1-23 1 12 1-63 1-27 1 138 1-100 1 98 1-1 1 12 1-75 1-33 1 9 1 20 1 29 1-47 1-48 1 1 1 127 1 32 1-55 1-86 1 6 1-3 1 144 1-63 1-13 1-137 1 160 1 69 1-11 1-42 1-80 1 15 1-3 1-9 1-20 1 5 1 40 1 81 1-30 1-93 1 114 1 28 1-33 1-68 1-124 1 58 1-7 1 40 1 120 1-124 1 4 1-8 1-6 1-5 1 107 1-27 1-69 1 44 1 67 1 55 1-84 1-15 1 47 1-69 1-28 1-24 1 75 1-4 1 7 1-95 1 71 1-14 1 14 1-41 1 5 1 50 1 29 1-53 1-16 1 6 1 22 1 26 1-47 1-32 1-38 1 102 1-64 1 42 1 43 1 98 1-39 1-113 1 91 1-44 1-35 1-42 1-21 1 25 1-14 1-18 1-4 1 136 1-48 1-88 1 62 1 26 1 40 1-118 1 97 1 74 1-104 1-15 1 42 1-22 1-122 1 28 1 27 1 278 1-284 1 71 1 35 1-22 1-85 1-6 1 67 1 101 1 52 1-99 1-11 1 19 1-77 1 111 1-169 1 4 1 44 1-106 1 96 1 27 1-5 1 13 1 125 1-28 1-23 1-6 1-81 1 54 1 45 1-53 1-90 1 54 1 1 1 45 1-130 1 81 1 6 1 22 1-53 1 26 1-20 1 33 1-50 1 20 1-43 1 24 1 100 1 46 1-39 1-53 1 127 1-82 1 20 1-4 1 29 1-72 1-6 1-5 1-1 1 22 1-40 1 131 1-94 1 57 1-8 1-162 1 87 1-40 1-38 1-28 1 0 1 44 1-94 1 92 1 23 1 54 1-11 1-51 1-45 1 69 1 28 1 18 1-58 1-5 1-58 1 48 1-11 1 10 1 48 1 6 1-63 1 40 1 27 1 57 1 42 1-75 1 11 1-34 1-96 1 149 1-132 1 49 1 61 1-28 1 51 1-46 1 114 1-8 1-96 1 127 1-60 1-80 1-1 1 78 1-79 1-29 1 41 1-67 1 9 1-16 1 11 1 43 1-22 1 44 1-12 1-74 1 26 1 45 1 97 1-103 1-18 1 87 1-119 1 148 1-71 1 31 1-40 1 28 1-68 1-50 1 56 1 58 1-26 1 52 1-56 1-1 1-7 1 17 1 24 1 65 1-75 1-6 1 1 1 13 1-66 1 33 1-14 1 1 1 43 1-59 1 13 1 0 1 0 1 23 1 40 1 22 1-64 1-2 1-45 1-12 1 55 1-44 1-10 1 0 1 30 1 89 1-103 1 4 1 78 1-38 1-4 1 26 1-76 1 66 1 2 1-37 1-2 1-54 1 28 1 94 1-16 1-71 1-28 1 22 1-53 1 3 1 103 1 48 1-8 1 8 1-3 1 50 1-140 1 51 1-34 1-29 1 74 1 0 1-16 1-34 1 55 1-16 1 22 1-11 1 23 1-64 1 143 1-104 1-98 1 73 1-100 1 103 1-45 1 39 1 90 1-89 1 4 1-7 1-27 1 1 1 17 1 48 1-95 1 18 1 114 1-32 1 23 1-22 1 24 1-37 1-51 1-28 1 25 1-40 1 96 1-25 1 44 1-32 1-55 1 44 1 49 1-16 1-41 1-31 1 5 1 62 1-56 1 19 1-4 1-20 1-47 1 3 1-24 1 78 1 21 1 31 1-39 1-81 1 80 1 23 1 63 1-66 1-37 1-14 1 8 1 36 1 2 1-9 1-23 1 44 1 25 1-58 1 12 1-103 1 35 1-23 1-52 1 10 1 75 1 59 1-39 1 38 1-46 1 28 1-29 1-8 1 32 1 31 1 30 1-54 1-31 1 45 1 14 1-19 1 16 1-25 1-12 1-20 1-29 1-2 1 86 1-8 1 63 1-89 1 48 1 4 1-103 1 60 1 10 1-34 1-19 1 53 1 62 1 13 1 29 1-56 1-34 1 4 1 53 1-115 1 126 1-5 1-41 1-37 1-66 1 6 1-22 1 58 1 33 1 4 1-62 1 89 1 21 1-35 1 37 1-61 1 64 1-12 1 59 1-22 1-68 1-110 1 17 1 92 1-37 1-16 1 22 1 76 1-37 1-62 1 29 1-23 1-12 1 41 1 59 1-46 1 28 1 22 1 6 1-50 1 0 1-73 1-20 1 30 1-13 1-32 1 31 1 79 1-2 1-24 1 47 1-21 1-42 1-12 1 26 1 39 1-111 1 103 1 39 1-25 1-45 1 64 1-63 1-24 1 55 1-9 1 87 1-54 1-52 1 6 1 6 1 14 1-1 1-21 1 77 1-56 1 18 1-9 1 8 1 61 1-33 1-68 1 36 1-86 1 87 1 15 1-17 1 26 1-41 1-42 1 9 1 35 1-16 1 6 1-39 1-20 1 7 1 16 1-12 1 36 1 16 1-35 1-34 1 12 1 43 1-55 1 5 1-13 1 43 1 13 1 66 1-66 1 99 1 7 1-80 1 84 1-96 1 63 1-21 1 6 1-50 1-81 1 62 1-21 1 88 1-45 1 80 1-66 1-6 1 0 1 54 1-39 1-44 1-44 1-10 1-23 1 64 1-51 1 95 1-30 1 36 1-77 1 158 1-110 1-12 1-46 1 94 1-65 1 42 1-41 1 41 1 49 1-65 1 46 1-38 1-37 1 36 1 33 1-6 1-73 1 0 1 92 1 13 1 0 1-25 1-56 1 86 1-72 1 30 1 44 1-43 1 39 1-56 1-45 1 148 1-70 1-8 1 13 1-42 1-3 1-42 1 10 1 10 1 46 1-14 1 28 1-25 1-62 1-62 1 103 1 23 1 38 1-125 1 76 1-50 1 19 1-3 1 42 1-38 1 1 1 8 1 61 1-47 1 16 1-139 1 58 1 58 1 37 1 18 1-10 1-13 1 40 1-51 1-11 1-49 1 23 1 35 1 120 1-92 1-68 1 7 1-11 1 77 1-11 1-71 1-10 1 94 1-120 1 26 1 35 1-5 1-8 1 24 1-20 1 86 1-100 1 8 1 55 1 46 1-87 1 37 1 18 1-32 1-45 1 39 1-4 1-56 1 44 1 153 1-43 1-46 1-97 1 62 1-9 1-12 1 4 1 6 1 29 1-23 1-28 1-22 1 30 1-90 1 38 1 103 1-45 1-50 1 36 1 35 1 65 1-47 1-59 1 38 1 22 1-9 1-34 1-33 1 69 1 13 1-33 1-14 1-25 1-19 1 100 1-67 1 47 1-25 1 11 1-35 1-20 1 21 1 30 1 93 1-11 1-54 1-102 1 53 1 52 1-75 1 4 1-22 1 33 1 42 1-20 1-3 1-34 1 11 1 55 1-12 1-63 1 7 1-7 1 50 1 0 1-92 1 110 1-31 1-56 1 27 1 27 1 45 1-7 1-22 1 48 1-72 1 2 1-32 1 70 1 41 1-47 1 12 1-35 1-2 1-20 1 18 1-1 1 23 1-32 1 10 1-32 1 42 1 38 1-70 1 51 1 9 1-24 1 75 1-68 1-12 1 48 1-17 1 0 1-26 1-40 1 63 1-77 1-31 1 69 1 48 1-89 1 25 1 97 1 23 1-49 1 56 1-10 1-53 1-57 1 0 1-8 1 71 1-50 1-23 1-71 1 165 1-56 1 29 1-45 1-21 1 36 1-10 1-99 1 78 1 55 1 3 1-10 1-30 1-48 1-34 1 94 1 4 1 34 1-68 1 28 1 27 1-53 1 11 1 93 1-13 1-114 1 12 1 26 1-99 1 86 1-11 1 19 1-18 1-26 1 88 1-110 1 14 1-12 1 59 1 47 1-56 1-28 1 30 1 0 1-9 1 13 1 93 1 36 1-57 1-52 1-7 1-18 1 10 1 79 1-58 1-4 1-1 1 41 1-17 1 68 1-14 1-102 1 28 1 48 1-23 1-58 1 37 1 68 1-27 1-129 1 72 1 26 1-23 1-15 1 72 1-45 1-11 1 41 1-29 1 23 1-8 1 5 1-18 1 42 1-43 1-98 1-5 1 67 1 23 1 3 1-48 1 87 1-2 1-90 1 73 1 45 1 13 1-74 1 2 1 31 1 41 1-87 1 20 1-22 1 49 1 0 1 25 1-26 1 32 1-24 1-71 1 11 1-76 1 39 1 69 1 10 1 8 1-11 1-15 1 20 1-30 1 16 1-38 1 27 1-10 1 50 1 5 1-41 1-20 1 101 1-79 1-9 1 7 1-5 1-24 1-45 1 87 1 6 1-59 1-28 1-5 1 66 1-32 1-51 1 92 1-109 1 37 1 90 1 13 1 2 1-11 1-39 1 3 1 22 1 34 1-23 1-10 1-41 1 43 1-22 1 43 1-17 1-58 1-72 1-8 1 92 1-68 1 117 1-70 1 45 1-3 1-56 1-33 1 22 1 71 1-50 1 55 1-6 1-17 1 54 1-48 1 76 1 23 1-41 1-22 1-5 1-34 1 26 1 46 1-81 1 30 1 35 1-5 1-7 1-50 1 71 1-84 1-37 1 37 1 25 1-36 1-19 1 3 1 75 1 42 1-23 1-23 1-12 1-70 1 85 1-24 1-67 1 92 1 6 1 86 1-31 1-28 1-15 1-66 1-9 1 89 1-59 1 47 1-43 1-45 1 78 1 2 1-108 1 15 1 60 1 45 1-12 1-30 1 72 1-152 1 15 1-15 1 151 1-52 1-59 1 29 1-9 1 22 1-37 1-13 1 96 1-104 1 95 1 9 1-35 1 48 1-24 1 18 1-95 1 94 1 19 1-40 1-71 1-2 1 66 1-1 1-3 1-79 1 12 1 98 1-71 1 50 1-22 1-59 1-44 1-17 1 111 1-41 1 87 1-3 1-32 1 46 1 46 1-148 1 55 1 9 1-45 1 12 1-34 1 49 1 83 1-84 1-13 1-6 1-3 1-58 1 40 1 32 1 41 1-49 1 9 1 41 1 55 1 28 1-32 1 11 1-102 1-17 1 16 1 18 1 6 1 11 1-8 1 4 1 26 1 44 1-47 1-40 1-14 1-67 1-3 1 80 1-14 1-5 1-39 1 107 1-42 1 32 1-50 1 29 1 21 1-20 1-42 1 58 1-72 1 62 1-5 1 40 1-76 1 41 1-90 1-16 1 3 1 68 1 28 1-38 1 68 1-18 1-126 1 75 1-15 1-13 1 4 1-56 1 77 1-53 1 54 1 42 1-26 1 1 1 36 1 93 1-90 1-40 1-67 1 93 1-44 1-22 1 74 1-87 1 5 1 55 1-3 1-57 1 17 1 82 1-79 1 63 1-51 1 5 1 60 1-24 1-46 1 58 1 14 1-32 1-10 1-31 1 84 1-10 1-43 1-7 1-37 1 70 1-37 1-92 1 68 1 25 1-3 1 19 1 32 1 52 1-84 1 3 1 27 1-16 1-62 1 75 1 12 1-23 1-35 1 17 1-80 1 64 1 28 1 62 1 52 1-93 1-4 1-66 1-2 1 33 1 42 1 7 1 33 1-108 1 30 1-39 1 71 1 41 1 4 1-74 1-22 1 13 1-2 1 73 1-55 1-16 1 44 1 55 1-47 1-13 1-109 1 78 1 2 1-6 1 41 1 9 1-32 1 11 1-96 1 29 1 65 1-21 1 19 1-30 1-3 1 8 1 105 1-68 1-25 1-39 1 33 1 15 1-28 1-72 1 48 1 81 1-77 1 67 1 52 1-81 1-46 1 7 1-18 1 28 1 57 1-47 1 40 1-69 1-28 1 61 1-8 1-19 1-5 1 40 1-67 1 64 1-6 1 1 1 37 1 27 1-94 1-40 1 101 1-13 1 3 1-41 1 55 1-27 1 18 1 7 1 24 1 6 1-47 1-27 1-32 1 67 1-39 1 55 1 3 1-72 1 120 1-28 1-42 1-41 1-19 1 30 1 2 1 56 1 89 1-156 1 8 1-2 1 80 1-19 1-14 1-7 1 11 1-91 1 43 1-16 1-48 1 83 1 12 1-19 1-4 1 3 1 92 1-52 1-17 1 38 1-74 1 39 1 29 1 10 1-53 1 11 1 11 1-28 1 14 1 26 1-108 1 20 1 38 1 27 1-55 1 50 1 56 1-57 1-11 1 5 1-25 1 66 1-1 1-44 1 41 1-10 1-159 1 64 1 28 1 55 1-38 1 24 1 4 1 4 1-52 1 3 1 16 1-11 1 15 1 30 1 2 1 44 1-51 1-12 1-56 1 37 1 44 1-40 1-17 1 17 1 24 1-19 1-6 1 40 1 26 1-48 1-76 1 9 1 28 1 63 1 5 1-43 1 82 1-51 1-63 1 156 1-59 1 3 1-62 1 36 1-34 1 0 1 33 1-62 1 34 1 19 1 31 1-54 1 54 1 23 1-126 1 43 1-57 1-2 1 26 1 18 1 59 1-25 1-29 1 42 1 77 1-105 1 35 1-77 1 2 1 15 1 20 1-25 1 46 1 5 1-57 1 17 1 74 1-56 1-15 1-37 1 22 1-8 1-10 1-23 1-16 1 51 1 5 1 85 1-75 1 24 1 46 1-53 1-9 1-8 1 53 1 17 1-34 1-4 1 39 1 41 1-56 1-27 1-47 1 28 1-40 1 129 1-34 1-79 1 63 1-17 1 41 1 0 1-53 1 16 1-74 1 57 1 40 1-53 1-3 1 6 1-22 1-13 1 41 1-41 1-13 1 120 1-55 1-42 1 82 1-5 1-36 1 137 1-43 1-20 1-70 1-40 1 19 1 86 1-36 1-53 1-16 1 3 1 56 1-68 1 131 1-103 1 95 1-2 1-15 1-4 1-13 1-19 1 32 1-28 1 1 1-90 1 95 1 30 1-8 1 51 1-146 1 53 1-37 1-37 1 48 1 43 1-5 1-8 1-47 1 36 1-46 1 19 1 21 1 73 1-55 1 16 1 68 1-69 1 2 1-57 1 13 1 73 1-39 1 37 1-84 1-5 1 10 1 15 1-55 1 53 1-7 1-51 1 34 1 26 1 9 1-28 1 19 1-16 1-38 1 46 1-14 1 1 1-3 1 14 1-20 1 30 1-51 1-9 1 116 1-24 1-76 1 54 1 29 1-47 1 4 1-86 1 100 1-73 1 98 1-56 1-1 1 28 1-15 1-4 1 28 1 13 1-6 1 50 1-80 1 23 1-51 1-35 1-42 1 82 1-27 1 117 1-58 1-9 1 52 1-92 1 120 1-22 1-24 1-101 1 49 1-2 1-18 1-90 1 110 1-73 1 76 1-49 1 44 1 28 1 48 1-49 1 20 1-7 1 14 1-29 1 37 1 27 1 7 1 55 1-87 1-17 1 43 1-82 1 6 1-30 1 34 1-116 1 55 1 165 1-8 1-112 1 50 1-22 1-55 1-33 1 17 1 36 1 15 1-22 1-24 1 19 1 42 1 76 1 42 1-66 1-48 1 54 1-30 1 16 1 10 1-14 1 43 1-102 1-13 1 30 1-8 1 59 1-2 1-63 1-51 1 26 1 6 1 64 1 10 1-19 1-62 1 2 1 37 1-39 1 44 1 8 1-62 1 19 1-63 1 158 1-23 1-8 1-6 1-13 1-33 1-6 1 3 1 54 1-33 1 74 1 13 1 17 1-65 1-12 1 27 1-41 1 26 1-29 1-9 1-33 1 100 1-51 1 40 1 0 1-57 1-6 1-35 1-14 1 52 1 15 1-29 1-51 1 47 1-9 1-36 1 0 1 72 1 29 1 45 1-34 1-12 1 0 1 52 1-23 1-58 1 13 1-67 1 61 1 58 1-70 1 70 1 46 1-25 1-64 1-3 1-17 1 14 1-7 1 39 1-18 1-88 1 61 1 11 1-6 1 32 1-58 1 45 1-10 1 17 1-28 1-101 1 14 1 119 1-20 1-8 1 67 1-51 1-26 1-1 1 24 1-40 1 17 1 15 1 22 1 2 1-29 1 41 1 10 1-101 1-9 1 98 1 1 1-15 1-14 1 15 1-42 1-17 1-18 1 50 1-24 1 19 1 42 1-71 1 125 1-109 1 47 1-36 1-61 1 40 1-1 1 72 1-34 1-14 1 25 1-66 1 60 1-47 1-14 1 47 1 30 1 12 1-56 1-7 1 30 1-31 1 26 1-27 1-8 1 35 1 13 1-16 1 64 1-12 1-36 1-31 1-8 1-8 1 10 1 73 1-39 1-98 1 139 1 17 1-15 1-66 1-95 1 32 1-63 1 83 1 100 1-65 1-34 1 16 1 10 1 19 1-14 1 35 1-105 1 35 1 46 1-71 1 112 1-17 1 70 1-112 1-8 1 4 1 54 1-74 1-22 1 12 1 42 1 20 1 20 1-24 1 48 1-42 1 18 1 6 1-9 1-27 1 25 1 50 1 11 1-6 1 9 1-1 1-49 1-52 1-116 1 49 1 144 1 0 1-95 1 18 1 64 1-19 1 4 1 13 1 35 1 45 1-12 1-7 1-7 1-85 1-44 1 37 1 17 1 5 1-28 1-51 1 11 1-29 1-1 1 78 1 105 1-104 1 74 1-36 1-111 1-1 1 31 1 21 1-25 1 20 1 87 1-48 1-42 1 26 1 30 1-4 1-60 1 40 1 95 1-82 1-49 1-47 1 74 1 13 1 23 1-45 1-60 1 7 1 57 1 18 1 74 1-34 1-26 1 17 1 74 1-86 1-40 1 20 1 10 1-58 1 90 1-37 1-60 1-8 1-1 1-4 1 91 1-80 1 34 1 34 1-80 1-19 1 42 1-36 1-3 1 88 1-23 1 93 1-90 1-27 1-3 1 20 1 70 1-58 1 9 1-6 1 53 1-119 1 43 1 51 1-15 1-44 1 24 1-1 1 43 1-35 1 46 1 32 1-21 1-103 1-34 1 33 1-30 1 61 1-12 1 113 1-54 1-35 1-27 1-31 1 110 1-102 1-7 1 31 1-41 1-32 1 72 1-7 1 32 1-11 1-1 1 26 1-3 1 10 1 16 1 6 1 52 1 18 1-103 1 88 1-70 1-2 1-1 1-48 1 10 1-29 1 20 1-15 1 68 1-24 1-39 1-26 1 29 1 44 1-53 1 65 1-17 1 15 1-8 1 10 1 46 1-63 1-24 1 13 1 27 1-57 1-20 1 54 1-6 1-30 1-2 1-10 1 64 1-8 1 46 1-5 1-104 1 92 1-184 1 196 1-17 1-98 1 81 1-20 1 50 1-83 1-2 1 1 1 107 1-90 1-72 1 85 1-14 1 36 1-4 1-20 1 34 1-56 1 64 1-18 1-38 1 61 1-59 1 16 1-63 1-28 1 101 1-80 1 76 1 30 1-40 1-11 1 14 1 10 1 89 1-62 1-57 1 96 1-38 1-74 1 30 1-20 1 59 1-6 1 9 1 13 1 6 1-87 1 11 1 5 1 8 1-18 1-22 1 66 1-6 1-39 1-1 1 1 1 22 1 7 1 27 1 31 1-62 1-61 1 11 1-24 1-10 1 109 1-32 1 0 1 0 1-70 1 4 1 56 1 28 1-32 1 0 1-27 1 87 1-49 1 17 1 8 1-32 1 32 1 9 1-25 1-14 1 36 1-42 1 4 1 60 1-41 1-33 1 42 1-4 1-1 1-16 1-13 1-45 1 64 1 6 1-16 1 37 1-58 1 92 1 16 1-53 1 39 1-82 1 50 1 24 1-19 1-99 1 28 1 16 1 23 1 60 1-47 1 18 1 52 1-14 1-43 1 34 1-33 1 33 1 6 1-132 1 135 1-32 1-5 1-29 1-19 1-27 1 74 1-45 1 117 1-43 1-42 1 3 1 37 1-11 1-36 1-83 1 100 1 17 1-50 1 22 1 15 1-17 1 6 1 0 1 47 1 46 1-72 1 44 1-79 1-51 1 109 1-60 1-4 1-27 1-19 1 34 1 55 1-5 1 8 1-10 1-102 1 91 1 70 1-67 1 23 1-8 1-93 1 29 1 82 1-58 1 33 1-38 1 16 1 36 1-20 1 52 1-42 1-88 1 46 1 13 1 45 1 34 1 52 1-119 1 28 1-32 1 1 1 60 1-33 1-40 1 45 1-60 1-29 1 11 1 1 1-36 1 2 1 74 1-23 1-3 1-37 1 47 1 64 1-62 1 33 1-10 1 38 1-6 1-86 1 31 1 19 1-81 1 113 1-41 1 43 1-40 1 38 1-43 1-69 1 40 1 29 1 12 1-26 1-1 1-25 1 32 1-80 1-9 1 80 1-11 1 66 1 2 1-20 1-7 1-4 1 38 1 5 1-40 1-113 1 31 1 79 1-14 1-34 1-14 1-93 1 52 1 161 1-20 1-46 1 16 1-24 1 7 1 42 1-6 1 17 1-3 1-40 1-41 1-14 1-18 1-25 1 15 1 66 1 49 1-84 1 88 1-78 1 4 1 27 1 47 1 6 1-12 1 1 1-42 1-16 1 71 1-18 1-21 1-46 1-69 1-47 1 80 1 46 1-13 1 35 1 55 1-24 1 25 1-5 1-3 1-69 1 66 1 19 1-73 1 28 1-38 1-129 1 63 1 157 1-43 1-38 1-48 1-18 1 4 1 58 1-17 1-25 1-26 1 22 1-14 1 54 1-67 1 92 1-49 1-2 1-58 1 84 1-1 1-60 1-11 1 43 1 61 1 55 1 25 1-34 1-66 1 31 1 13 1-50 1-9 1-3 1 2 1 64 1-106 1 54 1-39 1 24 1-33 1 37 1-16 1 1 1 94 1-47 1 2 1 30 1-34 1 28 1 18 1 7 1-85 1-17 1 8 1-90 1 51 1 113 1 44 1-38 1-40 1-27 1 8 1 17 1-41 1 100 1-82 1 24 1 56 1-58 1 15 1-19 1 57 1-29 1-41 1-8 1 31 1-4 1-94 1 11 1 71 1 23 1 68 1-32 1 40 1-63 1-37 1-18 1 20 1 31 1 60 1 17 1-82 1-84 1 64 1-1 1 61 1 28 1-3 1-29 1-95 1-61 1 124 1-88 1 54 1 9 1 9 1 9 1-76 1 42 1 21 1 56 1-104 1-4 1 26 1-39 1 91 1-49 1-22 1-2 1 10 1 16 1-13 1-23 1 69 1 30 1 5 1-35 1-20 1-4 1 1 1 115 1-106 1 27 1-1 1-10 1 1 1 21 1-31 1-52 1 4 1-22 1 23 1-31 1 37 1 5 1 16 1-58 1 6 1 69 1-16 1 24 1 27 1-67 1 24 1-45 1 44 1 90 1-33 1-95 1 67 1-103 1 139 1-23 1-41 1 8 1 16 1-2 1-52 1 74 1 70 1-106 1-36 1 38 1-27 1 35 1 80 1-32 1-13 1-74 1-13 1 63 1-15 1-25 1 37 1-17 1-3 1 20 1-135 1 47 1 1 1 69 1-30 1 55 1-74 1-30 1-5 1 66 1 10 1 9 1 69 1 4 1-12 1-56 1-32 1 86 1-66 1-7 1 41 1-26 1-52 1 130 1-73 1-66 1-45 1-3 1 82 1 61 1-24 1-5 1 22 1-74 1 56 1-18 1-4 1 24 1 8 1-45 1-2 1-1 1-5 1 29 1 67 1-59 1-4 1-90 1 43 1-2 1 91 1-47 1 39 1-61 1-33 1 61 1 2 1 16 1 67 1-89 1 14 1-36 1 54 1-19 1 6 1-27 1-48 1-84 1 46 1 86 1 107 1-63 1-9 1-22 1 47 1-44 1 53 1-70 1-88 1-2 1 62 1 109 1-87 1 99 1-78 1 4 1-22 1 36 1 22 1-16 1-20 1-21 1 5 1-56 1 62 1 39 1-13 1 15 1-14 1 64 1-117 1 35 1-54 1-82 1-26 1 188 1-28 1-11 1 5 1 21 1-40 1-16 1-9 1 31 1 14 1 39 1 48 1-115 1 60 1-56 1-72 1 1 1 58 1-70 1-20 1 64 1-11 1 62 1-40 1 98 1-52 1 19 1-48 1-4 1-5 1 56 1-36 1-24 1 69 1 8 1-71 1 43 1 7 1 10 1-21 1-35 1 20 1-54 1 39 1 40 1-24 1-43 1-35 1-13 1 58 1 53 1 90 1-145 1-13 1 45 1-10 1-46 1-2 1-26 1 57 1 62 1 55 1-13 1-108 1 36 1 5 1-18 1 88 1-55 1 14 1-13 1-53 1-26 1 61 1 10 1-19 1 37 1-61 1 54 1 40 1-26 1-5 1-92 1 22 1-2 1 126 1-1 1-24 1-41 1 59 1-43 1-57 1 19 1-62 1 23 1 63 1-10 1-110 1 116 1-30 1-51 1 43 1-44 1 99 1-37 1-22 1 50 1-5 1 15 1 18 1 25 1-82 1 16 1-7 1-18 1-38 1 100 1-49 1-53 1 31 1-39 1 59 1 60 1 19 1-41 1-32 1-22 1-19 1 26 1 55 1-50 1 25 1-97 1 122 1-44 1 73 1 22 1-30 1-36 1-1 1-59 1-43 1 104 1-1 1-33 1-33 1 51 1 3 1-9 1-34 1 81 1-53 1 31 1-104 1 50 1 35 1 42 1-17 1-18 1 36 1-13 1-90 1 84 1-17 1-48 1 65 1-24 1-44 1 43 1-8 1-19 1-15 1 20 1 65 1-56 1-110 1 43 1 59 1 63 1-85 1-29 1 95 1-29 1-6 1 54 1 3 1-64 1 34 1-14 1 31 1 1 1-57 1-21 1 6 1 74 1-107 1 70 1-61 1-10 1 31 1 106 1-66 1-96 1 75 1 58 1-69 1 58 1-53 1 36 1-7 1 14 1-27 1 90 1-68 1-13 1 26 1-97 1 104 1-29 1-27 1-6 1 59 1-92 1 37 1 18 1 35 1-19 1 53 1-56 1 45 1 17 1-70 1 2 1 1 1 27 1-58 1 72 1-87 1 58 1-71 1 56 1 3 1-74 1 64 1 7 1-1 1-58 1 86 1-68 1 12 1 9 1-9 1 10 1-107 1 50 1 52 1 22 1-78 1 37 1-45 1 20 1 18 1 61 1 2 1 28 1-13 1 25 1-17 1 9 1-80 1 7 1 65 1-37 1-50 1 129 1-39 1-20 1 13 1-125 1 26 1-85 1 36 1 29 1 38 1 24 1 32 1-32 1 69 1-82 1 23 1 61 1-43 1-68 1 53 1 53 1-60 1 46 1-30 1-1 1-16 1-58 1 18 1 85 1-119 1-8 1 114 1-63 1-1 1 86 1-52 1-36 1 73 1-99 1 68 1-4 1-60 1 78 1-35 1-35 1 45 1 85 1-24 1 13 1 24 1-51 1-99 1 0 1 80 1 19 1-17 1-7 1-76 1 64 1 44 1-43 1-30 1-33 1 0 1-11 1 38 1 6 1-1 1-17 1-30 1-2 1 69 1-34 1 2 1-41 1 23 1 81 1 11 1 8 1 12 1-76 1 37 1-23 1-41 1 37 1 17 1 27 1 16 1-129 1 39 1 10 1-21 1-13 1 20 1-21 1 132 1-22 1-6 1-68 1-26 1 5 1-19 1 8 1 83 1-58 1-5 1 10 1-64 1 52 1 54 1 2 1-57 1-5 1-19 1 123 1-74 1-39 1 14 1 0 1-29 1 61 1 29 1-49 1 67 1-28 1-5 1-82 1 77 1-62 1-31 1 81 1 12 1-9 1 4 1 46 1 32 1-19 1-48 1-24 1-9 1-53 1 43 1-10 1-36 1 89 1-4 1 69 1-104 1-4 1 60 1-59 1 39 1-30 1 106 1 16 1-100 1-23"/>
<path class="g" transform="scale(0.053881,0.2)" d="M0,652l1 33 1-17 1 6 1 73 1 43 1 14 1-108 1-62 1 10 1-21 1 54 1-94 1 83 1 8 1-31 1 34 1 55 1-49 1 50 1 7 1-61 1 25 1-30 1 42 1-1 1-28 1 31 1-45 1 15 1 28 1-90 1 144 1-22 1-4 1-90 1-38 1-50 1-5 1 71 1-13 1 20 1 19 1 10 1-24 1 38 1-45 1 58 1-90 1-2 1 74 1 10 1-88 1 94 1 23 1 8 1-67 1 2 1-9 1-51 1 3 1 27 1 129 1-28 1-3 1 13 1-8 1 8 1-65 1-28 1-49 1 27 1 6 1 34 1 50 1-48 1-42 1 40 1 0 1 34 1-32 1 62 1 14 1 28 1-68 1-31 1-63 1 26 1 92 1-146 1-45 1 92 1 34 1 25 1-1 1 58 1 5 1-52 1 11 1 67 1 4 1 64 1-40 1-5 1-40 1-77 1 77 1 37 1-53 1-39 1 57 1 2 1-45 1-7 1-62 1 19 1-53 1 59 1 48 1 26 1-71 1-79 1 48 1 98 1-62 1 22 1 66 1 15 1-129 1 28 1-26 1-3 1-19 1 55 1-68 1 94 1-41 1-63 1 59 1 110 1-31 1 17 1 62 1-70 1-32 1 24 1-52 1-3 1-5 1 67 1-97 1 64 1-94 1 67 1-45 1 58 1-48 1-6 1 54 1-18 1-35 1 108 1 8 1 19 1 2 1-44 1 0 1-12 1-20 1-1 1 14 1-141 1 91 1 41 1 14 1-3 1-44 1-72 1 39 1 32 1 62 1-67 1-4 1 49 1 14 1-69 1 52 1 55 1 6 1-19 1-35 1-3 1-29 1-22 1 43 1-112 1 52 1-34 1 55 1 13 1-10 1-20 1 139 1-79 1-8 1 8 1-68 1 18 1-27 1 50 1 66 1-82 1 52 1-7 1 35 1-109 1 115 1-63 1-5 1-2 1-7 1-5 1 36 1 18 1 33 1-62 1-11 1-10 1 32 1-15 1 53 1 56 1-71 1-26 1-55 1 46 1 38 1-39 1-52 1-10 1-20 1 43 1 41 1 5 1-17 1 89 1 25 1-32 1 46 1-38 1-60 1 39 1-4 1-55 1-53 1 31 1 40 1-33 1 18 1-41 1-36 1 64 1-38 1 68 1-21 1 38 1-40 1-18 1-57 1-7 1-9 1 8 1 45 1-45 1 24 1 24 1 84 1-20 1 54 1-57 1-96 1 101 1 17 1-9 1-4 1-54 1-3 1-18 1 21 1-5 1 3 1 16 1-14 1 81 1-13 1-53 1-45 1 57 1 48 1-79 1-9 1-46 1-19 1 11 1 138 1-85 1 128 1 94 1-233 1 68 1-27 1 44 1-54 1 101 1-94 1 65 1-67 1-21 1-53 1 145 1-56 1-36 1 30 1 17 1 27 1-107 1-16 1 92 1-29 1-32 1 2 1-2 1 2 1 7 1-12 1 42 1-15 1 14 1 9 1-62 1 82 1 43 1 29 1 66 1-179 1-6 1-41 1 23 1 30 1 68 1-9 1 43 1 22 1-19 1-22 1 8 1-36 1-38 1-36 1 39 1-105 1 90 1-87 1 31 1 105 1 16 1-33 1 18 1 48 1-2 1-19 1-60 1 7 1-74 1 92 1-1 1 92 1-114 1-33 1-74 1 70 1 31 1-40 1 48 1-46 1-77 1 60 1-4 1 80 1-47 1-18 1 15 1 65 1-11 1-84 1 19 1 39 1 132 1-146 1-34 1 26 1 5 1-26 1 91 1-127 1 15 1 59 1 4 1-31 1-40 1 18 1 81 1-16 1 38 1-19 1-59 1-54 1-6 1 42 1 45 1-8 1 73 1-11 1-25 1-11 1-20 1-12 1 44 1-108 1 23 1 41 1-53 1-8 1 43 1-21 1 1 1-16 1 61 1 10 1-78 1 23 1 12 1 0 1 129 1-21 1-74 1-43 1 5 1 26 1 18 1 94 1-87 1-61 1 83 1-30 1-53 1 30 1 21 1 57 1-9 1-57 1 14 1 67 1-14 1-126 1 126 1-11 1-31 1-75 1-99 1 105 1 33 1 1 1-6 1-11 1-126 1 64 1 83 1-49 1 20 1-3 1 34 1-11 1 63 1-60 1-81 1 111 1 15 1 41 1-2 1 17 1 16 1-74 1-74 1 39 1 3 1 20 1-45 1-15 1 30 1 12 1-18 1-58 1 95 1 45 1-20 1 19 1-124 1 22 1-25 1 31 1 67 1 16 1-59 1 67 1-95 1 22 1 50 1-117 1 22 1 34 1 62 1-63 1 42 1-11 1-59 1 18 1 73 1-63 1 60 1 30 1-9 1-39 1 55 1 38 1-31 1 50 1-122 1 11 1-41 1 35 1 77 1-41 1-56 1-44 1 58 1-22 1 13 1-13 1-5 1 7 1-10 1-61 1 52 1-30 1 268 1-204 1 13 1 19 1-2 1-119 1 21 1 102 1 27 1-100 1 28 1 30 1 27 1-2 1 45 1-21 1 18 1-51 1-56 1-12 1 96 1-42 1-3 1 23 1-7 1-8 1 33 1 38 1-69 1 28 1-3 1 16 1-8 1 30 1-29 1-15 1-2 1-34 1 21 1 21 1 30 1-58 1-97 1 28 1 33 1-15 1 12 1 12 1-32 1-2 1 14 1 6 1 7 1 10 1 8 1 8 1-18 1-92 1 48 1 39 1 28 1 6 1 55 1-6 1-14 1-78 1-112 1 98 1 64 1 10 1-19 1-13 1-41 1-23 1 119 1-31 1-14 1 9 1 18 1 46 1-68 1 12 1-15 1 31 1-57 1 15 1 46 1-63 1 14 1-5 1 24 1-35 1-5 1 20 1-61 1 27 1 15 1-29 1 86 1-43 1 63 1-60 1 36 1-43 1-33 1 121 1-45 1 38 1-48 1-2 1-55 1-3 1 87 1-12 1-61 1 24 1 53 1-12 1 9 1-120 1 39 1-7 1 108 1-41 1-50 1 60 1 3 1-11 1-27 1-23 1-19 1 5 1-1 1 43 1-29 1 85 1-34 1 20 1 58 1-21 1 10 1-23 1-72 1-20 1 60 1 67 1-66 1-12 1-29 1-57 1 77 1-50 1 86 1-20 1 49 1-45 1-1 1-70 1 7 1 30 1 32 1-12 1-55 1-49 1 47 1 45 1 30 1-1 1-11 1-29 1-15 1 35 1-64 1 33 1 12 1 15 1-5 1 48 1-19 1 0 1 71 1-41 1-48 1 18 1-30 1-48 1 57 1 13 1-104 1 55 1-4 1 12 1 24 1 16 1 56 1 11 1-71 1 10 1-40 1 2 1-30 1-38 1 27 1 7 1 66 1 3 1 101 1-95 1 26 1-58 1-62 1-5 1 87 1-39 1 27 1 19 1-62 1 26 1 46 1 46 1-72 1 49 1 2 1-29 1-35 1 43 1-87 1 30 1-68 1 17 1 14 1-7 1-41 1 17 1-1 1 76 1 38 1 39 1-93 1-2 1 34 1-56 1-4 1 47 1 4 1 58 1-98 1 27 1-17 1 9 1 55 1-24 1-2 1 23 1-3 1-40 1-13 1 15 1 18 1 0 1-7 1-12 1 44 1-41 1-48 1 24 1-124 1 108 1 33 1 50 1-16 1-38 1 14 1 1 1 25 1 54 1-28 1-19 1-31 1-7 1 22 1-16 1-31 1 2 1-6 1 23 1-19 1 4 1 6 1 15 1-26 1-2 1-31 1 89 1-18 1-16 1-13 1 28 1-26 1-16 1 2 1 4 1 20 1 13 1 3 1 32 1 12 1-50 1-93 1 42 1-20 1 83 1-23 1 35 1-14 1-1 1 21 1-2 1 9 1-14 1 18 1-67 1 2 1-14 1 15 1 71 1-3 1 8 1-75 1-59 1-22 1 41 1 42 1-52 1-34 1 91 1-20 1-2 1 37 1 16 1 29 1-50 1 39 1 24 1 15 1-58 1 19 1-30 1-13 1 57 1-30 1-21 1-13 1 57 1-23 1-115 1 71 1-19 1-39 1 14 1 26 1 61 1-1 1-7 1 61 1-67 1 11 1 10 1-50 1-17 1 69 1 1 1 4 1-5 1-53 1 44 1 47 1-42 1-26 1-83 1 89 1-26 1 26 1 32 1-51 1-35 1-6 1-7 1 38 1 16 1-43 1-18 1 63 1 6 1 38 1-25 1 40 1-41 1 4 1-4 1-10 1 62 1 32 1-75 1-25 1-7 1-5 1 11 1-17 1-110 1 92 1 44 1 68 1 8 1-37 1-3 1-48 1 49 1-46 1 60 1-40 1-8 1-12 1-51 1 5 1-28 1 4 1 40 1 42 1 39 1 16 1-62 1-32 1 14 1 64 1-23 1 37 1-56 1-31 1 81 1-40 1-40 1-24 1 31 1 50 1-26 1 3 1 12 1-108 1 47 1 101 1-25 1-11 1-11 1-12 1-22 1 41 1 0 1-60 1-39 1 61 1 56 1 46 1-65 1-60 1 3 1 41 1-37 1-23 1 11 1 10 1-2 1 1 1 12 1 6 1 45 1 7 1 23 1-7 1-23 1-91 1 8 1-49 1-16 1 107 1-5 1 52 1 34 1-24 1-85 1-42 1 7 1 44 1-24 1 63 1-13 1-42 1 47 1-47 1-28 1 46 1-12 1 25 1 70 1-15 1-17 1-10 1 21 1-28 1-3 1 22 1-30 1 71 1-49 1 23 1-11 1-11 1-50 1 50 1 70 1-111 1-41 1 26 1 65 1 24 1 23 1-32 1-35 1 1 1 34 1-14 1-36 1 33 1-31 1 11 1-30 1-20 1 41 1 16 1 44 1-20 1-30 1 34 1-11 1-16 1 20 1 47 1-27 1 41 1-68 1-31 1 6 1 17 1 52 1-36 1-42 1 8 1-11 1 19 1 5 1-12 1-18 1-6 1 43 1-35 1-18 1 8 1 23 1-6 1 27 1 20 1-4 1-36 1 37 1 19 1-103 1 30 1 57 1-78 1 50 1-11 1-6 1 36 1 64 1-71 1-21 1-49 1 22 1 73 1-26 1-29 1-2 1 52 1-47 1 52 1-3 1-19 1-26 1-42 1-8 1 29 1 33 1-26 1-46 1 14 1 94 1 28 1-49 1 38 1-47 1-41 1 35 1 37 1-17 1-47 1 1 1 32 1-55 1 7 1 59 1 45 1-74 1-22 1 83 1-5 1 17 1-7 1 21 1-73 1-79 1 61 1 7 1 43 1-20 1-25 1-67 1-13 1 68 1-5 1 29 1 54 1-61 1 28 1-11 1-44 1 0 1 8 1 46 1 3 1-57 1 48 1-17 1-25 1 53 1-10 1-9 1-23 1 40 1 20 1-61 1-1 1 17 1-9 1-4 1-26 1 69 1-60 1 18 1 25 1-42 1 3 1 85 1-7 1-36 1-63 1 45 1-14 1 63 1-68 1 29 1 36 1-10 1 65 1-33 1 10 1 0 1 14 1 22 1-72 1-23 1-30 1-32 1 38 1 82 1-39 1-44 1 45 1 6 1-82 1-8 1 18 1-10 1 36 1 3 1 8 1-2 1 5 1 12 1-1 1-32 1-25 1 12 1 3 1 31 1-52 1 22 1-41 1-12 1 64 1-38 1 37 1 30 1-79 1-8 1 26 1-34 1 10 1 47 1-30 1-45 1 65 1-11 1 7 1-4 1-3 1-15 1 1 1 68 1 1 1-21 1 24 1-23 1-43 1 73 1-107 1 3 1 58 1-4 1-38 1 46 1-18 1 48 1-26 1 52 1-80 1-48 1 39 1 60 1 7 1-58 1 46 1-5 1 95 1-62 1-29 1-29 1-15 1 5 1-11 1 36 1-35 1 8 1 11 1-29 1 52 1-23 1-11 1 25 1 24 1 50 1-62 1 36 1-46 1 10 1-15 1 52 1-25 1-28 1-5 1 7 1 37 1-50 1-17 1 19 1 23 1-49 1 2 1 55 1-10 1 4 1-23 1-25 1-49 1 51 1-6 1 16 1-114 1 158 1 9 1-58 1 73 1-28 1 3 1-108 1 33 1-11 1 39 1-16 1 68 1-86 1 43 1-36 1 66 1 38 1-36 1 25 1 16 1 20 1 30 1-46 1-25 1-14 1 30 1-8 1-9 1-5 1-8 1-51 1-27 1 123 1 23 1-4 1-9 1-94 1-12 1 24 1-16 1 24 1 38 1 14 1 24 1 22 1-54 1-36 1 13 1 8 1-51 1 24 1 5 1 7 1-51 1 32 1-7 1-66 1 35 1-49 1 100 1 20 1-14 1-22 1-52 1 45 1 57 1-6 1-31 1 53 1 0 1-1 1 16 1-59 1 23 1-55 1-3 1 15 1 0 1-19 1 5 1-39 1 14 1-76 1 23 1 99 1-23 1-26 1 7 1 98 1-91 1-87 1 119 1 3 1 101 1-41 1-20 1 17 1-4 1 43 1-13 1-23 1 5 1-34 1-77 1 113 1-37 1 30 1-90 1-8 1-18 1 65 1 43 1 8 1-67 1 2 1 32 1-5 1-2 1 74 1-12 1-42 1-89 1 5 1 1 1 35 1 22 1-25 1 50 1-35 1 23 1-11 1 8 1-19 1 5 1-28 1 4 1-28 1-13 1 47 1 65 1-3 1-77 1 9 1 6 1-7 1-2 1 47 1-45 1 70 1-42 1 58 1 3 1-96 1 40 1-31 1 44 1-84 1 76 1-88 1 31 1 30 1 37 1-37 1 30 1-25 1 15 1-36 1 11 1-48 1 11 1 40 1-53 1 20 1 77 1 22 1-21 1-60 1 16 1 57 1 19 1-21 1-39 1 61 1-15 1 21 1-17 1-62 1 22 1 4 1-5 1-18 1 38 1-109 1 90 1-22 1 43 1 7 1-43 1-21 1-7 1-11 1-48 1 28 1 47 1 60 1-12 1 0 1 12 1-46 1-3 1-65 1 15 1 43 1 67 1-46 1-5 1-30 1-84 1 47 1 50 1-33 1 48 1-4 1 6 1-30 1-17 1 26 1 26 1-41 1 13 1-14 1-46 1 86 1-3 1-24 1 0 1-53 1 7 1 2 1-14 1 56 1-21 1-6 1 31 1-7 1-37 1 63 1-12 1 13 1 26 1 1 1 89 1-92 1-15 1-17 1-18 1-21 1 54 1-15 1-46 1 39 1 40 1 7 1 13 1-9 1 17 1-76 1 38 1 37 1-9 1 30 1-77 1-1 1 68 1-10 1 3 1-59 1-19 1-63 1 5 1 28 1 15 1-31 1-8 1-27 1 52 1 33 1 97 1-34 1-1 1 16 1-51 1-77 1 148 1-42 1-10 1 41 1-59 1-49 1-19 1-43 1 90 1-71 1 7 1-21 1-18 1 50 1 48 1 14 1-61 1 8 1 37 1-49 1 3 1 22 1 6 1 38 1-73 1 24 1 41 1 8 1-5 1 63 1-11 1-77 1 4 1 44 1 56 1 15 1-12 1-17 1-70 1-23 1-36 1-53 1 51 1 87 1 22 1-20 1-3 1-42 1-19 1-8 1 44 1 37 1 9 1-8 1-4 1 7 1-25 1 34 1-16 1-39 1-75 1 18 1 57 1 76 1-34 1-22 1 23 1-57 1 31 1-10 1-43 1 37 1-26 1 44 1 13 1-91 1 50 1-58 1 29 1 19 1-6 1-4 1 19 1-36 1-18 1 8 1 114 1 13 1-19 1-56 1-47 1 31 1 52 1-35 1 48 1 39 1-93 1-1 1-8 1 30 1-27 1-22 1 10 1-43 1 54 1 24 1-19 1 2 1 11 1-1 1-14 1 2 1 56 1 7 1 10 1-56 1 11 1 33 1-57 1 55 1 17 1-24 1-73 1-52 1 63 1 12 1 10 1-9 1 9 1-43 1-31 1 118 1-16 1-24 1-12 1-18 1-24 1-7 1 120 1-26 1 20 1-37 1 19 1 24 1-72 1 19 1-6 1-40 1 4 1 45 1-4 1-62 1 49 1 57 1-23 1-35 1 85 1-91 1 30 1-29 1 65 1-58 1 32 1-13 1 8 1-29 1 21 1 7 1-19 1 4 1-25 1-20 1-35 1 26 1 55 1 44 1 52 1-84 1 1 1 14 1-34 1 22 1-77 1 15 1-5 1-5 1 4 1 38 1-4 1-53 1 73 1-45 1 53 1-17 1-49 1 20 1 27 1-64 1 66 1-17 1 23 1-15 1-36 1 64 1 27 1-78 1 6 1 24 1-20 1 57 1-69 1-44 1 20 1 24 1 48 1 40 1 14 1-18 1-34 1-41 1 14 1 16 1 32 1-51 1-6 1-1 1 87 1-45 1-95 1 56 1-6 1 60 1 3 1 5 1-22 1-58 1 88 1-19 1 22 1-89 1 21 1 26 1-75 1-10 1 66 1-11 1-43 1-14 1 52 1 11 1 32 1-99 1 87 1 24 1-26 1 19 1-60 1-6 1 51 1-3 1-28 1 15 1 41 1 3 1 54 1-12 1-23 1 21 1-44 1-28 1-12 1 14 1-57 1 19 1-50 1 57 1-29 1 65 1-24 1 88 1-97 1 51 1 5 1-85 1 29 1 56 1-88 1 81 1-99 1 69 1-28 1-27 1 18 1 35 1 30 1-89 1-42 1 55 1 3 1-11 1 23 1 32 1-51 1 17 1-1 1-27 1 38 1 45 1 6 1-12 1-58 1 71 1-29 1-42 1 7 1 61 1 4 1 0 1-19 1-7 1-13 1-32 1 81 1 21 1 73 1-60 1-19 1-55 1-54 1 31 1-16 1 3 1 13 1 76 1-2 1-1 1 3 1 41 1-107 1-38 1 61 1-2 1 0 1-57 1 1 1 28 1 42 1-30 1 74 1-62 1-109 1 55 1 9 1 5 1 20 1-9 1 21 1 15 1 39 1 7 1-9 1-46 1-75 1 47 1 29 1-21 1 18 1 10 1 29 1-9 1-17 1 6 1-86 1 34 1-15 1-25 1 45 1-24 1 46 1 6 1 9 1 13 1-6 1-24 1 47 1-44 1 53 1 11 1-20 1-14 1 29 1 22 1 17 1-98 1 3 1 10 1 5 1-33 1-38 1-24 1 74 1 24 1-51 1-17 1 29 1-16 1 17 1-9 1 34 1-57 1 40 1 64 1-65 1-56 1 1 1 40 1 52 1-72 1-10 1 50 1 39 1-33 1-65 1-11 1 13 1 22 1 65 1-29 1 54 1-16 1 18 1-82 1 99 1-30 1 0 1-71 1 0 1 40 1 14 1 19 1-71 1-27 1 18 1 64 1-24 1 37 1 0 1-40 1 25 1-24 1-11 1-36 1 21 1-13 1 17 1 73 1-48 1-5 1 50 1-49 1-44 1 50 1-56 1 31 1-24 1 94 1 24 1 7 1-32 1-66 1 16 1 84 1-30 1-58 1-17 1-28 1-38 1 19 1 75 1 6 1-8 1 10 1-1 1 2 1-5 1-74 1 30 1 43 1 73 1 12 1-32 1-46 1 8 1-30 1-7 1 39 1-37 1 4 1 66 1-16 1 12 1-49 1 50 1 16 1-12 1-74 1 32 1-51 1-8 1 3 1 38 1-1 1 37 1 1 1-31 1-42 1 57 1-26 1 27 1-87 1 80 1 78 1-46 1-24 1 19 1-93 1 27 1 37 1-8 1-33 1 42 1 25 1-40 1-32 1 33 1 20 1-17 1 23 1-55 1 80 1-25 1-19 1-8 1 53 1 4 1-78 1-12 1 6 1 56 1-8 1 40 1-8 1 6 1 8 1-123 1 32 1 14 1 28 1 55 1-79 1 2 1-1 1-2 1 70 1-21 1-50 1 27 1-17 1-87 1 101 1 78 1-53 1-59 1-8 1 12 1 11 1 44 1-24 1 9 1-25 1-55 1 14 1 11 1 33 1-23 1 49 1 12 1-16 1-73 1 7 1 9 1 55 1-26 1-5 1 26 1-78 1 90 1 2 1-9 1 18 1 2 1 78 1-67 1 10 1-7 1-75 1 72 1 45 1-7 1-13 1-25 1 7 1 17 1-41 1-71 1-59 1 25 1 45 1-71 1 1 1 44 1 10 1 52 1 25 1 5 1-11 1 42 1-10 1-25 1-3 1 8 1-23 1 34 1-39 1 31 1 26 1-79 1-25 1 9 1 52 1-36 1-2 1 44 1-37 1 10 1 4 1 51 1-62 1 33 1-43 1 16 1 5 1 22 1-44 1 43 1-7 1-58 1-3 1 58 1 17 1 30 1-37 1-12 1-30 1 13 1-1 1 12 1 58 1-61 1-21 1-17 1 51 1-1 1-40 1 15 1-22 1-10 1 16 1 7 1 33 1 10 1 30 1 4 1-109 1 60 1 28 1-20 1-30 1 26 1-38 1 13 1-21 1 25 1-21 1-15 1-16 1 19 1-19 1 9 1-46 1 30 1 22 1-2 1 29 1-46 1 9 1 83 1 47 1-14 1 30 1-54 1-2 1-25 1-28 1 20 1-47 1 115 1-65 1 43 1-19 1 10 1 0 1 13 1-52 1 16 1 20 1-37 1-40 1 44 1-87 1 35 1-46 1-13 1 30 1 81 1 2 1-11 1-37 1 45 1 120 1-113 1 51 1-27 1-62 1-3 1-3 1 29 1 34 1 30 1-8 1-21 1 88 1-74 1 4 1 31 1 22 1-103 1 31 1-36 1-47 1 72 1 26 1-2 1-46 1-12 1 26 1-4 1-5 1 55 1-24 1-5 1 4 1-23 1-68 1 93 1 1 1-9 1-60 1 22 1 38 1-40 1 19 1 45 1-52 1 10 1 53 1-10 1-31 1-62 1 15 1-3 1-41 1 6 1 54 1-54 1 64 1-2 1-38 1 87 1-9 1-63 1 41 1 38 1-108 1 20 1 47 1 24 1-36 1 19 1-7 1-63 1 60 1-15 1 43 1 8 1-22 1-70 1-24 1 32 1 39 1-34 1-30 1 48 1 60 1-38 1 52 1-34 1-20 1 6 1 1 1-69 1 90 1-5 1 35 1-91 1-11 1 24 1 102 1-55 1-106 1 34 1-35 1 36 1 40 1 51 1 18 1-21 1 70 1 2 1 12 1-43 1-18 1-2 1-94 1-28 1 95 1-32 1-13 1-6 1 35 1-29 1-20 1 47 1-37 1 25 1 24 1-34 1 8 1-8 1-5 1-46 1 89 1 35 1 0 1-20 1-17 1 6 1 0 1-38 1 63 1-23 1-50 1 7 1 44 1-86 1 94 1 16 1-16 1 43 1-31 1-41 1 6 1-50 1 82 1-64 1 24 1 4 1-32 1 21 1 23 1-48 1 5 1 15 1 7 1-3 1-17 1 2 1 5 1 47 1 13 1 7 1-24 1-42 1-7 1-45 1 5 1 66 1-43 1 6 1-28 1 0 1 29 1 38 1-9 1-31 1 12 1-24 1 37 1-30 1-6 1-53 1-26 1-4 1 66 1 65 1-38 1 13 1 25 1-85 1 20 1 5 1-45 1 32 1 36 1 27 1-52 1 3 1-37 1 45 1 22 1 25 1 8 1-15 1 33 1-3 1 43 1-50 1 4 1-28 1-2 1-25 1 83 1-84 1-10 1 63 1-50 1 40 1 18 1-3 1-14 1 27 1-15 1-46 1 28 1-17 1-92 1 77 1 26 1-55 1 71 1-1 1-62 1 33 1 9 1-30 1-11 1 3 1 2 1 17 1 3 1 23 1-35 1 38 1-52 1 25 1 41 1-30 1-46 1 26 1-15 1 25 1 1 1 0 1 15 1 1 1-26 1 54 1-67 1 27 1-8 1-62 1 73 1-20 1 14 1-33 1 66 1-51 1-33 1 54 1 29 1 2 1-16 1-13 1-19 1-20 1 9 1 7 1 3 1 48 1 14 1-18 1-13 1 71 1-66 1 43 1 5 1-37 1-58 1-5 1 103 1 6 1 27 1-59 1 24 1-48 1 52 1-68 1 78 1-41 1-60 1-34 1 49 1-45 1 65 1-32 1-64 1 36 1 36 1 0 1 15 1-2 1 50 1-9 1-101 1 79 1-34 1 43 1-4 1-62 1 41 1 54 1-59 1 22 1 16 1-17 1 28 1-8 1-34 1-13 1 6 1 1 1 11 1 33 1 52 1-27 1-46 1-60 1 63 1-52 1 9 1 46 1-54 1 29 1 14 1 80 1-56 1-41 1-20 1 69 1-18 1-37 1-14 1-44 1-13 1 28 1 54 1 24 1 4 1-37 1 4 1 31 1-4 1-3 1-11 1 47 1-86 1 70 1-39 1 53 1-76 1-18 1 13 1-32 1 116 1-20 1-13 1-43 1-15 1-30 1 27 1 24 1 78 1 28 1-99 1 59 1 2 1-62 1 16 1-4 1 65 1-71 1 12 1-63 1-46 1 47 1 46 1 18 1 6 1 29 1-8 1-19 1-38 1-21 1 37 1-15 1 9 1 3 1 45 1-53 1-25 1-12 1-46 1 29 1-3 1-12 1 60 1-15 1-2 1 59 1-5 1 50 1 25 1-3 1-59 1-2 1 1 1-38 1-23 1 26 1-15 1-21 1 47 1-45 1-21 1 136 1-10 1-58 1 58 1-71 1-32 1-56 1 86 1-18 1-66 1 101 1 35 1 58 1-70 1-16 1 38 1-29 1-48 1 2 1 43 1 108 1-66 1 44 1 20 1-99 1-5 1-11 1 51 1-8 1 5 1-20 1-31 1 27 1-18 1-60 1-18 1-3 1-10 1 36 1 43 1 11 1-4 1-47 1-5 1 15 1-8 1-29 1 83 1 33 1-2 1-32 1 28 1 2 1-50 1 51 1-42 1-63 1 39 1 53 1-9 1-23 1-38 1 50 1 39 1-22 1-6 1 11 1-35 1-21 1-18 1 51 1 30 1-39 1-16 1-10 1-32 1 10 1 40 1-15 1 29 1-35 1 10 1 78 1-65 1-35 1 1 1 33 1 64 1-36 1-30 1-11 1 51 1-60 1 26 1 18 1 37 1-27 1-31 1 21 1-20 1-22 1 4 1 34 1 69 1-27 1-43 1 27 1-94 1 19 1 31 1 71 1-18 1-55 1-14 1 63 1 9 1 16 1-85 1 6 1 3 1 69 1-29 1-8 1-26 1-19 1 27 1-49 1 58 1 77 1-27 1-51 1 19 1 46 1-82 1-20 1 18 1 5 1-18 1 33 1-15 1-39 1 25 1-5 1-94 1 52 1-21 1 52 1 7 1-28 1 29 1 15 1-23 1 18 1-24 1-44 1 77 1-16 1 16 1-65 1 70 1-3 1 8 1 44 1-49 1 4 1 16 1 4 1-27 1 7 1-69 1-31 1 46 1 14 1-24 1 24 1-8 1 21 1 37 1-23 1 23 1 53 1-119 1 46 1-17 1 19 1-57 1 15 1 0 1 31 1 70 1 19 1 3 1-72 1 17 1-48 1-58 1 10 1 6 1 29 1 31 1-14 1 50 1 44 1-54 1-21 1 23 1-28 1 16 1-25 1-17 1 12 1 23 1-10 1-28 1 47 1 44 1 39 1-69 1 8 1-23 1 15 1 18 1-61 1 26 1 41 1 23 1-13 1-52 1-39 1 20 1-48 1 1 1 48 1 67 1-32 1-75 1-10 1 22 1-27 1 58 1-42 1-22 1 19 1 28 1-28 1 61 1 18 1-13 1-46 1 17 1 10 1-28 1-21 1 47 1 5 1 14 1 20 1 11 1-33 1-6 1 9 1 56 1-72 1-49 1 71 1-7 1-69 1 37 1 39 1-73 1-13 1 30 1 38 1-17 1-17 1 16 1 11 1-22 1 9 1 11 1 0 1-2 1 27 1-20 1 36 1-134 1 45 1-8 1 38 1 34 1-35 1 9 1-33 1-14 1 68 1-39 1-10 1 16 1 85 1-54 1-14 1-25 1 64 1 11 1 20 1-46 1-6 1-10 1-1 1 7 1-60 1 35 1-13 1-5 1-44 1 53 1 61 1-33 1-5 1-27 1 46 1 19 1-14 1 51 1-24 1 5 1-59 1 14 1-15 1-38 1 6 1-19 1-39 1 125 1-4 1 30 1-36 1 39 1-35 1-12 1 34 1-16 1 12 1-8 1-21 1 60 1-34 1-14 1 46 1-4 1-33 1 29 1-44 1 16 1 50 1-58 1 13 1 31 1-38 1-81 1 35 1 9 1-21 1-56 1 63 1 35 1-51 1 30 1 18 1 63 1-20 1-76 1 40 1 28 1-65 1 76 1-32 1 7 1 2 1-8 1 2 1-30 1 62 1-76 1-10 1 21 1-19 1 13 1 24 1-49 1 25 1 49 1-73 1-41 1 112 1-21 1 27 1-31 1-85 1 115 1-89 1 48 1 5 1-46 1 64 1-89 1 54 1 18 1 10 1 74 1-63 1 38 1-18 1 3 1-90 1 76 1-49 1-9 1 10 1 64 1-49 1 9 1 20 1 13 1-22 1-2 1-11 1 29 1-80 1 82 1-4 1 19 1 20 1-61 1-7 1 38 1-18 1 10 1-11 1-2 1-25 1-13 1-32 1 32 1-36 1-8 1 117 1-11 1-57 1 10 1-65 1-17 1 68 1 67 1-31 1 8 1-4 1 29 1 26 1-75 1-21 1 71 1 29 1-100 1-13 1 11 1-10 1 3 1 29 1 17 1 40 1-19 1-59 1-70 1 59 1 50 1-35 1 27 1 17 1-23 1-14 1 43 1 3 1-20 1-27 1-11 1-35 1 35 1-34 1 101 1 30 1-23 1-66 1 6 1 11 1-86 1 27 1 39 1-60 1 21 1-24 1 84 1-26 1-1 1 45 1-65 1-22 1 22 1-11 1 5 1 24 1 10 1-7 1 17 1-9 1-41 1 46 1 34 1 29 1-43 1 30 1-26 1-16 1 7 1 14 1-94 1 16 1 52 1 10 1 23 1-47 1 36 1-63 1 18 1 28 1-25 1 35 1 63 1-59 1 28 1 15 1 0 1-20 1-28 1-126 1 37 1 58 1-35 1 24 1 40 1 40 1-16 1 40 1 9 1-12 1-46 1 7 1 3 1-40 1 44 1-47 1 85 1-19 1 14 1-34 1 16 1 0 1-36 1-58 1 29 1-49 1-7 1 99 1 17 1-49 1 35 1-56 1 56 1 40 1-7 1-60 1-34 1 25 1-19 1-37 1 59 1-41 1 63 1-29 1 27 1 12 1-54 1-33 1-6 1 25 1-38 1 73 1-3 1 36 1 24 1-68 1 36 1-50 1-5 1 55 1-45 1-17 1-18 1 77 1 42 1-11 1 28 1 32 1-80 1-49 1 52 1-14 1 22 1-15 1-27 1-23 1 17 1-34 1 38 1-61 1 82 1-10 1 18 1 49 1-77 1 3 1-12 1 35 1 59 1-14 1-29 1 10 1-46 1-25 1-15 1 43 1 2 1-33 1-19 1 35 1 9 1-42 1-13 1 23 1 8 1 17 1 10 1-49 1-32 1 33 1-4 1 28 1-32 1 53 1 14 1-77 1-5 1 67 1-51 1-32 1-16 1-21 1 13 1 31 1 90 1-19 1-12 1-31 1-17 1 37 1 79 1-13 1-65 1 44 1-12 1-62 1 32 1 28 1 41 1-27 1 37 1-52 1-28 1-5 1 35 1-5 1 70 1-44 1 2 1-74 1-17 1 34 1 3 1 63 1-32 1-35 1 26 1-19 1 32 1-4 1 13 1 9 1-39 1-31 1 18 1-16 1 37 1 85 1-59 1-29 1-11 1 35 1 40 1-92 1 35 1-26 1-81 1 62 1-57 1 26 1-5 1 55 1-13 1 47 1-23 1 1 1 6 1-10 1-24 1 84 1-31 1-17 1-26 1 70 1-36 1 1 1 9 1-18 1 33 1-32 1 14 1-1 1 8 1-45 1-33 1 2 1 68 1-19 1 25 1-61 1-17 1 0 1-18 1 61 1 2 1 63 1-36 1 34 1-54 1 41 1 22 1-84 1 39 1-20 1 37 1-70 1-45 1-39 1-5 1 28 1 54 1 58 1-35 1 11 1 31 1 37 1-48 1-11 1-75 1 54 1 19 1 39 1-17 1 33 1-11 1-2 1 18 1-30 1-90 1 38 1-47 1 52 1 48 1-2 1 1 1 26 1-69 1 23 1-37 1 2 1 77 1-53 1-24 1 33 1 0 1-37 1-4 1 98 1-53 1 5 1 59 1-64 1 42 1-8 1-18 1-16 1-41 1 5 1-2 1-6 1-3 1 43 1 18 1 10 1-33 1-58 1 64 1 28 1-41 1 26 1-16 1-87 1 74 1 15 1-24 1 22 1 54 1 30 1-100 1-27 1-11 1 25 1-16 1 96 1-29 1 27 1 21 1-33 1-54 1 66 1-104 1-29 1 26 1 67 1-83 1 100 1 3 1-27 1-5 1-15 1-43 1 38 1-40 1 56 1-39 1 44 1 5 1-2 1-48 1 36 1 16 1 19 1 16 1-23 1-45 1-6 1 77 1-23 1 58 1-39 1-26 1-33 1-40 1 11 1-23 1 31 1 79 1 0 1 11 1-79 1 65 1-11 1-65 1 3 1 44 1-12 1 28 1 3 1-75 1 81 1 9 1-62 1 79 1-21 1-57 1-28 1-3 1-12 1 34 1 56 1-122 1 9 1 91 1-5 1-24 1 44 1-17 1 19 1 48 1-79 1 28 1 101 1-71 1-44 1 10 1 23 1-16 1-40 1-16 1 18 1-2 1 19 1-8 1-49 1 99 1-51 1-29 1-29 1 47 1 12 1-27 1 26 1 2 1-12 1-31 1-15 1 23 1-50 1 23 1 62 1-76 1 95 1 10 1-7 1 22 1-76 1 15 1-2 1-47 1 26 1 56 1 17 1 54 1-91 1 34 1 90 1-77 1-22 1 0 1-18 1 49 1-19 1 20 1 3 1-2 1-54 1 50 1-5 1-29 1 15 1-86 1 38 1 23 1 9 1-58 1 4 1-43 1 33 1 29 1 40 1-50 1 4 1 35 1-82 1 103 1 42 1-29 1-22 1-13 1 31 1-47 1 15 1 65 1 63 1-81 1-3 1-6 1 4 1-51 1 30 1 4 1-29 1 27 1-71 1 26 1 13 1-28 1 43 1 34 1 1 1-3 1-49 1 70 1-1 1-12 1-12 1-5 1-17 1-32 1 40 1-7 1-76 1 23 1 13 1-32 1 209 1-150 1-3 1-5 1 27 1 17 1-52 1-8 1-34 1 56 1-47 1 32 1 24 1 24 1-9 1 42 1-93 1 54 1-26 1-4 1 47 1 71 1-35 1-29 1-100 1 47 1-5 1-37 1 7 1-14 1 39 1 19 1-35 1 1 1 35 1-10 1 52 1-10 1-49 1 44 1-36 1-46 1-6 1 70 1-32 1-35 1 19 1 44 1-46 1 49 1-2 1 31 1 3 1-13 1-14 1 18 1-65 1 26 1 51 1-52 1-33 1 26 1-19 1-6 1-17 1 25 1-40 1 26 1-12 1 109 1-18 1 28 1-41 1 39 1-17 1 9 1-25 1-34 1 11 1-55 1 52 1-27 1 40 1-26 1-84 1 87 1 25 1-8 1 53 1-6 1-17 1 44 1 20 1-32 1-82 1 37 1-14 1-28 1 0 1 8 1 71 1 25 1-61 1 4 1-52 1 21 1-3 1 58 1 2 1-34 1 38 1-48 1 32 1-47 1-10 1-59 1 18 1 37 1 27 1-46 1 20 1-45 1 61 1 11 1-35 1 17 1-38 1 68 1-48 1 32 1 0 1-34 1 79 1-69 1-15 1-7 1 12 1 4 1 24 1-13 1-108 1 77 1-66 1 17 1-8 1 41 1-43 1 152 1-67 1 55 1-48 1 35 1-29 1 11 1 86 1-5 1-64 1-17 1-29 1 0 1 88 1-38 1-29 1 3 1-16 1 9 1-5 1-9 1-29 1 62 1-14 1-7 1-43 1 13 1-9 1 8 1 12 1 41 1-66 1 14 1-65 1 93 1 14 1-42 1 71 1-39 1-44 1 7 1 12 1-39 1 59 1 36 1-4 1 23 1-3 1-26 1-43 1-26 1 85 1-9 1-25 1-34 1-8 1-15 1 26 1 13 1-32 1 63 1 0 1-5 1 38 1-39 1 21 1 33 1-30 1 31 1-51 1-63 1 6 1 8 1-28 1 80 1 35 1-2 1-31 1-3 1-30 1 40 1-63 1 47 1-18 1-46 1 28 1 27 1-44 1-27 1 27 1 0 1 32 1 18 1-48 1 14 1-62 1 101 1-24 1 11 1 13 1 50 1-22 1-3 1-20 1-27 1 28 1 3 1-25 1-14 1 115 1-51 1 14 1-1 1 5 1-59 1-26 1 42 1-40 1 24 1 67 1-90 1 10 1 79 1 2 1-120 1 62 1-27 1 35 1-2 1 58 1 10 1-24 1 16 1-15 1-35 1 31 1-37 1 37 1 15 1-40 1-43 1 8 1 20 1-35 1 12 1-11 1 66 1-17 1-45 1-2 1 14 1 18 1 21 1-17 1-47 1-42 1-6 1-12 1 4 1-16 1 32 1 8 1 20 1 23 1-11 1 58 1 8 1-3 1-79 1-28 1 21 1 66 1-16 1 18 1-57 1 13 1-24 1 23 1 56 1 10 1 23 1-21 1-18 1 70 1-80 1-19 1 28 1-33 1 30 1-15 1-10 1-13 1-22 1 3 1 7 1-27 1 58 1 17 1 16 1 28 1-28 1 25 1-95 1-2 1 15 1-15 1-1 1 50 1-27 1-4 1 14 1 98 1-66 1-44 1-8 1 70 1 17 1-64 1 7 1-25 1 25 1-45 1 45 1 1 1 5 1 54 1-60 1 21 1-27 1-31 1 37 1 8 1-11 1 38 1-91 1 32 1 39 1-85 1 32 1-4 1-37 1-23 1 60 1-41 1 47 1 9 1-36 1 13 1 13 1 27 1 19 1 29 1-50 1-50 1 48 1-12 1 50 1-30 1 37 1-18 1-1 1-14 1-36 1 41 1 14 1-21 1-8 1 13 1-21 1-9 1 21 1 77 1 8 1-7 1-10 1-10 1-30 1-49 1 33 1-19 1 19 1-44 1 17 1 71 1 7 1-74 1 26 1 59 1-64 1 53 1-35 1-30 1-2 1-29 1 31 1-44 1 70 1 10 1-78 1 42 1-25 1-8 1 7 1 43 1-23 1 38 1-8 1-18 1-99 1 90 1-8 1 19 1-6 1-30 1-77 1 60 1 73 1 15 1 12 1 33 1-55 1 33 1-26 1 6 1-36 1 39 1-15 1-6 1-13 1 2 1 31 1-39 1-31 1-6 1 4 1-2 1 3 1 3 1-15 1 86 1-86 1 29 1-78 1 39 1 38 1 7 1 24 1-14 1 29 1-38 1 34 1 13 1-51 1-8 1-1 1 64 1-86 1-17 1 27 1-6 1 62 1 23 1-43 1 8 1-86 1-12 1 39 1 59 1 4 1-34 1 44 1-12 1 59 1 46 1-6 1 12 1-137 1 3 1-20 1-7 1 39 1-67 1 37 1 48 1-46 1-81 1 71 1 26 1 35 1-52 1-3 1 10 1-11 1-19 1-13 1 36 1-9 1 55 1-62 1 9 1 26 1-28 1 2 1-102 1 102 1 2 1-3 1-5 1 2 1-15 1-42 1 68 1-8 1-5 1 57 1 54 1-45 1 40 1-82 1 26 1-26 1 32 1-40 1 17 1 85 1-18 1-58 1-16 1 34 1 100 1-100 1-53 1 34 1 5 1 23 1 38 1-68 1 16 1-36 1 32 1-8 1 18 1 2 1-93 1 75 1 26 1-3 1 30 1 24 1-98 1 22 1 8 1-12 1-19 1 31 1-31 1 37 1 27 1-24 1-16 1 9 1-48 1 45 1-31 1-1 1 39 1-116 1 44 1-24 1 135 1-8 1-1 1-8 1-60 1-41 1-29 1 40 1 1 1 88 1-30 1 60 1-38 1-29 1-1 1 5 1 49 1 19 1-31 1-78 1 41 1-38 1-2 1 3 1-38 1 40 1-1 1-53 1 44 1 35 1 13 1 28 1-68 1 7 1-2 1-10 1-15 1 94 1-27 1 21 1-31 1 19 1-10 1 3 1-47 1 16 1-64 1 112 1-120 1 51 1-7 1-34 1 56 1-7 1 35 1-67 1-21 1-5 1 27 1-15 1 17 1-21 1 42 1 40 1 5 1-16 1-28 1-6 1 42 1 23 1-33 1-33 1 22 1-12 1 6 1 10 1-21 1 106 1 17 1-21 1-28 1-97 1 40 1-60 1 70 1-75 1 34 1 68 1-76 1 11 1 12 1 61 1-51 1 23 1 56 1-45 1 7 1 35 1-9 1-17 1-54 1 35 1-42 1-43 1 0 1 19 1 31 1 43 1 20 1-10 1 18 1-47 1 12 1 22 1-90 1 9 1 15 1-16 1 15 1 68 1 3 1 31 1-35 1-32 1-27 1-41 1 70 1-44 1-18 1 44 1 21 1-35 1 26 1-25 1-8 1 43 1-46 1-2 1 50 1 17 1 12 1-35 1-33 1 30 1 24 1-16 1 40 1-60 1-9 1-43 1-4 1 58 1 19 1 52 1-33 1-80 1 10 1 71 1-31 1 35 1-62 1 23 1 4 1-10 1 81 1-107 1-19 1-42 1 18 1 13 1 92 1 3 1-39 1-15 1 6 1 5 1-15 1-24 1-22 1 86 1-20 1-1 1 52 1-19 1-56 1 20 1 0 1-1 1 90 1-26 1-42 1 35 1-97 1-1 1 18 1 7 1-10 1 12 1-46 1 61 1 0 1-37 1 61 1-10 1 13 1-15 1 8 1-10 1-22 1 6 1-1 1 53 1 9 1 42 1-40 1-13 1-15 1-1 1-17 1-69 1 44 1-15 1 49 1-38 1 13 1 30 1-29 1-17 1-59 1 26 1-10 1 91 1-32 1 119 1-51 1-67 1 63 1 35 1-57 1-36 1-9 1 149 1-117 1-75 1 28 1 1 1 28 1-30 1 47 1-25 1 28 1-16 1 41 1-51 1-2 1 69 1-4 1 33 1-65 1-17 1 8 1 17 1-78 1-19 1 43 1 0 1-12 1-13 1-30 1 86 1 48 1-42 1-73 1 42 1 8 1-9 1 4 1-42 1-26 1 42 1 52 1-15 1-5 1-37 1 48 1-11 1-69 1 74 1 1 1-28 1-28 1-16 1-3 1 9 1-12 1 148 1-101 1 33 1 50 1-16 1-4 1 22 1-37 1 19 1-76 1-3 1 59 1-21 1-34 1-15 1 24 1-38 1 2 1 32 1-48 1-20 1 106 1 24 1-49 1-32 1-43 1 42 1-58 1 91 1 40 1 6 1-33 1 95 1-67 1-10 1-85 1 36 1-31 1 37 1 70 1-46 1 26 1-12 1-6 1-21 1-23 1 80 1-8 1-41 1-3 1 75 1-38 1-67 1 37 1 9 1-4 1 46 1 24 1-85 1-21 1 42 1-59 1 47 1 93 1-29 1 21 1 39 1-100 1-113 1 38 1 22 1 1 1-43 1 3 1 76 1-55 1 28 1 3 1 14 1-34 1 22 1-34 1 42 1-57 1-9 1-2 1 24 1 25 1-15 1 70 1-34 1-4 1-5 1-37 1 54 1-31 1 28 1-6 1 5 1-18 1-74 1 61 1-41 1 4 1 79 1-12 1 25 1-57 1-22 1 81 1-69 1-9 1 2 1 64 1-76 1 39 1-27 1 5 1-51 1 93 1 15 1-25 1 28 1-50 1 22 1 29 1-56 1 15 1 53 1 5 1-22 1 58 1-40 1-6 1-62 1 30 1-17 1 10 1-35 1-44 1 53 1 48 1-1 1-21 1 34 1-1 1-3 1-55 1 51 1 24 1-33 1-23 1 7 1 1 1-79 1 71 1 10 1 7 1-27 1-10 1 23 1 28 1 42 1-16 1-31 1 17 1-9 1 6 1-25 1 46 1 2 1-44 1-29 1-50 1 113 1-21 1-66 1-46 1 94 1 24 1-25 1-51 1 41 1 21 1 51 1-35 1 28 1-39 1 19 1-39 1 41 1-16 1-82 1 9 1 38 1-56 1 45 1-10 1-12 1-7 1 27 1-13 1 9 1 24 1 25 1-73 1 40 1-3 1 48 1-88"/>
</g>
<rect class="ax" x="103.9" y="103.9" width="290.9" height="86.85"/>
<path class="ax" d="M114.62,190.75H384.03M114.62,190.75v12.67M168.5,190.75v12.67M222.38,190.75v12.67M276.26,190.75v12.67M330.14,190.75v12.67M384.03,190.75v12.67M103.9,119.3V190.4M103.9,119.3h-12.67M103.9,137.1h-12.67M103.9,154.9h-12.67M103.9,172.7h-12.67M103.9,190.4h-12.67"/>
<g transform="translate(114.62,237.1)"><text>0</text></g>
<g transform="translate(168.5,237.1)"><text><tspan class="h">1</tspan>000</text><path d="M763 0H583V1147Q518 1085 412.5 1023T223 930V1104Q374 1175 487 1276T647 1472H763Z" transform="translate(-23.49,0) scale(0.010313,-0.010313)"/></g>
<g transform="translate(276.26,237.1)"><text>3000</text></g>
<g transform="translate(384.03,237.1)"><text>5000</text></g>
<text x="249.35" y="288">Iterations 523</text>
<g transform="translate(73.1,137.9) rotate(-90)"><text>3.0</text></g>
<g transform="translate(73.1,191.2) rotate(-90)"><text>2.4</text></g>
<text transform="translate(22.8,148.6) rotate(-90)">alpha</text>
</g>
<g transform="translate(448,320)">
<text class="m" x="249.35" y="62.2">Trace of 3|A</text>
<g class="tr" transform="translate(114.67,0)">
<path class="k" transform="scale(0.081647,0.2)" d="M0,627l1-14 1 36 1-28 1 58 1-14 1-28 1 52 1-51 1 13 1-19 1 51 1-30 1 27 1-104 1 172 1-40 1 39 1-105 1-1 1-5 1 22 1-15 1 70 1-57 1 51 1 5 1-62 1 7 1-4 1 54 1-27 1-7 1 18 1-35 1 35 1-7 1 76 1-24 1-59 1-34 1 41 1-12 1-18 1 0 1 28 1 4 1-19 1 27 1-42 1 33 1 64 1-39 1 10 1-23 1 13 1-44 1-21 1 79 1-7 1-33 1 92 1-20 1-27 1-17 1 46 1-80 1 42 1-31 1 42 1-67 1 11 1 43 1 18 1 21 1-34 1 12 1-11 1-40 1 81 1-43 1 68 1-56 1-6 1 8 1 45 1 7 1-2 1-2 1-53 1 66 1-53 1-91 1 144 1-2 1-105 1 48 1 6 1-37 1-8 1-8 1-17 1 48 1 79 1-50 1-8 1 6 1-24 1 31 1-16 1 11 1-7 1 9 1-10 1-58 1-1 1 106 1-95 1-40 1 80 1 42 1-18 1-73 1 81 1-58 1 36 1 4 1-74 1 93 1-113 1 81 1 5 1 49 1-9 1-29 1 56 1-27 1-1 1-2 1-44 1-85 1 134 1 35 1-189 1 98 1 39 1-6 1-54 1 65 1 5 1 18 1-47 1 49 1-44 1-19 1 6 1 55 1-77 1 45 1 30 1 8 1-54 1 0 1 1 1-30 1 15 1 50 1-42 1-19 1 64 1-6 1-85 1 85 1-13 1 10 1-1 1-42 1 22 1-12 1-50 1-34 1-31 1 219 1-111 1 48 1 14 1-46 1-18 1 7 1 13 1 6 1-135 1 99 1-31 1-12 1 34 1-28 1 10 1 73 1-92 1-14 1 20 1 39 1 28 1-7 1-79 1 42 1 6 1-48 1 33 1 5 1 3 1 6 1-25 1-11 1 41 1 14 1 21 1 4 1-26 1 15 1-15 1 32 1-65 1 11 1-6 1-39 1 27 1-93 1 100 1 12 1-20 1 21 1 32 1-67 1 14 1 13 1-30 1 119 1-36 1-1 1-14 1-9 1-36 1 2 1 40 1-24 1 80 1-84 1 22 1-16 1-4 1-54 1 24 1 29 1-16 1-22 1 37 1-4 1 17 1 35 1-43 1 9 1 102 1 9 1-104 1-52 1 18 1-13 1 46 1 42 1-69 1 49 1-57 1 68 1-64 1 18 1-55 1 31 1 92 1-41 1-3 1-29 1-65 1 34 1 115 1-116 1 5 1 101 1-90 1 41 1-9 1 43 1-15 1 7 1-44 1 27 1-28 1 82 1-106 1 65 1-6 1-66 1 40 1 37 1 14 1-63 1 51 1-19 1-3 1 44 1-8 1-62 1 5 1-21 1 74 1-35 1 42 1 23 1-34 1-7 1 43 1-38 1-14 1-24 1 40 1-43 1 43 1 11 1-75 1 45 1 17 1-81 1 58 1 6 1 31 1-35 1 11 1-92 1 116 1-49 1 38 1 4 1-28 1-2 1 44 1-21 1-124 1 66 1-43 1 70 1-6 1 2 1-29 1 73 1-25 1-29 1 42 1 89 1-108 1-8 1 5 1-2 1-3 1-49 1-37 1 35 1-25 1 78 1 10 1-35 1-96 1-18 1 152 1-52 1 27 1-6 1-24 1 59 1 1 1 47 1 2 1-25 1-3 1-14 1-54 1 21 1-12 1 38 1-28 1 17 1 26 1-17 1-41 1-46 1 49 1 23 1-26 1 36 1-46 1-12 1 44 1-9 1 43 1-37 1 1 1-19 1 67 1-46 1 37 1-43 1-25 1-102 1 174 1 49 1-95 1 48 1-12 1-29 1 75 1-48 1-5 1-32 1-9 1 20 1-32 1 26 1-53 1 48 1-12 1 36 1-74 1 24 1 55 1 27 1-45 1 23 1 26 1-86 1-3 1 61 1-66 1 55 1-41 1 32 1 26 1 45 1-22 1-50 1-17 1 52 1-55 1-9 1 21 1 17 1-93 1 66 1-58 1 49 1-88 1 181 1-68 1-14 1 45 1-8 1 38 1 38 1-165 1 101 1-24 1-12 1 42 1 31 1-94 1 5 1-12 1 39 1-38 1 20 1 51 1-39 1 3 1-27 1-66 1 12 1 110 1-30 1-15 1-18 1 9 1-38 1 61 1-34 1 20 1-53 1-9 1 70 1-34 1 30 1-36 1 1 1 16 1-12 1 22 1 52 1-71 1-18 1 30 1 52 1-39 1-10 1 51 1-12 1-22 1-28 1 64 1-6 1 24 1-35 1-44 1 46 1-74 1 54 1-4 1 46 1-6 1-23 1-48 1 36 1 21 1-19 1-13 1-38 1-17 1-3 1-57 1 42 1 53 1 44 1-39 1 21 1-58 1 36 1 56 1-33 1-36 1-7 1 35 1 19 1-49 1 31 1 48 1-45 1 35 1-35 1 134 1-150 1 27 1-9 1 69 1 16 1-14 1-52 1-28 1 34 1-201 1 208 1 8 1 24 1-74 1 87 1-99 1 103 1-77 1-25 1 2 1-23 1 69 1-25 1-17 1-22 1 43 1-61 1 71 1-27 1-32 1-5 1-21 1 41 1-16 1-10 1 34 1-27 1 60 1-18 1 48 1-7 1-61 1-17 1 19 1 38 1-75 1 31 1 38 1-23 1 46 1-37 1-43 1 17 1-80 1 154 1-56 1-33 1 17 1 7 1-54 1-14 1 109 1 16 1-1 1-70 1 35 1 9 1 63 1-56 1-33 1 33 1 2 1-49 1-30 1-22 1 71 1 10 1 25 1-41 1 1 1 13 1 71 1-71 1 30 1 30 1-44 1 4 1-3 1-121 1 89 1 8 1 29 1-35 1 6 1-18 1 56 1-17 1-34 1 83 1-41 1-26 1-15 1-45 1 40 1 14 1 45 1-36 1 10 1-22 1 54 1-17 1 4 1-23 1 75 1-54 1-45 1-37 1 39 1 24 1-13 1-27 1-10 1-21 1 1 1 16 1 36 1-24 1-26 1-12 1 33 1-8 1-10 1-7 1-5 1 79 1-69 1-29 1 75 1-20 1-16 1-1 1 64 1 43 1-45 1-59 1 18 1 38 1-56 1-65 1 0 1 66 1 56 1-47 1-3 1 86 1-54 1 33 1 26 1-42 1-36 1-3 1-32 1 26 1 67 1-18 1-70 1 75 1 52 1-2 1-48 1-5 1-21 1-12 1 5 1-31 1 7 1 123 1-75 1-17 1 60 1-128 1 124 1-15 1 3 1-50 1 24 1-10 1-23 1 26 1 28 1 48 1-29 1-48 1-17 1 33 1 15 1 9 1-3 1-13 1-35 1-20 1 32 1-6 1 25 1-30 1 28 1-50 1 61 1-16 1-34 1 23 1 39 1-32 1 20 1-44 1-20 1 5 1-18 1 54 1 0 1 9 1 24 1-25 1-52 1 56 1-32 1 21 1 61 1 108 1-210 1 56 1-61 1 58 1-70 1 32 1-22 1 61 1-93 1 84 1 81 1 43 1-89 1 66 1-131 1 10 1 29 1 117 1-100 1 50 1-85 1 27 1-5 1-47 1 164 1-79 1 13 1-53 1-51 1 14 1 42 1 20 1 1 1-44 1-43 1 46 1-14 1 64 1-56 1 73 1-57 1-13 1 5 1-16 1-3 1-7 1-69 1 10 1 91 1-10 1 19 1-42 1 48 1-29 1-17 1 75 1-27 1-42 1 35 1-20 1-23 1 28 1-112 1 122 1 4 1-18 1-48 1 84 1-32 1-29 1 93 1-29 1-46 1-6 1 15 1 33 1-4 1-57 1 48 1-37 1-48 1-25 1 78 1 20 1 34 1-58 1-20 1 3 1 27 1 60 1-34 1 2 1-7 1-5 1 65 1-81 1-9 1-16 1-14 1 29 1 24 1 25 1-41 1 7 1 67 1-60 1-85 1 1 1 67 1-18 1-3 1-7 1 10 1 15 1 41 1-17 1-10 1 97 1-92 1-15 1 27 1-1 1-72 1 44 1 62 1-43 1-142 1 131 1-22 1 142 1-131 1 16 1 66 1-70 1 60 1-14 1-29 1-5 1-16 1 45 1-38 1 20 1 27 1-27 1 14 1 0 1 6 1 14 1-24 1-61 1 34 1-67 1 18 1 68 1-2 1 5 1-35 1-5 1 82 1-60 1 16 1 153 1-225 1 33 1 39 1-5 1-24 1-4 1-37 1 43 1 37 1 40 1-39 1-22 1 63 1 24 1-108 1-37 1 45 1-5 1 24 1 15 1-89 1 50 1 1 1 30 1 16 1 25 1-7 1-81 1 18 1 57 1-60 1 88 1-84 1 28 1-13 1-15 1-33 1 2 1 32 1-30 1-9 1 63 1-90 1 66 1-19 1 25 1-75 1 20 1-13 1-13 1 72 1-38 1-3 1 19 1 10 1-6 1-28 1-24 1 50 1-8 1 1 1 6 1-22 1 1 1-52 1 66 1 25 1-1 1-57 1-80 1 102 1-15 1 18 1 26 1-10 1 4 1 26 1-30 1-66 1 22 1 20 1-41 1 22 1 31 1 13 1-15 1-23 1 9 1 5 1 10 1-79 1 71 1 39 1-99 1 88 1 22 1-45 1-1 1 63 1-16 1-43 1-142 1 88 1 10 1 56 1-6 1-7 1 25 1-130 1 109 1 4 1 10 1-12 1 12 1 68 1-7 1-60 1-38 1 48 1 16 1-41 1 55 1-47 1 42 1 25 1-23 1-39 1 32 1-71 1 60 1-30 1 44 1 3 1 40 1-40 1 7 1-51 1 96 1-60 1 11 1 31 1-73 1 18 1-32 1 22 1 17 1 4 1-43 1 65 1-79 1 74 1-22 1 17 1-11 1-3 1-12 1-15 1 19 1 46 1-20 1-11 1 27 1-27 1 38 1-16 1-36 1 8 1 38 1-40 1 4 1 10 1 2 1-15 1-69 1 14 1 100 1-127 1 80 1-37 1 27 1 22 1 29 1-11 1-50 1-5 1 9 1 63 1 25 1-76 1-46 1 1 1-4 1 4 1 6 1 20 1 8 1 8 1-40 1 69 1-30 1 72 1-50 1-26 1 10 1-49 1-9 1 51 1-13 1-36 1 51 1-57 1-5 1 71 1-44 1 31 1-14 1 36 1 101 1-98 1-43 1 27 1-21 1 31 1 20 1-36 1 5 1 1 1-55 1 53 1-16 1 12 1 24 1-42 1-37 1 27 1-73 1 113 1-86 1-27 1 54 1 23 1-46 1 43 1-56 1 3 1 27 1 18 1-80 1 83 1-62 1-34 1 90 1-15 1 47 1-47 1 3 1 27 1 50 1-53 1 55 1-20 1 48 1-162 1 101 1 0 1-13 1-12 1 26 1 4 1-2 1 15 1-35 1-19 1 53 1-24 1 23 1 20 1 42 1-67 1 52 1-27 1-31 1-10 1-25 1-14 1 50 1 51 1-36 1-31 1 3 1-13 1-2 1 8 1 0 1 3 1-21 1-11 1 22 1 41 1-22 1-49 1 47 1-11 1 8 1 19 1 4 1-35 1 32 1-24 1 27 1-26 1 10 1-3 1-32 1 6 1-16 1 88 1-27 1 65 1-59 1-6 1 14 1-7 1-55 1 56 1-51 1-31 1-29 1 56 1 40 1 53 1-57 1 43 1-76 1 23 1 24 1-18 1 47 1-56 1 59 1 33 1-79 1 86 1-15 1-32 1 4 1-7 1-62 1 26 1 21 1-58 1 12 1 39 1-14 1 99 1-75 1-61 1 2 1 51 1-45 1 19 1-39 1 19 1-10 1 29 1-42 1-41 1 81 1-1 1-18 1 0 1 51 1-50 1 15 1 15 1 53 1-12 1-26 1-19 1-15 1 33 1-21 1-1 1-8 1-38 1 0 1 12 1 6 1-25 1 50 1 18 1 6 1-48 1-33 1 30 1-24 1 7 1 32 1-29 1 27 1 15 1-110 1 42 1 29 1 66 1-59 1-50 1 39 1 28 1-41 1 30 1 14 1-19 1-23 1-3 1 8 1-11 1-1 1 18 1-19 1 39 1 33 1-51 1-13 1 44 1-16 1-5 1 11 1-28 1 77 1-44 1-6 1-37 1 87 1-48 1 5 1-13 1 8 1 28 1 4 1-22 1-25 1-6 1 64 1-10 1-4 1 69 1-52 1 23 1 25 1-64 1 61 1-48 1-33 1 31 1 32 1-31 1-24 1 7 1 116 1-56 1 1 1 1 1-19 1-6 1-5 1 7 1-2 1-17 1-9 1 22 1-3 1-15 1 9 1-30 1 35 1 14 1-42 1-18 1 52 1-24 1 27 1-24 1-83 1 67 1 12 1 13 1-14 1-3 1-17 1 12 1-9 1-34 1 35 1 63 1 19 1 23 1-45 1 49 1-67 1-14 1 16 1-126 1 43 1 99 1 73 1-68 1 18 1 62 1-110 1-43 1 98 1-37 1-20 1-41 1 19 1-32 1 44 1-12 1 117 1-147 1 39 1-27 1 44 1 4 1-28 1 22 1 15 1-62 1 19 1 20 1-3 1-41 1 13 1 55 1-57 1-49 1 70 1 44 1-128 1 36 1 80 1 10 1-96 1-36 1 76 1 17 1 10 1 12 1-53 1 16 1 17 1 0 1-28 1 35 1 1 1 99 1-155 1-9 1-63 1 120 1-68 1 94 1-23 1-33 1 50 1-47 1 62 1-64 1 51 1-72 1-4 1 15 1 148 1-97 1-32 1-65 1 0 1 59 1 68 1-69 1-14 1 155 1-146 1 2 1 40 1-38 1 43 1-40 1 18 1-12 1-32 1 82 1 0 1-27 1 3 1-16 1 36 1 10 1 51 1-100 1 3 1-17 1 18 1 63 1-59 1-11 1-28 1 5 1 14 1-7 1-6 1 68 1-55 1-19 1 85 1-35 1 17 1 15 1-64 1-23 1 74 1-22 1-96 1 151 1-95 1-6 1 29 1 75 1-12 1 25 1-40 1-3 1 28 1-89 1-15 1 75 1-16 1 21 1 11 1-29 1-38 1 54 1-35 1 16 1-47 1 20 1-20 1 15 1-44 1 23 1 5 1 18 1 49 1-101 1 61 1-54 1-26 1 99 1-68 1 29 1 22 1 68 1-54 1 43 1-37 1-101 1 129 1-32 1 41 1-6 1-65 1 68 1-3 1 3 1 1 1-27 1-5 1 50 1-133 1 100 1-70 1 82 1-39 1 14 1-2 1-1 1 49 1-69 1-64 1 94 1-43 1 49 1 6 1-35 1-42 1 53 1 46 1-54 1 40 1-75 1-39 1 60 1 39 1-31 1 1 1 7 1-44 1-15 1 100 1-62 1 27 1-46 1 17 1 2 1-25 1 9 1 6 1 54 1-30 1 31 1 11 1-44 1 26 1-12 1-14 1-60 1 26 1 84 1-62 1-11 1 89 1-133 1 22 1 18 1 76 1-72 1-1 1 45 1-1 1-28 1 21 1-17 1 56 1 32 1-57 1-95 1 91 1 35 1-78 1 49 1-37 1 52 1-60 1-39 1 35 1 33 1 85 1-119 1 71 1-61 1-27 1 68 1-49 1 40 1-7 1 25 1 1 1-41 1 34 1-67 1 20 1 35 1-17 1 110 1-86 1 18 1-65 1 62 1-53 1 7 1 16 1-25 1 57 1-47 1-47 1 61 1-66 1 62 1-34 1-10 1-40 1-39 1 110 1-37 1-40 1 24 1 8 1-26 1-17 1 93 1-21 1 7 1 13 1-42 1-6 1 39 1 38 1-5 1 7 1-67 1-49 1 83 1 10 1-18 1 9 1-75 1 108 1 15 1-52 1 14 1 4 1-66 1 6 1-15 1-14 1 9 1 54 1-21 1-71 1 45 1 64 1 0 1 186 1-198 1 13 1-31 1-11 1 26 1 30 1-65 1-2 1 20 1-26 1 23 1 68 1-49 1 39 1-129 1 65 1 47 1-90 1 36 1 19 1-10 1 20 1 39 1-85 1 49 1-1 1-39 1-21 1 27 1-3 1-58 1 111 1-70 1-17 1 30 1-7 1 30 1 74 1-77 1-33 1 4 1 2 1 72 1-26 1 29 1 1 1-67 1 11 1 167 1-5 1-94 1-30 1 19 1-36 1-37 1 87 1 13 1-58 1 21 1 24 1-48 1-7 1-1 1 23 1-30 1-64 1 106 1-19 1-9 1 135 1-135 1 44 1-103 1 16 1 93 1-11 1 26 1-50 1 53 1-55 1 49 1-65 1 8 1 21 1-62 1 4 1 71 1 24 1-37 1-18 1 64 1-69 1-1 1-3 1 22 1 22 1-35 1 1 1-27 1 96 1-50 1 46 1-43 1-14 1 27 1-44 1-16 1 10 1 1 1-8 1 17 1-103 1 121 1 22 1 14 1 40 1-12 1-19 1 44 1-18 1-9 1-26 1 21 1 6 1-76 1-109 1 126 1-10 1 18 1-65 1-50 1 77 1 109 1-79 1-43 1 0 1 38 1-29 1 61 1-132 1 104 1-65 1 72 1 21 1-22 1 57 1 59 1-86 1-23 1-27 1 8 1 29 1 3 1-56 1-12 1-18 1 17 1-14 1 4 1 70 1-34 1-19 1-34 1-48 1 109 1-48 1 3 1-38 1 102 1-20 1 136 1-91 1 45 1-18 1 28 1-37 1-92 1-22 1 45 1 69 1-34 1-50 1-29 1 113 1-115 1 44 1-3 1-26 1-9 1-9 1 23 1 40 1-30 1 4 1 12 1 49 1-51 1 18 1 45 1-17 1-48 1-22 1 0 1 20 1 32 1-23 1-5 1 18 1-18 1-8 1 51 1-39 1-10 1-12 1 49 1 11 1-97 1 58 1-35 1-25 1 56 1 34 1-52 1-10 1 37 1-89 1 104 1-62 1 6 1 19 1-8 1-28 1 2 1 58 1-19 1 14 1-11 1-1 1 33 1-14 1-62 1 73 1 4 1-58 1 11 1-20 1 6 1-6 1-51 1 59 1-33 1 51 1 3 1-6 1 9 1 4 1 76 1-69 1 10 1-11 1-65 1 77 1-17 1 13 1 0 1 50 1-7 1-32 1-4 1-54 1 34 1-13 1 7 1 52 1-88 1 52 1 88 1-110 1 67 1-56 1 40 1-60 1-2 1 90 1-50 1 6 1 40 1-102 1-30 1 17 1 17 1 63 1 0 1-68 1 70 1 38 1-29 1-42 1-18 1 7 1 73 1-95 1 40 1-30 1 59 1-21 1-3 1 0 1-30 1 29 1 21 1-38 1 58 1-25 1-43 1 51 1 49 1-60 1 36 1 43 1-90 1 20 1 55 1-63 1-34 1-4 1-46 1 45 1-13 1 5 1-4 1-5 1-25 1 33 1-29 1-13 1 97 1-15 1 28 1 18 1 2 1-22 1-65 1 50 1-43 1 32 1 7 1 39 1-61 1 19 1 23 1-59 1 41 1-47 1 24 1 28 1-72 1 36 1-72 1 18 1 79 1-36 1 16 1 8 1-2 1-19 1-11 1 32 1 61 1-40 1 4 1-70 1 24 1-27 1 64 1 43 1-35 1-26 1-23 1 16 1 38 1-27 1 29 1 6 1-63 1 72 1-12 1-27 1-14 1-4 1 21 1-24 1-13 1-16 1 26 1 52 1-11 1-85 1 115 1 6 1-76 1 24 1 31 1-68 1 35 1-1 1-16 1 12 1-39 1 35 1 4 1 1 1 1 1-24 1 54 1-47 1 34 1-2 1 28 1-42 1 11 1-20 1 55 1 1 1-22 1-32 1 84 1-61 1-8 1-109 1 70 1 21 1 55 1-97 1 44 1 6 1 33 1-31 1-3 1-12 1-14 1 18 1 39 1-50 1 42 1 49 1-85 1 27 1-58 1 21 1 38 1-1 1 40 1-50 1 0 1-19 1 35 1-75 1 81 1-12 1-46 1 110 1-10 1-110 1 75 1 29 1-63 1 18 1 55 1-33 1 34 1-22 1 19 1-4 1-92 1 94 1 46 1-23 1-12 1 6 1-11 1-74 1 22 1 74 1-7 1 46 1 35 1-64 1 25 1-11 1-51 1-38 1 43 1-52 1-19 1 52 1-3 1-54 1 33 1-11 1-31 1 45 1-66 1 22 1 56 1 40 1 30 1-38 1-50 1 0 1 5 1 1 1-31 1 21 1 9 1-27 1 22 1-34 1 75 1-60 1-9 1-11 1 30 1-15 1 29 1-139 1 106 1 30 1 91 1-91 1-89 1 15 1 39 1 56 1-50 1 39 1-6 1 110 1-107 1 9 1-76 1 74 1-17 1 7 1 13 1-49 1 42 1-43 1 52 1 9 1-29 1 36 1-13 1-60 1-9 1-13 1-19 1 53 1-44 1 22 1 60 1-61 1-17 1 51 1-8 1 3 1-38 1 26 1-12 1 18 1-26 1 45 1 9 1-51 1 1 1-12 1-1 1 87 1-67 1-86 1 64 1 78 1-72 1 17 1 2 1-3 1 4 1-16 1 3 1 76 1-95 1-9 1 7 1-52 1 65 1 29 1-31 1 34 1-64 1 38 1-14 1-15 1 47 1 39 1-144 1 33 1-2 1 8 1 6 1 29 1-33 1 32 1-104 1 69 1 41 1-28 1 43 1-50 1 22 1-7 1 6 1-47 1 11 1 36 1-37 1-82 1 20 1 129 1-41 1 30 1-32 1-35 1 56 1 34 1-37 1 48 1-65 1-30 1 35 1-18 1 58 1 9 1-60 1 84 1-84 1 48 1-186 1 159 1 19 1 26 1-88 1 39 1 35 1 26 1 29 1 2 1-38 1-95 1 109 1-47 1 59 1-27 1-76 1-3 1 22 1 82 1-21 1 86 1-92 1-21 1-24 1-7 1 51 1-25 1-36 1 41 1-61 1 68 1-42 1 67 1-55 1 87 1-10 1 6 1-43 1-8 1 15 1 8 1-33 1 31 1 9 1-59 1 48 1 27 1-80 1 20 1-26 1 38 1-31 1 9 1 48 1 35 1-65 1 36 1-23 1-47 1 46 1-23 1-2 1 47 1-1 1-3 1-23 1-9 1-29 1 1 1 50 1-79 1 61 1 12 1 12 1 86 1-111 1-14 1 11 1 40 1-28 1-61 1 47 1 34 1-4 1-138 1 125 1 28 1-6 1-72 1-49 1 43 1 81 1-85 1 2 1-2 1 19 1 5 1 9 1-7 1 8 1-52 1 37 1 44 1-41 1-24 1 72 1-27 1 48 1 3 1-13 1 19 1-16 1 22 1-38 1-1 1-28 1 15 1 35 1-109 1 45 1 92 1-4 1-79 1-33 1 94 1-51 1 51 1-10 1-8 1-18 1 69 1-35 1-12 1 28 1-73 1 28 1 51 1-23 1-5 1-25 1 12 1 62 1-81 1 73 1-11 1-56 1 96 1 4 1-85 1 77 1 2 1-49 1-9 1-5 1-22 1-31 1 43 1 2 1-16 1 50 1-46 1 10 1-13 1 52 1-44 1-4 1-53 1 44 1 49 1-52 1 5 1 4 1 42 1-206 1 190 1-41 1-24 1-34 1 102 1-60 1 3 1 67 1-103 1 67 1 18 1-57 1-1 1 42 1 56 1-67 1-26 1 25 1-3 1-61 1 53 1 8 1-39 1-5 1 12 1 16 1 55 1 29 1-90 1-5 1 82 1-15 1-13 1 55 1-44 1 3 1-7 1-16 1-37 1 19 1 16 1 32 1-51 1-7 1-51 1 59 1 11 1-56 1 101 1-122 1 29 1 28 1-59 1 31 1 42 1-26 1 11 1 4 1 5 1 12 1-82 1-16 1 93 1 27 1 5 1-42 1 107 1-121 1 36 1-55 1 2 1 65 1-8 1-118 1 11 1 96 1 42 1-92 1 72 1-41 1-2 1 40 1-38 1 26 1 0 1-7 1 13 1-61 1-141 1 245 1-56 1 15 1-9 1 7 1-27 1 42 1-41 1-51 1 20 1 42 1-30 1 55 1-45 1 34 1-18 1-12 1 29 1-3 1-74 1 44 1-3 1 48 1 31 1-66 1-33 1 36 1-9 1-43 1-17 1-30 1 80 1 152 1-124 1 32 1-50 1-34 1 89 1-36 1-44 1-2 1-10 1 47 1 15 1-8 1-18 1-12 1 33 1-78 1-3 1 62 1 30 1-40 1 156 1-57 1-24 1-78 1 22 1-43 1 37 1-12 1 34 1 18 1-44 1 50 1-28 1 16 1 13 1-39 1 32 1-31 1 16 1-1 1-13 1 108 1-130 1 43 1 38 1-47 1 20 1-12 1-15 1-80 1 34 1 17 1 5 1-17 1 60 1-98 1 173 1-71 1 11 1-95 1-3 1 28 1-8 1 33 1-65 1 49 1 16 1-39 1 22 1 74 1-59 1 20 1-53 1 23 1 3 1 8 1 37 1-28 1-33 1 6 1 37 1-2 1 8 1 14 1-6 1 21 1-38 1 1 1-37 1-62 1 103 1 21 1-71 1 65 1-1 1 55 1-27 1-37 1 15 1 51 1-86 1-40 1 31 1 7 1-4 1 21 1-15 1-17 1-13 1 58 1 18 1-36 1-47 1 17 1-36 1 52 1 71 1-77 1 67 1-80 1 27 1 13 1-28 1 28 1-59 1 74 1 17 1-52 1-13 1 40 1-36 1 62 1-87 1-13 1 29 1 56 1-41 1-1 1 43 1-59 1 0 1 72 1-17 1 34 1 87 1-161 1 56 1-68 1 48 1-22 1 15 1-5 1 11 1-7 1-28 1 78 1-17 1-104 1 40 1 19 1-21 1 33 1 6 1-46 1 34 1 12 1-25 1 12 1 24 1 15 1-49 1-36 1 68 1 1 1-7 1-14 1 21 1-60 1 23 1 5 1 14 1 5 1-56 1 128 1-81 1-23 1 19 1-31 1 21 1-20 1 35 1-142 1 93 1-43 1 33 1 34 1-5 1-1 1-79 1 8 1 63 1-34 1-11 1 29 1-7 1 73 1-42 1-70 1 32 1-21 1 38 1-5 1-123 1 146 1-39 1 33 1 26 1 42 1-12 1-41 1-22 1 5 1-48 1 29 1 76 1-19 1 18 1-32 1 20 1-52 1 37 1 26 1-48 1 28 1 22 1 21 1-7 1-81 1 1 1 0 1 22 1-16 1-28 1 27 1-22 1 134 1-98 1-63 1 43 1 8 1 4 1-19 1 42 1-68 1 25 1-32 1 97 1-42 1 56 1-50 1-14 1-5 1-40 1 114 1-131 1 77 1-7 1-32 1 26 1 29 1-56 1 61 1 12 1-21 1-53 1 17 1 7 1 40 1-55 1 32 1 34 1-33 1-27 1 34 1 58 1-48 1-3 1-27 1 40 1 32 1-23 1-127 1 105 1 7 1-17 1-57 1 8 1 10 1-12 1 14 1 36 1 8 1-57 1-31 1 35 1 25 1-25 1-69 1 55 1-18 1 61 1-88 1 70 1 23 1 28 1-63 1 6 1 51 1-3 1-19 1-53 1 97 1 18 1-38 1-1 1-38 1-5 1 58 1-37 1-3 1 47 1 28 1-33 1-18 1 48 1-64 1-2 1-35 1 57 1-33 1 39 1-33 1 31 1-37 1 25 1 6 1-27 1 64 1-14 1 15 1-45 1-3 1-33 1 44 1-7 1-10 1 53 1-42 1-93 1 91 1 23 1-51 1-9 1 2 1 50 1-38 1-30 1 58 1-46 1 30 1-32 1 16 1 20 1 9 1 22 1 69 1-99 1 56 1 24 1-25 1 38 1-53 1 31 1-21 1-40 1 27 1 38 1-36 1-28 1-3 1-2 1 29 1-31 1-47 1 133 1-58 1-33 1 38 1-52 1 16 1 20 1-12 1-16 1-25 1 48 1 15 1 39 1 32 1 23 1-67 1-86 1 107 1-77 1-59 1-41 1-8 1 167 1-63 1 30 1 10 1-21 1 34 1 1 1-19 1-11 1-4 1 49 1-45 1 72 1-89 1-9 1 47 1 3 1-48 1 15 1 57 1-45 1 2 1 9 1 13 1-97 1 106 1-38 1-21 1 41 1-6 1-37 1 92 1-66 1 12 1 53 1-30 1 26 1-27 1-25 1 13 1-19 1 54 1-37 1-9 1 3 1 39 1-90 1 58 1-25 1 52 1-77 1 39 1 13 1 0 1 0 1-8 1-4 1-55 1-2 1 25 1-21 1 59 1-136 1 42 1-23 1 117 1-52 1 69 1-72 1-29 1 71 1-79 1 106 1-60 1 112 1-25 1 71 1-181 1 15 1 44 1 37 1 21 1 26 1-26 1 19 1-283 1 238 1-77 1-58 1 68 1 0 1 20 1 31 1-57 1 18 1-10 1 105 1-79 1-7 1-15 1 43 1 25 1-42 1 4 1-29 1 6 1 6 1-18 1 37 1-52 1 94 1-21 1-79 1 77 1-71 1 85 1 9 1-40 1 21 1-31 1 23 1-12 1-8 1 27 1 15 1-62 1-31 1 54 1-27 1 42 1-61 1-28 1 116 1-34 1-44 1 39 1-21 1-3 1-30 1 17 1 4 1-26 1 119 1-58 1-38 1-17 1-13 1-33 1 88 1-44 1 33 1-44 1-16 1 46 1-37 1 64 1 30 1-25 1-33 1 7"/>
<path class="r" transform="scale(0.081647,0.2)" d="M0,683l1 19 1-26 1-11 1-112 1 130 1 11 1 3 1 11 1 5 1-64 1 34 1-7 1-7 1-21 1 21 1 7 1-28 1 8 1-12 1 5 1 57 1 19 1-63 1 27 1-36 1 15 1 9 1 16 1 9 1 34 1-8 1-3 1 32 1-45 1 8 1 77 1-127 1 14 1 31 1-29 1-9 1 7 1 29 1-19 1-49 1 49 1-41 1 54 1 3 1 43 1-39 1-44 1-22 1 29 1 43 1 1 1-52 1 32 1-4 1 20 1 19 1-46 1 8 1 23 1-98 1 27 1 0 1 31 1 114 1-60 1-52 1 39 1-7 1-4 1-21 1 86 1-59 1 1 1-4 1 12 1 40 1-60 1 37 1 83 1-30 1-44 1 27 1-97 1 9 1 43 1 57 1 30 1 5 1-80 1 15 1-4 1 19 1-2 1-75 1 7 1-23 1 6 1 27 1-36 1 69 1-25 1-3 1-43 1 78 1 23 1 48 1-53 1 17 1-43 1-40 1 13 1 29 1-11 1 0 1-10 1-10 1 49 1 12 1 25 1-13 1 12 1 79 1-149 1 12 1 19 1-31 1-22 1-32 1 36 1-10 1 33 1-7 1 96 1-173 1 63 1 25 1-75 1 23 1 13 1-67 1 116 1-90 1 99 1-90 1-10 1 13 1 22 1-29 1-22 1 13 1 4 1 39 1-10 1 3 1 42 1-37 1 82 1 14 1-26 1-36 1-3 1 20 1-30 1-55 1 77 1-68 1 1 1 48 1-58 1-1 1 25 1-16 1 98 1-51 1-72 1 128 1-65 1 1 1 56 1-16 1-20 1-13 1 65 1-83 1 102 1-90 1-34 1 47 1 94 1-94 1-47 1 50 1-32 1 0 1 57 1 0 1 29 1-74 1 56 1 10 1 53 1-77 1-19 1 20 1 3 1-9 1-4 1 68 1-43 1-105 1-26 1 84 1 11 1-57 1 49 1-20 1 6 1 25 1-27 1-1 1 61 1-22 1-43 1-34 1 61 1-40 1 22 1-1 1 10 1-119 1 47 1 43 1 8 1-18 1-62 1 42 1 49 1 34 1-34 1-145 1 74 1 73 1 16 1-24 1-39 1-24 1 94 1-69 1 47 1 30 1 14 1-48 1 9 1-67 1 60 1 34 1-70 1-24 1 35 1 49 1-44 1-8 1 46 1-51 1 17 1 39 1 59 1-29 1-23 1 83 1-73 1-22 1 31 1-28 1-25 1 96 1-45 1 19 1-21 1-9 1 11 1-47 1-5 1 10 1 34 1 33 1-90 1 58 1-55 1-51 1 70 1-48 1 93 1-14 1-41 1 25 1-15 1 52 1-98 1 30 1 20 1 64 1-22 1-84 1 57 1 21 1-27 1-45 1 31 1 14 1-12 1 24 1 39 1-25 1-63 1 27 1-85 1 56 1 33 1 34 1 3 1 23 1-70 1 39 1 34 1-56 1 15 1-18 1 8 1-52 1 62 1 1 1 14 1 9 1-41 1-7 1-29 1 37 1-86 1 59 1-80 1 121 1 2 1-90 1 70 1 27 1 4 1-24 1-78 1 71 1-10 1 30 1 59 1-76 1 49 1-30 1-12 1 29 1-104 1 50 1 64 1-80 1 37 1 24 1-31 1 71 1-28 1-45 1 53 1 25 1-52 1-5 1 78 1-161 1 113 1-45 1 11 1-27 1-34 1 65 1-41 1 51 1 109 1-185 1 48 1-20 1-110 1 89 1 9 1-14 1 45 1 39 1-29 1-118 1 69 1-45 1 77 1 3 1 71 1-12 1-1 1-14 1 19 1-85 1-3 1 39 1 201 1-173 1-18 1-42 1-103 1 91 1-66 1 56 1 28 1 21 1-8 1 70 1-60 1 15 1 22 1-98 1 51 1 7 1 39 1-12 1-13 1-80 1 55 1 29 1-5 1 105 1-116 1 45 1-15 1 37 1-34 1-54 1-42 1 87 1-17 1 48 1-47 1-14 1-20 1 78 1-25 1-49 1 6 1 18 1 17 1-46 1 29 1 14 1 49 1-80 1 24 1 12 1-14 1-18 1 59 1-51 1-7 1 40 1 19 1-93 1-5 1 26 1-9 1 24 1-32 1 73 1 34 1-42 1-81 1 11 1-3 1 36 1-50 1 40 1 4 1-18 1 22 1 2 1 36 1-28 1-79 1 65 1 19 1-56 1 20 1 100 1-70 1-11 1-38 1 16 1-10 1 66 1-9 1 0 1-72 1 118 1-2 1-30 1-33 1 37 1 43 1-52 1-6 1-3 1 10 1 3 1-57 1 45 1-11 1 50 1-82 1 31 1-96 1 298 1-220 1 53 1-10 1-9 1 59 1-219 1 128 1-43 1 49 1 5 1 7 1-7 1 42 1-63 1 7 1-120 1 136 1 14 1-30 1-32 1 1 1 20 1 45 1-66 1 11 1 19 1 21 1 11 1 35 1-23 1-150 1 78 1 20 1 11 1-124 1 135 1 4 1-10 1-41 1 54 1 29 1-84 1 109 1-77 1 12 1 33 1 43 1-74 1 130 1-74 1-45 1-5 1 25 1-3 1-49 1 28 1-26 1 15 1-27 1 86 1-73 1 16 1-9 1 2 1 35 1 9 1-42 1-11 1 26 1 17 1-4 1 14 1-13 1 61 1-79 1-30 1 36 1-22 1-1 1 43 1-24 1 61 1-39 1-24 1 30 1-91 1 77 1-16 1-35 1 29 1 34 1 49 1-88 1 46 1-69 1 107 1-7 1 26 1-120 1 62 1 0 1-2 1-49 1 32 1 44 1-115 1 33 1 53 1 36 1-102 1 24 1-38 1-26 1 37 1 4 1-16 1 40 1-3 1 36 1 13 1 3 1-133 1 20 1 56 1 8 1-2 1-1 1 21 1 57 1 35 1-77 1 5 1 0 1 57 1-31 1-15 1 27 1-57 1-9 1 40 1-42 1-34 1 112 1-62 1 4 1-9 1-21 1 27 1 11 1-53 1 49 1-49 1-45 1-1 1 13 1 19 1 10 1 13 1 53 1-32 1 14 1-47 1-56 1 68 1-16 1-17 1 9 1-41 1 17 1 68 1-11 1 8 1 38 1-9 1-56 1 45 1-35 1 77 1-108 1 90 1-80 1 45 1-63 1 43 1 70 1-76 1 65 1-62 1 0 1-35 1 35 1-15 1 59 1 3 1-2 1-12 1 16 1-50 1 118 1-135 1 40 1-46 1 23 1-15 1 35 1-11 1 26 1-3 1-56 1-15 1 58 1-9 1 34 1-58 1 35 1 64 1-47 1 9 1-34 1 1 1 12 1 23 1-29 1-29 1 55 1-7 1-21 1 64 1-16 1-73 1 49 1-29 1 36 1-7 1 19 1 68 1-25 1-75 1 3 1-32 1-48 1-2 1 99 1-47 1 21 1 1 1 25 1 47 1 2 1-73 1 43 1-60 1-4 1 99 1-47 1 18 1 7 1 23 1-20 1-29 1-1 1 110 1-200 1 44 1-17 1 49 1-14 1 10 1 16 1-15 1-9 1 10 1 55 1-45 1 111 1-74 1-28 1 46 1-102 1 70 1-81 1 54 1-51 1 32 1-34 1 30 1 15 1-68 1 63 1-24 1 21 1-42 1-8 1 46 1 10 1 24 1-22 1-21 1 18 1-77 1 13 1 49 1-14 1-24 1 65 1 31 1-9 1-85 1-10 1-33 1-43 1 60 1 52 1-5 1 34 1-33 1 30 1 85 1-80 1 63 1-78 1-20 1 10 1 28 1 23 1-25 1 42 1-6 1-43 1 20 1-86 1 53 1-10 1 22 1-23 1 10 1-114 1 84 1-4 1 31 1-57 1 5 1 120 1-105 1 30 1 29 1 2 1 0 1-23 1-55 1 31 1-22 1 0 1 50 1 98 1-46 1-68 1 24 1-6 1 23 1-14 1 31 1-87 1 113 1-49 1 16 1 81 1-120 1-17 1 31 1 13 1-51 1 48 1-8 1 7 1 27 1-45 1-43 1 64 1 16 1-20 1 17 1 47 1-30 1 1 1-3 1-71 1 1 1 28 1-118 1 117 1 33 1-32 1-22 1 40 1-55 1 7 1 19 1 13 1 37 1 4 1-17 1 53 1 6 1-42 1 19 1-10 1 31 1-27 1-31 1-1 1-32 1 67 1-7 1 38 1-12 1-31 1 128 1-145 1 1 1 34 1 8 1-21 1-33 1 86 1 18 1-68 1 15 1-55 1 38 1 29 1-45 1-16 1-34 1 83 1-111 1 51 1-38 1-56 1 113 1-43 1 21 1-82 1 40 1 74 1-54 1-26 1 36 1 8 1 1 1 5 1 72 1-43 1-25 1-8 1 44 1-50 1 4 1-4 1 60 1-24 1 62 1-63 1 8 1-66 1 5 1-13 1 71 1-37 1 19 1-61 1 77 1-56 1 19 1 1 1 20 1-17 1-16 1-39 1 29 1 61 1-82 1 45 1 3 1 18 1 47 1 22 1-67 1-61 1 42 1 9 1-74 1 73 1-21 1-27 1 70 1 100 1-118 1-70 1 8 1-2 1 69 1-75 1 18 1 76 1 18 1-120 1 12 1 92 1-85 1 63 1-27 1-14 1 31 1-10 1 25 1-1 1-55 1 40 1-102 1 110 1 39 1-37 1-6 1 17 1 41 1-57 1 14 1-5 1-55 1 33 1-9 1 7 1-32 1 105 1-62 1-31 1-22 1 9 1 62 1 102 1-92 1-51 1 15 1-1 1-10 1-36 1 61 1-20 1 36 1-4 1-41 1 38 1 21 1-41 1-20 1 16 1-12 1-2 1 3 1 86 1 40 1-123 1-25 1 4 1-57 1 132 1 21 1-80 1 39 1 49 1-67 1 51 1-98 1 31 1 13 1 11 1 19 1-52 1 82 1-99 1-10 1 35 1 37 1-22 1-26 1 96 1-78 1-104 1 60 1 3 1 24 1 31 1-41 1-30 1 34 1 2 1-28 1 5 1 43 1-22 1 5 1-42 1-19 1 47 1-33 1-10 1 3 1 26 1 55 1-27 1-1 1-57 1 52 1-24 1-23 1 38 1 17 1 41 1-35 1 129 1-123 1 9 1-10 1 9 1 87 1 21 1-68 1 5 1 1 1-65 1-18 1 42 1 27 1-26 1-28 1 34 1 134 1-143 1 23 1-1 1 10 1-7 1 29 1-79 1-8 1 63 1-59 1 1 1-66 1 104 1 48 1 24 1-68 1-7 1-15 1-69 1 65 1-37 1 19 1-11 1 28 1 100 1-164 1 110 1-107 1-8 1 45 1 59 1-29 1-41 1 39 1-42 1-13 1 67 1-43 1-23 1-5 1 41 1-3 1 76 1-104 1-18 1 47 1 4 1 7 1 5 1 11 1-25 1-13 1 48 1-28 1 51 1-76 1 37 1 28 1-45 1 42 1-64 1-4 1 46 1-36 1 8 1 59 1-48 1-7 1 37 1 77 1-25 1-64 1-5 1 33 1 8 1-19 1-27 1 11 1 33 1-39 1 40 1-25 1 3 1-30 1-38 1 1 1 71 1-24 1 24 1-36 1-22 1 68 1-70 1 58 1 1 1-10 1-29 1 110 1-43 1 12 1-50 1 10 1-75 1 3 1 44 1 185 1-187 1 20 1 36 1-55 1-12 1 22 1 17 1 21 1-29 1-29 1 35 1-14 1 14 1-15 1-1 1 22 1-9 1-7 1-23 1 2 1 30 1 8 1-32 1 12 1-12 1-2 1-2 1-2 1 22 1 31 1 6 1-41 1 3 1 32 1-34 1-3 1 39 1-31 1 16 1 3 1 1 1-3 1 28 1-36 1 1 1-29 1 1 1-63 1 46 1-1 1 34 1-43 1 68 1-39 1 9 1 21 1-115 1 107 1-1 1-54 1 45 1-13 1 0 1-10 1 40 1-34 1 39 1-80 1-4 1 30 1 21 1 17 1 21 1-61 1-2 1-18 1 51 1-28 1-13 1 8 1-8 1 37 1-36 1-27 1 0 1-20 1 39 1-68 1 97 1-54 1-29 1 33 1 17 1 1 1 65 1-57 1 78 1-65 1 25 1 20 1-58 1 15 1 11 1-17 1-19 1-9 1 74 1-52 1 51 1 18 1-1 1-33 1-3 1 4 1 6 1 33 1-61 1 31 1 6 1-44 1 30 1-18 1-59 1 27 1-1 1 50 1 38 1-25 1-11 1 29 1-29 1 25 1 41 1-53 1 78 1-58 1-21 1 7 1-33 1 1 1 48 1-21 1 1 1 56 1-38 1-47 1 38 1-44 1-29 1 80 1 27 1-27 1 4 1-26 1 82 1-82 1-22 1 66 1-30 1-45 1 39 1-16 1 3 1-22 1-76 1 97 1-44 1 92 1-37 1 60 1-17 1-77 1-40 1 48 1 41 1-99 1 36 1 99 1-111 1 20 1 65 1-44 1 13 1 25 1 18 1-23 1-36 1 28 1 6 1-81 1 62 1 62 1 7 1-50 1 23 1-89 1 40 1-116 1 137 1-64 1 29 1 68 1-22 1 29 1-3 1-33 1-15 1-39 1 22 1 11 1 16 1-40 1-6 1-57 1 54 1-46 1 47 1 51 1-52 1 21 1-23 1-9 1 5 1 11 1 1 1 2 1-33 1 35 1-22 1 42 1 35 1-45 1-2 1 51 1 6 1-45 1 89 1-122 1 79 1 0 1-37 1 7 1-121 1 89 1 27 1 5 1-60 1 113 1-53 1-24 1 3 1-31 1 15 1 15 1-31 1 3 1 10 1 46 1 9 1-13 1 11 1 2 1-18 1-32 1 54 1-22 1-53 1-12 1-10 1 31 1-26 1 15 1 8 1 22 1-99 1 94 1-41 1 37 1 51 1-30 1 24 1-25 1 25 1-30 1-16 1 48 1-61 1 28 1-85 1 95 1-14 1-1 1 25 1-42 1 127 1-28 1-9 1 28 1-81 1 28 1 91 1-65 1 9 1-46 1-7 1-26 1 23 1-13 1-54 1 77 1-20 1 35 1-6 1-56 1 61 1 24 1-14 1-30 1 34 1-62 1-12 1 25 1 17 1-47 1 46 1 12 1 45 1-53 1-8 1-28 1-4 1 23 1 27 1-75 1 13 1-21 1-35 1 30 1 48 1 84 1-132 1 81 1 88 1-97 1-63 1 29 1 49 1-23 1 5 1-71 1 83 1-21 1-31 1-16 1 49 1 1 1-42 1 40 1-83 1 1 1 19 1 26 1-3 1 46 1 111 1-136 1 12 1 20 1-19 1 33 1-21 1-35 1-72 1 103 1 5 1 4 1 49 1-17 1-11 1 0 1-33 1-39 1 93 1 23 1-36 1-38 1 2 1 12 1 32 1-26 1 42 1-67 1 12 1-13 1 44 1-32 1-16 1-31 1 6 1 13 1-29 1 44 1-63 1 28 1-4 1 1 1 63 1-63 1-13 1 12 1 3 1 4 1 14 1-40 1 43 1-17 1 34 1 5 1-49 1 36 1 35 1-35 1-36 1 13 1-23 1 15 1 9 1 17 1 29 1-25 1 8 1 13 1-43 1 22 1 9 1-11 1 59 1-78 1-34 1 67 1-52 1 9 1 23 1 44 1-62 1 30 1 7 1 53 1-91 1 44 1 9 1-60 1 6 1 77 1-50 1 45 1-26 1 9 1-53 1 7 1-33 1 11 1-1 1 80 1-18 1-5 1-50 1-10 1 43 1 41 1-12 1-10 1-74 1 44 1 32 1 1 1-13 1-26 1-11 1 44 1 28 1 28 1-148 1 47 1-5 1 23 1 27 1-47 1 6 1 30 1-36 1-22 1-10 1 15 1 20 1-18 1-31 1 38 1 0 1 105 1-55 1-13 1 12 1 13 1-71 1 32 1-50 1 46 1 8 1-21 1 31 1-16 1 7 1 39 1-72 1 10 1 44 1 44 1-37 1-13 1-59 1 62 1 93 1-66 1-15 1-10 1 5 1-28 1 34 1 18 1-20 1 53 1-27 1-18 1 28 1-126 1 68 1 32 1-9 1 16 1 12 1-67 1 3 1 15 1 41 1-1 1-33 1 70 1-6 1-14 1-11 1-29 1-3 1 16 1-91 1 74 1 13 1 61 1-41 1-19 1 47 1-106 1 25 1 56 1 24 1-61 1 3 1-46 1 23 1 40 1 5 1-17 1 10 1-49 1 100 1-58 1-11 1 1 1 15 1-10 1-79 1 47 1 95 1-76 1-36 1 75 1-1 1-26 1-52 1 54 1 8 1 76 1-86 1 14 1 66 1-27 1-9 1-7 1 42 1-46 1-32 1 13 1-46 1 32 1-22 1 20 1 15 1 30 1-26 1-58 1 21 1 24 1-33 1 1 1 37 1-37 1 40 1-38 1 2 1-12 1 79 1 17 1 30 1-176 1 46 1 39 1-24 1-9 1-9 1-16 1 11 1-14 1 1 1 85 1-30 1-44 1 125 1-16 1-89 1 19 1 45 1-93 1 61 1-18 1 8 1-86 1 49 1 46 1 24 1-30 1 1 1 35 1-27 1 8 1 23 1-49 1-20 1 56 1 13 1-44 1 15 1 23 1-22 1 26 1-22 1-40 1 43 1-125 1 116 1-6 1 42 1-41 1-48 1 4 1 26 1 5 1 85 1-98 1 61 1 48 1-88 1-8 1-6 1 60 1-36 1-34 1 21 1-19 1 20 1 65 1-86 1 6 1 33 1-8 1-31 1 115 1-116 1 38 1 26 1 2 1-34 1 53 1 0 1-55 1-37 1 1 1-108 1 147 1 11 1 26 1-49 1-26 1 28 1-16 1-38 1 93 1-49 1-1 1 48 1-59 1-7 1 25 1-6 1-40 1 64 1-1 1-36 1 60 1 41 1 5 1-50 1-7 1-38 1 3 1 161 1-144 1 7 1-3 1-55 1 37 1-15 1 61 1-92 1 69 1 1 1 13 1 8 1-23 1-34 1 6 1 75 1-37 1-21 1-11 1 11 1 49 1-31 1-30 1 16 1 24 1 28 1-36 1 21 1-6 1-33 1 9 1-32 1 65 1-45 1 7 1 37 1-55 1 47 1 57 1 16 1-84 1 63 1-111 1 16 1 21 1-16 1 29 1 5 1 29 1-41 1 18 1-74 1 53 1-43 1 22 1-17 1 8 1-18 1 26 1-1 1 32 1 9 1 10 1-32 1 23 1-43 1 56 1 24 1-62 1-34 1 74 1-66 1 30 1 32 1-22 1 47 1-58 1 23 1-99 1 49 1 63 1 11 1-14 1-16 1 30 1-35 1 6 1-3 1 59 1-86 1-2 1 22 1-39 1 102 1-96 1-24 1 41 1-10 1 31 1-4 1 9 1 79 1-84 1-16 1-73 1 14 1 50 1-140 1 107 1 107 1-77 1 21 1-32 1 8 1 62 1-107 1 32 1 4 1-29 1 14 1 28 1-54 1 18 1 14 1 85 1-76 1 13 1-40 1 34 1 18 1-42 1 46 1-51 1-15 1 25 1-21 1-10 1 49 1 10 1 23 1-4 1 12 1-45 1 54 1-43 1-63 1 0 1 64 1-27 1 88 1-19 1-46 1 37 1-14 1 0 1-3 1 113 1-156 1 29 1-82 1 108 1-37 1-4 1-47 1 25 1 6 1-1 1 65 1-119 1 84 1-58 1 0 1 0 1 16 1 9 1-10 1-1 1 48 1-61 1 2 1 46 1 12 1 24 1-9 1-29 1-18 1 22 1 6 1-12 1-49 1 83 1-13 1-19 1 33 1-58 1 5 1 45 1-47 1 26 1-11 1 44 1-15 1-47 1-39 1 24 1 43 1-10 1 37 1-74 1 39 1 53 1-35 1-23 1 78 1 2 1-78 1 52 1-33 1-112 1 71 1 58 1 96 1-66 1-26 1-59 1 29 1 3 1 4 1 24 1-30 1 62 1-32 1-41 1-36 1 53 1-12 1-4 1-3 1 60 1 65 1-71 1-31 1-48 1 10 1 44 1 18 1 4 1 9 1 29 1-100 1 29 1 105 1-46 1-60 1-4 1 33 1-3 1-10 1 72 1-52 1-35 1-49 1 55 1 38 1-27 1-41 1 56 1-15 1-24 1 14 1 30 1-44 1 30 1-13 1 7 1 2 1 29 1-6 1 14 1-35 1 17 1-35 1 62 1-55 1-26 1 23 1 43 1-70 1 35 1-30 1-31 1 62 1 28 1-41 1 59 1-33 1-58 1 61 1-59 1 71 1-2 1-55 1 29 1 20 1-34 1 45 1 35 1 5 1-85 1 68 1 15 1 34 1-51 1-98 1 11 1 49 1-7 1 37 1-32 1 8 1 13 1 12 1-37 1-17 1 26 1-117 1 103 1 10 1-43 1-1 1-31 1 63 1 16 1-30 1 19 1-8 1 46 1-45 1 29 1-83 1 36 1-16 1 6 1-25 1-39 1 84 1-6 1 124 1-42 1-133 1 58 1 5 1 9 1-27 1-21 1 38 1-40 1 114 1-55 1-71 1 21 1-31 1 30 1-29 1 64 1-27 1-31 1 53 1-4 1-48 1 12 1 31 1 5 1-95 1 42 1-29 1 5 1 29 1-13 1-16 1 7 1-5 1 121 1-71 1-31 1 34 1-14 1-20 1-36 1 43 1 19 1-77 1 39 1 60 1-56 1 62 1 22 1-90 1 41 1 15 1-37 1-42 1 70 1 16 1-11 1-32 1 36 1-47 1 7 1-41 1-3 1 13 1 36 1-22 1-17 1 43 1-31 1-62 1 38 1-47 1 93 1-74 1 63 1-2 1 86 1-30 1 14 1-43 1-56 1 50 1 28 1-55 1 23 1 64 1-23 1 19 1-32 1 17 1-31 1 30 1-13 1-41 1 28 1-2 1-2 1 6 1 69 1-76 1-2 1 32 1-13 1 15 1-50 1 25 1 69 1-50 1 1 1-39 1-1 1-14 1 75 1-26 1 49 1 44 1-37 1-36 1-4 1-98 1 3 1 116 1-10 1-6 1 31 1-94 1 23 1 74 1-87 1 66 1-27 1 39 1-32 1-14 1-7 1 71 1-87 1 29 1 66 1-6 1-78 1 23 1 22 1-21 1 22 1 11 1-19 1-5 1 17 1-100 1 75 1 23 1-66 1 33 1-31 1-7 1 124 1-74 1-52 1 72 1-50 1-19 1-57 1 112 1-135 1 53 1 63 1 17 1-17 1-21 1-46 1 26 1-76 1 141 1-16 1-6 1-44 1-59 1 8 1 75 1-9 1 23 1 2 1-6 1-43 1 31 1-44 1 28 1 16 1 38 1-25 1-19 1 1 1 33 1-109 1 121 1-51 1-14 1 50 1-24 1-8 1 30 1-28 1 65 1-39 1-18 1 22 1-33 1 4 1 78 1-43 1 7 1-21 1-24 1 37 1-29 1 24 1 24 1-39 1-41 1 99 1-95 1-16 1 43 1-6 1 51 1-45 1-6 1 4 1 49 1-25 1-29 1 92 1-62 1 19 1 0 1 21 1-76 1 28 1 14 1-45 1 43 1 0 1 3 1-112 1 112 1 27 1-101 1 19 1-56 1 166 1-82 1 5 1 14 1 11 1 34 1-31 1 36 1-5 1-72 1 70 1-73 1 17 1-56 1 68 1-54 1-4 1 74 1-133 1 56 1-33 1 52 1-14 1 41 1 36 1 7 1-36 1-37 1-6 1 23 1-5 1 12 1-25 1 40 1 4 1-27 1 93 1-93 1-34 1-37 1 59 1 82 1-51 1-32 1 2 1 6 1 6 1 31 1 9 1 19 1-43 1-21 1 24 1-16 1 44 1-1 1-39 1 58 1 16 1-69 1-33 1 36 1-59 1 45 1-2 1-16 1 41 1 15 1-12 1-10 1 35 1-74 1-42 1 87 1 11 1 37 1 29 1 18 1-64 1 15 1-29 1-6 1 21 1-30 1 15 1 14 1-53 1 29 1 117 1-119 1-25 1 9 1-48 1 48 1 37 1-65 1 114 1-98 1 16 1 17 1-29 1 1 1 47 1-18 1 42 1-58 1-25 1 42 1 22 1-22 1 46 1 1 1-80 1 77 1-53 1 19 1-7 1 6 1-31 1-18 1 61 1-98 1 22 1 7 1-17 1 10 1 32 1 47 1-36 1 22 1-51 1-36 1 73 1 33 1-53 1 29 1-71 1 73 1-10 1-12 1 63 1-48 1 3 1-21 1 10 1-11 1 43 1 12 1-36 1 28 1-40 1 8 1 51 1-121 1 88 1 7 1-15 1 33 1-57 1-19 1 58 1-16 1-74 1 83 1 23 1-54 1 21 1 11 1-132 1 91 1 20 1 1 1 8 1-81 1 57 1 74 1 0 1 7 1-29 1 27 1-25 1 17 1-16 1-35 1 5 1-23 1 55 1-92 1 108 1-72 1-28 1 63 1-14 1-12 1 18 1-20 1-21 1 46 1-41 1-30 1 53 1 42 1-49 1-39 1 8 1 65 1 4 1-105 1 62 1 73 1-92 1-88 1 110 1-13 1-19 1 46 1-15 1 17 1-48 1 0 1-83 1 114 1 59 1 4 1-32 1-8 1-66 1 2 1 72 1-165 1 249 1-109 1-16 1 53 1-14 1 25 1-4 1-103 1 58 1-54 1 91 1-106 1 85 1 10 1 2 1-16 1 7 1 43 1-21 1-24 1 26 1-20 1-1 1-5 1 70 1-67 1 6 1-12 1-14 1 3 1-17 1-1 1 114 1-97 1-49 1 74 1-43 1 59 1-6 1 3 1-33 1 26 1-61 1 64 1-71 1-1 1-11 1 64 1-112 1 90 1 56 1-44 1 1 1 102 1-65 1-46 1-3 1-8 1 12 1-21 1 5 1 21 1 9 1-21 1-13 1 25 1-35 1 24 1-9 1 38 1-28 1-31 1 57 1 37 1-35 1-40 1 46 1-13 1-31 1-2 1 30 1 43 1-86 1 73 1 10 1-114 1 54 1 35 1-43 1 84 1-88 1-23 1 10 1 27 1 6 1 29 1 56 1-67 1 28 1 10 1-52 1 24 1-9 1-15 1-7 1 32 1-8 1-32 1 0 1 52 1-67 1 58 1-35 1-2 1 36 1 12 1-36 1-48 1 73 1 57 1-165 1 66 1-70 1 80 1-22 1-44 1 23 1 13 1 28 1-86 1 134 1-70 1 5 1 8 1-32 1 16 1-51 1 61 1 35 1-5 1-45 1 2 1 51 1-64 1 58 1-25 1 0 1-25 1 90 1-36 1-10 1 5 1 133 1-72 1-61 1 74 1-10 1-27 1-57 1 87 1-108 1 41 1 59 1-107 1-1 1 18 1 74 1-91 1 81 1-45 1-28 1 61 1 56 1-44 1-32 1-60 1-31 1 81 1-30 1-25 1 16 1 7 1 16 1-27 1 20 1 8 1-18 1-60 1 64 1-11 1-1 1-46 1 180 1-106 1 71 1-79 1-24 1 28 1-45 1-92 1 42 1 116 1-55 1 7 1-7 1-16 1 28 1 36 1 3 1-56 1 26 1 0 1 56 1-85 1 69 1-47 1-26 1 19 1 73 1-95 1-34 1 47 1 34 1 103 1-4 1-94 1-26 1-108 1 156 1-37 1 37 1-63 1 116 1-155 1 31 1 29 1 39 1-39 1-22 1 56 1-30 1 57 1 15 1-66 1 31 1 11 1-34 1-100 1 106 1 39 1-62 1-8 1 9 1 15 1 48 1-26 1-17 1 3 1 22 1-23 1 22 1-37 1 32 1 9 1 64 1-8 1-15 1-18 1 52 1-76 1-51 1 34 1-10 1 32 1-17 1 69 1-54 1 17 1-139 1 110 1 27 1 14 1-53 1 97 1-111 1 18 1 44 1 19 1 5 1-36 1-16 1 24 1-79 1 33 1 83 1-39 1 0 1-42 1-68 1 90 1-88 1 58 1-11 1 44 1 21 1 10 1-43 1 7 1 8 1 0 1 9 1-96 1 23 1 65 1-35 1 13 1-31 1-10 1 111 1-39 1-48 1 8 1 21 1-9 1-3 1 1 1-47 1 15 1 1 1 18 1 22 1-3 1-65 1 18 1 25 1 40 1-54 1 105 1-3 1-2 1 1 1-38 1 15 1-26 1-11 1-1 1 28 1 7 1-3 1-13 1-51 1 15 1 4 1-14 1-26 1-3 1 54 1 26 1-80 1 57 1-81 1 50 1 55 1-50 1-33 1 15 1 68 1-9 1-23 1 10 1-3 1 25 1-31 1 56 1-37 1-60 1-34 1 104 1 3 1-27 1 66 1-83 1-2 1 7 1 39 1-38 1 42 1 19 1-86 1 68 1-34 1 12 1-4 1-36 1 18 1 112 1-29 1-50 1-49 1 31 1 13 1 3 1 6 1-18 1-59 1 46 1-3 1-11 1 27 1 75 1-46 1-45 1-54 1 44 1 13 1 20 1 38 1-53 1 46 1-26 1 35 1-76 1 35 1-45 1 42 1 11 1 18 1-27 1 3 1-19 1-33 1 92 1-81 1 12 1 4 1 7 1-10 1 11 1 94 1-81 1 44 1-85 1-53 1 56 1 62 1 8 1-74 1 41 1 23 1-28 1 58 1-75 1 21 1-49 1 40 1 9 1 18 1-17 1-13 1-3 1 76 1-39 1-20 1 43 1-66 1 7 1 24"/>
<path class="g" transform="scale(0.053881,0.2)" d="M0,701l1 0 1-48 1 16 1 20 1-13 1 1 1 39 1-38 1 10 1 39 1 2 1-57 1 111 1-72 1-12 1 44 1-17 1-44 1-53 1 74 1-47 1 62 1-9 1-53 1 56 1-17 1-57 1 4 1 32 1-8 1-3 1 17 1 9 1 18 1-31 1-2 1 13 1 61 1 2 1 71 1-89 1-35 1 97 1-41 1-64 1-51 1 42 1 3 1 11 1 1 1 45 1-37 1 4 1 26 1-53 1 24 1 46 1-50 1-9 1 69 1-92 1 24 1-96 1 102 1 28 1-11 1 26 1 18 1-73 1-16 1 66 1-161 1 119 1-22 1 8 1-62 1 54 1 51 1-47 1 78 1 8 1-7 1-43 1-31 1 90 1-52 1 24 1-38 1 68 1-46 1-16 1-69 1 47 1 80 1-52 1 52 1-7 1 93 1-111 1-25 1-20 1-7 1 46 1-6 1 3 1 80 1 30 1-85 1-16 1 25 1-19 1-58 1 40 1-3 1-36 1-8 1 40 1 7 1 33 1-28 1 181 1-169 1-3 1-13 1 10 1-84 1 61 1-33 1 20 1 20 1 53 1-85 1-23 1 42 1 61 1-16 1-62 1 71 1 19 1-37 1-18 1 4 1 3 1-11 1 39 1 40 1-50 1 0 1-2 1-8 1 82 1-122 1-5 1-17 1 24 1 52 1-23 1-5 1 0 1-45 1 5 1 15 1-11 1 66 1-28 1 24 1-25 1 5 1 21 1-5 1-50 1-25 1 6 1-20 1-14 1 123 1-68 1 30 1-15 1 2 1-38 1-17 1-5 1 25 1-39 1 11 1 53 1-34 1 32 1 10 1 28 1-29 1-2 1-3 1 58 1-27 1 25 1 39 1-41 1 16 1-78 1 19 1-77 1 109 1 3 1-31 1 6 1 48 1 9 1 2 1 5 1 6 1-47 1-67 1 20 1 75 1-72 1 76 1-24 1 7 1-49 1 47 1 0 1 22 1-62 1-46 1 51 1-9 1-65 1 65 1 64 1-40 1 18 1 7 1-34 1 51 1-22 1 37 1-25 1-39 1-20 1 31 1-14 1 25 1 8 1-19 1-6 1 45 1-1 1-43 1-58 1 55 1-4 1-25 1 14 1-6 1-7 1-14 1-83 1 79 1-1 1 26 1-1 1-20 1 3 1-4 1 47 1 2 1-45 1-33 1 46 1-39 1 1 1 23 1 12 1-33 1 95 1-67 1 36 1-40 1 55 1-12 1 6 1-24 1-27 1 9 1 19 1 13 1-83 1-30 1 42 1 3 1 50 1-43 1-30 1 42 1-27 1 34 1-48 1-18 1 36 1-7 1 6 1-5 1-6 1 25 1-6 1 2 1-12 1 20 1 1 1-4 1 4 1 41 1-4 1-58 1-14 1 19 1 3 1 36 1-89 1 53 1-9 1 70 1-82 1 41 1 13 1-24 1-13 1-8 1 9 1 35 1 13 1-3 1-63 1 29 1-46 1 41 1 34 1 16 1 9 1-33 1-49 1 14 1 59 1-36 1 61 1-54 1 18 1-48 1-8 1 50 1-16 1-18 1-28 1-9 1 58 1-11 1 53 1-53 1 40 1 12 1-60 1-16 1 38 1-3 1 3 1 27 1 8 1-26 1 0 1 13 1-53 1 66 1-31 1-46 1 49 1-25 1 12 1-31 1 60 1-62 1 28 1 0 1 21 1-49 1 63 1 45 1-62 1-89 1 59 1-24 1-70 1 108 1-21 1 9 1-4 1-7 1-13 1 19 1-1 1-18 1 25 1 5 1-21 1 2 1 10 1 50 1-51 1 0 1 60 1-25 1-57 1 41 1 31 1 32 1-34 1-18 1-21 1-6 1 18 1 23 1-62 1 3 1 51 1 27 1-75 1 27 1-15 1-32 1 1 1 39 1 78 1-79 1 10 1-43 1 39 1 18 1-64 1 42 1-17 1-33 1 3 1 23 1-5 1-2 1 0 1 25 1 0 1-28 1-5 1 47 1-2 1 5 1 9 1-19 1 18 1 19 1-39 1-28 1 74 1-28 1-9 1 5 1 10 1-47 1-36 1 43 1-66 1 53 1 111 1-83 1 24 1 48 1-4 1 10 1-84 1 55 1 8 1-35 1-9 1 46 1-50 1-11 1 56 1-22 1-41 1 30 1-41 1-1 1 76 1 75 1-65 1-87 1-2 1 40 1-11 1 10 1 15 1 0 1 50 1-33 1 29 1-37 1-22 1 25 1-19 1-20 1-95 1 123 1-23 1 23 1 13 1-17 1 84 1-60 1-5 1 11 1-84 1 59 1-7 1 47 1-17 1 21 1-50 1 14 1-81 1 96 1-62 1 8 1-22 1 28 1-25 1 61 1-95 1 51 1 19 1-4 1-24 1 19 1-8 1-24 1 30 1-21 1 41 1 28 1-22 1 4 1-45 1 40 1-36 1 2 1 52 1 32 1-49 1-13 1-25 1 23 1-13 1 23 1 3 1-30 1-6 1 7 1 16 1-7 1 38 1-37 1-75 1 55 1-7 1-15 1-14 1 66 1-17 1-65 1 42 1 18 1 45 1-26 1-20 1 10 1-4 1-51 1 32 1 58 1-56 1 61 1-7 1 11 1-93 1 50 1-1 1-68 1 158 1-76 1-9 1 3 1 14 1 28 1-47 1 21 1-15 1-10 1-1 1 33 1-10 1-23 1 11 1-9 1-17 1-10 1 26 1 34 1-12 1-13 1 36 1 18 1 18 1-73 1 27 1-39 1 37 1-15 1-11 1-4 1 2 1-4 1 19 1 46 1-60 1 7 1 13 1 20 1-53 1-29 1 31 1-1 1 32 1-7 1 6 1-18 1 13 1 7 1-28 1 7 1-1 1 21 1-58 1 25 1-38 1 48 1 8 1-18 1 42 1-36 1-50 1 25 1 36 1-16 1-18 1 43 1 20 1-73 1 24 1 34 1-26 1 0 1 40 1-37 1 8 1-34 1 136 1-76 1 6 1 35 1-45 1 33 1 18 1-27 1-26 1 27 1-37 1 51 1 26 1-85 1-41 1 38 1 54 1-30 1-17 1 17 1 15 1 32 1-62 1 82 1-79 1 63 1-21 1-47 1 54 1 12 1-10 1-19 1-2 1-16 1 17 1-39 1 68 1 16 1-40 1 3 1-5 1 26 1-28 1 7 1 19 1-75 1 44 1 72 1-59 1-60 1 47 1 9 1-2 1-20 1-52 1 72 1 9 1-104 1 24 1 13 1 18 1-31 1 74 1-11 1-47 1 53 1-9 1-30 1 20 1-27 1-12 1 16 1 13 1 15 1-17 1-12 1 37 1-32 1 1 1-26 1 33 1 8 1-67 1-21 1 23 1-8 1-9 1 134 1-29 1 2 1-50 1 54 1 18 1-45 1 8 1 45 1-31 1-17 1-67 1 23 1 36 1-24 1 63 1-91 1 54 1-26 1 17 1-53 1 27 1 79 1-33 1-62 1-5 1 33 1-9 1 4 1-13 1-19 1-11 1 14 1-36 1 35 1 9 1 69 1-47 1 15 1-26 1-43 1 41 1 23 1-26 1 6 1-16 1 18 1-6 1-33 1 86 1 14 1-46 1-17 1 3 1 28 1 55 1-27 1-29 1 64 1-17 1-27 1-4 1-16 1 56 1 1 1-12 1-41 1 12 1 6 1-11 1-35 1-3 1-17 1 51 1-13 1-1 1 45 1-2 1 14 1 2 1-37 1 49 1-86 1 1 1 17 1 19 1-24 1-53 1 58 1 3 1-32 1 73 1-16 1-14 1-21 1 3 1 21 1-74 1 37 1 21 1 24 1-6 1-58 1 42 1-27 1 16 1 21 1-75 1 33 1 58 1-31 1-9 1-60 1 41 1 68 1-34 1 16 1 3 1 37 1-62 1-52 1 55 1-53 1 62 1 1 1-56 1 40 1-40 1 46 1 4 1-14 1-49 1 28 1-5 1-102 1 51 1 79 1-3 1-35 1-34 1 80 1-17 1-15 1-8 1-14 1-60 1 32 1 59 1 63 1-36 1 31 1-35 1-5 1 25 1-1 1 8 1-82 1 8 1 41 1 24 1-44 1-11 1-29 1 31 1-19 1 43 1 22 1-40 1 9 1-14 1 77 1-12 1-7 1 35 1-23 1-14 1 38 1-54 1 2 1 3 1-9 1 11 1 34 1 100 1-82 1-8 1-11 1-7 1-10 1-41 1 60 1 41 1-25 1-17 1-51 1 34 1-12 1-40 1-2 1 5 1-26 1 55 1-27 1 52 1-16 1 7 1-75 1 76 1 8 1-82 1 61 1-10 1 91 1-95 1 74 1-54 1-14 1 26 1 13 1-51 1 12 1 41 1-19 1-21 1-11 1-64 1 99 1-12 1-16 1-18 1 32 1-31 1 35 1-15 1 6 1 7 1-39 1 39 1 2 1 15 1-26 1 68 1-73 1 18 1 22 1-17 1 22 1 24 1 60 1-99 1-42 1 5 1 57 1-38 1 9 1 23 1 63 1-69 1 7 1 91 1-64 1-61 1 12 1-15 1 11 1-36 1 66 1-35 1 7 1 85 1-79 1-53 1 43 1 5 1 5 1-36 1 32 1 6 1 24 1-35 1-6 1-65 1 22 1 76 1-17 1-10 1-14 1-16 1 1 1-15 1 34 1-3 1-40 1-19 1 70 1 0 1-5 1-42 1-4 1-1 1-35 1 22 1 34 1-35 1 59 1-75 1-74 1 43 1 79 1-24 1 1 1 27 1-56 1-27 1 11 1 88 1-28 1 45 1 17 1-47 1-7 1-45 1 70 1-89 1 85 1-29 1-19 1 37 1-32 1 9 1-44 1 35 1 23 1 42 1-65 1-7 1-5 1 43 1-18 1-6 1 38 1-37 1 52 1 26 1-50 1 23 1-10 1-41 1-31 1 1 1 43 1 7 1 3 1-8 1 26 1-62 1 30 1-6 1 13 1 40 1-57 1 37 1-6 1-2 1-7 1-17 1 18 1-4 1-3 1 26 1-45 1-17 1 33 1-34 1-14 1 90 1-3 1-59 1 25 1 9 1-26 1 37 1-6 1-32 1-34 1 39 1-25 1 39 1 20 1 9 1-7 1 22 1-7 1 4 1-34 1-11 1-17 1 2 1 28 1-11 1 32 1-34 1 32 1-44 1-28 1 92 1 4 1 41 1-98 1 4 1 21 1 25 1-27 1 3 1 4 1-22 1 3 1 67 1-92 1 28 1 8 1-18 1 2 1 57 1-27 1-12 1-28 1 56 1-13 1 9 1-32 1 38 1-1 1-54 1 15 1 65 1-40 1-74 1 54 1-16 1 13 1-15 1 1 1-26 1 25 1 27 1-45 1 12 1 54 1 48 1-26 1 74 1-51 1-23 1-24 1 78 1-81 1 3 1-47 1-4 1 44 1 45 1-2 1-39 1 24 1-27 1-16 1-32 1 1 1 8 1-19 1 63 1-21 1-53 1 78 1-65 1 8 1-3 1 8 1 56 1-53 1 54 1-58 1 36 1 92 1-56 1-114 1 21 1 50 1-25 1 20 1-81 1 15 1 15 1-18 1-4 1 72 1 50 1-3 1-41 1 9 1 0 1-42 1-3 1 9 1 40 1-44 1 57 1 6 1-23 1 35 1-8 1-70 1-4 1-23 1 121 1-58 1 10 1 45 1-27 1 9 1-28 1 2 1 10 1-69 1 9 1 58 1-17 1 55 1-76 1 52 1-30 1-27 1 2 1-6 1 96 1-33 1-45 1-28 1 24 1 75 1-74 1-4 1 5 1-15 1-41 1-22 1-4 1 95 1-63 1 2 1 42 1-11 1-43 1 51 1 38 1 15 1-9 1-7 1 46 1-38 1 6 1 65 1-75 1-46 1 58 1-50 1-7 1 18 1-1 1-12 1 19 1 23 1-26 1-45 1 14 1 30 1 8 1-119 1 103 1-41 1 43 1-9 1 17 1-24 1 9 1 10 1 3 1-2 1-4 1-47 1 66 1-22 1-74 1 46 1-18 1 50 1-20 1-33 1 52 1-7 1-12 1 60 1-51 1-23 1 41 1-37 1 24 1-39 1-17 1 75 1-11 1 13 1 66 1-89 1 39 1-17 1 17 1 15 1-42 1-18 1 28 1-31 1 15 1-4 1 9 1-1 1-12 1-35 1 28 1-39 1 88 1-5 1-8 1 5 1 68 1-35 1-128 1 48 1 23 1-39 1 34 1 42 1-98 1 28 1-13 1 5 1 19 1 31 1 45 1-33 1 7 1 21 1-57 1-9 1 14 1 20 1 44 1-34 1 22 1-43 1-13 1 30 1 5 1-43 1 53 1 0 1 28 1-49 1 27 1 45 1-72 1 5 1-13 1 52 1-15 1 26 1-56 1 53 1-51 1-12 1 68 1-58 1-13 1-44 1 82 1-38 1 13 1 8 1 73 1-60 1 40 1-17 1-6 1 10 1-29 1 54 1-83 1-9 1 48 1-46 1 3 1-23 1-19 1 64 1-33 1 20 1-36 1 4 1 19 1 16 1-80 1 12 1 37 1-6 1 24 1-58 1 25 1 52 1-26 1 39 1-86 1-30 1 124 1-26 1 7 1 19 1-12 1-44 1-16 1 44 1-42 1-13 1 38 1 4 1-6 1-5 1-10 1 9 1 97 1-141 1 82 1-27 1 61 1-70 1 90 1-115 1 14 1 61 1-64 1-22 1 5 1 8 1 65 1-22 1-9 1-10 1-48 1 11 1 78 1-11 1-45 1-1 1 36 1-31 1 6 1-9 1 40 1-74 1 39 1 48 1-38 1 4 1 16 1-4 1-53 1 54 1 30 1 18 1-50 1-5 1-5 1-23 1 21 1-57 1 47 1 2 1-7 1-18 1 14 1 20 1 6 1-8 1-9 1-8 1 19 1-18 1 38 1-68 1-11 1 101 1-51 1 36 1-80 1 61 1 17 1-1 1-33 1 32 1-46 1 37 1-13 1 31 1 10 1 18 1-25 1 50 1-31 1-67 1-26 1 10 1 36 1 19 1-18 1-1 1 14 1-35 1 14 1 34 1 26 1-16 1-72 1 39 1 5 1-22 1-36 1 72 1-37 1 11 1-10 1-20 1 36 1-35 1-15 1 45 1-32 1-18 1 6 1 51 1-33 1-20 1 15 1 20 1-15 1-9 1 9 1 65 1-36 1 15 1-40 1 12 1-44 1 34 1-113 1 101 1 4 1-40 1 58 1 7 1 84 1-119 1 29 1-28 1-46 1 31 1 44 1-16 1-19 1 32 1 5 1-45 1-6 1 53 1 26 1 6 1-70 1-69 1 64 1 41 1 10 1-62 1 62 1-10 1-37 1-8 1 14 1-59 1 26 1 16 1 21 1-10 1-14 1-11 1 18 1 28 1 29 1-49 1 54 1-24 1 1 1-37 1 2 1-23 1 7 1 13 1 34 1-28 1 15 1 28 1-5 1 17 1-44 1 13 1-32 1 55 1-17 1-40 1 82 1-55 1 4 1 29 1 3 1-15 1-25 1 22 1-6 1-17 1 31 1 29 1-55 1 15 1-21 1-40 1 40 1 14 1 31 1-71 1-33 1 62 1 27 1-31 1 26 1-31 1 70 1-25 1 22 1-27 1-4 1 69 1-75 1 37 1-25 1 2 1-36 1 94 1-59 1 13 1 14 1-26 1-8 1 26 1 0 1 59 1-15 1-42 1-94 1 97 1-46 1-48 1 50 1-42 1-5 1 85 1-7 1 19 1 5 1 11 1 27 1-5 1-48 1 39 1-51 1 34 1-2 1 7 1 27 1 6 1-17 1 13 1 5 1-31 1 17 1 6 1 29 1-19 1-20 1 6 1-13 1-7 1-3 1 27 1-62 1 33 1-18 1 42 1-64 1 24 1 4 1-64 1-22 1 31 1 84 1 17 1-17 1 41 1-67 1 12 1-73 1 2 1 54 1-55 1 28 1 38 1-40 1 32 1-21 1 30 1-54 1 22 1 11 1-51 1-1 1 34 1 22 1-17 1 26 1-34 1 14 1-25 1-26 1 16 1 37 1-10 1 31 1-20 1-23 1 21 1 13 1 61 1-92 1 23 1-11 1-45 1-17 1-11 1 35 1 35 1-10 1-26 1 26 1 13 1-23 1-45 1 55 1-23 1 27 1-28 1 22 1-4 1-17 1 5 1-29 1-28 1 5 1 42 1-31 1-33 1 31 1 28 1-60 1 13 1-24 1 13 1 69 1 1 1-45 1 26 1 47 1 6 1-95 1 39 1-14 1 45 1-3 1-41 1 52 1 5 1-62 1 27 1-5 1 9 1 12 1 1 1 65 1-17 1-62 1 66 1-75 1 10 1-20 1 23 1-11 1 32 1 22 1 5 1-6 1-37 1-18 1-1 1 41 1-7 1 34 1-181 1 160 1 2 1-104 1 136 1 5 1-33 1 100 1-48 1-33 1 59 1-49 1 7 1 6 1 41 1-77 1-3 1 16 1-16 1-15 1 1 1-6 1-1 1-14 1 96 1-24 1-48 1-86 1 155 1-19 1-32 1-7 1-32 1 84 1-20 1-22 1-13 1 3 1-37 1 50 1-93 1 21 1 12 1 22 1 63 1 7 1-40 1-29 1 17 1-1 1-19 1 2 1-59 1 50 1 65 1-8 1 63 1-63 1 13 1 8 1-55 1 9 1-17 1 8 1 38 1-10 1 8 1-47 1 68 1-81 1 61 1-14 1-40 1 42 1 15 1 7 1-14 1-18 1 10 1-9 1-15 1-36 1-39 1 61 1 80 1-53 1 9 1 5 1-22 1 22 1-52 1 12 1-7 1 13 1-19 1 52 1-42 1-17 1 11 1 30 1 5 1-31 1 9 1-7 1 42 1 5 1 58 1-102 1 16 1-16 1-14 1-16 1 35 1-4 1-35 1 6 1 91 1-21 1-156 1 79 1 76 1-4 1-22 1-14 1-46 1 18 1 82 1-64 1 72 1 37 1-87 1-23 1 8 1 42 1-53 1 23 1 31 1-102 1 22 1 106 1 2 1-61 1 42 1-11 1-1 1-68 1 66 1-64 1 71 1-31 1-26 1 39 1-8 1 49 1-39 1-16 1-26 1 52 1-32 1-8 1 59 1 23 1-25 1-90 1-12 1 37 1-21 1 45 1-34 1 25 1-21 1 77 1-16 1 24 1-38 1-20 1-21 1 23 1 58 1-19 1-34 1-17 1 26 1-27 1-20 1 50 1 18 1-5 1 35 1-32 1 6 1 4 1-24 1-38 1 26 1-32 1 19 1 1 1-19 1 21 1 18 1 13 1-2 1-44 1 24 1-23 1 28 1 39 1-24 1 7 1-51 1 40 1 31 1-64 1-31 1 41 1 67 1-73 1-20 1 30 1-26 1-15 1-11 1-11 1-33 1 98 1 104 1-99 1-15 1 7 1 24 1-39 1 11 1-10 1 17 1 65 1-40 1-12 1-14 1 35 1-13 1-33 1-19 1 34 1 2 1-48 1 18 1-30 1-66 1 66 1-3 1 69 1-1 1-69 1-2 1 6 1 20 1 37 1-17 1-41 1 4 1 26 1-39 1 61 1-41 1-22 1 78 1 1 1-8 1-11 1 23 1-9 1-20 1-62 1 72 1 12 1-11 1 10 1 25 1-64 1-24 1 27 1-56 1 12 1 78 1 5 1 32 1-39 1 19 1-7 1-7 1-5 1 46 1-14 1-57 1 78 1-44 1 21 1-7 1-28 1 41 1-4 1-85 1 29 1 29 1-43 1 93 1-68 1 23 1-42 1 86 1 10 1-68 1 17 1-64 1 79 1-2 1-19 1-22 1 19 1 29 1-9 1-29 1 86 1-42 1-21 1 58 1-76 1-40 1 29 1 85 1-8 1-143 1 68 1-20 1 9 1-26 1 6 1-52 1 13 1 69 1-89 1 79 1 64 1-100 1-17 1 48 1 18 1-18 1-15 1 27 1-39 1 75 1-23 1 21 1 9 1-13 1-44 1 76 1-15 1-68 1-21 1 40 1-18 1 37 1-48 1-12 1-32 1 36 1-23 1 17 1-49 1-51 1 115 1-25 1 62 1-46 1 66 1 15 1 16 1-7 1-20 1-74 1 44 1-20 1-33 1 62 1-36 1 40 1-10 1-30 1 0 1 44 1 46 1-63 1-12 1 17 1 6 1 28 1-11 1-41 1 40 1-79 1-7 1 34 1 19 1-16 1-1 1 56 1-38 1 7 1-18 1 24 1 23 1-32 1 12 1-34 1 27 1-4 1 58 1-6 1 5 1 87 1-64 1-26 1-8 1-4 1-5 1 27 1-20 1-62 1 38 1 37 1-82 1 48 1 83 1-44 1-39 1 79 1-86 1-2 1-45 1 2 1 42 1-12 1-84 1-57 1 91 1-1 1 29 1 16 1-33 1 82 1-40 1-32 1-8 1-19 1-37 1 23 1 25 1 31 1 19 1-20 1-39 1 82 1 7 1 2 1-3 1-78 1 20 1-16 1 32 1 17 1 3 1-37 1-20 1 22 1-39 1 24 1-12 1 62 1-46 1 36 1 55 1-95 1-20 1 38 1 17 1-2 1 18 1-14 1-43 1 34 1 27 1-30 1-4 1 7 1 52 1-58 1-14 1 36 1-12 1-3 1 35 1-17 1 5 1 11 1-39 1-32 1 75 1-18 1 6 1-31 1 67 1-43 1-13 1-7 1 62 1-60 1 11 1 43 1-86 1-17 1 25 1-52 1 42 1 34 1-30 1 40 1-62 1-3 1 84 1-11 1-57 1 23 1 115 1-39 1-55 1 174 1-154 1 4 1-60 1 23 1 50 1-2 1-15 1-37 1-25 1-33 1 127 1-6 1-33 1 29 1-47 1-12 1-3 1 30 1 66 1 16 1-64 1 13 1-7 1-40 1-42 1 139 1-95 1 51 1-8 1-39 1 42 1-37 1 6 1 47 1-68 1-15 1 36 1 24 1-45 1 1 1 14 1-10 1-9 1 13 1-39 1 42 1 13 1 3 1-79 1 56 1 73 1-19 1 16 1 3 1-81 1 68 1-28 1 29 1 44 1-9 1-16 1-91 1-27 1 73 1 24 1-49 1-3 1 20 1-8 1-43 1 19 1-14 1 39 1-3 1 1 1 42 1-74 1 21 1-11 1-23 1 142 1-66 1 7 1-74 1 19 1 64 1 4 1-29 1-55 1 13 1 34 1 47 1-76 1 29 1-6 1-33 1 22 1 54 1-141 1-14 1 24 1 63 1 23 1-46 1 44 1-64 1 8 1-14 1 10 1 11 1 8 1-43 1 26 1 9 1-11 1 26 1 5 1-83 1 27 1 14 1 17 1 31 1 10 1-11 1 48 1-24 1-25 1-13 1 72 1-13 1-28 1 3 1 59 1-96 1-35 1 51 1 27 1 36 1-62 1-8 1-40 1 57 1-26 1 158 1-73 1-39 1 26 1-60 1 18 1-2 1-27 1 44 1-15 1 15 1-50 1-3 1 17 1-38 1 29 1-4 1 31 1-80 1 56 1 13 1-122 1 125 1 23 1-21 1 14 1 26 1-29 1-14 1 25 1 13 1-64 1 56 1-9 1-64 1 83 1 8 1-10 1 9 1 11 1 17 1-105 1-10 1 56 1 79 1-111 1 29 1 52 1-35 1-10 1 1 1-20 1-77 1 43 1 8 1 15 1-9 1 17 1-7 1-8 1 28 1 33 1-5 1 35 1-64 1 12 1 14 1-32 1 71 1 13 1-99 1 45 1-54 1 42 1-20 1-1 1 28 1 48 1-11 1-79 1-16 1 57 1 19 1-16 1-17 1-71 1 49 1-30 1 34 1 38 1-65 1 56 1-43 1 8 1-53 1 85 1-22 1 10 1 42 1-84 1 52 1 52 1-19 1-91 1-13 1 62 1-3 1-57 1 50 1 26 1-23 1 29 1-9 1 31 1-25 1 4 1 2 1-62 1 43 1-7 1-9 1-13 1 7 1 3 1 36 1-4 1-47 1 27 1-17 1 14 1-7 1 6 1 15 1 1 1-23 1 16 1-21 1 25 1-11 1 49 1-68 1 22 1-33 1 7 1 43 1 19 1-52 1 87 1-23 1-97 1 1 1 45 1-21 1 32 1 6 1-29 1-4 1 6 1-60 1 154 1 63 1-103 1-42 1-8 1 71 1-1 1-50 1-118 1 92 1 29 1-15 1 3 1-38 1 24 1-42 1 44 1-44 1 43 1 19 1-1 1-79 1 118 1-12 1-34 1 44 1-14 1 32 1-64 1 9 1 20 1 14 1 16 1-80 1 26 1 26 1-7 1-31 1 12 1 24 1-21 1 16 1-5 1 0 1 5 1 2 1-13 1 16 1 4 1-20 1 3 1 34 1-24 1 46 1 4 1-56 1 26 1 13 1-27 1 76 1-22 1-30 1-58 1 31 1-2 1 24 1-20 1-12 1-46 1 68 1-23 1-6 1-30 1 35 1-37 1-6 1 114 1-84 1-11 1 26 1-22 1-49 1 8 1 12 1 22 1-5 1 68 1-28 1-29 1 16 1-28 1-10 1 69 1-46 1 10 1-28 1 8 1-29 1 12 1 52 1-51 1 87 1-93 1 76 1-26 1 2 1-30 1 37 1-49 1 27 1-5 1 52 1-5 1-14 1-17 1-15 1 39 1-13 1-12 1-34 1 4 1 8 1 9 1 19 1 7 1 2 1 13 1-10 1 29 1-32 1-13 1-19 1 47 1-1 1 4 1-4 1 43 1-17 1-8 1-23 1-35 1-35 1 77 1-45 1-15 1-9 1 15 1-81 1 63 1 48 1 19 1-48 1 54 1 1 1-4 1 1 1-74 1 10 1 23 1 27 1-86 1 30 1 21 1 7 1 6 1 22 1-61 1 65 1-50 1 44 1 18 1-23 1 7 1 25 1-39 1-29 1 68 1 14 1-94 1 48 1 24 1 4 1-2 1-38 1 36 1-32 1 24 1-6 1-3 1 14 1-32 1-18 1 20 1 26 1-1 1-10 1-40 1 59 1-23 1 37 1-8 1-47 1 47 1 4 1-28 1-8 1-27 1-29 1 42 1 65 1-49 1 12 1-20 1-27 1 37 1-14 1 40 1-9 1 8 1-28 1 3 1-21 1-73 1 45 1 15 1-25 1 46 1-44 1 9 1-18 1 40 1-12 1 16 1 74 1-35 1-61 1-9 1 50 1-25 1 4 1-41 1-21 1 100 1-24 1-47 1 6 1 24 1 29 1-54 1-24 1 30 1 4 1 24 1 105 1-64 1 25 1-35 1-26 1-38 1 4 1 20 1-19 1 65 1-78 1 7 1-105 1 188 1 1 1-14 1-34 1 15 1-84 1 26 1 33 1 30 1 3 1-42 1 43 1-44 1-12 1 42 1-10 1-36 1-57 1 17 1 22 1 78 1-11 1-51 1-12 1 6 1 25 1-52 1 88 1-12 1 30 1-19 1 18 1-27 1 19 1-9 1-6 1 17 1-77 1-24 1 54 1 33 1-84 1 86 1-9 1-12 1 2 1-17 1-24 1 55 1-85 1 46 1 9 1-28 1 13 1 50 1-57 1 36 1 21 1-35 1-10 1-9 1 59 1-47 1-67 1 129 1-26 1-74 1 57 1 0 1 18 1 59 1-46 1-40 1-26 1 1 1 37 1-31 1 39 1 34 1-38 1 30 1-52 1-43 1 9 1-13 1 34 1 7 1-11 1 21 1-7 1 4 1 12 1 29 1-25 1 6 1 7 1-39 1 27 1 28 1-24 1-63 1 0 1 24 1 32 1 2 1 26 1-2 1-32 1-31 1 14 1-8 1-53 1 9 1 30 1 3 1 15 1 25 1-40 1-24 1 57 1 10 1-6 1 32 1-3 1-51 1-49 1 91 1 5 1-20 1-19 1-26 1 46 1 44 1 5 1-10 1-89 1-11 1-28 1 46 1 38 1-17 1-38 1 39 1-45 1-17 1 17 1 90 1-69 1 23 1 60 1 8 1-80 1 26 1-31 1 60 1-32 1-63 1 85 1 4 1 33 1-28 1 57 1-57 1 20 1 2 1-7 1-2 1 10 1 6 1 9 1 47 1-97 1 18 1 3 1-26 1-28 1 53 1-33 1 7 1-24 1-24 1 22 1-93 1 182 1-46 1-9 1-51 1-41 1 32 1 31 1 11 1 2 1-11 1 45 1-33 1-23 1 96 1-27 1-63 1 51 1-41 1-9 1 8 1-22 1 4 1 5 1 37 1-9 1-20 1-8 1-40 1 53 1-32 1 39 1 41 1-50 1 28 1-18 1 50 1-65 1 32 1-19 1 43 1 10 1-22 1-19 1-30 1 32 1-1 1-26 1 27 1-28 1 1 1 56 1 12 1 53 1-71 1 44 1-19 1-32 1-9 1-37 1-9 1 19 1-38 1-4 1 22 1 44 1-22 1 34 1-25 1-13 1 36 1-31 1-8 1 2 1 38 1 18 1 10 1-12 1-78 1 66 1 58 1-71 1-1 1 15 1 51 1-25 1-59 1 46 1-9 1 28 1-38 1 56 1-53 1 57 1-13 1-16 1-21 1 22 1-32 1-2 1-17 1-18 1-34 1 45 1 54 1 28 1-51 1-120 1 27 1 101 1-15 1-40 1 50 1-24 1-15 1-48 1 47 1-13 1 5 1-18 1-54 1 38 1 24 1 16 1-18 1-33 1-34 1 51 1-33 1 32 1 57 1 67 1-122 1 14 1 17 1-34 1-39 1 33 1 6 1 16 1 84 1-15 1-12 1-2 1 14 1-30 1-53 1 58 1-75 1 20 1 24 1-18 1-51 1 98 1-42 1 61 1 3 1-88 1 37 1 46 1-25 1 15 1-70 1 72 1 1 1 15 1-52 1 60 1-121 1 96 1-14 1-19 1-12 1 20 1-9 1-29 1-7 1 20 1-28 1 62 1-18 1-66 1 8 1 62 1 7 1-5 1-52 1 74 1 6 1-8 1 45 1-42 1-1 1 25 1-28 1 23 1 17 1-7 1-28 1 24 1-20 1-4 1 66 1-28 1-25 1-28 1 10 1 28 1-26 1 15 1 27 1-12 1-78 1 104 1-46 1-19 1 0 1 45 1-67 1 36 1 33 1 23 1-101 1 113 1 11 1-78 1 43 1-52 1 20 1 28 1-31 1 54 1 35 1-32 1-15 1-42 1 6 1-24 1 6 1-16 1 30 1-10 1-43 1 17 1 53 1 4 1 4 1-25 1 24 1 3 1 45 1-13 1-23 1-28 1 48 1-28 1 1 1-11 1-9 1-11 1 21 1 80 1-64 1-32 1 8 1-31 1 62 1 13 1-53 1 29 1-52 1 22 1-6 1 6 1-6 1 20 1-13 1 39 1-63 1 53 1 30 1-44 1 11 1-8 1-40 1 71 1-29 1 12 1-14 1 2 1 58 1-43 1-12 1 110 1 27 1-134 1-33 1 42 1-4 1-6 1 15 1 2 1-18 1 26 1-52 1 23 1 66 1-90 1 46 1-6 1-33 1 13 1 7 1 13 1 5 1-2 1 44 1-19 1-33 1-8 1-24 1 53 1 16 1-52 1-51 1 38 1 30 1-3 1 1 1 61 1-87 1 1 1 48 1-45 1 25 1-14 1 61 1-16 1 24 1-143 1 24 1 55 1 41 1-70 1 2 1 57 1-46 1 38 1 78 1-77 1-91 1 73 1 1 1 13 1 46 1-113 1 41 1 1 1-34 1 5 1-14 1 39 1 24 1 21 1-56 1-23 1 44 1-27 1-7 1 10 1-48 1 39 1 17 1 29 1 26 1-33 1-23 1 67 1-26 1-74 1-26 1 85 1-55 1-24 1 5 1 65 1-111 1 101 1 21 1-103 1 49 1-5 1-21 1-15 1 2 1-11 1 59 1-61 1-90 1 148 1-21 1-56 1 76 1 22 1-41 1 30 1-24 1 65 1 15 1-79 1 0 1-60 1 51 1-87 1 33 1 39 1-31 1-13 1-1 1 33 1-79 1 83 1 7 1 11 1 50 1-62 1 11 1 62 1-77 1 0 1-62 1 18 1 22 1 5 1 5 1 8 1-48 1 7 1 27 1 12 1-37 1 73 1-2 1-55 1-41 1 96 1 1 1-64 1 11 1 46 1-26 1 22 1 21 1-1 1-53 1 25 1 18 1-25 1 11 1-16 1 15 1 45 1-35 1-27 1 28 1-26 1-48 1 15 1 18 1-67 1 51 1-20 1 54 1 18 1-8 1-26 1 22 1-18 1-5 1 34 1 35 1-6 1 19 1-63 1 63 1 0 1-44 1 18 1-33 1-84 1 97 1 8 1-25 1-9 1 46 1-20 1-18 1 18 1 39 1-35 1 44 1-51 1-45 1 26 1 7 1-5 1 35 1 1 1-27 1 46 1 32 1-41 1-46 1 0 1-52 1 9 1 56 1 6 1 14 1 18 1-47 1 62 1 0 1-57 1-28 1 2 1 46 1 1 1 1 1-34 1 50 1-71 1 47 1-17 1 6 1 9 1-26 1 22 1 0 1 12 1 37 1-31 1-31 1-1 1-27 1-11 1 19 1 18 1 7 1-15 1 51 1 1 1-13 1 30 1-73 1-114 1 71 1 68 1-42 1 35 1 23 1-38 1 45 1-3 1-35 1 3 1-11 1 7 1 35 1 7 1-31 1-43 1 26 1 31 1 24 1-75 1-13 1 88 1-40 1-23 1 11 1 4 1-15 1 41 1 48 1-58 1-10 1 0 1 34 1-8 1 21 1-33 1-52 1 12 1 66 1-5 1-21 1-59 1 113 1-30 1 57 1-12 1 30 1 20 1-50 1-18 1-23 1 40 1-28 1 2 1-61 1 57 1-40 1 65 1-71 1 118 1-36 1-10 1-20 1-11 1-9 1 7 1-8 1 1 1 7 1 7 1-26 1-15 1 17 1 25 1 11 1-56 1-1 1 46 1 0 1-14 1 4 1-18 1 15 1 5 1 11 1-45 1-8 1-17 1 73 1 8 1-42 1 21 1 0 1-42 1 10 1 75 1-64 1 27 1 32 1-70 1 11 1 21 1 20 1-21 1-17 1 21 1 34 1-28 1-27 1 5 1-50 1 37 1 19 1 12 1-5 1-18 1-68 1 19 1 10 1 47 1-38 1 1 1-6 1 31 1 19 1 8 1-18 1-17 1-43 1 34 1 46 1-16 1 5 1-34 1 20 1 8 1 2 1-15 1 56 1-57 1-11 1 54 1-36 1 22 1 2 1-8 1 22 1-19 1 29 1-48 1 3 1 4 1 36 1-2 1 15 1-42 1-9 1 19 1-32 1 30 1-53 1 43 1-48 1 29 1-11 1 2 1-37 1 32 1 5 1-22 1 17 1-9 1 3 1-45 1 24 1 43 1-40 1 66 1-4 1-39 1 9 1 33 1-54 1 13 1 52 1 22 1-7 1 98 1-92 1-18 1 4 1-2 1 11 1-11 1-19 1 45 1-18 1-29 1 37 1-35 1-22 1-10 1 10 1 47 1-21 1-11 1-5 1 21 1-27 1-27 1 13 1-19 1-11 1-17 1-5 1 62 1 17 1-23 1 9 1-19 1 55 1-70 1 83 1 72 1-133 1-15 1 37 1 81 1-76 1 1 1-3 1 38 1-30 1 5 1-63 1 87 1-2 1 6 1-18 1-7 1-8 1-19 1-16 1-37 1 44 1-20 1-45 1 67 1-11 1-7 1 26 1 58 1-48 1 3 1-22 1-4 1-19 1 37 1-50 1 20 1 58 1-45 1-102 1 64 1 52 1 21 1-40 1-16 1 8 1-11 1-39 1 54 1 30 1 20 1-33 1-13 1 16 1-19 1-6 1 10 1-22 1-7 1 30 1 15 1 5 1-28 1 77 1-44 1-54 1 8 1 56 1-48 1 11 1 0 1 37 1-4 1 51 1-66 1 13 1-64 1-2 1-4 1 88 1-3 1-5 1 28 1 74 1-149 1 48 1-5 1 32 1-17 1-20 1 4 1 14 1 0 1-17 1 11 1-57 1 19 1-41 1 0 1 50 1 15 1 27 1-58 1 94 1-74 1-12 1-13 1-32 1-62 1 80 1 7 1-12 1 56 1 2 1-11 1-19 1 26 1-16 1 61 1-79 1-12 1-34 1 50 1 0 1 64 1-48 1 11 1-9 1 1 1 106 1-96 1 66 1-37 1-71 1-7 1 19 1 17 1 20 1 35 1-16 1 34 1-83 1 43 1 42 1 17 1-69 1 15 1 45 1-20 1-12 1 8 1-55 1 23 1 49 1-48 1 63 1-47 1 3 1-21 1-2 1-33 1 73 1-28 1-28 1-14 1 15 1 25 1-6 1 9 1-3 1 9 1-79 1 5 1 83 1-69 1 26 1 4 1-50 1 64 1 37 1-86 1 40 1 9 1-47 1-51 1 58 1 85 1-70 1 45 1-58 1 58 1-26 1-13 1-17 1 14 1 5 1 53 1-42 1-5 1 13 1-13 1 44 1-2 1 25 1-3 1-50 1-58 1 11 1 26 1 7 1-27 1 36 1-66 1 22 1 19 1 51 1-17 1-62 1-38 1 43 1-17 1 23 1-12 1 34 1-11 1-3 1-56 1 27 1-12 1-19 1 58 1-27 1 45 1-25 1-44 1 46 1-4 1 0 1-37 1-49 1 79 1 21 1-7 1 63 1-63 1-5 1 3 1-17 1 35 1-27 1-28 1 22 1 3 1 9 1 14 1-14 1 32 1-40 1-11 1 46 1 2 1-29 1 34 1 26 1 13 1-51 1 21 1-45 1-98 1 65 1 76 1-41 1 14 1-17 1-1 1 4 1 24 1 1 1-8 1-51 1 112 1-79 1 16 1 5 1-76 1 13 1-4 1 10 1 35 1 14 1 18 1 49 1-101 1 13 1 25 1-92 1 117 1 5 1-36 1 11 1 20 1-14 1 19 1-22 1 32 1-10 1-25 1 23 1-83 1 85 1-1 1 60 1-56 1-9 1 17 1-55 1 10 1 44 1-28 1-52 1 53 1 5 1 36 1-2 1-14 1-9 1-13 1 11 1 51 1-52 1-26 1 34 1-135 1 53 1 76 1-65 1 54 1-34 1-66 1 109 1 14 1 6 1-37 1 98 1-57 1-85 1-21 1 78 1 4 1-64 1-12 1 21 1-16 1 17 1-1 1-72 1 50 1 35 1-2 1-6 1-37 1 3 1 26 1 59 1-23 1-11 1-43 1-13 1 0 1 100 1-90 1 20 1 29 1 9 1 5 1 24 1 26 1-25 1 7 1-30 1 61 1-65 1-3 1 3 1-18 1 21 1-56 1 46 1-25 1 86 1-58 1 10 1-27 1 30 1-10 1-14 1 1 1-34 1 48 1-18 1 58 1-70 1 84 1-90 1 16 1 50 1-36 1 14 1 14 1-23 1-30 1-15 1 67 1 10 1-47 1 20 1-5 1 8 1-39 1 39 1 49 1-5 1-46 1 57 1-48 1-2 1 35 1-25 1 35 1-35 1-40 1-15 1-28 1 75 1 57 1-41 1 0 1-74 1 38 1 6 1-48 1 35 1 18 1 0 1-7 1 53 1-39 1-10 1 29 1-19 1-3 1-14 1 26 1-79 1 1 1 49 1 13 1 31 1-41 1 7 1 34 1-75 1 10 1 47 1-40 1-37 1 63 1-13 1 32 1-2 1-25 1 109 1-119 1-3 1 29 1-17 1-16 1-11 1-4 1 24 1 50 1-23 1-11 1 13 1-8 1 4 1 27 1-33 1 43 1-86 1 11 1-23 1 83 1-70 1-54 1 46 1 51 1 11 1-16 1-25 1-47 1 23 1-18 1 27 1 28 1-55 1 31 1 9 1-24 1-2 1 13 1-30 1 31 1 6 1 56 1-13 1 53 1-64 1 30 1-22 1 8 1 7 1-37 1 49 1-15 1-28 1 47 1 13 1-17 1-64 1 18 1 69 1-19 1 42 1-57 1 18 1 96 1-130 1 27 1-5 1 7 1-65 1 33 1 24 1-37 1-14 1 1 1-26 1 43 1 36 1-43 1-28 1-31 1 24 1 40 1 22 1-15 1-46 1 25 1-58 1 24 1 52 1-30 1 51 1-32 1 34 1 15 1 11 1-74 1-52 1 15 1-31 1 31 1 4 1 53 1-38 1 2 1-17 1-37 1 15 1 6 1-23 1-27 1 62 1 46 1-64 1 49 1-15 1-15 1-2 1 55 1-64 1 5 1 45 1-15 1-18 1-14 1-15 1 53 1-33 1 31 1-58 1 41 1 16 1-20 1 18 1 0 1-37 1 29 1-32 1 27 1-16 1 40 1-39 1 19 1 8 1-17 1 64 1-9 1-46 1-8 1 2 1 6 1 42 1-65 1 27 1-25 1-14 1 39 1 55 1-39 1-8 1 1 1 1 1 4 1 8 1 0 1 40 1 14 1-9 1-78 1 31 1 16 1-9 1 6 1 35 1 4 1-54 1-24 1 5 1 11 1 20 1-4 1 24 1 3 1-60 1-13 1 53 1-18 1 39 1 26 1-36 1 2 1-9 1-23 1-8 1 67 1-1 1-20 1-41 1-41 1-10 1 56 1-5 1 39 1 45 1-57 1-28 1-67 1 35 1 7 1-62 1 19 1 28 1 35 1-26 1-28 1 81 1 58 1-40 1-89 1 65 1-40 1-23 1 39 1-38 1 50 1-10 1-94 1 52 1 44 1 40 1-28 1-45 1 7 1 30 1 38 1-90 1 83 1-15 1-32 1 63 1-6 1-25 1-5 1 14 1 11 1-51 1-32 1 4 1 21 1 18 1 30 1 25 1 12 1-30 1-7 1-23 1-1 1-4 1-21 1 14 1-17 1 40 1-7 1 14 1 18 1 12 1 1 1 3 1-83 1 56 1-17 1 41 1-29 1 51 1 16 1-40 1-41 1 39 1-11 1 24 1-17 1-66 1-46 1 86 1 51 1-9 1 11 1 9 1-81 1-2 1 45 1-5 1 6 1-68 1 40 1 64 1-51 1 9 1-69 1 5 1 45 1 3 1 4 1-59 1 81 1 85 1-69 1 38 1-62 1-4 1-86 1 50 1 51 1-15 1-34 1 77 1-23 1 2 1-57 1 70 1-19 1-60 1-14 1 62 1-32 1 68 1-62 1 37 1 9 1-60 1 9 1-11 1 60 1-39 1 10 1-18 1 33 1 39 1-43 1 101 1-13 1-117 1 3 1 41 1-34 1 15 1-35 1 78 1-12 1 2 1-36 1-19 1-3 1 15 1 30 1-38 1-20 1-23 1 6 1 36 1 0 1-22 1 14 1-68 1 8 1 47 1 26 1-27 1-18 1-5 1-9 1 39 1 31 1-51 1 17 1 13 1 1 1 27 1 1 1 31 1-27 1-21 1-17 1 6 1 10 1-86 1 101 1 12 1-77 1 1 1 69 1 15 1 24 1-54 1 38 1-51 1 13 1-26 1 9 1-40 1 14 1 33 1-31 1 84 1-68 1 23 1-25 1-21 1 10 1 31 1 3 1-4 1 16 1-34 1-23 1 69 1 1 1-1 1-34 1 15 1-49 1 19 1 44 1-5 1-15 1-16 1 3 1 54 1-41 1 28 1 5 1 0 1 35 1-87 1 63 1-29 1-15 1 49 1-11 1-32 1 29 1-1 1-15 1 29 1-21 1 53 1-52 1 26 1-13 1-36 1 43 1 4 1-47 1-7 1 8 1 0 1 5 1 0 1-9 1-17 1 60 1 16 1-28 1-76 1-6 1 66 1 19 1-15 1 26 1 0 1-69 1 58 1 35 1 48 1-82 1-37 1-2 1 29 1-5 1-33 1 0 1 100 1-56 1 51 1-90 1 25 1 36 1 12 1-12 1 24 1 4 1-38 1-46 1-4 1 33 1-36 1 27 1-7 1 8 1 6 1-36 1-7 1 28 1 10 1 9 1-9 1 27 1 68 1-53 1-12 1-19 1 12 1 38 1-3 1 6 1-93 1 78 1 13 1-55 1-3 1 78 1-60 1 8 1-28 1-6 1-4 1-9 1-27 1 62 1 48 1-49 1-28 1-32 1 67 1-5 1-6 1-20 1-49 1 20 1 32 1 24 1 26 1 30 1-78 1-9 1 31 1 3 1 19 1-33 1 54 1-51 1-14 1-23 1 64 1-7 1-21 1 37 1-66 1 24 1-65 1 28 1 27 1-31 1 38 1-43 1-2 1 43 1 50"/>
</g>
<rect class="ax" x="103.9" y="103.9" width="290.9" height="86.85"/>
<path class="ax" d="M114.62,190.75H384.03M114.62,190.75v12.67M168.5,190.75v12.67M222.38,190.75v12.67M276.26,190.75v12.67M330.14,190.75v12.67M384.03,190.75v12.67M103.9,116V187.4M103.9,116h-12.67M103.9,130.3h-12.67M103.9,144.6h-12.67M103.9,158.9h-12.67M103.9,173.2h-12.67M103.9,187.4h-12.67"/>
<g transform="translate(114.62,237.1)"><text>0</text></g>
<g transform="translate(168.5,237.1)"><text><tspan class="h">1</tspan>000</text><path d="M763 0H583V1147Q518 1085 412.5 1023T223 930V1104Q374 1175 487 1276T647 1472H763Z" transform="translate(-23.49,0) scale(0.010313,-0.010313)"/></g>
<g transform="translate(276.26,237.1)"><text>3000</text></g>
<g transform="translate(384.03,237.1)"><text>5000</text></g>
<text x="249.35" y="288">Iterations 523</text>
<g transform="translate(73.1,131.1) rotate(-90)"><text>0.4</text></g>
<g transform="translate(73.1,188.2) rotate(-90)"><text>-0.4</text></g>
<text transform="translate(22.8,148.6) rotate(-90)">alpha</text>
</g>
<g transform="translate(896,320)">
<text class="m" x="249.35" y="62.2">Trace of 3|t0</text>
<g class="tr" transform="translate(114.67,0)">
<path class="k" transform="scale(0.053881,0.2)" d="M0,644l1 16 1-118 1 63 1-55 1 81 1-58 1-17 1-4 1 1 1 0 1-10 1 128 1-114 1 18 1-10 1 101 1-106 1 17 1-29 1 39 1-8 1-28 1 17 1 55 1 92 1-111 1-38 1 132 1-154 1 6 1 102 1 89 1-168 1 67 1-53 1 42 1-79 1-1 1 9 1-13 1 16 1-9 1 35 1-38 1 30 1-19 1-9 1 37 1 63 1-73 1 108 1-80 1-53 1 33 1-13 1 17 1-10 1 0 1 4 1 0 1 27 1 45 1-94 1 31 1-48 1 85 1-4 1-71 1 47 1-37 1 2 1 8 1 33 1-24 1-29 1-1 1-1 1 11 1-16 1 87 1-60 1 74 1-71 1 200 1-168 1-63 1-5 1 23 1 10 1-7 1-13 1 12 1-22 1 4 1 70 1 3 1-80 1 52 1-6 1-29 1-1 1 11 1 121 1-121 1-20 1 141 1-90 1-54 1 18 1 105 1-10 1-83 1-9 1-6 1-18 1 13 1 21 1-17 1 3 1 4 1-13 1 4 1-9 1 74 1-7 1-42 1 35 1-12 1-29 1-17 1 9 1-5 1 3 1-16 1 80 1-47 1-10 1-20 1 5 1 13 1-11 1-1 1 126 1 105 1-180 1 52 1-103 1 31 1-25 1 24 1 87 1 7 1-27 1-55 1-30 1 16 1-12 1-25 1 25 1 29 1-54 1 9 1 78 1-84 1 14 1 87 1-90 1 45 1-46 1-5 1 0 1 31 1-30 1 3 1-4 1-7 1 40 1-13 1 72 1-91 1 56 1-39 1 25 1 15 1-52 1-14 1 33 1 38 1-56 1-3 1-7 1 16 1-12 1 29 1-10 1-6 1 31 1 33 1-53 1 11 1-4 1-30 1 2 1 23 1 52 1-34 1-16 1 6 1-21 1-20 1 29 1 54 1-21 1 94 1-107 1-41 1 33 1-27 1-11 1 11 1-3 1 94 1-104 1 2 1-5 1 10 1-6 1 21 1 6 1 8 1 11 1-42 1 3 1 86 1-82 1 0 1-5 1 2 1-11 1 8 1 102 1-89 1 18 1-7 1 1 1 186 1-193 1 70 1-74 1 2 1 6 1 2 1 85 1-105 1 99 1-77 1-28 1 128 1-117 1 114 1-115 1 44 1 1 1 80 1-104 1 22 1-10 1-7 1-38 1 81 1-40 1-22 1-2 1 130 1-61 1-19 1-4 1-32 1 16 1 16 1 121 1-181 1 26 1 34 1 17 1 61 1-86 1 1 1 215 1-243 1-26 1 69 1 30 1-56 1-24 1-22 1-2 1 6 1 13 1-17 1 7 1 10 1 33 1-29 1 42 1-4 1 7 1-30 1 20 1-58 1 3 1-4 1 14 1 31 1-13 1 13 1-5 1-34 1 61 1 3 1-25 1-30 1 30 1-26 1 72 1-80 1-7 1 191 1-113 1-65 1 93 1-27 1-8 1-29 1 62 1-57 1-47 1 3 1-4 1 18 1 16 1 235 1-248 1-19 1 10 1-13 1 37 1 16 1 62 1-25 1-67 1-2 1-24 1 7 1 26 1 8 1-20 1 33 1-27 1-11 1 97 1-77 1-16 1-19 1 50 1-48 1 54 1-53 1 34 1 56 1-46 1-31 1 0 1 53 1-46 1-20 1 0 1 21 1 211 1-162 1 83 1 33 1-167 1 20 1-9 1 26 1-59 1 28 1 32 1 65 1 5 1-61 1-18 1-3 1 202 1-172 1-9 1 6 1-64 1 27 1 50 1 7 1-85 1-5 1 128 1-76 1 2 1 5 1-43 1 45 1 20 1 53 1-119 1-7 1 19 1 78 1-100 1-11 1 33 1 194 1-205 1 23 1 57 1 3 1-99 1 31 1-24 1 20 1-28 1 0 1 82 1-86 1 37 1-8 1 85 1-104 1 18 1 50 1-56 1-21 1 73 1-69 1-4 1 11 1-12 1 12 1 7 1 43 1-42 1 16 1-10 1-20 1 4 1-11 1 4 1 3 1 58 1-27 1 36 1-56 1-14 1 73 1-63 1 7 1-12 1 25 1 35 1-58 1 30 1-29 1-9 1 16 1 3 1 93 1-113 1 42 1 23 1 84 1-148 1 2 1-3 1 2 1 2 1 62 1-23 1-21 1-16 1-2 1-6 1 36 1 23 1-4 1 32 1 6 1-46 1-35 1-8 1 36 1-38 1 60 1 44 1-65 1-22 1 10 1 22 1-9 1-24 1-16 1 36 1 26 1-48 1 1 1 3 1-18 1 18 1 0 1 90 1-96 1-12 1 54 1-29 1 44 1-13 1-19 1-39 1 27 1-10 1 49 1-61 1 3 1 2 1 8 1 15 1 31 1 198 1-180 1-65 1 131 1-72 1-62 1 5 1-11 1-7 1 26 1-24 1 11 1-14 1 25 1-2 1-19 1 61 1-44 1-16 1 19 1 78 1-100 1 46 1 37 1-41 1 29 1-72 1 43 1 27 1-21 1-12 1-10 1-12 1 160 1-152 1-18 1 12 1 22 1 6 1-38 1 59 1 0 1-11 1 176 1-194 1 12 1 63 1-97 1-16 1 4 1 18 1 117 1-123 1 7 1 74 1-24 1 99 1-160 1 8 1-17 1 10 1 10 1-23 1 91 1 31 1-75 1-43 1-4 1 13 1 30 1-8 1 54 1-30 1 23 1-78 1 58 1 0 1-31 1 40 1-3 1 38 1-104 1 36 1 26 1 39 1 21 1-87 1-35 1 6 1 2 1 7 1-1 1-4 1 137 1-109 1 27 1-53 1 75 1-88 1 23 1 19 1-19 1 77 1 12 1-51 1-47 1 9 1 5 1-26 1 45 1-9 1 75 1 43 1-124 1 6 1 23 1 10 1-3 1-63 1 19 1-4 1 21 1-29 1 79 1-39 1-51 1 14 1 43 1-22 1 4 1-21 1-18 1 16 1-3 1 101 1-36 1-8 1-49 1-3 1-15 1 10 1 26 1-24 1 13 1 25 1 80 1-60 1-34 1 49 1-52 1-16 1 20 1 56 1-48 1-36 1 50 1 179 1-154 1 10 1-31 1 26 1 35 1-26 1-103 1 55 1-21 1-23 1 7 1 49 1-43 1-19 1 44 1-20 1-9 1 31 1-18 1-14 1-13 1 31 1 6 1-29 1 51 1 22 1-63 1-5 1-11 1 87 1-84 1 49 1-14 1-45 1 16 1 115 1-132 1 10 1 9 1 18 1-4 1 106 1-81 1-55 1 0 1 15 1-17 1 65 1-43 1 84 1-85 1 76 1-59 1 8 1-41 1 9 1 13 1-21 1 25 1-7 1 10 1-16 1 16 1 57 1-73 1 54 1-3 1 85 1-148 1 87 1-66 1 6 1-25 1 18 1 193 1-184 1-33 1 6 1 46 1 1 1-52 1 8 1-10 1-2 1 0 1 18 1 5 1-1 1-10 1 27 1-15 1-19 1 49 1-37 1-7 1 13 1 3 1 57 1 61 1-67 1-38 1 86 1-67 1-37 1-10 1 1 1 20 1 3 1-2 1-27 1 44 1-17 1 230 1-227 1-31 1 31 1-14 1-4 1 45 1-26 1 59 1-56 1-31 1 53 1-17 1 16 1 20 1 38 1-112 1 33 1 1 1-38 1 0 1 32 1-5 1 39 1-45 1 58 1 27 1-9 1-97 1 5 1-7 1-1 1 6 1-5 1 5 1 1 1 12 1 10 1-19 1 37 1 128 1-104 1-9 1-53 1 100 1 13 1-73 1 42 1-64 1 36 1-32 1 37 1-25 1 72 1-89 1 57 1 71 1-105 1 89 1-76 1-53 1 98 1-104 1 2 1 31 1 29 1-65 1 8 1 42 1-47 1 102 1-19 1-48 1 147 1-185 1 19 1-10 1 21 1-26 1-3 1 59 1-50 1 5 1 1 1-14 1 63 1-62 1 0 1 4 1 280 1-119 1-153 1 42 1-32 1-3 1 40 1-54 1 53 1-36 1-12 1-13 1 3 1 7 1 15 1 6 1 1 1-27 1 15 1 99 1-113 1 8 1-6 1 11 1 131 1-70 1-77 1 59 1-50 1 21 1 20 1 25 1-30 1-32 1 23 1 74 1-103 1 0 1 0 1 11 1 22 1-18 1 35 1 101 1-110 1-28 1-11 1 18 1 59 1-81 1 23 1-17 1 48 1-55 1 31 1-37 1 49 1 50 1-83 1-3 1 44 1 16 1-30 1 79 1-78 1-35 1 26 1-7 1-4 1-8 1 86 1-50 1-18 1 33 1-25 1-13 1-27 1 31 1 72 1-101 1 60 1-50 1 38 1-36 1-9 1 5 1 108 1-35 1-59 1-13 1 45 1 10 1-44 1 49 1-53 1 44 1-10 1-5 1-41 1 38 1-39 1 70 1-53 1-12 1 33 1-7 1 27 1 57 1 12 1-89 1-30 1-16 1 0 1 47 1-4 1-13 1 170 1-41 1-134 1 84 1-96 1 20 1-30 1 4 1 89 1-78 1 18 1-20 1 16 1 5 1-15 1 15 1 12 1-30 1 98 1-84 1-30 1 63 1 70 1-55 1-42 1-17 1 121 1-131 1-2 1 111 1-79 1-32 1 11 1 19 1-16 1 11 1-22 1 41 1 69 1-91 1 44 1 55 1-81 1 126 1-151 1-15 1 66 1-73 1-1 1 45 1-10 1-27 1 97 1-91 1 33 1-18 1-27 1 15 1 39 1 16 1-50 1-21 1 5 1 3 1 322 1-267 1 24 1-89 1 111 1-54 1-37 1-8 1 6 1 29 1-47 1 45 1-35 1 121 1-34 1-52 1 25 1-68 1 53 1 69 1-116 1 156 1-90 1-21 1 23 1-38 1-35 1 20 1 20 1-16 1 3 1-1 1 65 1-47 1-11 1 50 1-87 1 6 1-1 1 98 1-91 1 40 1-31 1 3 1 27 1-46 1 34 1 14 1-15 1 11 1-26 1 0 1 14 1 12 1 32 1-44 1-36 1 50 1-11 1-36 1 47 1 99 1-112 1 64 1-97 1 50 1-29 1-6 1-11 1 16 1-6 1 4 1-9 1 5 1-17 1 19 1 8 1 4 1 77 1-55 1-26 1-3 1 0 1-24 1 18 1 10 1 75 1-50 1-29 1-20 1 17 1-16 1 4 1 19 1-27 1 29 1-13 1-3 1 124 1-23 1 51 1-160 1-8 1 38 1-10 1 17 1-10 1-34 1-1 1 19 1 16 1-8 1-23 1 25 1-24 1 29 1-30 1 9 1 5 1-8 1 24 1-12 1-17 1 61 1-5 1 1 1 29 1 20 1-32 1-13 1-5 1-43 1 22 1-39 1 35 1-19 1-7 1-8 1 13 1 31 1 2 1-22 1 24 1-35 1 14 1-18 1 1 1 55 1 21 1 32 1-56 1-13 1-42 1 67 1-58 1-9 1-8 1 67 1-24 1 6 1-49 1 7 1 20 1-28 1 15 1 27 1-24 1-1 1 68 1-76 1 14 1-19 1 39 1-38 1 1 1-3 1 8 1-9 1 31 1 67 1-82 1-2 1-5 1-10 1 31 1 51 1-52 1 11 1-28 1 89 1-61 1 4 1-20 1 10 1 113 1-91 1 167 1-210 1-4 1-10 1 15 1-16 1 49 1-23 1-6 1 7 1-23 1 11 1 19 1-29 1 35 1-17 1-2 1 6 1-10 1 11 1-25 1 7 1 13 1-14 1 4 1 191 1-179 1-12 1 27 1-37 1 0 1 40 1-13 1-26 1-2 1 9 1 9 1-18 1-2 1 26 1-12 1-10 1 57 1 33 1-87 1-2 1 12 1-12 1 98 1-54 1-34 1-11 1 15 1-10 1 85 1-82 1 75 1 73 1-63 1-81 1-14 1 75 1-64 1 54 1 15 1-50 1 5 1-28 1 101 1-89 1-17 1 56 1 30 1-70 1 88 1-49 1-12 1 12 1 0 1-48 1 20 1-22 1 5 1-3 1 42 1 31 1-50 1 76 1-106 1 3 1 47 1 15 1 64 1-61 1-58 1-3 1 23 1-6 1 19 1-20 1-13 1 15 1 47 1 44 1-102 1 6 1 21 1-41 1 20 1-19 1 96 1-101 1 50 1-18 1-20 1 2 1 26 1-32 1 10 1 0 1 87 1-85 1 2 1 102 1-18 1-80 1 7 1 105 1-119 1-17 1 1 1 10 1 3 1-9 1 28 1-1 1 13 1 52 1-45 1 6 1-59 1 1 1 6 1 10 1 32 1 9 1-34 1 35 1-19 1 5 1-37 1-6 1 31 1-19 1 45 1-55 1 2 1 68 1-35 1-28 1 2 1 41 1 79 1-97 1-32 1 100 1-63 1 33 1-68 1 21 1 27 1-54 1 49 1-45 1 40 1-14 1-22 1 7 1 57 1-31 1-26 1 12 1 95 1-3 1-31 1-84 1 8 1 12 1-21 1 88 1 126 1-114 1-93 1-5 1 2 1-6 1 9 1 5 1-12 1 27 1 15 1-44 1 12 1 23 1-8 1 146 1-116 1-53 1 79 1-77 1 30 1-12 1 15 1-35 1-5 1 14 1 2 1 1 1 29 1-27 1 20 1 17 1 6 1-60 1 85 1 9 1 67 1-138 1-6 1-14 1-6 1 3 1 9 1 50 1-28 1 116 1-118 1-17 1-13 1 18 1 306 1-298 1 90 1-9 1 16 1-83 1-7 1-14 1 35 1 37 1-34 1-17 1 1 1-39 1-4 1 81 1-13 1-41 1-11 1-13 1 34 1 38 1-30 1-10 1 25 1 9 1-35 1-13 1 52 1-53 1 28 1 0 1-28 1-15 1 39 1-23 1-15 1 17 1-14 1 2 1 18 1-20 1 15 1-14 1-1 1-9 1 27 1 53 1-7 1-46 1 7 1 2 1 2 1 50 1-81 1 49 1 8 1 8 1-63 1 16 1-3 1 26 1-14 1 4 1-38 1 9 1-1 1 37 1-1 1-30 1-8 1 64 1-20 1-14 1-25 1-2 1 0 1-7 1 3 1 9 1 13 1 23 1-43 1 68 1-34 1 22 1-62 1 1 1 6 1 2 1 32 1 20 1-59 1 35 1-15 1-2 1-19 1 51 1-6 1-2 1 64 1-85 1-7 1-15 1 48 1-46 1 14 1 20 1-24 1 1 1-11 1 18 1 6 1 14 1 1 1-20 1 18 1 4 1-42 1 9 1 95 1-72 1 22 1 139 1-114 1-72 1 9 1 27 1-20 1 96 1-109 1 20 1-1 1-19 1-6 1 39 1-37 1-2 1 26 1 12 1-31 1 17 1 36 1-31 1 54 1-22 1-34 1-34 1 2 1 29 1-24 1 7 1 8 1-17 1 22 1-19 1 52 1 122 1-144 1-5 1 7 1 35 1-59 1 31 1-12 1 8 1-26 1 60 1-63 1 94 1 44 1-115 1-25 1-12 1 12 1-10 1 0 1 0 1 47 1 40 1-43 1 0 1-40 1 14 1 20 1-35 1 51 1-50 1 77 1-59 1-5 1 2 1 31 1-42 1 18 1-7 1 65 1-52 1-19 1 52 1-17 1 158 1-171 1-20 1-13 1-4 1 9 1 129 1-112 1 3 1-16 1 47 1-16 1-44 1 22 1 28 1-44 1-6 1 7 1 62 1-69 1 28 1 39 1 37 1-58 1 104 1-98 1-43 1 12 1 40 1 132 1-110 1-62 1-6 1 9 1 13 1-29 1-8 1 7 1 83 1-10 1-77 1-2 1 7 1 62 1-12 1 39 1-11 1-34 1-36 1 95 1-107 1 47 1-28 1-7 1-3 1-12 1 42 1-35 1 54 1-47 1-7 1 23 1 40 1-53 1 29 1-5 1 16 1 4 1 26 1-79 1 4 1-8 1 4 1-7 1 11 1-7 1 38 1 32 1-58 1 35 1-12 1-7 1 37 1-63 1-2 1 10 1-7 1-5 1 197 1-27 1-47 1-107 1-11 1 21 1 8 1-3 1-33 1 16 1-12 1 33 1-34 1 2 1 36 1-27 1-11 1 2 1 11 1 28 1-16 1-6 1 20 1 9 1-47 1-3 1-1 1 24 1-23 1-2 1 0 1 15 1-8 1 69 1-27 1-48 1 5 1-6 1 2 1 0 1 42 1-21 1 67 1-6 1 118 1-156 1 36 1-47 1-25 1-5 1 12 1 27 1 41 1-59 1 44 1-66 1 0 1 9 1 171 1-167 1-14 1 4 1 23 1-22 1-2 1 13 1 56 1 40 1-108 1 15 1 20 1-29 1 15 1 58 1-63 1-19 1 33 1-16 1 32 1-39 1 25 1-6 1-9 1-16 1 39 1-5 1 20 1-61 1 13 1-3 1-5 1 45 1 33 1 9 1-17 1-50 1 2 1 14 1 5 1-3 1-6 1-14 1-13 1 41 1 51 1-21 1-80 1 16 1-3 1-9 1 6 1-13 1 20 1 150 1-141 1-2 1-23 1 15 1-16 1 25 1-26 1 81 1 41 1-119 1 75 1-10 1-41 1-23 1 26 1-26 1 16 1-13 1 28 1-34 1 70 1-35 1-21 1-8 1 3 1 1 1 0 1 107 1-51 1-48 1 48 1-37 1-23 1 37 1-39 1-2 1 49 1-44 1-8 1 11 1 36 1-47 1 21 1-11 1 0 1-7 1-1 1 73 1 5 1-35 1-47 1 18 1 35 1-45 1-4 1 2 1 42 1-36 1 12 1 24 1-5 1-38 1 30 1-24 1 16 1-18 1 64 1-28 1-36 1 27 1 9 1 26 1-45 1-16 1 45 1 11 1-47 1-16 1 15 1-16 1 81 1-43 1-23 1 5 1-15 1 4 1-1 1-3 1 48 1 86 1-125 1 24 1-16 1-22 1 12 1 21 1 17 1-44 1 16 1 132 1-92 1-21 1-35 1 8 1 6 1 62 1-41 1-19 1-11 1-7 1 9 1 16 1-26 1 45 1-46 1 27 1-16 1-8 1 38 1-21 1-6 1 6 1 0 1 26 1-33 1-10 1-4 1 1 1 2 1 24 1-24 1 40 1 100 1-78 1-32 1-17 1-18 1-1 1 197 1 0 1-174 1 6 1 21 1 95 1-80 1-26 1-38 1 31 1-31 1 15 1 3 1 44 1-45 1 14 1-24 1 54 1-43 1-4 1 9 1 60 1-67 1-17 1 57 1 171 1-194 1 11 1-37 1-8 1 0 1 46 1 12 1-39 1-17 1 20 1-22 1 39 1-38 1 42 1 63 1-51 1-12 1-38 1-4 1 6 1 11 1 20 1 80 1-61 1-54 1 44 1 26 1-43 1-16 1 24 1-33 1-5 1 30 1 7 1-14 1 19 1-36 1 1 1 28 1-17 1 8 1 34 1 33 1-78 1-13 1 20 1 4 1 3 1-15 1-4 1-2 1 9 1 18 1 18 1-48 1 1 1 12 1-4 1 54 1-63 1-4 1 0 1 17 1 8 1 51 1-44 1-21 1 15 1 54 1-81 1 40 1-9 1-24 1 36 1-37 1 9 1 4 1 3 1-7 1-13 1 63 1 18 1-69 1 31 1 85 1-103 1 10 1-24 1-11 1 1 1 4 1 38 1-35 1 8 1-1 1-8 1 90 1-82 1-5 1-5 1 50 1 12 1-55 1 37 1-49 1 26 1 21 1-16 1 57 1-41 1-20 1-1 1-4 1-14 1 50 1-24 1 3 1 9 1 22 1-24 1-17 1 96 1-30 1-54 1 34 1-15 1-55 1 27 1 63 1-81 1-7 1 26 1-15 1 11 1-14 1-2 1 0 1-2 1 13 1 83 1-89 1 50 1-58 1 24 1-25 1 10 1 5 1 13 1-23 1-10 1 8 1 55 1-37 1 5 1-27 1-5 1 4 1 14 1-17 1 108 1-107 1-2 1 10 1-8 1 0 1 119 1-108 1-5 1-9 1 30 1-14 1 55 1-15 1-46 1 22 1-24 1 21 1 15 1-33 1-13 1 0 1 8 1-7 1 12 1 60 1-58 1 79 1-44 1-26 1-21 1 29 1-9 1 10 1-19 1 33 1-35 1 21 1 6 1 50 1-77 1-4 1-1 1 7 1 21 1-23 1-8 1 45 1-33 1 4 1 2 1-4 1 57 1-70 1 84 1 59 1-62 1-15 1-59 1 41 1 24 1-46 1-30 1 13 1 15 1 18 1-22 1 8 1 5 1 12 1 16 1-43 1-6 1 37 1-33 1-6 1-14 1 16 1 53 1 31 1-48 1-41 1 10 1 117 1-105 1-22 1 36 1-8 1-33 1 11 1-8 1 82 1-61 1-28 1 3 1 135 1-57 1-55 1 60 1-45 1-20 1-18 1 1 1 91 1-74 1-18 1 5 1-11 1 1 1 2 1 15 1 9 1-10 1-1 1 12 1 4 1 13 1-11 1-33 1 11 1 50 1-60 1 96 1-81 1 0 1 6 1 64 1-76 1-6 1 40 1 36 1-4 1-37 1 5 1-40 1 36 1-14 1-1 1-18 1 30 1-10 1 42 1-25 1-45 1 57 1-8 1 20 1 21 1-2 1-81 1 49 1-36 1 25 1 11 1-51 1-3 1 0 1 8 1 55 1-49 1 8 1-1 1-12 1-5 1-1 1-2 1 8 1-1 1 44 1-20 1-23 1 4 1 30 1 15 1-9 1-44 1 0 1-7 1 18 1-13 1 4 1 22 1 3 1-5 1-20 1 89 1-72 1 13 1-23 1-8 1-1 1 11 1-17 1 5 1 18 1-17 1 7 1-10 1 3 1 57 1-51 1 3 1 8 1-20 1 79 1-31 1 145 1-100 1-38 1-19 1-39 1 0 1 39 1 26 1-54 1-2 1-7 1-1 1 20 1-4 1 60 1 12 1-87 1 56 1-57 1 15 1 5 1 20 1 155 1-139 1-46 1-4 1 6 1-7 1-7 1 2 1 25 1 34 1-46 1 16 1 44 1-50 1 17 1-22 1 34 1-34 1 1 1 6 1-15 1-7 1-3 1 108 1-100 1 40 1-40 1 6 1 25 1-21 1-4 1 65 1-78 1 6 1 19 1 36 1 8 1-40 1 54 1-63 1 11 1 54 1-25 1-47 1-10 1 6 1 56 1-66 1 4 1 27 1 34 1-67 1 0 1 10 1 9 1-9 1 6 1 32 1-10 1 25 1-53 1 62 1 104 1-97 1-53 1 4 1-29 1 7 1-4 1 31 1-3 1 1 1 13 1 81 1-90 1-25 1 89 1-58 1-15 1 10 1-16 1-6 1-16 1 18 1-5 1-4 1 74 1-73 1 11 1-4 1 13 1 52 1-38 1 153 1-77 1-76 1 48 1-61 1-6 1-12 1 19 1-27 1 60 1-33 1 20 1-19 1 68 1-65 1-23 1-9 1 7 1-5 1 67 1-14 1-12 1-17 1 102 1-102 1 62 1-38 1-44 1 12 1 11 1-6 1 92 1-91 1-19 1-7 1 18 1 36 1-3 1-47 1 4 1 42 1-27 1-19 1 1 1 43 1-27 1-14 1 8 1-10 1 4 1 0 1-5 1 69 1-61 1 11 1 52 1 11 1 10 1-62 1-11 1 50 1-69 1 41 1-22 1-6 1 61 1-74 1 9 1-14 1 51 1-52 1 6 1 130 1-105 1 4 1-31 1-1 1 3 1 7 1 51 1-62 1 34 1 17 1-50 1-2 1 9 1 0 1 12 1 8 1-11 1 43 1-54 1 12 1-13 1-7 1 9 1 4 1 49 1 36 1-85 1-13 1 31 1-18 1 5 1-5 1 2 1 99 1 83 1-133 1-61 1 13 1 27 1 10 1-50 1 53 1-36 1-18 1 246 1-209 1 98 1-105 1 40 1-7 1-61 1 30 1-27 1-7 1 4 1 19 1-11 1-4 1-2 1 49 1-45 1 27 1-29 1 13 1-13 1 39 1-10 1-26 1 45 1 141 1-143 1-42 1 2 1-11 1 56 1-24 1 23 1-33 1-7 1 5 1 9 1-24 1 3 1 1 1-7 1 10 1 27 1-25 1-4 1 27 1-37 1-1 1 4 1-6 1 2 1 77 1-39 1 27 1 9 1-48 1-6 1-15 1 28 1-34 1 38 1 28 1 28 1-2 1-93 1 3 1 77 1-5 1-69 1 47 1-46 1 86 1-86 1 23 1 20 1-11 1-9 1 26 1-45 1-3 1-1 1 13 1-14 1 2 1 120 1-51 1 18 1-80 1-11 1 60 1 83 1-108 1-13 1-15 1 1 1 63 1-53 1-22 1 14 1-14 1 5 1 7 1-7 1 30 1 28 1-53 1 11 1-14 1 29 1-17 1 46 1-60 1 22 1 8 1 9 1-28 1-15 1 21 1 1 1 15 1 41 1 60 1-85 1-28 1-15 1-2 1-9 1 43 1-33 1 21 1 41 1-62 1 35 1-38 1 2 1 15 1-19 1 72 1-71 1-5 1 41 1-6 1 25 1-54 1 15 1-14 1 178 1-184 1 35 1-36 1 9 1 3 1-7 1-5 1 44 1-26 1-8 1 10 1 38 1 1 1-56 1-1 1 9 1 38 1-38 1-5 1-7 1 1 1 15 1 24 1-17 1 119 1-123 1-18 1 47 1-47 1 50 1-48 1 122 1-81 1-10 1-13 1 3 1-14 1 0 1-7 1 2 1 6 1-2 1 11 1 100 1-90 1-25 1 58 1-59 1 3 1 12 1 19 1 12 1 130 1-37 1-123 1-2 1 26 1-10 1-12 1-19 1 30 1-15 1 32 1 48 1-92 1-4 1-1 1 6 1 17 1-15 1 9 1-4 1 39 1-14 1 2 1 79 1-115 1 20 1-18 1 4 1 34 1-9 1-24 1 1 1-7 1 53 1-48 1 19 1-10 1-12 1 16 1-10 1 5 1-3 1-14 1 65 1-51 1-15 1 110 1-99 1 14 1 100 1-80 1 18 1 21 1-82 1 1 1 7 1 51 1-35 1 35 1 28 1 21 1-8 1-101 1 10 1-6 1 53 1 19 1-14 1-51 1-1 1-7 1 9 1 2 1 22 1-4 1-17 1-2 1 18 1 18 1-20 1-27 1 11 1-14 1 33 1-18 1-6 1 2 1-3 1 5 1-1 1-7 1 6 1-3 1 75 1-66 1-1 1-8 1-3 1-6 1 1 1 2 1 8 1 12 1 7 1 66 1-21 1-48 1-11 1 26 1-26 1-12 1 148 1-55 1-74 1-22 1 0 1 26 1-23 1-3 1 11 1 24 1-27 1-9 1 26 1 4 1 1 1-22 1 32 1-36 1 5 1-3 1 58 1-59 1 23 1-29 1 0 1 0 1 1 1 31 1 19 1 23 1-32 1-5 1-30 1 0 1 49 1-6 1-31 1 26 1-30 1 14 1-15 1-6 1 10 1-1 1 120 1-92 1-33 1-8 1 51 1 46 1-36 1-25 1 64 1-64 1 5 1 42 1-72 1 38 1-17 1 81 1-104 1 19 1 17 1-17 1 20 1-37 1 8 1-12 1-11 1 64 1 5 1-58 1 44 1-6 1-30 1-18 1 8 1 7 1 7 1-13 1 20 1-20 1 43 1 0 1-32 1 27 1 8 1-47 1 18 1-16 1 3 1 15 1-17 1 6 1 11 1-2 1-14 1-8 1 6 1 5 1-7 1 77 1-14 1-61 1 78 1-81 1 20 1-12 1-2 1 6 1 133 1-123 1 12 1-39 1-3 1 24 1 9 1-32 1 25 1-8 1-5 1 12 1 9 1-1 1-29 1 11 1-11 1 66 1-47 1 88 1-67 1 29 1-66 1 52 1-57 1 35 1 38 1 17 1 23 1-94 1 60 1-48 1-31 1 82 1-34 1 43 1-93 1 30 1 4 1-27 1 16 1 112 1 49 1-108 1-42 1 6 1-31 1 20 1-23 1 6 1 6 1-8 1 28 1 12 1 97 1-129 1 15 1 132 1-100 1 111 1-56 1-112 1 3 1-6 1-2 1 21 1-10 1-2 1 103 1-93 1-22 1 28 1-22 1 47 1 5 1-36 1-11 1 33 1-4 1 51 1-54 1 17 1-27 1 43 1-61 1 1 1 23 1 7 1-27 1 39 1-28 1 15 1-18 1 31 1-44 1 0 1 89 1-88 1 52 1 0 1-26 1 101 1-60 1-7 1-37 1-8 1-20 1-1 1 73 1-18 1-5 1 0 1 11 1-52 1 3 1 14 1 16 1-5 1 51 1-62 1-18 1 39 1-36 1 40 1-42 1 17 1-14 1 29 1-33 1 19 1-28 1 32 1 30 1-39 1-13 1 0 1 22 1-21 1 38 1-27 1 28 1-15 1 37 1-59 1 22 1-9 1 9 1 19 1-4 1-26 1 3 1-23 1 5 1 74 1-60 1 0 1-7 1-1 1 5 1-4 1-9 1-7 1 8 1-6 1 0 1 23 1-17 1-7 1 11 1 20 1 17 1-23 1 4 1-13 1-15 1 18 1-6 1-11 1 59 1-38 1-10 1 82 1-63 1-33 1 12 1 31 1-27 1 116 1-18 1-66 1-24 1 17 1 77 1-70 1-42 1 51 1 2 1 4 1 24 1-53 1-32 1 9 1 28 1-7 1-9 1 47 1 75 1-89 1-26 1-21 1 11 1 43 1 16 1 28 1-94 1 38 1-27 1 20 1-15 1 58 1-76 1 62 1-54 1 10 1-17 1-9 1 54 1-12 1 1 1-29 1 16 1-22 1 17 1 40 1 10 1-59 1 0 1 46 1 9 1-39 1-23 1 100 1-56 1-52 1-6 1 13 1 49 1 38 1-46 1-48 1 13 1-17 1 61 1-5 1 61 1-107 1-7 1 9 1 6 1 118 1-104 1 42 1 54 1-18 1-105 1 15 1 8 1 17 1-29 1-7 1-9 1 10 1 41 1-15 1-32 1 2 1 50 1-35 1 7 1-28 1 84 1-37 1-15 1-33 1 36 1-36 1-1 1 8 1 4 1 39 1-46 1-4 1-1 1 4 1 118 1-37 1-29 1 44 1-28 1 77 1-149 1 0 1 36 1-33 1 42 1 19 1 47 1-17 1-76 1 32 1 1 1-50 1 17 1-15 1 13 1-14 1 26 1-4 1-21 1 0 1 19 1 35 1-51 1-6 1 0 1 18 1 34 1-34 1 17 1-29 1 12 1 43 1 30 1-50 1-40 1 19 1 38 1 24 1-18 1 85 1-136 1 13 1-7 1 5 1-5 1-11 1-6 1 2 1 37 1-18 1 21 1-25 1 3 1 8 1 21 1 57 1-83 1-23 1 55 1 19 1 121 1-190 1 2 1-4 1 4 1 68 1-39 1-23 1 22 1-23 1-2 1-7 1 39 1 42 1-66 1-19 1 1 1-2 1 0 1 102 1-92 1 58 1-63 1 37 1-27 1-1 1 1 1-1 1 45 1 1 1-49 1 14 1-15 1 24 1 7 1 9 1-35 1 60 1-72 1-2 1 4 1 51 1-38 1-1 1 29 1 84 1 4 1-117 1 19 1 57 1 46 1-127 1-11 1 0 1 0 1 11 1 7 1-6 1-11 1 0 1 195 1-137 1-31 1 77 1-59 1-33 1-5 1 0 1-6 1 11 1-7 1 14 1 8 1-17 1 5 1 25 1 17 1-32 1 94 1-104 1 25 1 72 1-113 1 2 1-1 1 1 1 18 1-2 1 31 1-27 1 14 1-30 1-3 1-3 1 10 1-1 1 62 1-68 1 58 1-41 1-19 1 4 1 37 1-21 1 9 1-6 1 19 1-30 1 48 1-44 1 38 1-37 1 59 1 32 1-77 1 10 1-34 1-2 1 32 1 2 1-26 1 3 1-6 1-8 1 11 1-5 1 12 1 41 1-56 1 51 1 31 1-72 1 14 1-31 1 4 1-1 1 0 1 1 1 132 1-72 1-53 1 6 1-17 1 5 1-1 1-2 1 85 1-5 1-79 1 2 1 3 1 18 1 7 1-33 1 0 1 9 1 5 1 4 1 50 1-62 1 6 1 27 1-35 1 35 1 7 1 25 1-51 1 42 1 71 1-65 1-68 1 0 1 54 1 84 1-115 1 14 1 95 1-48 1-65 1 2 1-1 1 17 1 5 1 18 1-28 1-15 1 3 1 22 1 26 1-18 1-32 1 10 1-16 1-11 1 10 1 44 1 23 1-27 1 37 1-61 1-23 1 15 1 3 1 3 1 7 1 96 1-92 1 87 1-107 1-9 1-7 1 2 1 24 1-26 1 45 1-42 1 7 1 101 1-105 1 0 1 2 1 20 1 65 1-81 1 50 1-40 1 8 1-28 1 8 1 12 1 0 1 32 1-33 1 28 1-37 1 144 1-73 1-48 1 101 1-76 1 88 1-96 1-35 1 31 1-46 1 9 1-9 1 9 1 0 1 4 1-2 1 13 1 40 1-55 1-11 1 4 1 0 1 22 1 22 1-24 1 25 1-13 1-26 1 89 1-93 1 23 1 1 1-11 1-12 1 18 1-23 1 11 1 8 1 9 1 5 1 3 1-13 1-9 1-4 1 121 1-110 1-12 1 32 1-32 1 3 1-12 1 18 1 26 1-29 1 13 1-28 1 27 1-27 1 11 1 109 1-119 1 2 1 82 1-53 1-32 1 0 1 38 1-27 1 1 1-13 1 3 1 33 1-30 1 44 1-35 1-14 1 30 1-5 1 6 1-16 1-10 1 6 1-1 1-9 1 15 1-11 1 82 1 48 1-131 1-6 1 25 1 68 1-25 1-52 1-11 1-3 1 17 1 127 1-63 1-69 1-1 1 99 1-65 1 14 1-49 1 14 1-12 1 31 1-30 1 25 1 10 1 20 1-43 1 8 1 4 1 2 1 5 1 52 1-75 1-19 1 59 1-58 1 20 1 25 1-42 1 16 1 55 1-77 1 81 1-44 1-30 1-6 1 30 1-29 1 17 1 105 1-117 1-4 1-1 1 26 1 79 1-13 1-71 1 13 1 71 1-55 1 35 1-81 1 30 1-30 1 3 1 70 1-62 1 5 1 94 1-103 1-3 1 24 1-36 1 5 1 8 1-3 1 96 1-96 1-3 1-6 1 55 1-26 1-26 1 2 1 10 1-12 1-2 1 27 1-5 1 115 1-54 1-71 1 24 1 1 1-7 1-32 1 26 1-11 1-1 1 51 1-42 1-17 1-3 1 25 1-26 1 23 1 8 1 78 1-90 1 10 1 85 1-90 1 68 1-22 1-60 1 34 1-4 1 26 1 6 1 88 1-93 1-29 1-28 1-10 1 63 1-49 1-7 1 39 1-37 1-11 1 55 1 142 1-170 1 40 1 20 1-4 1 37 1-109 1 26 1-16 1 27 1-27 1-17 1 7 1 7 1 0 1-3 1 31 1-31 1-6 1 36 1-14 1-26 1-5 1 70 1-51 1 39 1-54 1 0 1 18 1 0 1-10 1 18 1-19 1 24 1-27 1 16 1 9 1 72 1-76 1-22 1 2 1-9 1 14 1 7 1 0 1-18 1 108 1-92 1 82 1-46 1-12 1-7 1 21 1 8 1-64 1 16 1 13 1 31 1 41 1-63 1 19 1-24 1-10 1 8 1 8 1-20 1-17 1 7 1 22 1 3 1-22 1-1 1 4 1 3 1 39 1-6 1 50 1-18 1 40 1-88 1-5 1 7 1-18 1-15 1 1 1-3 1 1 1 11 1 0 1-5 1-3 1 60 1 11 1-26 1-21 1-17 1-10 1 35 1 9 1-48 1 0 1 21 1-1 1-20 1 14 1-13 1 19 1-8 1 78 1-72 1 46 1 29 1-83 1 14 1-13 1 50 1-37 1 21 1-24 1 35 1-49 1 41 1-39 1-2 1 26 1 5 1-8 1-15 1-9 1 22 1-26 1 3 1 70 1-64 1-7 1 7 1 16 1-6 1 1 1-13 1 1 1 3 1 83 1-53 1 11 1-32 1-2 1-20 1 0 1 1 1 13 1 29 1-19 1 50 1-19 1-36 1 234 1-226 1-17 1 3 1 70 1-51 1-22 1 22 1 20 1 14 1-65 1 1 1 0 1 26 1 8 1 56 1-85 1-2 1 56 1-45 1 9 1-22 1 36 1 46 1-79 1 7 1 20 1-23 1 24 1 45 1-63 1-9 1 9 1 100 1-115 1 179 1-122 1-3 1 47 1-68 1 47 1-1 1-78 1 81 1-58 1-25 1 14 1 47 1-16 1 10 1-30 1-10 1 138 1-83 1-60 1 39 1 55 1-99 1 17 1 2 1-10 1 4 1-5 1-9 1 75 1 95 1-90 1-43 1-41 1 9 1-5 1 9 1 7 1 35 1-49 1 5 1 15 1 2 1 55 1 33 1-86 1 39 1-37 1-23 1 13 1 90 1-30 1 2 1-69 1-9 1-5 1 64 1-27 1-9 1 83 1-21 1-80 1 19 1-1 1 83 1-29 1-49 1-2 1-4 1-20 1 13 1 15 1 1 1-15 1 58 1-56 1-7 1 76 1-64 1-11 1-11 1 105 1-49 1-61 1 35 1-30 1 12 1-13 1 6 1-2 1 24 1-30 1-3 1 6 1 79 1-76 1-8 1 33 1 20 1 108 1-160 1 30 1-13 1 29 1-33 1 2 1 3 1-15 1 6 1-9 1-2 1 7 1 3 1 25 1 11 1 2 1-23 1-14 1 62 1-53 1 19 1 216 1-174 1-81 1 17 1 13 1 146 1-62 1-89 1 19 1-42 1 3 1 62 1-26 1 14 1-49 1 15 1-4 1 39 1-1 1 0 1-36 1 24 1-21 1 29 1-22 1-12 1 29 1 128 1-137 1-26 1 5 1 34 1-12 1-15 1-10 1 48 1-36 1-11 1-8 1 13 1-6 1 0 1 47 1 58 1-89 1-27 1 24 1 14 1-34 1 4 1-9 1 87 1-10 1-32 1 143 1-139 1-38 1 1 1-5 1 36 1 9 1-49 1-4 1 11 1 0 1-12 1 3 1 25 1 16 1 14 1-25 1-30 1 5 1-1 1 4 1-5 1 63 1-58 1 42 1-35 1 60 1-69 1 26 1-19 1 36 1-52 1 23 1 39 1-61 1 15 1 15 1-26 1 37 1-35 1 34 1 18 1-32 1-7 1 34 1-29 1 8 1-15 1-11 1 19 1 9 1-15 1 12 1 64 1 87 1-180 1 9 1 6 1-4 1-7 1 29 1-7 1-27 1 15 1-13 1 87 1-9 1-63 1 86 1-99 1 7 1-10 1 52 1 28 1-62 1-16 1 72 1-57 1 113 1-108 1 15 1-21 1-5 1 8 1 24 1 26 1-62 1 5 1-1 1-2 1 28 1-26 1-7 1 7 1 17 1-12 1 35 1-5 1-49 1 28 1-10 1-6 1 9 1-20 1 2 1 40 1-35 1 12 1-15 1 4 1 29 1-33 1 4 1 98 1-68 1-28 1 78 1-12 1-11 1-17 1 9 1 10 1-63 1 17 1-7 1 9 1-11 1 47 1-13 1-31 1 15 1-28 1-2 1 10 1-7 1 25 1 6 1-32 1 26 1 0 1-15 1 36 1-20 1-4 1-6 1 41 1 16 1-50 1 84 1-81 1 23 1-42 1 12 1-18 1 47 1-23 1-5 1 11 1-33 1 11 1 9 1 58 1-78 1 3 1 19 1-24 1 15 1 1 1 38 1 42 1-69 1 46 1-73 1 48 1 5 1-50 1 31 1-25 1-4 1 13 1 11 1 28 1-47 1 17 1-25 1 9 1 23 1-8 1 19 1-4 1-31 1 43 1-40 1-3 1 28 1 67 1 74 1-133 1 28 1-18 1-7 1-12 1 18 1-44 1 25 1-9 1-20 1 23 1 26 1-53 1 40 1-17 1 0 1 58 1-7 1-33 1-18 1-12 1 28 1 40 1-35 1 12 1-56 1 49 1 39 1-62 1-20 1-5 1 3 1 68 1-71 1 15 1-13 1 34 1 22 1-29 1-8 1 9 1 48 1-32 1 34 1-82 1 24 1 44 1-65 1 14 1-16 1-2 1 34 1-13 1 40 1-54 1-1 1 56 1-54 1 129 1-129 1-5 1 29 1-21 1 0 1-1 1 2 1 9 1-12 1 44 1 17 1-71 1 2 1 27 1-24 1 0 1-3 1 16 1 61 1 7 1-74 1 13 1-4 1 15 1 35 1 126 1-121 1-9 1-46 1-2 1 374 1-347 1-38 1 2 1-7 1 58 1-39 1 42 1-5 1-7 1-36 1 25 1-36 1 18 1-15 1 18 1 32 1-39 1-6 1-6 1-6 1 23 1 33 1-42 1-15 1 9 1 30 1 43 1-60 1-7 1 149 1-143 1-21 1 1 1 41 1-27 1-5 1-5 1-4 1 17 1-11 1 0 1 60 1-59 1 80 1-86 1 2 1 52 1-40 1 8 1-11 1 69 1-78 1 66 1-8 1-57 1 21 1-24 1 3 1 37 1-1 1-5 1-11 1 23 1-45 1 41 1-35 1-9 1 13 1-7 1-5 1 10 1 37 1-39 1 39 1 30 1 45 1-58 1-54 1 7 1 2 1 17 1 28 1-42 1-17 1-2 1 30 1 46 1-63 1 13 1 15 1-44 1 3 1 12 1-2 1-5 1 2 1-8 1 65 1-53 1-9 1 1 1 3 1 44 1 2 1-55 1 5 1 65 1-71 1 23 1 22 1 17 1-42 1 19 1-38 1 2 1 2 1 10 1-11 1 30 1-28 1 19 1-1 1-9 1 72 1-69 1 21 1-39 1 57 1-47 1 33 1-28 1 33 1-22 1-22 1-1 1 20 1-8 1 11 1-23 1 4 1 38 1-3 1 13 1 58 1-57 1-41 1 3 1 53 1 0 1-43 1-21 1 58 1-5 1-53 1 18 1-17 1-4 1 61 1-9 1-27 1 3 1-26 1 23 1-22 1 0 1 5 1-6 1 40 1-21 1-12 1 22 1-6 1-2 1 7 1-31 1 14 1-10 1 19 1-15 1-9 1 47 1-9 1 20 1-14 1-41 1 44 1 96 1-110 1 44 1-60 1-14 1 5 1 33 1-34 1 1 1-8 1 25 1 25 1-44 1-8 1 16 1 19 1-11 1 18 1 36 1 37 1-106 1 7 1-1 1-15 1 3 1-1 1 1 1 19 1-5 1 46 1 5 1 129 1-184 1 163 1-113 1-37 1 0 1 36 1-6 1 55 1-107 1 25 1 68 1-68 1 7 1-32 1 57 1-24 1-25 1 66 1-7 1-10 1 18 1-61 1-6 1-10 1 30 1 78 1-39 1-66 1 11 1 55 1-38 1 4 1-32 1 11 1 19 1-27 1 2 1 3 1 2 1 48 1-12 1-28 1 0 1 18 1 25 1-65 1 8 1 6 1 11 1-10 1 6 1-15 1-7 1 55 1-30 1 82 1 22 1-120 1 35 1-26 1-13 1 1 1 45 1-43 1-8 1 31 1-20 1 8 1 41 1 15 1-30 1-41 1-2 1 63 1 12 1 17 1-81 1-12 1 0 1 14 1-2 1-10 1 8 1 47 1-53 1 9 1-13 1 3 1 18 1-5 1-9 1 46 1 62 1-76 1-24 1-14 1 3 1-5 1 77 1-47 1-22 1 25 1 3 1-24 1 18 1-15 1-3 1 101 1-29 1-82 1-2 1 0 1 5 1-2 1 34 1-16 1 5 1-25 1 20 1-7 1 27 1-12 1-10 1 13 1-26 1 30 1-2 1-14 1-12 1 6 1 29 1-34 1 3 1 33 1-29 1 24 1 56 1-51 1-36 1 4 1 7 1-5 1 14 1-11 1-1 1 27 1-37 1-2 1 256 1-245 1-5 1 12 1 133 1-112 1-33 1-6 1 1 1-3 1-1 1 83 1 31 1-105 1 10 1 13 1-10 1-13 1 138 1-127 1 15 1 71 1-90 1 48 1 3 1-65 1 5 1 10 1 23 1-7 1-10 1 6 1-28 1 13 1-15 1 2 1 4 1-5 1 3 1-4 1 45 1 30 1-22 1-18 1-23 1 82 1-38 1 25 1-37 1-32 1 9 1-14 1-3 1 43 1-46 1 10 1 26 1-35 1-1 1 27 1 8 1-23 1-2 1 2 1 3 1 22 1-33 1-6 1 6 1 12 1-12 1 7 1-12 1 55 1 22 1-62"/>
<path class="r" transform="scale(0.089814,0.2)" d="M0,583l1 5 1 5 1-38 1-11 1 3 1 37 1-41 1 15 1 25 1-23 1-18 1 18 1 141 1 13 1-132 1-27 1 27 1-12 1-22 1-3 1 44 1 62 1 87 1-196 1 39 1-19 1 69 1 46 1-85 1-43 1 39 1-23 1 0 1 28 1 164 1-123 1 70 1-38 1-45 1 174 1-185 1-56 1 30 1-21 1-12 1 21 1 50 1 74 1 129 1-247 1-10 1 105 1-125 1 83 1-41 1 15 1-34 1 253 1-202 1-47 1-4 1 56 1 115 1-183 1-16 1 102 1 60 1-123 1 79 1-35 1-75 1-6 1 31 1-27 1 19 1-5 1 54 1-26 1-26 1 140 1-125 1-34 1-1 1 113 1-110 1 33 1-12 1-13 1 49 1-53 1 61 1-47 1-16 1-6 1 41 1 30 1 4 1-48 1-25 1 2 1 45 1-30 1 50 1-35 1-13 1-17 1 157 1-158 1 50 1-36 1 19 1-6 1-20 1 30 1-42 1 1 1 59 1-36 1-9 1 124 1-103 1-34 1 52 1-49 1-3 1 123 1-102 1-3 1-7 1 4 1 15 1-20 1 10 1 16 1 40 1 15 1-90 1 3 1 47 1-24 1 8 1-8 1-24 1-5 1 44 1 19 1-1 1-44 1-17 1 17 1 33 1 1 1 101 1 167 1-192 1-53 1 5 1-50 1-20 1 26 1-22 1 22 1 50 1 6 1 68 1-131 1-20 1-4 1 32 1 18 1 156 1-128 1-67 1-7 1 0 1 16 1 50 1-52 1 40 1-50 1 35 1-40 1 17 1-6 1 10 1-25 1 38 1-24 1 20 1 2 1-39 1 64 1 28 1-76 1 92 1-103 1 87 1-3 1 37 1-97 1 12 1 29 1-47 1-1 1 22 1 3 1-32 1-2 1 32 1 150 1-176 1 0 1 0 1-5 1 34 1-29 1 99 1-106 1 41 1-50 1 11 1 19 1-17 1 20 1 50 1-80 1 1 1-5 1 36 1 7 1-25 1-7 1 105 1-83 1 81 1-82 1-13 1 90 1-109 1 28 1-27 1 99 1-32 1-64 1 74 1-71 1 6 1-1 1 9 1 63 1 10 1-91 1 32 1-13 1-25 1 7 1-4 1 12 1 74 1-84 1 104 1 90 1-180 1 24 1-36 1 67 1-19 1 8 1-43 1 4 1 70 1 27 1 48 1-138 1-13 1 112 1-76 1-14 1-35 1 22 1 134 1-50 1-65 1 19 1 38 1-78 1 3 1 38 1 4 1 7 1-56 1 0 1 25 1-29 1 30 1 16 1-54 1 24 1 61 1-28 1 160 1-212 1 27 1 11 1 11 1-26 1-9 1-27 1 37 1-29 1-7 1 92 1-49 1-5 1 127 1-148 1-16 1-2 1 15 1 15 1 71 1-89 1 14 1 34 1-39 1-7 1 54 1 62 1-113 1 198 1-197 1 2 1 33 1-29 1 19 1-24 1-12 1 30 1 0 1 7 1-29 1 32 1 43 1 130 1-141 1-72 1-6 1 16 1 36 1-7 1-8 1-23 1-13 1 6 1-8 1 4 1 123 1-13 1-89 1-14 1 5 1-9 1 21 1-25 1-3 1 59 1-28 1-9 1 30 1-16 1 42 1-74 1 38 1-21 1 11 1 0 1-26 1 42 1-43 1 79 1-63 1-9 1 7 1-13 1 12 1 35 1-52 1 139 1-115 1 29 1-36 1 114 1-30 1-54 1 54 1-15 1-31 1-32 1 190 1-209 1 37 1-32 1-2 1 32 1-13 1 8 1 6 1 55 1-45 1-3 1 22 1-57 1-4 1-10 1 51 1-47 1-2 1 46 1-33 1 27 1 11 1 175 1-202 1 48 1-59 1 74 1-27 1 139 1-89 1-80 1 2 1-13 1-3 1-5 1 45 1-43 1-3 1 76 1 49 1-103 1-8 1-2 1 96 1-114 1 99 1-90 1 30 1-16 1 64 1-52 1-32 1 96 1-93 1 14 1 52 1-40 1-10 1 9 1 54 1 66 1-153 1 29 1 50 1-16 1-36 1-29 1 38 1-5 1 42 1-12 1-18 1-35 1 0 1-1 1-8 1 68 1-55 1 34 1-22 1-3 1 115 1-138 1 43 1 16 1-6 1 89 1-137 1 44 1 28 1-61 1-1 1 163 1-107 1-70 1 32 1-2 1 47 1-70 1 3 1 7 1 26 1-5 1 22 1-14 1-33 1 8 1-7 1 27 1-14 1-18 1 7 1-14 1 126 1 64 1-123 1-63 1 18 1-18 1-2 1 0 1-2 1 67 1-43 1 60 1-61 1 3 1-7 1-13 1 69 1-44 1-32 1 30 1 10 1-6 1-27 1-2 1 33 1-42 1 88 1-87 1 22 1 0 1 18 1-22 1 20 1-8 1-4 1 20 1 0 1-18 1-9 1 7 1-26 1 13 1 26 1 41 1-46 1-31 1 17 1 59 1-55 1-24 1 56 1-19 1-21 1 5 1-14 1 36 1-33 1 1 1-7 1 5 1-6 1 56 1 19 1-52 1-11 1-14 1 23 1 4 1 10 1-7 1-21 1-2 1 39 1-42 1 52 1-42 1 79 1 15 1-94 1 5 1 43 1-60 1 43 1-26 1 62 1-1 1-75 1 6 1 22 1-16 1 15 1 69 1-15 1-56 1-20 1 30 1 46 1 52 1-115 1 2 1 11 1-4 1-31 1 23 1-17 1 32 1-31 1 5 1 25 1-40 1 16 1 35 1-46 1 7 1 24 1-24 1 2 1 59 1-61 1 25 1-30 1 31 1 24 1-49 1 4 1-16 1 38 1-17 1-21 1 8 1 2 1 118 1-122 1-2 1 183 1-176 1 9 1-14 1 81 1-56 1 37 1-68 1 63 1-38 1-11 1 47 1 8 1-29 1-9 1 77 1-107 1 1 1-1 1 5 1 2 1 7 1 106 1-111 1 7 1 28 1-23 1 12 1-23 1-5 1 7 1 72 1-47 1 8 1-14 1-29 1 68 1-37 1 185 1-77 1-47 1-6 1-64 1-25 1 35 1-36 1 70 1-24 1-26 1 0 1 38 1 16 1 10 1-32 1-32 1-8 1 19 1 1 1-25 1 115 1-42 1-57 1 82 1-35 1-63 1 121 1-81 1-38 1 24 1 70 1-83 1 4 1-9 1-9 1 6 1 13 1 0 1-10 1-10 1-2 1-3 1 37 1-26 1-5 1 20 1 0 1-24 1-1 1 5 1 17 1-16 1 22 1-20 1 16 1-12 1-10 1 29 1 23 1 75 1 23 1-58 1 15 1-25 1-34 1-44 1 15 1 43 1 1 1 27 1-50 1-10 1-12 1 72 1-31 1-30 1-24 1 0 1 3 1 24 1 114 1-95 1-3 1 5 1-29 1 198 1-177 1-30 1 16 1 59 1-43 1-10 1-22 1-13 1 44 1-39 1 67 1-67 1 38 1-43 1 1 1-5 1 37 1 34 1-42 1 9 1-32 1-2 1 3 1 84 1-78 1 98 1-88 1-5 1-14 1 46 1-30 1 14 1-21 1 8 1-14 1 18 1-25 1 110 1-100 1-6 1 13 1 122 1-114 1 31 1-31 1-17 1 1 1 30 1-16 1 21 1 9 1 5 1-46 1 9 1 8 1 66 1-23 1-58 1 6 1-15 1 43 1-30 1 23 1-9 1-4 1 16 1-39 1 96 1-89 1-12 1 35 1-3 1-5 1 1 1 19 1-42 1-2 1 0 1 13 1 43 1 33 1-82 1 18 1-6 1 107 1-62 1-9 1 14 1-60 1 0 1 31 1-26 1 81 1-88 1 24 1 14 1-19 1 1 1-8 1-17 1 0 1 29 1-21 1 81 1-47 1-43 1 15 1-6 1-14 1 58 1 50 1-106 1 66 1 22 1-76 1-5 1 21 1 12 1-3 1-29 1 38 1-33 1 12 1 31 1-53 1 8 1 21 1-2 1-2 1-16 1-11 1 27 1 42 1-52 1 73 1-77 1 37 1 40 1-80 1-7 1 55 1-48 1 10 1 1 1 59 1-50 1-7 1 26 1-39 1 0 1 31 1 41 1-73 1 25 1-25 1 5 1 2 1-15 1 12 1-3 1 10 1-6 1 8 1 45 1 7 1-51 1 38 1-59 1 11 1 22 1-24 1 10 1 2 1 7 1-16 1 3 1 36 1-44 1-2 1-9 1-1 1 6 1 35 1-36 1-4 1 31 1 37 1-64 1 5 1 0 1-8 1 36 1-31 1 18 1-19 1 35 1-36 1-3 1 20 1-7 1 53 1-42 1-22 1-1 1 13 1 13 1-25 1 30 1-3 1-25 1 8 1 46 1-43 1 4 1-9 1 70 1 78 1-149 1 64 1 1 1-42 1 23 1-43 1-2 1-11 1 121 1-51 1-69 1 11 1 2 1 57 1 38 1 22 1-25 1-48 1-33 1-8 1-5 1 2 1 71 1-44 1-20 1 11 1-12 1-13 1 11 1 47 1-21 1-20 1 9 1-7 1 3 1 12 1 47 1-85 1 52 1-38 1 37 1-6 1-23 1 22 1-21 1 49 1-38 1-26 1-12 1 8 1 0 1 5 1 34 1-16 1-1 1-9 1 6 1-26 1 37 1 74 1-92 1-14 1 10 1 17 1 52 1-65 1-9 1 37 1-16 1 42 1-59 1-13 1 10 1 7 1 19 1 19 1-46 1-6 1 251 1-235 1-1 1-1 1 19 1-32 1 40 1-11 1-22 1 0 1 13 1 33 1-56 1 9 1 2 1-9 1 13 1-11 1 1 1 24 1 12 1-29 1 0 1 25 1-23 1 85 1-98 1 134 1-112 1 33 1 31 1-31 1 4 1 38 1-101 1 3 1 87 1-52 1-34 1 45 1-47 1 28 1-18 1-11 1 14 1 1 1 12 1-15 1 8 1 28 1-32 1-12 1 0 1 17 1 31 1-38 1-15 1 33 1 19 1-16 1 6 1 12 1-29 1 18 1-30 1-5 1 134 1-50 1-14 1-61 1 66 1-42 1 13 1-44 1 5 1 36 1-29 1 14 1-32 1 6 1 25 1-1 1-11 1 25 1-7 1-12 1 50 1 72 1-151 1 10 1 49 1-37 1 13 1 31 1-18 1 4 1-14 1-17 1-8 1 3 1 0 1 34 1-43 1 12 1 15 1-19 1 11 1 17 1-31 1 36 1 20 1-33 1-23 1 32 1-26 1 90 1-64 1 2 1-22 1 70 1 17 1-41 1-36 1 65 1-56 1 16 1 29 1-3 1-40 1-12 1-29 1 76 1-73 1 45 1-15 1 0 1-1 1-4 1-28 1 13 1-7 1 18 1 2 1-18 1 2 1-11 1 27 1-16 1 18 1-28 1 15 1 37 1-56 1 53 1-44 1-2 1-2 1 3 1-4 1 0 1 69 1-31 1-38 1 68 1-8 1 21 1-78 1-3 1-1 1 81 1-83 1 54 1 1 1-49 1 40 1-45 1 73 1-23 1-45 1 27 1-29 1 26 1-10 1-21 1 26 1 1 1-12 1 71 1-81 1-5 1 129 1 23 1-148 1 9 1 43 1-44 1 16 1 64 1-26 1-66 1 28 1 13 1-19 1-1 1-11 1 7 1 9 1 40 1-24 1-35 1 28 1-22 1 43 1 5 1-38 1-23 1 49 1-40 1 20 1 17 1-22 1-11 1-3 1 7 1 33 1-50 1 0 1 38 1-8 1 24 1-42 1-5 1 61 1-56 1 2 1 3 1-11 1-3 1 28 1 166 1-176 1-16 1 13 1 1 1 131 1-149 1 3 1 7 1 10 1-16 1-5 1 142 1-126 1-7 1 12 1-18 1 2 1 55 1-7 1-15 1 4 1-28 1-10 1 37 1-36 1 66 1-61 1 33 1-12 1 34 1-51 1 12 1 70 1-37 1-40 1 20 1-34 1 51 1-36 1 15 1-23 1 21 1 153 1-153 1-29 1 9 1-1 1 13 1 29 1-35 1-2 1 16 1-15 1 5 1-8 1 74 1 10 1-34 1-24 1 154 1-185 1 61 1-62 1-1 1 6 1 22 1-23 1-13 1 72 1-65 1 2 1 13 1-19 1 29 1 7 1 9 1 100 1-109 1-10 1-23 1 26 1-7 1 19 1-26 1 86 1-82 1 11 1 48 1-28 1 17 1-64 1 37 1-41 1 3 1 31 1-14 1-6 1-9 1 24 1 16 1-5 1-29 1 10 1-12 1 29 1-28 1-12 1 50 1-6 1-30 1 3 1-8 1-8 1 19 1-3 1 25 1-25 1 37 1-25 1-1 1-10 1-18 1 0 1 30 1-29 1 38 1-26 1 38 1 44 1-79 1 98 1-111 1 0 1-1 1 38 1-26 1 27 1-25 1 10 1-22 1 32 1-20 1-1 1 16 1-23 1 6 1 81 1-13 1-79 1 94 1-67 1-15 1 88 1-91 1-7 1-5 1 10 1-7 1 42 1-43 1 2 1 71 1 5 1-14 1-58 1 138 1-146 1 5 1 0 1 33 1-37 1 6 1-3 1 10 1-10 1 0 1-4 1 115 1-99 1 15 1 70 1-94 1 29 1-30 1 141 1-117 1 34 1 10 1-74 1 62 1 13 1-65 1 6 1 43 1-23 1-23 1-5 1 11 1-18 1-1 1 27 1 22 1-29 1 36 1-56 1 31 1 56 1-69 1 46 1-8 1 8 1-6 1 73 1-131 1 6 1-5 1-1 1 19 1 21 1 12 1 44 1-95 1 24 1 20 1-31 1 12 1-25 1 16 1 38 1 12 1-37 1-19 1 5 1 4 1 7 1-11 1-16 1 7 1-5 1 21 1-20 1 54 1-41 1-5 1 29 1-9 1-15 1 42 1-56 1 20 1 49 1-71 1 46 1 62 1 68 1-113 1-18 1-27 1 12 1-10 1-15 1 11 1-15 1 9 1 43 1-53 1 15 1 10 1 28 1-23 1 63 1-19 1-33 1-18 1-19 1-4 1 11 1 4 1 55 1-64 1 23 1-21 1-3 1 67 1-52 1 52 1-1 1-8 1-62 1 99 1-27 1-53 1-13 1 12 1-7 1-2 1 10 1 53 1-50 1-19 1 22 1-6 1-18 1-2 1 51 1-34 1 42 1 15 1-68 1 38 1-39 1 8 1-9 1 10 1 39 1-14 1-26 1-13 1 23 1-16 1 52 1-10 1-48 1 36 1-16 1 111 1-132 1 2 1 127 1-112 1 12 1-19 1 3 1 110 1-65 1-40 1-2 1 56 1-21 1-2 1-34 1 64 1-70 1 5 1-5 1 10 1 7 1 20 1-12 1-10 1-4 1 37 1 27 1-72 1 139 1-148 1 0 1 2 1-4 1 14 1-11 1 26 1 37 1 16 1-71 1 5 1 13 1 6 1 4 1 34 1-55 1 47 1-59 1-7 1 34 1-21 1-9 1 19 1-14 1 16 1-24 1 9 1 49 1-5 1-39 1 17 1-8 1 50 1-64 1 132 1-88 1-6 1-26 1-18 1 27 1 53 1-77 1 26 1 100 1-115 1-4 1 10 1 23 1-4 1-33 1-8 1 9 1-6 1 8 1 20 1-11 1 64 1-85 1 44 1-31 1 4 1 15 1 9 1-4 1-26 1 54 1-20 1 5 1-2 1-23 1-10 1-6 1-5 1 12 1-12 1 21 1-18 1 13 1 3 1-22 1 21 1-4 1-14 1-5 1 0 1 19 1-2 1 95 1-97 1 12 1 49 1-74 1 5 1 52 1-52 1 54 1-37 1 85 1-73 1 6 1-34 1 215 1-221 1 4 1 37 1 50 1-88 1 49 1-24 1-1 1-26 1 2 1 27 1 132 1-140 1 20 1 43 1 4 1-81 1 49 1 87 1-122 1-4 1-15 1 28 1-12 1-9 1 12 1 8 1-21 1-10 1 22 1-13 1-10 1 27 1 38 1-13 1-42 1 33 1-42 1 4 1 57 1-38 1-21 1 71 1-57 1-13 1 23 1 40 1 34 1-70 1-25 1 8 1 37 1-45 1 17 1-22 1 27 1-2 1 20 1-26 1 19 1 15 1-40 1-4 1 2 1-9 1 55 1-29 1-2 1 17 1-7 1-3 1-9 1-24 1 62 1-25 1 104 1-120 1 17 1-37 1 17 1 80 1-86 1-11 1 47 1 18 1-29 1 34 1-41 1 17 1-33 1 1 1-9 1 93 1-57 1-24 1 11 1 20 1-34 1 7 1 220 1-218 1-9 1-1 1 20 1-28 1 2 1 13 1 8 1-24 1 21 1 16 1-7 1-27 1 67 1-48 1-11 1 5 1-12 1-7 1 7 1 22 1 1 1-17 1-2 1-1 1-5 1 47 1-27 1-1 1-19 1-7 1 31 1-28 1 4 1 59 1-40 1-12 1-9 1-6 1 41 1-29 1 3 1-12 1 37 1-38 1 17 1 14 1 5 1-15 1-12 1-4 1-3 1 0 1 65 1-16 1-46 1 0 1-2 1 1 1 4 1 56 1-61 1 2 1 37 1-37 1 7 1-12 1 24 1-25 1 86 1-12 1-38 1-33 1 17 1-2 1-15 1 26 1 12 1-13 1-24 1 39 1-21 1-7 1 13 1 95 1-59 1-35 1-14 1-9 1 52 1-3 1-56 1 99 1-13 1 18 1-81 1-8 1-13 1 57 1-18 1 41 1 16 1-68 1-13 1 5 1-13 1 13 1-12 1 93 1-62 1-34 1-3 1 112 1-73 1 23 1-18 1 20 1-63 1 40 1-12 1-12 1-13 1-8 1 16 1-3 1-1 1-6 1 16 1 102 1-122 1-1 1 2 1 0 1 2 1 27 1 32 1-61 1 19 1 27 1 56 1-45 1 36 1-66 1-8 1-5 1 39 1-53 1 23 1-7 1-17 1 19 1-19 1 51 1-41 1-7 1-3 1 52 1-32 1-5 1-2 1-15 1 8 1 18 1-18 1 17 1 59 1-80 1 7 1-11 1 17 1 142 1-130 1 16 1-33 1 26 1 19 1-6 1 12 1-11 1-36 1 12 1 54 1-60 1-4 1-2 1 3 1 41 1-40 1 0 1 9 1-25 1 68 1-29 1-1 1-20 1 18 1-6 1 10 1-31 1 11 1-23 1 13 1 35 1-44 1 141 1-113 1 31 1-4 1-57 1 0 1 67 1-50 1 8 1 17 1-1 1 93 1-115 1-1 1 22 1-41 1 84 1-81 1 23 1-27 1 13 1 49 1-50 1-12 1 48 1-44 1 4 1 5 1-14 1 7 1-3 1 89 1-50 1-41 1 30 1 21 1-40 1-11 1 33 1 22 1-39 1-12 1 46 1-15 1-34 1 22 1 52 1-77 1 102 1-88 1 92 1-46 1 11 1-68 1 56 1-35 1-10 1 28 1 1 1-18 1 16 1-34 1 24 1-22 1 27 1-16 1 22 1-37 1 24 1-21 1 71 1-48 1-6 1 82 1-73 1-23 1 43 1-46 1 27 1-22 1 44 1 18 1-19 1-18 1-21 1 71 1-73 1 39 1-13 1-33 1 6 1 25 1 40 1-78 1 51 1-50 1 88 1-47 1-31 1 23 1 15 1-16 1-25 1 24 1-19 1 22 1 18 1 56 1-110 1 68 1-41 1-11 1-6 1 63 1-42 1-17 1-14 1 12 1 40 1 36 1-86 1 25 1-3 1-4 1-8 1 27 1-27 1 8 1 0 1-11 1 53 1 15 1-75 1 45 1-23 1-5 1-6 1 29 1-39 1 7 1-3 1 8 1 7 1 12 1-24 1 68 1-65 1-9 1 16 1 18 1-36 1 122 1-89 1 52 1-59 1-23 1-4 1 12 1 19 1 6 1 14 1-23 1 84 1-24 1-86 1 26 1-8 1 164 1-145 1-24 1 158 1-150 1-3 1 37 1-22 1-34 1 9 1 38 1-37 1 19 1 21 1-36 1 1 1-16 1 2 1 28 1-23 1-6 1 14 1-10 1 14 1-17 1 16 1 55 1-71 1 112 1-95 1-5 1 28 1 38 1-71 1 34 1-11 1-3 1-26 1 0 1 19 1 13 1-32 1 9 1-7 1 172 1 19 1-180 1-17 1 8 1 160 1-163 1 68 1-60 1-13 1 41 1-34 1 16 1-18 1-3 1 11 1 32 1-11 1-1 1 7 1-37 1-1 1 84 1-75 1 27 1 18 1-19 1-14 1 24 1-33 1-12 1 17 1-11 1 0 1 3 1-9 1 29 1-31 1 19 1 38 1 55 1-111 1 6 1 15 1-5 1 33 1 12 1-45 1 6 1 114 1-111 1 120 1-114 1 33 1-65 1 48 1-38 1-7 1 18 1-1 1 42 1-61 1 6 1-7 1 38 1-29 1 3 1-3 1 97 1-22 1-62 1 0 1 11 1 67 1-90 1 16 1-5 1-7 1 90 1-80 1-6 1-7 1 14 1-22 1 19 1-9 1 27 1-32 1-6 1 68 1-25 1-37 1 107 1-102 1 10 1-18 1-3 1 83 1-76 1 43 1-31 1-2 1 12 1-11 1-10 1 46 1 1 1-41 1 12 1-7 1-4 1-16 1 9 1 1 1-9 1 72 1-63 1 57 1-56 1 6 1-9 1 83 1-45 1 78 1-68 1-27 1 2 1 97 1-91 1-33 1 11 1 4 1-5 1-5 1 15 1-10 1 11 1-12 1 44 1-47 1 19 1 17 1-1 1 44 1-5 1-84 1 1 1 12 1 15 1 1 1-16 1 117 1-83 1-41 1 0 1-1 1 12 1 35 1-42 1 2 1-5 1 16 1-22 1 48 1 108 1-144 1 4 1 41 1-56 1 8 1 0 1 28 1-21 1-16 1 134 1-57 1-75 1 13 1 18 1-26 1 20 1-18 1 5 1 0 1-16 1 2 1 24 1-13 1 20 1 35 1-44 1-5 1 13 1-26 1 25 1-26 1 6 1-11 1 21 1-20 1 0 1 47 1 27 1-48 1 5 1 12 1-40 1 57 1 0 1-56 1 7 1 7 1 28 1-35 1 33 1 16 1-25 1 28 1-27 1-22 1 12 1-26 1 4 1 53 1-51 1 31 1 12 1-48 1 40 1 29 1 22 1-74 1-6 1 58 1-17 1 39 1-80 1 6 1 4 1-7 1 17 1 1 1-33 1 62 1 61 1-75 1-27 1 10 1 20 1 20 1-69 1 13 1 42 1-45 1 54 1-43 1 7 1 17 1-41 1 79 1-53 1-30 1 66 1-23 1-33 1 4 1 11 1-27 1 1 1 77 1 24 1-73 1-8 1 62 1-56 1 16 1-11 1 51 1-54 1-3 1-2 1-25 1 2 1 18 1 57 1-61 1 15 1-7 1-4 1-18 1 4 1 61 1-51 1 14 1 17 1-47 1 20 1-6 1-2 1 34 1-46 1 1 1 30 1 2 1 20 1-11 1-30 1 25 1-11 1 14 1-20 1 38 1 11 1-55 1-14 1 38 1-16 1-18 1 34 1 23 1-38 1-15 1 12 1-16 1 0 1-3 1 12 1 57 1-3 1 43 1-41 1-68 1 24 1 52 1-45 1 6 1-22 1-10 1 9 1 67 1-29 1-39 1-6 1 7 1 28 1-38 1 48 1-22 1 21 1-6 1-46 1 87 1-72 1 14 1-24 1 12 1 16 1 60 1-12 1-3 1-51 1 18 1 83 1-72 1-11 1 34 1-75 1-2 1 27 1 29 1-29 1-8 1 71 1 11 1-102 1 1 1-2 1 3 1 57 1 3 1-34 1 8 1-26 1-3 1 2 1 2 1 16 1-17 1 145 1-133 1 48 1-31 1-25 1 23 1-31 1 9 1 16 1 94 1-116 1 43 1 9 1-7 1 105 1-84 1-60 1 2 1 98 1-96 1 5 1 52 1-68 1 65 1-54 1-2 1-10 1-5 1 64 1-62 1 1 1 14 1 84 1-85 1-3 1 22 1-16 1 34 1-49 1 61 1-68 1 89 1-18 1-31 1-3 1 3 1-12 1 4 1-18 1-10 1 34 1-36 1 5 1 1 1-6 1 13 1 7 1 52 1-15 1 8 1-26 1-26 1 8 1-10 1 25 1-12 1-9 1 2 1 11 1-6 1 14 1-16 1 51 1-47 1-16 1 66 1-43 1-27 1 34 1-18 1-21 1-1 1 68 1-66 1 29 1 19 1-17 1 40 1-72 1 10 1 29 1-20 1 33 1-47 1 44 1-47 1 63 1 29 1-93 1 12 1 17 1-31 1 4 1 97 1-36 1 8 1 3 1-57 1 144 1-136 1-11 1-5 1 43 1-52 1 17 1-10 1 37 1-33 1 10 1-17 1-1 1 25 1 28 1-10 1-31 1 8 1 12 1 26 1-59 1 74 1-55 1-12 1 8 1 4 1-15 1 4 1-11 1 26 1 40 1-66 1 89 1-26 1 11 1-68 1 61 1-47 1-18 1 14 1-14 1 5 1 14 1-1 1-21 1 57 1-40 1-6 1 36 1-36 1-2 1 43 1-37 1 16 1 11 1-13 1-28 1 68 1 19 1-33 1-47 1 36 1-43 1 7 1 8 1 1 1-14 1 9 1-8 1 123 1-116 1-8 1 27 1-17 1 26 1-35 1 28 1-30 1 7 1 20 1 42 1 305 1-363 1 71 1-25 1-45 1 25 1 9 1 1 1-39 1 94 1-84 1-20 1 4 1 20 1 14 1-12 1-4 1 9 1-4 1-15 1 37 1 2 1 42 1-81 1 40 1-44 1 19 1-17 1 28 1 10 1-26 1 48 1-68 1 12 1 8 1 15 1-33 1 8 1 37 1-47 1 16 1-11 1 36 1-40 1 6 1 7 1 32 1-42 1 35 1-39 1 25 1 125 1-141 1-4 1 7 1-8 1 3 1 19 1-26 1 98 1-86 1 19 1-25 1-4 1-4 1 13 1 9 1-18 1 17 1-12 1-8 1 30 1 30 1-49 1 41 1-40 1-1 1 16 1-19 1-3 1 5 1-1 1 11 1 1 1-18 1-4 1 60 1-56 1 31 1 24 1-42 1 1 1 92 1-46 1-53 1-7 1 12 1 14 1-2 1 37 1-13 1 47 1-93 1 52 1-47 1 7 1 0 1 3 1 19 1 39 1-66 1-4 1-6 1 24 1 21 1 13 1-36 1 0 1 4 1-25 1 32 1 44 1-67 1-4 1 17 1 86 1-109 1 34 1-18 1 2 1 3 1-21 1 9 1-8 1 0 1 5 1 5 1 85 1-66 1-14 1 3 1 54 1 55 1-117"/>
<path class="g" transform="scale(0.067355,0.2)" d="M0,621l1-72 1 43 1-47 1 58 1-60 1 0 1 175 1-51 1-31 1-19 1-32 1 22 1-23 1-18 1-17 1 96 1-70 1-32 1 20 1 28 1-42 1 98 1-30 1-59 1 2 1-4 1 10 1 5 1-14 1-1 1 37 1 109 1-125 1 51 1 212 1-250 1-48 1 4 1 55 1-9 1-10 1-17 1 20 1 30 1 10 1-72 1 107 1-13 1 33 1-40 1-82 1-12 1 10 1 4 1 16 1 56 1-76 1 19 1 35 1-36 1 26 1-39 1 95 1 16 1 9 1-122 1-2 1 5 1 63 1-16 1-31 1-36 1 8 1-8 1 63 1-55 1 14 1 25 1-14 1-25 1 17 1 35 1-35 1-13 1 34 1-33 1 74 1-33 1-46 1 23 1 67 1-12 1-14 1-43 1-8 1-19 1 46 1 55 1-89 1 50 1-59 1 78 1 32 1-94 1 2 1 8 1 53 1 10 1 34 1-114 1-8 1 90 1-74 1 14 1 102 1-115 1 49 1-59 1 19 1 9 1 70 1-27 1-37 1-9 1 61 1-28 1 45 1-21 1 51 1-72 1 7 1-53 1-13 1 55 1-5 1-44 1-2 1 7 1-8 1 41 1-47 1 63 1 131 1-166 1 66 1-71 1 9 1 4 1-16 1 33 1-17 1-7 1-11 1-29 1 15 1-9 1 82 1-19 1-50 1 23 1-40 1-1 1 127 1-58 1 26 1 2 1-67 1 0 1 61 1 28 1-90 1-27 1 19 1 73 1-58 1 7 1 152 1-175 1 22 1-21 1 64 1-78 1 31 1-33 1 14 1 22 1-26 1 205 1-141 1 1 1-54 1 1 1-24 1 5 1 52 1 27 1 7 1 137 1-231 1 66 1-9 1-53 1 29 1 1 1 34 1-21 1 27 1-21 1 35 1-79 1-7 1 51 1 168 1-196 1 118 1-99 1-25 1-21 1 31 1 126 1-134 1 0 1-8 1 41 1 6 1-29 1 77 1 10 1-105 1 67 1-64 1 5 1 40 1-54 1 15 1-11 1 34 1 27 1-22 1 102 1-119 1 134 1-91 1-65 1 49 1 91 1-117 1-15 1 71 1-43 1-13 1 2 1 2 1 0 1 7 1-42 1 51 1 114 1-129 1 51 1-78 1 50 1-41 1 68 1-91 1 37 1 37 1-66 1 31 1 33 1-17 1-54 1 75 1 17 1-84 1 57 1 76 1-91 1-11 1 109 1-135 1-10 1 14 1 7 1 12 1 63 1-34 1-49 1 10 1-1 1 28 1 58 1-81 1-3 1 20 1 77 1-86 1-8 1-30 1 17 1 12 1-8 1 42 1 23 1-9 1-61 1 137 1-135 1 38 1-54 1 44 1-6 1 181 1-65 1-31 1-110 1 84 1-73 1-25 1 6 1 48 1-22 1 42 1 157 1-206 1-16 1-11 1 28 1 3 1 57 1-38 1-21 1 27 1-55 1 22 1 119 1-137 1-3 1 36 1-35 1 71 1-62 1 151 1-61 1-80 1 7 1 85 1-54 1-13 1 105 1-151 1 121 1-34 1-49 1-33 1 3 1 97 1 43 1-99 1 61 1-72 1 9 1 29 1-58 1-5 1 47 1-41 1-20 1 35 1-34 1 12 1 42 1-51 1 42 1 91 1 21 1-10 1-144 1 11 1 103 1-108 1 21 1-4 1 26 1 11 1-29 1 44 1 3 1-63 1 9 1 8 1-27 1 11 1 7 1 11 1-38 1 15 1-15 1 10 1-6 1 24 1-11 1 2 1-15 1 30 1-20 1-1 1-4 1 66 1 136 1-173 1 14 1-22 1-27 1 128 1-95 1 99 1-22 1-51 1-7 1 140 1-179 1-13 1-3 1 2 1 135 1-115 1-14 1 84 1 29 1-88 1 5 1-12 1 6 1 54 1-78 1-8 1 20 1 38 1 28 1-51 1 31 1 2 1-47 1-18 1 248 1-169 1 51 1-115 1-17 1 23 1-3 1 24 1-41 1 23 1 27 1-37 1 3 1-18 1 56 1-13 1-3 1 17 1 78 1-78 1-59 1 8 1 27 1 224 1-161 1 82 1-136 1 1 1-35 1 2 1 12 1-22 1 39 1 9 1 41 1 62 1-149 1 47 1 53 1-90 1-13 1 36 1-23 1-10 1 16 1 27 1-33 1 97 1-90 1 9 1-28 1 13 1-15 1 19 1-12 1 42 1 10 1 0 1-30 1 51 1-22 1-53 1 4 1-9 1 3 1 22 1 71 1-86 1 60 1-38 1-26 1-6 1 10 1 41 1-40 1-5 1-4 1 4 1 35 1 2 1-33 1 8 1 3 1 9 1 37 1 22 1 36 1-125 1 27 1-16 1 10 1 67 1-70 1 7 1-23 1 28 1-16 1 116 1-82 1 52 1-5 1-60 1-14 1-16 1 31 1-32 1 133 1-131 1 139 1-127 1 36 1 8 1 104 1-134 1 78 1-78 1 3 1-27 1 40 1 18 1-58 1 23 1-23 1 57 1-55 1 7 1 12 1-29 1 31 1-2 1-27 1 2 1 9 1-10 1 130 1-17 1-45 1 48 1-118 1 48 1-33 1 80 1-26 1 68 1-97 1-15 1-15 1-9 1 70 1-70 1 76 1-1 1 31 1-25 1-80 1 11 1-2 1 5 1 16 1-19 1 18 1 55 1-84 1-3 1 26 1-8 1 55 1 16 1-62 1 43 1-68 1 36 1-36 1 11 1 10 1 52 1-38 1-34 1 28 1-7 1-6 1 4 1-2 1 99 1-57 1-5 1-36 1-3 1-17 1 21 1 44 1-35 1 16 1-37 1 49 1-3 1-24 1-27 1 7 1 53 1 14 1 65 1-2 1-129 1 13 1 0 1-19 1 69 1-75 1 17 1 38 1 104 1-61 1-43 1-38 1 3 1-6 1-15 1 14 1-4 1 42 1 76 1-22 1-77 1 52 1-55 1-17 1-1 1-7 1 24 1 21 1-42 1 55 1-41 1 77 1-38 1 6 1 42 1-21 1-29 1-19 1-33 1 2 1 57 1-61 1 165 1-128 1-10 1-23 1 42 1-29 1 103 1-81 1-17 1 67 1 15 1 138 1 0 1-154 1 3 1-33 1-30 1 96 1-87 1-15 1 27 1-47 1 83 1-53 1-24 1 24 1-28 1 45 1-38 1 44 1-41 1 89 1-87 1-12 1 40 1-35 1 42 1-39 1-5 1-4 1 3 1 11 1 81 1-80 1-6 1 1 1 97 1-23 1 27 1-57 1-56 1-1 1 23 1-6 1 50 1-13 1-50 1 36 1-37 1 20 1 34 1 92 1-113 1-26 1 12 1-9 1 1 1 97 1-89 1 21 1 41 1-60 1 54 1 26 1-92 1-11 1 29 1-8 1 8 1 2 1 68 1-71 1 49 1-59 1 13 1-1 1 34 1 42 1-86 1 47 1-8 1 102 1-85 1-62 1-8 1-7 1 17 1-9 1 4 1 28 1-19 1-11 1 7 1 33 1-29 1-22 1 7 1 6 1-10 1-3 1 50 1-47 1 57 1-57 1 56 1 46 1-88 1 0 1-10 1-4 1 20 1 15 1 21 1 40 1 92 1-187 1 41 1-43 1-2 1 103 1 160 1-227 1 4 1 27 1-47 1 53 1-30 1 34 1-61 1 21 1-35 1 15 1 31 1 28 1-44 1-6 1-24 1 36 1-1 1-30 1-5 1 3 1 27 1-27 1 130 1-85 1-38 1 68 1-79 1 72 1-71 1 16 1-3 1-10 1 16 1-17 1 51 1-13 1-30 1-10 1 29 1 36 1-61 1-3 1 81 1-65 1 8 1-9 1 12 1-10 1 6 1 18 1-9 1 0 1-34 1 11 1 72 1-58 1-1 1 28 1-4 1 43 1-76 1 43 1-58 1 46 1-41 1 6 1 23 1-17 1 9 1-13 1 12 1-26 1 2 1-2 1 4 1 60 1-30 1 33 1-31 1-11 1-10 1 8 1 26 1 32 1-23 1-45 1 131 1-138 1 22 1-26 1 122 1-30 1-78 1 82 1-32 1 1 1-61 1-6 1 19 1 70 1-56 1-15 1-11 1-4 1 2 1 9 1-9 1-3 1 9 1 53 1-57 1 56 1-59 1 15 1-11 1 66 1-50 1-21 1 73 1-18 1-30 1 100 1-98 1-4 1-19 1 25 1 109 1-110 1-5 1 45 1 41 1-101 1-11 1 9 1 57 1-66 1 26 1-5 1 14 1 12 1 32 1-29 1 90 1 20 1-145 1 23 1-27 1-4 1-4 1 25 1 54 1-52 1 30 1-27 1-9 1 22 1-22 1-11 1 23 1-21 1 40 1 3 1 169 1-201 1-22 1 53 1 83 1-84 1-23 1 16 1 29 1-65 1-12 1 0 1 16 1-8 1 82 1-76 1 24 1-32 1 79 1-78 1 181 1-169 1 4 1 47 1-58 1 50 1-20 1-43 1 45 1-22 1 0 1-21 1 8 1-4 1-6 1 3 1 173 1-125 1 62 1 3 1-100 1 32 1-15 1 61 1-74 1 15 1-34 1 86 1 138 1-191 1 7 1-19 1-18 1 17 1 4 1-25 1 0 1 83 1-46 1 68 1-100 1-4 1 3 1 23 1-24 1 0 1 0 1 32 1-31 1 79 1-76 1 23 1 1 1-30 1 68 1-59 1 25 1-10 1 36 1-26 1-17 1-6 1 4 1 24 1-23 1-14 1 34 1 20 1 40 1-82 1 11 1 0 1 24 1-41 1 41 1-8 1-42 1 1 1 17 1 15 1-25 1 62 1-25 1-38 1 49 1-38 1-7 1 8 1-15 1 68 1-62 1 84 1-85 1 32 1 31 1 16 1-88 1 30 1-3 1-17 1 105 1-80 1 48 1-37 1-36 1 31 1-5 1 17 1 19 1-59 1 3 1-7 1 2 1 6 1 9 1 25 1-6 1-29 1 10 1 100 1-98 1-6 1-20 1 20 1-6 1-11 1 24 1-17 1 43 1 33 1-69 1 48 1-4 1-36 1 1 1 29 1 2 1-48 1 1 1 15 1-17 1-10 1 15 1 26 1 5 1-42 1 14 1-7 1 30 1-20 1 25 1-37 1 4 1 3 1 2 1-3 1 25 1 47 1-65 1 68 1-89 1 33 1-12 1 32 1 5 1-51 1 71 1-66 1 57 1-21 1-38 1 63 1-7 1-64 1 121 1-67 1-21 1-31 1 8 1 42 1-44 1 23 1 18 1-52 1 13 1 4 1 63 1-46 1-13 1 140 1-149 1-8 1 35 1 43 1-64 1 3 1-14 1 33 1-13 1 38 1-15 1-19 1 34 1-40 1 7 1-6 1 19 1 6 1 23 1-63 1 51 1-18 1-18 1 50 1-73 1 18 1-2 1-13 1 18 1 45 1-69 1 19 1-16 1 41 1-14 1-23 1-4 1-3 1 5 1-2 1 28 1-16 1-4 1 13 1-24 1 7 1 1 1 11 1-5 1 49 1 8 1-55 1-8 1-4 1 48 1-37 1-5 1 77 1 12 1-46 1 57 1 93 1-141 1-5 1-27 1-8 1 18 1-27 1 7 1 22 1-32 1 7 1-9 1 18 1 111 1-116 1 20 1-40 1 8 1 44 1-28 1-18 1 23 1-24 1 24 1-20 1 37 1-47 1 8 1 27 1-33 1 16 1-11 1-4 1 11 1 37 1-45 1 2 1 47 1-39 1 26 1-14 1 54 1-53 1 65 1 95 1-121 1-48 1-5 1 10 1 0 1 24 1-21 1-8 1 3 1-5 1 33 1 90 1 5 1-138 1 16 1 80 1-104 1 16 1 25 1-21 1-14 1 158 1-98 1-65 1 0 1-1 1 7 1-3 1 4 1 13 1-18 1 80 1-54 1-28 1 18 1 7 1-24 1 11 1 14 1 13 1 51 1-29 1 0 1-14 1-48 1 16 1 21 1 37 1-51 1 41 1-47 1 31 1-44 1 59 1-46 1 21 1-6 1-14 1 13 1-25 1 30 1-5 1-30 1 8 1-9 1 15 1 175 1-185 1 4 1 47 1-30 1-5 1 89 1-105 1 16 1 7 1 3 1-14 1-3 1-1 1 4 1 18 1-17 1 30 1-31 1 17 1-27 1 3 1 53 1 23 1-74 1-5 1 2 1 49 1-26 1-28 1-2 1 35 1-4 1 95 1-122 1 91 1-94 1 72 1-57 1 90 1-88 1 44 1-40 1-13 1-7 1-4 1 100 1-90 1 2 1 3 1 12 1 9 1 16 1-12 1 109 1-129 1-17 1-3 1 44 1 16 1-37 1 22 1-22 1-7 1 2 1 22 1-32 1 86 1-7 1-75 1-5 1 28 1-31 1 66 1-64 1 50 1-48 1 29 1-31 1 8 1-12 1 18 1-6 1 8 1-8 1 37 1 8 1-36 1 61 1-52 1-28 1-2 1 72 1-26 1-10 1 34 1-45 1 36 1-19 1-42 1 11 1-2 1 56 1-60 1 152 1-90 1 50 1-61 1-17 1-13 1 50 1-75 1-3 1 3 1-3 1 28 1 28 1-26 1-19 1 16 1 175 1-176 1-2 1-1 1-18 1 13 1 102 1-117 1 42 1-8 1 5 1 81 1-1 1-100 1 12 1-34 1 13 1-11 1 37 1-16 1-20 1 16 1-13 1-3 1 3 1 15 1-1 1-14 1-5 1 4 1 31 1-34 1-1 1 85 1-76 1 13 1-7 1-10 1-3 1 6 1 81 1-70 1 12 1-19 1-6 1 10 1 10 1-8 1 0 1 68 1-72 1-1 1 39 1-53 1 24 1 51 1-70 1 34 1-17 1-13 1-4 1 45 1-39 1 53 1-21 1-36 1 30 1-9 1 1 1-29 1 9 1-4 1-1 1-1 1-2 1 45 1 35 1 0 1-15 1-19 1-41 1-3 1 1 1-2 1 135 1-135 1 51 1 115 1-126 1-22 1 111 1-71 1-31 1 3 1-31 1 0 1 94 1-90 1 10 1-14 1 3 1 11 1 22 1 103 1-124 1 78 1-93 1 98 1-86 1 72 1-43 1-27 1 33 1-23 1 1 1 67 1-54 1 4 1-34 1 13 1-21 1 2 1 44 1-22 1 24 1-18 1 20 1-51 1 51 1-44 1 37 1-5 1 158 1-148 1-31 1 59 1-33 1 3 1-8 1 107 1-55 1-15 1-18 1 7 1-42 1 28 1-20 1-21 1 87 1-82 1 0 1-14 1 88 1-56 1 164 1-187 1 55 1-30 1-4 1-14 1 66 1-71 1 15 1 10 1 6 1-31 1 68 1-59 1 8 1 6 1-5 1 33 1-55 1 3 1-3 1 40 1-44 1-3 1 11 1 20 1-32 1 83 1-37 1-27 1 0 1 39 1-56 1 0 1 28 1 4 1-13 1-10 1 34 1-3 1-19 1-15 1 22 1-26 1 35 1-18 1 46 1-31 1-25 1 1 1-7 1 1 1 55 1-35 1-14 1-12 1 0 1 4 1 19 1 25 1-6 1-14 1 74 1-15 1-81 1 42 1-39 1 59 1-44 1 24 1-16 1-1 1-3 1-21 1 21 1 13 1-34 1 27 1-28 1 23 1-20 1 25 1 79 1-110 1 20 1 40 1-29 1 35 1-59 1 79 1-28 1-23 1 115 1-133 1 56 1 9 1-76 1 19 1-19 1 8 1-13 1 17 1 16 1-36 1 9 1-2 1 25 1-10 1 5 1-5 1-22 1 4 1 30 1-25 1 99 1-103 1 6 1-1 1 16 1 2 1-27 1 2 1-1 1-1 1 24 1-1 1-6 1 65 1-71 1-3 1 0 1 20 1-25 1 5 1 2 1-7 1-5 1 26 1-13 1-12 1 3 1-1 1 60 1-5 1-49 1 21 1-24 1 13 1-10 1-8 1 47 1-32 1 59 1-53 1 10 1 43 1-35 1-38 1 35 1-6 1-25 1 3 1 15 1-20 1 6 1-7 1 41 1-37 1 8 1 44 1 5 1-11 1 32 1-19 1 1 1-62 1 0 1-3 1 106 1 4 1-53 1-23 1-32 1 4 1 148 1-130 1-22 1 25 1-9 1-7 1 1 1 12 1-2 1-11 1 113 1-101 1 1 1-20 1 2 1-8 1 4 1 0 1 2 1 140 1-139 1-3 1 64 1-56 1-10 1 1 1-2 1 13 1-4 1 82 1-48 1 4 1 15 1-28 1 40 1-37 1 15 1-7 1-30 1 0 1-1 1 0 1 0 1 23 1 139 1-133 1-33 1 21 1 3 1-24 1 23 1 65 1-79 1 38 1 25 1-51 1 0 1 3 1-27 1 23 1-6 1 24 1-43 1 36 1-42 1 6 1 19 1-14 1 28 1-38 1 8 1 67 1-76 1 27 1 5 1-26 1-2 1 0 1 16 1 3 1-22 1 50 1 53 1-48 1-32 1-21 1 4 1 62 1-2 1-15 1-34 1-14 1 10 1-12 1 43 1-31 1 45 1-28 1 3 1-9 1 18 1-28 1-5 1 35 1-44 1 33 1-16 1 138 1-107 1-7 1 48 1-16 1 70 1-64 1-56 1 24 1-46 1 141 1-130 1 67 1 1 1-76 1 24 1 25 1-49 1 31 1-4 1 1 1-10 1 7 1 42 1-2 1-31 1-27 1 45 1-37 1 57 1 17 1-87 1 3 1 0 1 10 1 36 1-39 1 74 1 72 1-132 1-10 1 6 1 51 1-75 1 45 1 133 1-161 1-7 1 14 1 9 1-23 1 40 1-33 1-14 1 0 1-2 1-3 1 5 1 2 1 12 1 25 1 40 1-57 1-14 1 7 1 61 1-25 1-42 1 35 1 10 1-37 1 10 1-17 1 41 1-57 1 5 1 15 1-15 1 24 1-17 1-7 1 99 1-104 1 20 1-13 1-2 1 1 1 20 1 91 1-98 1-12 1 17 1-12 1 62 1-54 1 2 1-8 1 0 1 15 1-24 1 15 1-18 1 37 1-39 1 8 1 10 1-15 1 25 1-11 1 3 1-15 1 18 1-8 1-13 1 105 1-33 1-39 1 3 1 13 1-32 1 83 1-63 1-21 1 28 1 2 1 71 1-33 1-56 1 51 1-58 1 63 1-83 1 45 1-45 1 1 1 46 1-33 1 5 1 1 1-4 1-13 1-2 1 0 1 15 1 33 1 16 1-58 1 29 1 49 1 58 1-122 1-7 1-17 1 36 1 5 1-40 1 0 1 13 1 2 1 15 1-23 1 2 1-8 1 4 1 6 1 47 1-57 1 1 1 58 1-55 1 22 1 9 1-34 1 32 1-8 1-15 1 50 1 115 1-166 1-9 1 2 1 23 1 17 1 10 1-18 1-12 1-22 1 0 1 13 1 116 1-131 1 19 1 158 1-151 1 8 1-8 1 7 1 11 1-31 1-2 1 70 1-48 1 7 1 11 1-39 1-11 1 44 1-44 1 12 1 38 1-4 1-41 1 6 1 2 1-13 1 27 1-5 1 16 1 158 1-119 1 78 1-96 1-58 1 2 1-2 1-2 1 0 1 0 1 18 1-13 1 34 1-19 1 37 1-33 1-15 1 18 1-27 1 10 1 8 1-17 1 56 1 0 1 7 1-2 1-40 1 49 1-66 1 10 1-2 1 53 1-50 1 2 1 30 1-12 1-26 1 41 1-23 1-16 1 29 1-33 1 0 1-4 1 33 1-15 1-10 1 0 1-2 1 3 1 0 1-1 1-5 1 25 1 52 1-83 1 4 1 30 1-19 1-14 1 19 1-7 1-11 1 61 1-46 1 9 1 11 1-31 1-1 1-6 1 4 1 6 1 0 1 50 1-59 1 41 1-16 1-23 1 14 1 51 1 21 1-56 1-2 1-24 1 23 1-2 1-10 1 4 1 12 1-6 1-2 1 11 1-34 1 17 1-1 1 64 1-62 1 35 1 1 1-43 1 13 1-12 1-3 1 6 1-4 1-13 1 10 1 40 1-2 1-40 1 27 1-32 1 28 1-16 1-2 1 98 1-88 1 68 1-78 1 8 1-16 1 13 1-12 1 23 1-26 1-3 1 3 1 30 1 59 1-79 1-7 1-5 1 16 1 13 1 10 1-33 1 32 1-26 1 1 1 21 1-14 1-10 1 18 1-28 1 58 1-10 1-20 1-19 1-8 1 27 1-2 1 53 1-74 1 14 1 35 1-30 1 19 1-10 1 21 1-50 1 90 1-72 1-14 1 55 1-38 1 42 1-44 1 97 1-20 1-100 1 2 1 7 1 0 1-7 1 14 1-8 1 31 1 25 1-20 1-35 1 81 1-56 1-28 1 14 1-19 1 9 1 16 1-24 1 1 1 35 1 60 1-97 1 72 1 1 1-55 1 2 1 20 1 22 1-54 1 8 1 17 1-23 1-3 1 28 1 14 1-28 1 30 1-39 1 56 1-64 1 25 1 67 1-92 1 2 1 23 1-10 1 43 1-57 1 135 1-141 1 24 1 95 1-84 1 16 1-7 1-34 1-8 1 1 1 5 1-10 1 7 1-2 1 12 1 18 1-25 1-8 1 47 1 24 1-2 1-60 1 9 1-8 1-2 1 14 1 54 1-70 1 35 1-43 1 2 1 26 1 17 1-19 1 76 1-54 1-33 1 0 1 84 1-56 1-37 1 27 1 0 1 16 1-39 1 3 1 90 1 65 1-118 1-15 1 60 1 31 1-52 1-19 1-16 1 34 1-49 1 15 1-37 1 2 1 3 1 9 1 90 1-98 1 13 1 84 1-56 1-5 1 12 1-48 1 1 1 10 1-9 1-7 1 7 1 46 1-28 1 103 1-118 1-12 1 83 1 51 1-114 1 19 1-26 1 6 1-14 1 31 1-33 1 56 1-26 1 33 1 77 1-115 1-6 1 24 1-23 1 83 1-94 1-1 1-10 1 43 1-40 1 136 1-92 1-36 1-3 1-6 1 33 1-17 1-14 1 22 1 53 1-50 1-3 1 15 1 7 1-47 1-3 1 41 1-35 1 12 1 15 1-13 1-8 1 31 1 47 1-64 1-26 1 7 1 1 1-8 1 28 1-22 1 35 1 3 1-7 1-22 1 25 1-13 1-7 1-10 1 64 1-38 1-24 1 113 1-124 1 0 1 113 1-95 1-16 1 22 1-13 1-7 1-5 1 2 1 17 1-19 1 17 1 24 1 56 1-7 1-77 1-2 1-5 1 6 1 16 1-27 1 6 1 76 1-49 1-19 1 40 1-6 1 31 1-26 1-52 1 0 1 25 1 21 1-31 1 16 1 28 1-2 1-22 1 50 1-75 1 48 1 137 1-172 1-15 1-7 1 37 1-34 1 5 1 6 1 26 1 36 1-38 1-37 1 39 1 13 1-40 1-9 1-3 1 39 1-32 1-8 1 26 1-16 1-5 1 63 1 33 1-76 1-28 1 27 1-16 1-2 1 38 1 41 1-45 1-28 1-5 1 27 1 85 1-15 1-100 1 2 1 12 1-18 1 56 1-23 1 46 1-38 1 77 1-41 1 14 1 18 1-106 1-2 1 48 1-12 1 46 1-79 1 23 1 57 1-86 1 7 1 35 1-18 1 54 1-19 1-29 1-26 1 16 1 124 1-128 1 17 1-32 1 18 1-17 1 18 1 60 1-46 1-4 1-22 1-9 1 2 1 23 1 2 1-14 1 9 1 6 1 138 1-154 1 2 1-6 1 4 1 0 1 6 1 28 1-12 1-14 1-16 1 40 1-18 1 29 1-30 1 33 1-56 1 12 1 9 1-12 1 14 1-21 1 23 1-22 1 22 1-2 1 14 1-22 1 24 1-41 1 27 1 41 1-36 1-22 1 15 1-11 1 8 1-21 1 1 1 9 1-6 1 17 1 14 1-10 1-10 1 15 1-27 1 25 1 66 1-55 1-27 1 2 1-7 1 43 1-20 1 18 1-35 1-6 1 17 1-12 1 53 1-58 1 12 1 37 1 10 1-49 1-8 1 15 1-21 1 13 1 51 1-54 1-3 1 26 1-13 1 19 1 58 1-12 1-74 1-10 1 1 1 13 1-10 1-2 1 13 1-14 1 2 1 86 1 24 1-95 1 8 1 98 1-103 1-26 1 29 1-29 1 36 1-21 1 47 1 20 1-69 1 14 1-22 1 1 1 42 1 31 1-48 1-26 1 60 1 79 1-142 1 0 1 11 1-1 1 21 1-14 1 44 1-56 1 56 1 13 1-18 1-25 1-26 1 16 1-12 1 34 1 26 1-57 1 1 1 16 1 24 1-48 1 2 1 19 1-25 1 29 1 10 1-21 1 14 1 67 1-52 1-29 1 91 1-105 1 1 1-6 1 91 1-93 1 10 1 10 1 140 1-104 1-42 1-10 1 97 1-15 1-32 1 61 1-61 1-41 1-3 1 67 1-77 1 47 1-35 1-11 1 36 1-36 1 7 1 189 1-179 1 26 1 42 1 14 1-92 1-1 1 17 1-3 1-20 1 34 1 4 1-23 1 14 1 94 1-124 1 14 1 0 1 4 1 59 1-5 1-68 1 6 1 18 1-28 1 67 1-30 1 83 1-109 1-8 1-3 1 30 1 82 1-32 1-3 1 43 1-41 1-75 1 35 1-35 1 23 1-21 1 8 1 16 1-16 1 2 1 30 1-34 1 33 1-45 1 71 1-13 1-36 1 12 1 9 1-26 1 19 1 28 1-37 1-17 1 56 1-57 1 18 1-27 1 46 1-38 1-3 1-5 1 1 1 1 1 151 1-95 1 27 1-66 1-15 1 4 1 8 1 0 1 36 1 90 1-138 1 16 1 2 1 31 1 9 1 20 1-26 1-32 1-24 1 5 1-1 1 28 1 7 1 8 1 6 1-45 1 25 1 29 1-58 1 0 1 29 1-13 1 6 1 19 1-42 1 70 1-45 1 0 1 33 1-4 1-44 1 26 1-11 1-23 1 32 1 42 1-15 1-8 1-51 1-2 1-1 1 63 1-21 1-1 1-11 1-6 1 69 1-79 1 7 1 12 1 12 1-15 1-26 1 17 1-20 1-1 1 3 1 64 1-56 1-1 1 50 1-17 1-35 1 46 1-37 1 12 1-24 1 42 1-37 1 0 1-11 1 6 1 11 1-6 1 6 1 109 1-39 1 47 1-1 1-117 1 49 1 104 1-134 1-17 1 6 1 86 1-77 1 16 1-12 1-38 1 10 1-7 1 12 1 25 1-8 1-4 1 0 1-15 1 0 1 4 1 104 1-8 1-97 1-3 1 66 1-14 1 7 1 56 1-71 1-38 1 14 1 26 1-26 1 60 1-79 1 12 1-15 1 21 1-1 1 76 1-84 1-2 1-17 1-3 1-1 1 59 1-54 1 50 1 87 1-136 1 9 1 16 1 48 1-25 1-14 1-21 1-5 1-11 1 0 1 15 1-8 1 16 1-16 1-6 1-4 1 34 1 33 1-65 1 4 1 16 1-14 1-8 1 29 1-25 1 18 1 63 1-63 1 90 1-102 1 1 1 41 1-30 1 12 1-12 1-2 1-12 1 11 1-17 1 9 1 49 1 20 1-6 1-62 1 266 1-265 1 29 1-21 1 1 1-2 1-4 1 28 1-39 1 43 1 5 1 122 1-159 1 31 1 14 1-52 1-7 1 33 1-30 1 3 1 93 1-92 1 27 1-10 1-2 1 24 1-2 1-30 1 13 1-3 1 1 1-22 1 8 1 65 1 22 1-73 1-6 1 5 1 2 1 23 1-19 1 68 1-11 1-66 1 44 1-59 1 14 1 2 1 69 1-57 1-6 1 58 1 1 1-80 1 84 1-41 1-18 1-33 1 15 1 17 1-25 1 9 1-10 1 94 1-65 1 11 1-23 1 61 1-71 1 34 1-3 1 64 1-84 1-19 1 22 1-28 1 18 1-1 1-7 1 71 1-41 1-34 1 3 1 13 1 75 1-74 1-11 1-7 1 2 1 162 1-55 1-74 1-31 1-4 1-4 1 3 1 4 1 6 1 8 1 32 1 43 1-82 1-13 1 74 1-30 1-36 1-6 1 8 1 21 1 26 1-56 1 1 1 20 1-9 1 18 1-3 1 2 1-18 1-3 1 13 1 173 1-160 1 54 1-87 1 0 1 24 1 75 1-101 1 4 1 16 1-5 1 8 1-13 1 8 1-1 1 11 1 20 1-7 1-41 1 195 1-68 1-53 1-73 1 125 1-95 1 17 1-12 1-27 1-11 1 26 1 14 1-22 1-8 1 13 1 8 1-18 1 75 1-12 1-68 1-6 1 30 1-6 1-7 1-17 1 5 1 37 1-4 1 48 1-49 1 0 1 49 1-68 1 20 1-19 1 5 1 6 1-32 1 1 1 13 1 19 1-9 1 10 1-22 1-3 1 15 1-3 1 19 1 90 1-46 1-84 1 33 1 2 1 162 1-172 1-17 1 83 1-57 1-31 1-3 1 20 1-12 1 8 1-9 1 34 1-38 1 130 1-10 1-84 1 71 1-85 1 17 1-27 1 10 1-24 1 26 1 13 1 22 1-59 1 69 1-40 1-23 1 3 1-6 1 25 1 20 1-35 1-10 1 29 1-22 1 85 1-91 1 8 1 148 1-132 1-5 1 51 1-60 1 36 1-40 1-10 1 22 1-16 1 25 1 6 1-34 1 2 1 12 1-9 1 30 1-29 1 4 1 10 1 100 1-104 1 3 1 49 1-21 1-24 1-17 1 8 1 41 1-36 1 60 1-82 1 39 1-22 1-7 1 119 1-102 1-14 1-4 1-6 1 73 1-5 1-13 1-5 1-15 1-36 1-5 1 76 1-65 1 8 1 98 1-104 1 105 1-115 1-2 1-1 1 0 1 15 1-5 1 47 1 23 1 117 1-109 1-68 1-8 1-3 1-5 1 13 1 2 1 4 1 20 1-21 1 7 1 65 1-40 1-28 1 1 1-3 1-9 1 3 1-14 1 18 1 49 1 14 1-74 1 48 1-35 1-12 1 20 1 8 1-25 1 6 1 33 1-39 1 16 1-7 1-15 1 6 1-4 1 6 1 60 1-50 1-10 1 180 1-143 1-52 1 8 1 25 1-34 1 7 1 77 1-55 1-2 1-23 1 35 1-13 1 14 1-4 1 6 1 52 1-94 1 22 1 8 1-14 1-3 1 37 1-12 1-19 1 18 1-18 1 40 1 21 1-72 1-6 1 51 1 11 1 64 1-98 1 6 1-35 1 7 1 27 1-8 1 21 1-9 1 1 1-14 1-24 1 18 1 22 1-28 1 97 1-91 1 42 1-48 1 13 1 28 1-52 1-2 1 52 1-15 1 47 1-49 1 78 1-51 1 57 1-103 1-15 1 8 1-4 1-2 1 38 1-22 1 39 1-9 1 105 1-85 1-33 1-5 1-27 1 49 1-10 1-27 1 116 1-55 1-67 1 17 1-29 1 13 1 9 1 14 1 32 1-54 1-7 1 4 1 12 1 6 1 4 1 103 1-121 1 79 1-8 1-67 1-17 1 21 1-7 1 53 1-44 1 31 1-47 1-5 1 41 1 133 1-85 1-61 1-24 1 7 1 27 1-23 1-11 1 11 1-12 1-5 1 6 1 24 1-31 1 3 1 36 1-32 1 22 1 36 1 30 1-94 1 83 1-77 1 52 1-45 1 35 1-41 1 9 1-14 1 10 1 16 1 3 1 24 1 1 1-17 1 6 1 118 1-103 1-39 1-7 1 29 1-33 1 59 1-56 1 23 1 7 1 36 1-70 1-6 1 3 1 1 1 19 1-4 1 50 1-50 1 5 1 76 1-94 1 31 1-13 1-12 1 6 1 11 1 5 1-26 1 9 1-19 1 23 1-26 1 34 1-27 1 0 1-3 1 2 1 59 1-64 1 8 1 21 1 34 1-45 1 1 1-11 1 12 1 7 1 7 1 0 1-29 1 10 1-10 1 12 1 86 1-82 1-21 1 15 1-3 1 24 1 8 1 2 1-43 1 15 1 28 1-2 1-42 1 1 1 33 1-19 1 36 1-38 1-15 1 16 1 86 1-72 1-15 1 31 1-42 1 50 1-47 1 33 1-4 1-22 1-1 1-10 1 5 1 3 1 19 1-25 1-3 1 168 1-150 1-21 1 23 1 8 1 9 1-33 1 11 1 40 1-1 1 7 1-1 1-28 1 56 1-28 1-34 1-27 1 7 1 3 1 16 1-9 1-9 1 28 1 16 1-50 1 31 1 2 1-19 1-9 1 0 1 5 1 74 1-11 1-75 1 15 1 9 1-8 1-2 1 22 1-22 1-7 1 62 1-63 1 11 1 93 1 85 1-85 1 34 1-130 1-13 1 0 1 10 1-12 1 12 1-3 1 2 1 5 1-8 1-2 1-5 1-2 1 10 1 76 1-46 1 109 1-106 1-12 1 15 1-20 1 16 1-27 1-6 1-4 1 8 1-11 1 12 1-12 1 42 1-31 1 8 1 52 1-69 1 49 1 99 1-100 1-7 1-28 1-14 1 38 1 4 1 31 1 267 1-334 1 61 1-54 1 34 1-27 1-13 1-10 1 61 1-6 1 27 1-77 1 30 1-25 1 41 1-23 1-20 1 6 1-6 1 45 1 53 1-73 1 27 1-47 1 80 1-34 1 7 1-7 1-52 1-7 1 42 1-26 1 12 1-28 1 21 1 32 1-11 1-27 1-7 1 2 1 26 1 74 1-79 1 81 1-99 1-1 1-5 1-5 1 7 1 43 1-40 1 34 1-35 1 43 1-18 1 7 1-35 1 14 1 35 1-34 1 58 1-60 1-15 1 12 1 23 1-23 1 5 1-23 1 19 1 44 1 14 1-49 1-26 1 6 1 63 1-30 1-39 1 4 1 10 1-3 1 13 1 50 1-69 1-4 1 16 1-7 1-9 1 49 1-39 1 110 1-39 1-58 1 24 1-22 1-8 1-16 1 44 1-39 1 83 1 97 1-161 1-24 1 46 1-27 1-10 1 23 1-21 1 29 1-35 1 45 1 11 1 132 1-127 1-15 1-54 1 18 1 6 1 18 1-25 1-4 1-3 1 26 1-14 1-17 1-5 1 98 1-83 1 16 1-1 1-21 1 9 1-5 1 5 1-1 1-18 1 78 1-54 1-5 1 47 1-32 1 13 1-32 1 75 1-81 1-2 1 36 1-32 1 1 1 24 1-18 1-1 1 1 1 275 1-280 1 135 1-112 1-20 1 20 1-8 1-11 1-7 1-4 1 7 1-6 1-6 1 5 1 24 1-3 1-22 1-3 1 92 1-63 1 13 1 110 1-139 1-10 1 4 1 30 1 9 1 37 1-81 1 65 1-67 1 8 1 14 1 48 1-47 1-5 1 7 1 1 1-8 1-11 1 53 1-60 1 15 1-6 1-11 1 23 1 1 1-14 1-3 1 40 1-32 1 29 1-25 1-15 1 6 1 62 1-62 1-8 1-1 1 7 1 3 1-3 1 24 1-17 1-3 1-5 1 3 1 33 1 13 1-28 1-27 1 1 1 54 1-11 1-34 1 116 1-111 1 39 1-49 1-1 1 4 1-1 1 1 1-5 1 17 1-19 1 1 1 6 1 10 1-16 1 51 1-3 1-41 1 12 1 40 1-49 1-13 1 0 1 62 1 64 1-114 1 24 1-20 1 24 1-30 1 26 1-12 1 20 1-20 1 4 1-26 1 41 1-19 1 21 1-19 1-19 1 76 1-72 1 16 1-22 1 3 1 11 1-14"/>
</g>
<rect class="ax" x="103.9" y="103.9" width="290.9" height="86.85"/>
<path class="ax" d="M114.62,190.75H384.03M114.62,190.75v12.67M168.5,190.75v12.67M222.38,190.75v12.67M276.26,190.75v12.67M330.14,190.75v12.67M384.03,190.75v12.67M103.9,115V173M103.9,115h-12.67M103.9,134.3h-12.67M103.9,153.7h-12.67M103.9,173h-12.67"/>
<g transform="translate(114.62,237.1)"><text>0</text></g>
<g transform="translate(168.5,237.1)"><text><tspan class="h">1</tspan>000</text><path d="M763 0H583V1147Q518 1085 412.5 1023T223 930V1104Q374 1175 487 1276T647 1472H763Z" transform="translate(-23.49,0) scale(0.010313,-0.010313)"/></g>
<g transform="translate(276.26,237.1)"><text>3000</text></g>
<g transform="translate(384.03,237.1)"><text>5000</text></g>
<text x="249.35" y="288">Iterations 523</text>
<g transform="translate(73.1,173.8) rotate(-90)"><text>-<tspan class="h">1</tspan>.60</text><path d="M763 0H583V1147Q518 1085 412.5 1023T223 930V1104Q374 1175 487 1276T647 1472H763Z" transform="translate(-17.03,0) scale(0.010313,-0.010313)"/></g>
<text transform="translate(22.8,148.6) rotate(-90)">alpha</text>
</g>
</svg>
</body></html>
